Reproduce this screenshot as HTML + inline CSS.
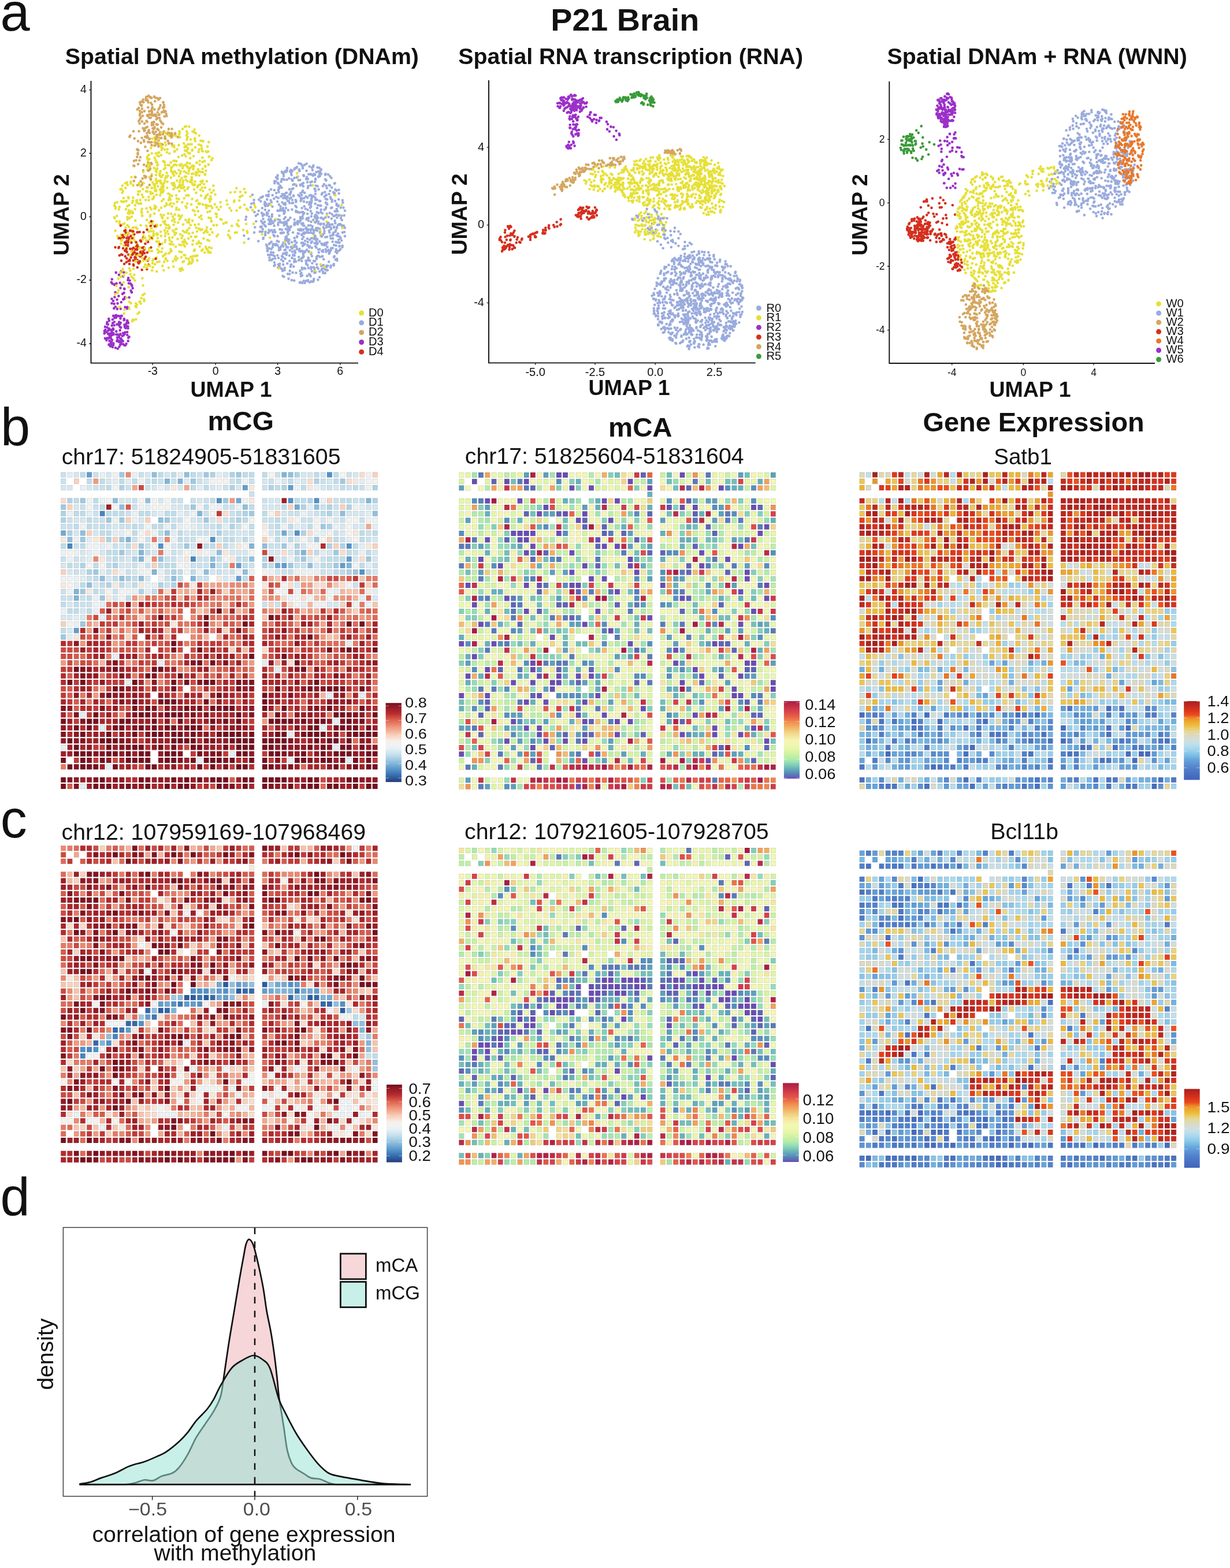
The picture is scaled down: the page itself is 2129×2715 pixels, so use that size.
<!DOCTYPE html>
<html><head><meta charset="utf-8"><title>P21 Brain</title><style>html,body{margin:0;padding:0;background:#fff;}body{width:2129px;height:2715px;overflow:hidden;}svg{display:block;}</style></head><body>
<svg width="2129" height="2715" viewBox="0 0 2129 2715" font-family="'Liberation Sans', Arial, Helvetica, sans-serif">
<rect width="100%" height="100%" fill="#fff"/>
<text x="0.5" y="52.7" font-size="92" text-anchor="start" fill="#111">a</text>
<text x="1.0" y="771" font-size="92" text-anchor="start" fill="#111">b</text>
<text x="0.8" y="1450" font-size="92" text-anchor="start" fill="#111">c</text>
<text x="0.4" y="2104" font-size="92" text-anchor="start" fill="#111">d</text>
<text transform="translate(1081.7 53) scale(1.022 1)" font-size="54.5" font-weight="bold" text-anchor="middle" fill="#111">P21 Brain</text>
<text x="418.9" y="111" font-size="39.3" font-weight="bold" text-anchor="middle" fill="#111">Spatial DNA methylation (DNAm)</text>
<text x="1091.7" y="111" font-size="39.3" font-weight="bold" text-anchor="middle" fill="#111">Spatial RNA transcription (RNA)</text>
<text x="1795.2" y="111" font-size="39.3" font-weight="bold" text-anchor="middle" fill="#111">Spatial DNAm + RNA (WNN)</text>
<text transform="translate(416.8 744.9) scale(1.045 1)" font-size="46" font-weight="bold" text-anchor="middle" fill="#111">mCG</text>
<text transform="translate(1108.3 756.3) scale(1.03 1)" font-size="46" font-weight="bold" text-anchor="middle" fill="#111">mCA</text>
<text transform="translate(1789.1 747.1) scale(1.02 1)" font-size="46" font-weight="bold" text-anchor="middle" fill="#111">Gene Expression</text>
<text x="348.1" y="803.6" font-size="39.3" text-anchor="middle" fill="#111">chr17: 51824905-51831605</text>
<text x="1046.2" y="803.4" font-size="39.3" text-anchor="middle" fill="#111">chr17: 51825604-51831604</text>
<text x="1770.6" y="803.8" font-size="38.5" text-anchor="middle" fill="#111">Satb1</text>
<text x="369.8" y="1453.5" font-size="39.3" text-anchor="middle" fill="#111">chr12: 107959169-107968469</text>
<text x="1067.4" y="1452.6" font-size="39.3" text-anchor="middle" fill="#111">chr12: 107921605-107928705</text>
<text x="1773.1" y="1453" font-size="39.5" text-anchor="middle" fill="#111">Bcl11b</text>
<g transform="translate(105.20,817.40) scale(0.28100)">
<path stroke="#4685bf" stroke-width="32" fill="none" d="M240 256h32M40 456h32M800 536h32"/>
<path stroke="#5291c7" stroke-width="32" fill="none" d="M1640 16h32M960 176h32m408 0h32m128 0h32M1440 376h32M920 416h32M600 456h32m1128 0h32M1840 616h32"/>
<path stroke="#629dcd" stroke-width="32" fill="none" d="M160 16h32M1120 96h32m248 0h32M1760 536h32M1080 576h32m248 0h32m328 0h32M1080 656h32M80 976h32"/>
<path stroke="#71a9d2" stroke-width="32" fill="none" d="M1080 176h32M1440 216h32M0 376h32m1328 0h32M1320 576h32"/>
<path stroke="#80b5d8" stroke-width="32" fill="none" d="M1360 16h32M640 56h32m48 0h32M1880 176h32M840 256h32M400 416h32M1160 456h32M480 496h32m968 0h32M480 536h32M920 576h32m808 0h32M560 616h32M800 656h32M80 736h32M80 776h32"/>
<path stroke="#90bfdd" stroke-width="32" fill="none" d="M560 16h32m168 0h32m608 0h32M320 176h32m168 0h32M360 216h32m728 0h32m408 0h32M1720 256h32m168 0h32M600 296h32M120 376h32m488 0h32M40 416h32M1240 456h32M960 496h32M600 536h32m288 0h32m208 0h32M1520 576h32M880 616h32m208 0h32M240 656h32m88 0h32m88 0h32m168 0h32M160 696h32"/>
<path stroke="#9fc9e1" stroke-width="32" fill="none" d="M360 16h32m488 0h32m168 0h32M800 56h32m888 0h32M120 176h32m848 0h32M0 216h32m768 0h32M1160 256h32M280 296h32m48 0h32m248 0h32m208 0h32M1600 336h32M120 416h32m208 0h32m1168 0h32M480 456h32m248 0h32m568 0h32M360 496h32m1288 0h32M1480 536h32m368 0h32M1400 576h32m248 0h32M200 616h32m1568 0h32M120 736h32M240 776h32M120 936h32M0 1016h32"/>
<path stroke="#afd3e6" stroke-width="32" fill="none" d="M920 16h32m88 0h32m368 0h32M1560 56h32M360 96h32m648 0h32m208 0h32m48 0h32m528 0h32M40 176h32m1448 0h32m368 0h32M1480 216h32m128 0h32m88 0h32M0 256h32m1088 0h32m488 0h32M0 296h32m1048 0h32M1040 336h32m568 0h32M40 376h32m888 0h32m488 0h32M280 416h32M1440 456h32m168 0h32m48 0h32M1440 496h32M440 536h32m768 0h32M120 576h32m168 0h32m888 0h32M160 616h32m488 0h32m1048 0h32M400 656h32M280 696h32m288 0h32m48 0h32M480 736h32"/>
<path stroke="#beddea" stroke-width="32" fill="none" d="M120 16h32m448 0h32m48 0h32m88 0h32m288 0h72m48 0h32m288 0h32m88 0h32M160 56h32m48 0h32m88 0h32m48 0h32m88 0h32m488 0h32m288 0h32m248 0h32M280 96h32m488 0h32m48 0h32m408 0h32m128 0h32m208 0h32m48 0h32M80 176h32m88 0h32m688 0h32m488 0h72m208 0h72m48 0h32M240 216h32m608 0h32m248 0h32m168 0h32M80 256h72m128 0h112m88 0h72m88 0h72m368 0h32m128 0h32m328 0h32M160 296h32m848 0h32m48 0h32m168 0h32M80 336h32m48 0h32m48 0h32m168 0h32m88 0h72m48 0h32m248 0h32m168 0h32m128 0h32m48 0h32m88 0h32M240 376h72m128 0h32m128 0h32m88 0h32m568 0h32m488 0h32m48 0h32M720 416h32m248 0h72m48 0h32m168 0h32m48 0h32m248 0h32m128 0h32M0 456h32m88 0h32m248 0h32m448 0h72m48 0h32m768 0h32M280 496h72m168 0h32m1008 0h32m168 0h32m88 0h32M320 536h32m608 0h32m88 0h72m288 0h32m168 0h112M40 576h32m128 0h32m48 0h32m288 0h112m288 0h32m88 0h32m128 0h32m288 0h72m168 0h32M720 616h32m48 0h32m848 0h72m128 0h32M200 656h32m88 0h32m88 0h32m248 0h32m368 0h32M120 696h32m88 0h32m88 0h32m48 0h32M200 736h32m328 0h32M160 776h32m208 0h32M0 816h32m48 0h32M40 856h72m48 0h32M0 976h32"/>
<path stroke="#cae2ee" stroke-width="32" fill="none" d="M0 16h32m168 0h32m248 0h32m328 0h32m448 0h32m408 0h32M0 56h32m488 0h32m48 0h32m48 0h32m128 0h32m168 0h32m88 0h32m88 0h32m288 0h32M200 96h72m128 0h32m88 0h32m448 0h32m208 0h32m368 0h32m88 0h32m48 0h32M1160 136h32M440 176h32m208 0h72m48 0h32m48 0h32m328 0h32m408 0h32m88 0h32M120 216h32m48 0h32m208 0h32m288 0h32m208 0h72m528 0h32m48 0h32M200 256h32m168 0h32m448 0h32m128 0h32m328 0h72m88 0h32M40 296h32m128 0h72m408 0h72m88 0h32m128 0h32m208 0h72m48 0h32m88 0h72m168 0h32m88 0h32M0 336h72m128 0h32m48 0h32m48 0h72m48 0h32m368 0h72m128 0h32m168 0h32M800 376h112m88 0h72m88 0h32m208 0h32m248 0h32m168 0h32M440 416h32m48 0h32m48 0h32m128 0h72m888 0h32m128 0h32M80 456h32m208 0h32m168 0h32m168 0h32m528 0h72M400 496h32m248 0h32m1088 0h32M0 536h32m48 0h32m168 0h32m48 0h32m248 0h72m128 0h72m448 0h32m208 0h32M80 576h32m328 0h32m48 0h32m248 0h112m48 0h32m168 0h32m248 0h72m408 0h32M80 616h32m168 0h32m88 0h32m208 0h32m288 0h32m48 0h32m288 0h72m168 0h32M160 656h32m448 0h32m168 0h72M640 696h32m1128 0h32M0 736h32m208 0h32m48 0h32M0 776h72m48 0h32M120 816h72m1048 0h32m48 0h32"/>
<path stroke="#d5e8f1" stroke-width="32" fill="none" d="M80 16h32m168 0h32m208 0h32m88 0h32m328 0h32m448 0h72m48 0h32m168 0h32M280 56h32m568 0h32m328 0h32m88 0h32m88 0h32m128 0h32M0 96h72m88 0h32m368 0h32m48 0h32m48 0h32m168 0h32m128 0h32m488 0h32m48 0h32M360 176h72m168 0h32m208 0h32m408 0h72M80 216h32m568 0h72m488 0h112m528 0h72M560 256h32m168 0h32m568 0h32m128 0h32m128 0h32m48 0h112M80 296h72m328 0h32m288 0h32m88 0h32m648 0h32m48 0h32M320 336h32m488 0h32m608 0h32m208 0h32m48 0h72M80 376h32m88 0h32m528 0h32m128 0h32m128 0h72m128 0h32m408 0h32M960 416h32m88 0h32m48 0h32m248 0h32m48 0h32m368 0h32M360 456h32m288 0h32m88 0h32m208 0h32m408 0h32M120 496h32m88 0h32m168 0h32m88 0h32m128 0h32m288 0h112m128 0h72m48 0h32m208 0h32m248 0h32M120 536h32m248 0h32m888 0h32m168 0h32m248 0h32m88 0h32M0 576h32m328 0h72m1128 0h32M40 616h32m48 0h32m288 0h32m448 0h32m48 0h32m288 0h32m288 0h32m248 0h32M280 656h32m208 0h32m448 0h32M200 696h32m168 0h32m1008 0h32M320 776h32m1568 0h32M40 816h32m1568 0h72M120 856h32M0 896h72m48 0h32M40 976h32"/>
<path stroke="#e1eef4" stroke-width="32" fill="none" d="M40 16h32m648 0h32m208 0h32M320 56h32m48 0h32m328 0h32m648 0h32m368 0h32M840 96h32m88 0h32M520 216h32m968 0h32m288 0h32M160 256h32m408 0h32m88 0h32m1128 0h32M720 336h32m48 0h32m168 0h32m408 0h32m448 0h32M320 376h72m288 0h32m888 0h32M160 416h32m1168 0h32m368 0h32M240 456h32m1568 0h32M160 496h32m608 0h32m88 0h32m648 0h32M160 536h32m528 0h32M1880 576h32M240 616h32M120 656h32m888 0h32M80 696h32M520 736h32m1128 0h32m208 0h32M1840 776h32M240 816h32m1208 0h32M80 896h32m128 0h32M40 1016h32M1760 1056h32M320 1136h32M600 1176h32m608 0h32M1320 1216h32M400 1296h32M1640 1376h32m168 0h32M120 1496h32M1680 1536h32M240 1576h32m1328 0h32M1400 1616h32M0 1696h32m1648 0h32M1040 1736h32M840 1776h32m528 0h32m328 0h32M280 1816h32M120 1936h32"/>
<path stroke="#e9f1f4" stroke-width="32" fill="none" d="M240 16h32m168 0h32M120 96h32m448 0h32m808 0h32m88 0h32M240 176h32m1328 0h32M960 216h32m88 0h32M40 256h32m368 0h32m1008 0h32M320 296h32m88 0h32M640 336h32m688 0h32m288 0h32M80 416h32m568 0h32m168 0h32M0 496h32m48 0h32m528 0h32m1168 0h32M40 536h32M480 576h32m248 0h32M600 616h32m528 0h32m288 0h32m48 0h32M80 656h32M520 696h72M440 736h32m968 0h32M200 776h32m1168 0h32M1880 816h32M0 856h32m168 0h32M80 936h32"/>
<path stroke="#eef2f3" stroke-width="32" fill="none" d="M320 16h32m1528 0h32M480 56h32m608 0h32m168 0h32M1880 96h32M160 176h32m368 0h32m528 0h32M480 216h32m1288 0h32M800 256h32M1160 296h32m448 0h32m208 0h72M120 336h32m368 0h32m208 0h32M560 376h32m968 0h32m48 0h32M160 456h72m48 0h32m248 0h32m808 0h32M200 496h32m648 0h32M520 536h32m848 0h32M360 616h32m88 0h32m328 0h32m408 0h32m128 0h32m48 0h32M0 656h72m528 0h32M40 736h32m328 0h32m928 0h32m248 0h32M1520 776h32M200 816h32m1328 0h72m168 0h32"/>
<path stroke="#f3f3f1" stroke-width="32" fill="none" d="M920 56h32m928 0h72M320 96h32M280 176h32m168 0h32m128 0h32M160 216h32m128 0h32m208 0h112m168 0h32m48 0h32M920 256h32m328 0h32M1560 296h32m168 0h72M1120 336h32m408 0h32m168 0h32M480 376h32M480 416h32m328 0h32m408 0h32m488 0h32M640 456h32m448 0h32m368 0h72M40 496h32m1088 0h32M1000 536h32m528 0h32M1800 576h32M520 616h32m208 0h32m288 0h32m128 0h32M40 696h32m1288 0h32m368 0h32M280 736h32m48 0h32m928 0h32M360 776h32m1048 0h32m168 0h32M1440 816h32M40 936h32"/>
<path stroke="#f7f3ee" stroke-width="32" fill="none" d="M1280 16h32m408 0h32M960 56h72M760 296h32m648 0h32M400 376h32m808 0h32m488 0h32M1480 416h32m88 0h32M760 496h32M160 576h32m48 0h32m448 0h32"/>
<path stroke="#f7e8dd" stroke-width="32" fill="none" d="M1800 56h32M680 96h32m448 0h32m328 0h32M1160 176h32M1400 296h32M1240 336h32M1800 376h32M0 416h32m168 0h32M1080 456h32m768 0h32M840 496h32m128 0h32M240 536h32m488 0h32m248 0h32M960 656h32M0 696h32m288 0h32m128 0h32m288 0h32m408 0h32M160 736h32m1688 0h32M280 776h32M680 936h32M80 1016h32"/>
<path stroke="#f8ddcd" stroke-width="32" fill="none" d="M1840 16h32M1520 56h32m208 0h32M0 176h32M1000 256h32M960 296h32M520 376h32m968 0h32M440 456h32M1360 496h32m328 0h32M1840 536h32M320 616h32M1400 696h32m128 0h72m88 0h32M640 736h32M1360 776h32m88 0h32M1400 816h32M1240 1096h32M1400 1176h32"/>
<path stroke="#f8d1bc" stroke-width="32" fill="none" d="M1920 16h32M80 56h32M1640 176h32M40 216h32m1328 0h32m288 0h32M1320 256h32M400 296h32m88 0h32M160 376h32M240 416h32m48 0h32m888 0h32m368 0h32M960 456h32m688 0h32m208 0h32M1520 496h32M560 576h32M0 616h32M1880 696h32M1000 736h32M1280 816h32m408 0h32M1800 856h32M480 896h32M0 936h32M1000 976h32M400 1016h32M1040 1096h32"/>
<path stroke="#f7c4ac" stroke-width="32" fill="none" d="M1320 656h32m128 0h72m288 0h32M1680 696h32M800 736h32m728 0h32m168 0h72M480 776h32M1000 816h32m888 0h32M840 856h32M1240 896h32M1640 1016h32"/>
<path stroke="#f4b69d" stroke-width="32" fill="none" d="M720 736h32m488 0h32m448 0h32M720 776h32m368 0h32m408 0h32m208 0h32M1520 816h32M1080 856h32m368 0h32m48 0h32M200 936h32M320 976h32m288 0h32M880 1016h32m768 0h32M1120 1096h32M240 1176h32M880 1376h32m688 0h32"/>
<path stroke="#f2a78e" stroke-width="32" fill="none" d="M440 96h32m288 0h32M1880 336h32M1280 656h32M920 696h32m48 0h32m128 0h32M760 736h32m288 0h72M1240 776h32m328 0h32M440 816h32M320 856h32m168 0h32m328 0h32m408 0h32m408 0h32M1440 896h32M960 936h32m608 0h32M400 976h32m328 0h32M640 1016h32m288 0h32M720 1136h32M1320 1176h32"/>
<path stroke="#f0997f" stroke-width="32" fill="none" d="M200 56h32M1040 176h32M1400 656h32m168 0h32M880 696h32m48 0h32m488 0h72M440 776h32m328 0h32m488 0h32m368 0h32M1160 816h32M440 856h32m168 0h72m288 0h32m88 0h32m128 0h32m208 0h32m88 0h32M1840 896h32M160 936h32m1248 0h32m208 0h32M160 976h32m608 0h32m328 0h32m368 0h32M1600 1016h32M120 1056h32m168 0h32M1600 1136h32M0 1176h32m368 0h32m728 0h32M240 1336h32M200 1376h32M1280 1496h32M1240 1536h32"/>
<path stroke="#ea8971" stroke-width="32" fill="none" d="M400 16h32M640 416h32M200 536h32m328 0h32M1040 696h72m528 0h32M1520 736h32M600 776h32m328 0h32m288 0h32m368 0h32m48 0h32M880 816h32M560 856h32M800 896h32m888 0h32m128 0h32M360 936h32m528 0h32M1840 976h32M240 1016h32m528 0h32M360 1056h32M1440 1096h32M1920 1136h32M720 1216h72m128 0h32m568 0h32m168 0h32M840 1256h32m128 0h32m128 0h32M520 1296h32m48 0h32M1920 1336h32M1760 1376h32M360 1496h32M1920 1656h32"/>
<path stroke="#e57a64" stroke-width="32" fill="none" d="M560 416h32M600 496h32M1040 576h32M1560 656h32m128 0h32m128 0h72M760 696h32m328 0h32M880 736h32m48 0h32m48 0h32m88 0h32M560 776h32m328 0h32m48 0h72M920 816h32m408 0h32m448 0h32M1240 856h32M160 896h32m128 0h32m48 0h72m48 0h32m168 0h32m208 0h32m768 0h32M760 936h32m288 0h32m168 0h32m568 0h32M240 976h32m168 0h32m448 0h32m528 0h32m168 0h32M320 1016h32m488 0h32M480 1056h32m248 0h32m288 0h32m608 0h32m48 0h32M320 1096h32m128 0h32M280 1136h32m168 0h32m168 0h32m528 0h32m368 0h32M80 1176h32m328 0h32m208 0h32m408 0h32M1160 1216h32m448 0h32M240 1256h32m168 0h32m608 0h32m248 0h32m408 0h32M840 1336h32M120 1376h32m568 0h32M160 1416h32M1400 1496h32m208 0h32M0 1816h32"/>
<path stroke="#e06a57" stroke-width="32" fill="none" d="M1440 656h32M1920 696h32M600 736h32m848 0h32m88 0h32m208 0h32M520 776h32m528 0h32m48 0h32m688 0h32M280 816h32m48 0h32m448 0h32m88 0h32m48 0h32M360 856h32m408 0h32m608 0h32m368 0h32m48 0h32M920 896h32m88 0h32m728 0h32m88 0h32M400 936h32m288 0h32m488 0h32m448 0h32m48 0h32M360 976h32m448 0h32m728 0h32m128 0h32M560 1016h32m448 0h32m328 0h32m488 0h32M800 1056h32m168 0h32m328 0h32m128 0h32m48 0h112M120 1136h32m928 0h32m448 0h32m128 0h32m128 0h32M200 1176h32m408 0h32m208 0h32m848 0h32M520 1216h32m528 0h32M600 1256h32m288 0h32m568 0h32m368 0h32M1920 1296h32M200 1336h32M280 1416h32m608 0h32m528 0h32M1320 1456h32m448 0h32M680 1536h32M880 1576h32M1800 1656h32M1480 1816h32M1600 1936h32"/>
<path stroke="#d75a4b" stroke-width="32" fill="none" d="M400 216h32M1160 656h32m568 0h32M1320 696h32M1280 736h32M640 776h32M640 816h32m448 0h32M240 856h32m208 0h32m88 0h32m88 0h32m968 0h32m128 0h32M280 896h32m328 0h32m328 0h32m488 0h32m48 0h32m48 0h32M520 936h32m48 0h32m168 0h32m208 0h32m328 0h32m128 0h32M1520 976h32M160 1016h32m168 0h32m48 0h32m608 0h32m728 0h32M520 1056h32m48 0h32m408 0h32m248 0h32m48 0h32m448 0h32M400 1096h32m208 0h32m888 0h32m88 0h32M80 1136h32m688 0h32M720 1176h32m808 0h72M960 1216h72m88 0h32m128 0h32M40 1256h32m1208 0h32M640 1296h32m808 0h32m248 0h32M40 1336h32m448 0h32m248 0h32m88 0h32m328 0h32M40 1376h32m1808 0h32M80 1416h32m728 0h32m208 0h32m728 0h32m48 0h32M80 1456h32m488 0h32m848 0h32m248 0h32M40 1496h32M1280 1576h32M1040 1896h32M40 1936h32"/>
<path stroke="#cc4a41" stroke-width="32" fill="none" d="M480 96h32M1240 496h32M1240 656h32m368 0h72M720 696h32m528 0h32M1400 736h32M760 776h32M320 816h32m248 0h32m168 0h32M400 856h32M200 896h32m328 0h32m248 0h32m208 0h32m248 0h32m168 0h32M280 936h32m128 0h32m168 0h32m328 0h32M680 976h32m328 0h32m48 0h32m88 0h32m48 0h32m48 0h32m448 0h32M120 1016h32m1088 0h32m288 0h32m208 0h32M640 1056h32m208 0h32M0 1096h112m248 0h32m48 0h32m248 0h32m48 0h32m48 0h32m48 0h32m288 0h32m288 0h32M0 1136h72m568 0h32m248 0h32m328 0h32m368 0h32m48 0h32M40 1176h32m48 0h72m328 0h32m488 0h32m408 0h32m288 0h32M480 1216h32m288 0h32m528 0h32m488 0h32M1440 1256h32m168 0h32m168 0h32M720 1296h32m48 0h32m128 0h32m408 0h32m168 0h32m208 0h32M0 1336h32m568 0h32m88 0h32m608 0h32m408 0h32M560 1416h32m968 0h32M360 1456h72M320 1496h32M1720 1616h32M760 1696h32M320 1776h32M480 1816h32M1600 1896h32M920 1936h32"/>
<path stroke="#c13937" stroke-width="32" fill="none" d="M960 256h32M1800 656h32M840 696h32m968 0h32M680 736h32M680 776h32m168 0h32M560 816h32m128 0h72m968 0h32M920 856h32m208 0h32m208 0h32m168 0h32M680 896h32m448 0h32m288 0h32M240 936h32m48 0h32m208 0h32m248 0h32m448 0h72M280 976h32m208 0h32m168 0h32m688 0h32m248 0h32M200 1016h32m1048 0h32m408 0h32M40 1056h32m208 0h32m88 0h72m88 0h32m128 0h32m168 0h72m288 0h32m168 0h32m48 0h32M160 1096h32m88 0h32m288 0h32m448 0h32m48 0h32m168 0h72m48 0h72m288 0h32M160 1136h32m328 0h32m288 0h32m248 0h32m248 0h32m88 0h32M360 1176h32m88 0h32m48 0h32m368 0h32m728 0h32M0 1216h72m1528 0h32m48 0h32m208 0h32M280 1256h72m128 0h32m128 0h72m48 0h32m88 0h32m48 0h32m488 0h32m248 0h32M80 1296h32m88 0h32m48 0h112m648 0h32m568 0h32m48 0h32M280 1336h32m328 0h32m288 0h32m48 0h32m168 0h32M0 1376h32m648 0h32m368 0h32m48 0h32m328 0h32M40 1416h32m168 0h32m728 0h32m128 0h32m168 0h32m48 0h32m128 0h32M200 1456h32m648 0h32m488 0h32M160 1496h32m48 0h32m1608 0h32M80 1536h32m488 0h32m128 0h32m368 0h32m688 0h32M960 1576h32m408 0h32m48 0h32m128 0h32m168 0h32M320 1616h32m128 0h32M480 1656h32M200 1696h72m1528 0h32M800 1736h32m168 0h32m208 0h32m248 0h32M80 1776h32m88 0h32m1048 0h32m48 0h32m528 0h32M440 1816h32m328 0h32m48 0h32m128 0h32m528 0h32m88 0h32M840 1936h32m568 0h32m368 0h32"/>
<path stroke="#b52a2e" stroke-width="32" fill="none" d="M1600 456h32M1360 656h32M840 776h32M520 816h32m128 0h32m368 0h32M1680 856h32M360 896h32m728 0h32M120 976h32m808 0h32m808 0h32M600 1016h32m48 0h32m288 0h32m128 0h32m168 0h32m48 0h32M0 1056h32m208 0h32m568 0h32m248 0h72M240 1096h32m728 0h32m288 0h32m528 0h32M560 1136h32m168 0h32m208 0h32m288 0h32M1520 1176h32m88 0h32m168 0h32M400 1216h72m568 0h32m168 0h32m528 0h72M0 1256h32m1088 0h32m448 0h32M0 1296h32m128 0h32m1488 0h32m88 0h32M80 1336h32m768 0h32m528 0h32m288 0h32M800 1376h32m528 0h32m48 0h72m408 0h32M760 1416h32m1008 0h32m48 0h32M120 1456h72m88 0h32m168 0h32m568 0h32m808 0h32M920 1496h32m168 0h32m208 0h32M280 1536h32m528 0h32m248 0h32M120 1576h32m128 0h32m848 0h32M40 1616h32m848 0h32M840 1656h32m608 0h32m208 0h32M520 1696h32m88 0h32m48 0h32m288 0h32M1080 1776h32m728 0h32M600 1816h32m88 0h32m208 0h32m168 0h32M400 1896h72m1168 0h32M880 1936h32m168 0h32"/>
<path stroke="#a9242b" stroke-width="32" fill="none" d="M840 736h32M1040 856h32M1160 936h32m328 0h32m88 0h32m248 0h32M560 976h72m648 0h32m608 0h32M1480 1016h32M160 1056h72m1008 0h32m648 0h32M200 1096h32m288 0h32M200 1136h32m168 0h32m168 0h32m848 0h32m328 0h32M280 1176h32m448 0h32M200 1216h32m408 0h32m168 0h32m528 0h32M80 1256h32m288 0h32m368 0h32m208 0h32m328 0h32m128 0h32m128 0h32M480 1296h32m488 0h32m208 0h112m168 0h32m328 0h32M160 1336h32m288 0h32m488 0h32m848 0h32M160 1376h32m208 0h32m48 0h72m88 0h32m168 0h32m168 0h32m728 0h32M0 1416h32m88 0h32m48 0h32m88 0h32m48 0h32m88 0h32m248 0h32m208 0h32m48 0h32m248 0h32m88 0h32M1440 1456h32m128 0h32m48 0h32m168 0h32M0 1496h32m368 0h32m408 0h32m88 0h112m168 0h32m288 0h72M240 1536h32m768 0h32m848 0h32M40 1576h32m128 0h32m168 0h32m808 0h32M160 1616h32m48 0h32m128 0h32m808 0h32m168 0h32m168 0h32M440 1656h32M120 1696h32m808 0h32M360 1776h32m728 0h32M360 1816h32m1128 0h72M280 1896h32m1368 0h72M560 1936h72m48 0h32m448 0h32"/>
<path stroke="#9d1f28" stroke-width="32" fill="none" d="M1360 176h32M280 216h32M920 736h32M480 816h32M280 856h32m1048 0h32M1320 896h32m48 0h32m208 0h32M480 936h32m968 0h32M480 976h32m368 0h32m728 0h32M520 1016h32m568 0h32m608 0h32m88 0h32M1840 1056h32M120 1096h32m768 0h32m848 0h32M240 1136h32m88 0h32m48 0h32m568 0h32m368 0h32m328 0h32M1080 1176h32m248 0h32m288 0h32m168 0h32M240 1216h72m48 0h32m288 0h32m168 0h32m848 0h32M1240 1256h32m48 0h32m528 0h32M1360 1296h32M120 1336h32m248 0h72m88 0h32m528 0h32m248 0h32M920 1376h32m48 0h32m248 0h72m208 0h32m88 0h32M480 1416h32m208 0h32m208 0h32m288 0h32m408 0h32M680 1456h72m368 0h32m128 0h32m408 0h32M280 1496h32m248 0h32m168 0h32m688 0h32M40 1536h32m248 0h32m88 0h112m328 0h32m48 0h32m448 0h32m48 0h32M600 1576h32m88 0h32m248 0h32m288 0h72m528 0h32M200 1616h32m408 0h32m88 0h32m328 0h32m128 0h32M160 1656h72m288 0h32m48 0h72m288 0h32m448 0h32m48 0h32m48 0h32M40 1696h32m248 0h32m528 0h72m608 0h32M0 1736h72m368 0h32m1168 0h32M760 1776h32m768 0h32m88 0h32M240 1816h32m128 0h32m208 0h32m88 0h32m648 0h32m368 0h32M120 1896h32m408 0h32m48 0h32m128 0h32m48 0h32m168 0h32m288 0h32m48 0h32M160 1936h32m128 0h32m1008 0h32m328 0h72"/>
<path stroke="#911925" stroke-width="32" fill="none" d="M840 456h32M1280 536h32M400 816h32M1360 976h32M280 1016h32m1008 0h32M80 1056h32m1328 0h32M1720 1096h32M880 1136h32m48 0h32M1280 1176h32m608 0h32M160 1216h32m1248 0h32m88 0h32M160 1256h72M240 1296h32m288 0h32m528 0h32m288 0h32M1160 1336h32m288 0h32m48 0h32M80 1376h32m128 0h32m48 0h32m88 0h32m128 0h32m128 0h32m328 0h32m568 0h32M1320 1416h32m288 0h72m48 0h32M40 1456h32m248 0h32m288 0h32m128 0h32m328 0h32m328 0h32M600 1496h32m808 0h32m48 0h32m288 0h32M640 1536h32m968 0h32m128 0h32M0 1576h32m488 0h32m368 0h32m88 0h112M80 1616h32m248 0h32m448 0h72M0 1656h32m48 0h32m288 0h32m128 0h32m408 0h32m808 0h72M160 1696h32m368 0h32m728 0h32m48 0h112m368 0h72M360 1736h32m208 0h32m248 0h32m248 0h32m208 0h72m88 0h32m208 0h72M280 1776h32M680 1816h32m608 0h72m248 0h32m88 0h32M80 1896h32m48 0h32m168 0h32m208 0h32m88 0h32m688 0h32m368 0h112M440 1936h72m288 0h32m488 0h32"/>
<path stroke="#831422" stroke-width="32" fill="none" d="M880 936h32M200 976h32m848 0h32M680 1096h32M320 1176h32m448 0h32m168 0h32M120 1216h32M120 1256h32m208 0h32m168 0h32m1088 0h32M840 1296h32m288 0h32M360 1336h32m688 0h32m488 0h32m88 0h32M360 1376h32m1008 0h32M360 1416h32M0 1456h32m208 0h32m288 0h32m368 0h32m568 0h32M80 1496h32m328 0h32m328 0h32m48 0h32m248 0h32m568 0h72M120 1536h32m648 0h32m888 0h32M440 1576h32m968 0h32m288 0h32M0 1616h32m488 0h32m1128 0h32m48 0h32M120 1656h32m208 0h32m488 0h72m448 0h32M360 1696h72m1208 0h32M200 1736h72m448 0h32m168 0h72m368 0h32M160 1776h32m408 0h32m88 0h32m248 0h32m288 0h32m168 0h32M80 1816h32m888 0h32m368 0h32M40 1896h32m128 0h32m88 0h32m168 0h32m608 0h32m368 0h32M80 1936h32m128 0h32m88 0h32m608 0h72m208 0h32m168 0h32"/>
<path stroke="#74101f" stroke-width="32" fill="none" d="M960 856h32M600 896h32m248 0h32m368 0h32M1120 936h32m608 0h32m48 0h32M1520 1016h32M680 1056h32M840 1096h32m768 0h32m88 0h32m128 0h32M1160 1136h32m168 0h32M840 1176h32m48 0h32m488 0h32M80 1216h32m208 0h32m208 0h72m848 0h32M520 1256h32m168 0h32M40 1296h32m48 0h32m288 0h32m208 0h32m48 0h32m88 0h72m128 0h32m448 0h32M320 1336h32m328 0h32m608 0h32m168 0h32m88 0h72m128 0h32M280 1376h32m648 0h32m248 0h32M440 1416h32m128 0h112m168 0h32m328 0h32M440 1456h32m48 0h32m208 0h32m48 0h32m48 0h32m48 0h72m168 0h32m88 0h32m248 0h32m168 0h32M200 1496h32m248 0h72m88 0h112m328 0h32m208 0h32m328 0h72m168 0h32M0 1536h32m128 0h72m128 0h72m128 0h32m128 0h32m168 0h32m48 0h32m48 0h32m168 0h152m48 0h32m48 0h72m128 0h32m48 0h32M80 1576h32m48 0h32m128 0h72m88 0h32m48 0h32m48 0h72m48 0h112m648 0h72m88 0h72m48 0h32m48 0h32M120 1616h32m128 0h32m128 0h32m88 0h72m48 0h72m48 0h32m128 0h152m48 0h32m128 0h72m88 0h152m168 0h152M40 1656h32m168 0h112m328 0h152m208 0h152m48 0h152m168 0h32m48 0h72m48 0h32M80 1696h32m168 0h32m128 0h72m88 0h32m48 0h32m88 0h72m128 0h32m48 0h112m48 0h72m48 0h32m128 0h32m48 0h32m88 0h72m48 0h32M80 1736h112m88 0h72m48 0h32m48 0h72m88 0h72m128 0h32m208 0h72m128 0h72m128 0h32m88 0h32m48 0h112m88 0h72M0 1776h32m88 0h32m88 0h32m128 0h152m88 0h72m88 0h32m48 0h112m48 0h32m88 0h32m48 0h32m168 0h72m88 0h72m48 0h32m48 0h32m48 0h32M40 1816h32m48 0h112m88 0h32m168 0h72m248 0h32m48 0h32m128 0h72m88 0h72m368 0h32m88 0h32m48 0h72M0 1896h32m208 0h32m208 0h32m168 0h32m48 0h32m48 0h32m48 0h112m88 0h32m88 0h152m128 0h32m208 0h72M0 1936h32m168 0h32m48 0h32m88 0h32m88 0h32m88 0h32m48 0h72m168 0h32m128 0h32m88 0h32m128 0h32m88 0h72m48 0h72m88 0h32m48 0h72"/>
<pattern id="hp1" width="40" height="40" patternUnits="userSpaceOnUse"><path d="M32 0H40V40H32Z" fill="#fff"/><rect x="0.9" y="0.9" width="30.2" height="30.2" fill="none" stroke="#000" stroke-opacity="0.2" stroke-width="1.8"/></pattern>
<rect width="1960" height="1960" fill="url(#hp1)"/>
<path fill="#fff" d="M0 120h1160v40h-1160zM1240 120h720v40h-720zM0 1840h1960v40h-1960zM1200 0h40v1960h-40zM40 40h40v40h-40zM120 40h40v40h-40zM80 80h40v40h-40zM760 160h40v40h-40zM560 280h40v40h-40zM560 640h40v40h-40zM760 640h40v40h-40zM920 640h40v40h-40zM760 840h40v40h-40zM760 880h40v40h-40zM480 1000h40v40h-40zM720 1000h40v40h-40zM760 1000h40v40h-40zM920 1000h40v40h-40zM560 1080h40v40h-40zM760 1080h40v40h-40zM760 1320h40v40h-40zM560 1360h40v40h-40zM560 1720h40v40h-40zM760 1720h40v40h-40zM40 1760h40v40h-40zM560 1760h40v40h-40z"/>
</g>
<g transform="translate(794.30,817.90) scale(0.28100)">
<path stroke="#6a4db2" stroke-width="32" fill="none" d="M600 16h72m688 0h32M80 56h32m168 0h32m88 0h32m608 0h32M680 96h32m88 0h32m328 0h32m408 0h32M160 176h32m168 0h32m488 0h32m48 0h32M520 216h32m728 0h32m48 0h32m48 0h32m328 0h32M480 256h32m128 0h32m88 0h32M720 296h32m168 0h32M1880 336h32M320 376h152m128 0h32m1208 0h32M160 416h32m168 0h72m408 0h32M440 456h32m408 0h32m48 0h32m728 0h32M400 496h32m248 0h32m768 0h32M120 536h32m888 0h32m568 0h32M240 576h32m488 0h32m248 0h32m408 0h32M680 616h32m368 0h32m648 0h32M800 656h32m48 0h32m848 0h32M40 696h32m328 0h32m48 0h32m168 0h72m488 0h32m608 0h32M960 736h32m728 0h32M280 776h32m1048 0h32m488 0h32M80 816h32M400 856h32m408 0h32m928 0h32M1160 896h32M120 936h32m608 0h32m928 0h32M920 976h32M560 1016h32M0 1056h32m168 0h32m808 0h32m488 0h32M1320 1096h32M80 1136h32M440 1176h32m848 0h32m408 0h72M160 1216h32m248 0h32m968 0h32M40 1256h32m408 0h32m88 0h32m88 0h32m48 0h32m648 0h32m208 0h32M320 1296h32m88 0h32m88 0h72m728 0h32m528 0h32M560 1336h32m1088 0h32m208 0h32M0 1376h32m128 0h32m288 0h32m328 0h32m808 0h72M400 1416h32m88 0h32m208 0h32M1120 1456h32M720 1496h32m128 0h32m528 0h32M320 1536h32m408 0h32m168 0h32m48 0h32M400 1576h32m48 0h32m1048 0h32m208 0h32M480 1616h32m448 0h32m368 0h32m168 0h32m128 0h32M280 1656h32m208 0h32m88 0h32m88 0h32m1088 0h32M440 1696h32M0 1736h32M760 1776h32m728 0h32M720 1936h32"/>
<path stroke="#6064b4" stroke-width="32" fill="none" d="M1120 16h32M200 56h32M440 96h32m928 0h32M1400 176h32M1840 216h32M400 256h32m168 0h32m528 0h32m248 0h32M760 296h32M760 336h32m88 0h32m608 0h32M880 376h32m88 0h32m528 0h32M280 416h32m768 0h32M840 456h32m568 0h32M520 496h32m608 0h32m48 0h32M440 536h32M840 576h32m528 0h32M1400 616h32m208 0h32M480 736h32m208 0h32M1400 776h32M320 816h32m248 0h72m288 0h32m608 0h32M480 856h32m848 0h32M680 896h32M360 936h32M1600 1056h72M1080 1096h32m568 0h32M240 1216h32m328 0h32m168 0h32m928 0h72M1600 1256h32M720 1296h32m328 0h32m368 0h32M440 1376h32M160 1416h32m1568 0h32M160 1456h32M120 1496h32m1648 0h72M800 1536h32m528 0h32M120 1616h32m488 0h32m88 0h72m288 0h32M560 1696h32m1008 0h32m248 0h32M840 1736h32m688 0h32M440 1776h32m1328 0h32"/>
<path stroke="#5b7ab7" stroke-width="32" fill="none" d="M120 16h32m1368 0h32M360 56h32m1048 0h32M400 96h32M120 176h32M1640 256h32M1440 296h32m168 0h32m48 0h32M1840 336h32M920 376h32M80 416h32m1648 0h32M0 456h72M1000 496h32M600 536h32m208 0h32m688 0h32M0 576h32m1488 0h32m128 0h32M1360 616h32M120 656h32m288 0h32M520 696h32m1288 0h32M800 736h32m88 0h32m128 0h32m248 0h32M160 776h32m128 0h32M360 816h32m688 0h32M320 856h32m688 0h32M320 896h32m208 0h32m48 0h32M160 936h32m1048 0h32m88 0h32M200 976h32m648 0h32m1008 0h32M960 1016h32m408 0h32M280 1056h32M160 1096h32M680 1136h32m448 0h32M520 1176h32m48 0h72M360 1216h32M1160 1296h32M120 1336h32m48 0h32M1840 1376h32M360 1416h32m1448 0h32M720 1456h32m88 0h32M920 1536h32M80 1576h32M720 1656h32M240 1736h32m448 0h32M40 1816h32m168 0h32m208 0h32M1560 1896h32M120 1936h32"/>
<path stroke="#568fbc" stroke-width="32" fill="none" d="M600 56h32M1640 96h32m128 0h32M80 176h32m1168 0h32m488 0h32M1560 216h32M1080 256h32m568 0h32M280 296h32M520 336h32M0 376h32m608 0h32M1280 496h72m568 0h32M560 536h32M200 576h32m1648 0h32M1240 616h32M1080 656h32M640 696h32m848 0h32M1320 736h32M120 776h32m608 0h32m288 0h32m208 0h32M1240 816h32M1560 856h32M720 896h32m1168 0h32M880 936h32m648 0h32M320 976h32M1840 1016h32M40 1056h32m168 0h32m608 0h32m248 0h32M1280 1096h32m48 0h32M400 1176h32m328 0h32M80 1216h32m848 0h32m368 0h32m208 0h32M1080 1256h72m128 0h32m448 0h32M280 1336h32m1088 0h32M600 1376h32m48 0h72m1048 0h32M120 1416h32m1328 0h32m208 0h32M80 1456h32M280 1496h32m288 0h32m648 0h32M360 1536h32M320 1616h32m1048 0h32M440 1656h32M1760 1696h32M1600 1736h32M280 1936h32"/>
<path stroke="#5ea0ba" stroke-width="32" fill="none" d="M400 16h32m88 0h32m1168 0h32m168 0h32M1160 56h32M0 96h32M1520 176h72M160 216h32m568 0h32m808 0h32M520 256h72m1008 0h32M40 296h32m1168 0h32m288 0h32M1040 376h32M1680 416h32M120 456h32m208 0h32m648 0h32m88 0h32M440 496h32M1760 576h32M120 616h32m408 0h32m48 0h32M400 656h32m728 0h32m48 0h32m48 0h72M1680 696h32M360 776h32m208 0h32M1120 816h32m128 0h32M680 936h72m1088 0h32M360 976h32m1248 0h32m48 0h32M1280 1016h32M1320 1056h32m168 0h32M640 1096h32M960 1136h32m48 0h32M40 1176h32m488 0h32m208 0h32m528 0h32m528 0h32M480 1216h32M360 1256h32m448 0h32m568 0h32m328 0h32M680 1296h32m48 0h32m848 0h32M520 1336h32M640 1376h32m128 0h32M920 1416h32M1600 1456h32M320 1496h72M520 1536h32M0 1576h72m208 0h32m448 0h32M600 1616h32m88 0h32M360 1656h32m528 0h32M320 1696h32M360 1736h32m48 0h32m208 0h32m288 0h32m648 0h32M880 1776h32M40 1896h32M160 1936h32m128 0h32"/>
<path stroke="#66b1b9" stroke-width="32" fill="none" d="M720 56h32m1088 0h32M1680 96h72M1160 136h32M640 176h32m168 0h32m568 0h32M840 216h32m288 0h32M160 256h32m1288 0h32M360 296h32m1528 0h32M480 336h32m488 0h32m368 0h32M1240 376h32M1360 416h72M1360 456h32M160 496h32M40 536h32m1008 0h32m128 0h32M480 576h32m608 0h32M1320 696h32M200 736h72m1248 0h32M1600 776h32m88 0h32M1040 816h32M160 856h32M240 936h32m808 0h32m768 0h32M960 976h32m528 0h32m328 0h32M0 1016h32M160 1056h32m248 0h32m168 0h32m1088 0h32M1120 1096h32m688 0h32M40 1136h32m1528 0h32M640 1216h32m48 0h32m528 0h32M120 1256h32m488 0h32M40 1296h32m768 0h32M840 1336h32m408 0h72M1320 1376h32M440 1416h32m248 0h32M0 1456h32m1208 0h32m568 0h32M1320 1496h32M440 1536h32m208 0h32m568 0h32M1880 1576h32M1440 1616h72m288 0h32M920 1696h32M1120 1736h32m128 0h32m128 0h72m208 0h32M680 1776h32M80 1816h32"/>
<path stroke="#73c0b8" stroke-width="32" fill="none" d="M960 16h32m288 0h32m448 0h32M320 56h32m928 0h32m208 0h32m88 0h72M1320 96h32M440 256h32m808 0h32M640 296h32M1440 336h32M1440 416h32m48 0h72m128 0h32M320 456h32m1448 0h32M280 496h32m768 0h32M280 536h32m208 0h32m968 0h32M960 576h32m608 0h32M40 616h32M1040 736h32M440 776h32m1328 0h32M480 816h32m928 0h32M280 856h32m1128 0h32M440 896h32m608 0h32m368 0h32m88 0h72M1800 936h32M440 976h32m48 0h32m48 0h32m448 0h32m48 0h32M640 1016h32M360 1056h32m328 0h72m688 0h32M840 1096h32M1560 1216h32M400 1256h32M1080 1376h32m328 0h32M0 1416h32m1208 0h32M1720 1456h32M760 1496h32M1640 1536h32M320 1576h72m1048 0h32m288 0h32M240 1656h32m208 0h32m1408 0h32M80 1696h32M1040 1776h32m688 0h32M1320 1936h32m48 0h32"/>
<path stroke="#83d0b8" stroke-width="32" fill="none" d="M920 16h32M680 56h32M600 96h32m88 0h32m328 0h32M680 176h32m1008 0h32M120 216h32m328 0h32m808 0h32M1040 256h32m288 0h32m368 0h32m48 0h32M880 296h32m168 0h32M200 336h32m408 0h32M280 376h32m1048 0h32M1120 416h32M80 456h32m48 0h32m928 0h32m408 0h32M840 496h32M240 536h32m448 0h32m408 0h32m168 0h32M400 616h32m408 0h32m288 0h32m608 0h32M1840 656h32M760 696h32m808 0h32M1240 736h32m528 0h32M40 776h32m408 0h32M0 856h32m488 0h32m1128 0h32M40 896h72m688 0h32M800 936h32m488 0h32M640 976h32m1168 0h32M1480 1016h32m288 0h32M1880 1056h32M120 1096h32m888 0h32M120 1136h32m408 0h32m1248 0h32M0 1176h32M1320 1216h32m48 0h32M200 1296h32M720 1336h32M760 1376h32m1128 0h32M1160 1456h32m208 0h32M400 1536h32m1088 0h32m328 0h32M360 1616h32m688 0h32M1360 1736h32M160 1776h32m648 0h32m528 0h32M1120 1896h32"/>
<path stroke="#93ddb7" stroke-width="32" fill="none" d="M1320 56h32M800 176h32m808 0h32M1000 296h32m848 0h32M120 336h32m1008 0h32m168 0h32m328 0h32M1520 376h32M240 416h32M240 456h72m408 0h32m728 0h32M360 496h32M680 576h32m168 0h32M1560 656h32M320 696h32M120 736h32m448 0h32M920 776h32M80 856h32m248 0h32m1368 0h32M520 936h32M880 1016h32M320 1056h32M800 1096h32M480 1136h72m48 0h32m368 0h32M1360 1256h32M80 1296h32M80 1336h32m128 0h32m168 0h32m528 0h32M1000 1376h32m448 0h32M1440 1416h32M1720 1536h32M1640 1576h32M400 1616h32m568 0h32m608 0h32M200 1656h32m368 0h32m248 0h32M400 1696h32m888 0h32M40 1736h32M280 1816h32M280 1896h32"/>
<path stroke="#a2e4b1" stroke-width="32" fill="none" d="M80 16h32m448 0h32M840 56h32M720 176h32m288 0h32M440 216h32m208 0h32M840 256h32M160 296h32M560 336h32m368 0h32M320 416h32m688 0h32m528 0h32M1520 456h32M1760 496h32M200 536h32m888 0h32M800 576h32m328 0h32m368 0h32M440 616h32M160 656h32m88 0h32m1168 0h32m408 0h32M1440 696h32M1480 736h32m328 0h32M560 776h32m888 0h32m128 0h32M160 816h32m1128 0h32M680 856h32M520 896h32m1248 0h32M280 936h32m688 0h32M560 976h32M1560 1016h32M1120 1056h32M480 1096h32m1408 0h32M360 1136h32m1248 0h32M680 1176h32M400 1216h32M920 1256h32M640 1296h32m1168 0h32M320 1376h32m1008 0h32m128 0h32M280 1456h32m328 0h32m248 0h32m528 0h32M1680 1496h32M1080 1536h32M560 1576h32M440 1616h32M40 1656h32M240 1696h32M1840 1736h32M320 1776h32M520 1816h32m808 0h32M1280 1896h32M360 1936h32"/>
<path stroke="#b2ebab" stroke-width="32" fill="none" d="M800 16h32M160 96h32m288 0h32M520 176h32m448 0h32M400 216h32M80 256h72m1248 0h32M120 296h32m1528 0h32M1080 336h32m448 0h32M1600 376h32M560 416h32m48 0h32M1240 456h32M0 496h32m928 0h32M80 536h32m1728 0h32M80 576h32M0 616h32m488 0h32m328 0h32m808 0h32m128 0h32M680 656h32m248 0h32M880 736h32m528 0h32M240 776h32m1288 0h32M800 816h32m88 0h32M40 856h32m568 0h32m248 0h32m168 0h32M880 896h32m328 0h32M1480 936h32M960 1056h32M1360 1136h32m48 0h32M80 1176h32m808 0h32M1640 1216h32M1520 1296h32M40 1336h32M280 1376h32m608 0h32M40 1416h32M40 1456h32m48 0h32m1648 0h32M0 1536h32m1648 0h32M1000 1576h32m48 0h32M1840 1616h32M400 1656h32M40 1696h32m1008 0h32M280 1736h32M640 1776h32M600 1816h32M1720 1936h32"/>
<path stroke="#beeea6" stroke-width="32" fill="none" d="M280 16h32M1120 56h32M920 256h32M320 296h32M1600 336h32M120 376h32M1400 456h32m488 0h32M600 496h32m88 0h32m128 0h32m888 0h32M640 576h32m48 0h32m568 0h32M80 616h32M40 656h72M1920 696h32M1440 776h32M840 816h32M120 896h32m888 0h32M480 936h32M1320 976h32m208 0h72M360 1016h32M400 1056h32m568 0h32M80 1096h32M0 1136h32m1448 0h32m48 0h32M160 1176h32M1400 1256h32M1280 1296h32M960 1336h32m88 0h32m688 0h32M280 1416h32m728 0h32M40 1496h32m368 0h72m888 0h32M480 1536h32m608 0h32M640 1576h32m808 0h32m168 0h32M1280 1616h32M1240 1656h32m568 0h32M1440 1696h32m448 0h32M920 1736h32m288 0h32M400 1816h32"/>
<path stroke="#caf1a2" stroke-width="32" fill="none" d="M1240 16h32m128 0h32m208 0h32M1760 96h32M400 176h32m1048 0h32M1720 216h32M0 296h32m408 0h32M320 336h32M200 376h32m1208 0h32M520 416h32M480 456h32M240 496h32m368 0h32M1880 536h32M600 576h32M360 616h32m408 0h32m848 0h32M720 656h32m248 0h32m688 0h32M840 696h32M1920 736h32M200 776h32m408 0h32m848 0h32M560 816h32m568 0h32M120 976h32m568 0h32m88 0h32m168 0h32M1240 1016h32M920 1056h32M320 1096h32m1408 0h32M200 1176h32m1008 0h32M840 1216h32M1160 1256h32M120 1296h32m648 0h32M800 1336h32m1008 0h32M1040 1376h32m568 0h32M80 1416h32m208 0h32m488 0h72m248 0h32m88 0h32M440 1456h32M1080 1496h32M160 1536h32M240 1576h32M1040 1616h32M0 1656h32m288 0h32m608 0h32m528 0h32M960 1736h32M0 1776h32m768 0h32m1048 0h32M160 1896h32"/>
<path stroke="#d5f3a2" stroke-width="32" fill="none" d="M320 16h32M0 56h32m1048 0h32m248 0h32M840 96h32M600 216h32m288 0h32m808 0h32M720 256h32m1128 0h32M240 296h32m1568 0h32M160 336h32m728 0h32M760 376h32m928 0h32m128 0h32M1840 416h32m48 0h32M1280 456h32M1400 496h32M760 536h32M160 576h32m328 0h32M280 616h32m1528 0h32M160 696h72m1328 0h32M0 776h32M1160 856h32m208 0h32M400 896h32M400 936h32M1480 976h32m288 0h32M1040 1016h32M240 1096h32M400 1136h32m888 0h32M1120 1176h32M40 1216h32m1768 0h32M920 1296h32m48 0h32m848 0h32M1640 1336h32m48 0h32M240 1416h32M120 1536h32m408 0h32m288 0h32m648 0h32M520 1576h32M200 1616h32M1280 1656h32m128 0h32M640 1696h32m688 0h32M1040 1736h72m408 0h32M520 1776h32m1288 0h32"/>
<path stroke="#def5a5" stroke-width="32" fill="none" d="M1880 16h32M160 56h32m328 0h32m248 0h32m88 0h32M880 96h32m48 0h32m928 0h32M600 176h32M0 216h32m328 0h32m648 0h32M320 256h32m608 0h32m128 0h32M520 296h32m408 0h32M680 336h32m608 0h32M1680 376h32m48 0h32M760 416h32M920 496h32m88 0h32m368 0h32m128 0h32m88 0h32M640 536h32m648 0h32M920 576h32m768 0h32M200 616h32m368 0h32M840 656h32m248 0h32m288 0h32M560 696h32M80 736h32m888 0h32M960 776h32M280 816h32m1088 0h32m288 0h32m168 0h32M1320 896h72M1680 936h32M200 1016h32m1208 0h32M200 1096h32m928 0h32M720 1136h72m128 0h32M120 1176h32m688 0h32m968 0h32M880 1216h32M280 1256h32m248 0h32m648 0h32m608 0h32M0 1296h32m128 0h32m48 0h32m248 0h32M320 1336h32m808 0h32m48 0h32M1160 1376h32M200 1416h32m328 0h32m768 0h32m168 0h32M240 1456h32m48 0h32m48 0h32m328 0h32m728 0h72m88 0h32M240 1496h32m248 0h32m808 0h32m208 0h32m128 0h32M1920 1536h32M1040 1576h32m48 0h32M240 1616h32m888 0h32M680 1656h32m88 0h32m728 0h32m88 0h32m48 0h32M200 1696h32m488 0h32M520 1736h32m608 0h32m688 0h72M1000 1776h32M120 1816h32m168 0h32M0 1896h32M200 1936h32"/>
<path stroke="#e7f6a9" stroke-width="32" fill="none" d="M40 16h32m168 0h32m88 0h32m1168 0h32M480 56h32m448 0h32m488 0h32m48 0h32m168 0h72M640 96h32M0 176h72m1168 0h32m568 0h32M200 216h32m488 0h32m208 0h32M0 256h32m168 0h32m1568 0h32M1320 296h72m368 0h32M360 336h32m1248 0h32M40 376h32m88 0h32m888 0h32m808 0h32M120 416h32m808 0h32m288 0h32M680 456h32m608 0h32M80 496h72m648 0h32m688 0h32M680 536h32m168 0h32m688 0h32m88 0h32M360 576h72m568 0h32m888 0h32M760 616h32m168 0h32m608 0h32m288 0h32M520 656h32m88 0h32m968 0h32M120 696h32m208 0h32m568 0h32m488 0h32M160 736h32m88 0h32m48 0h32m1008 0h32M1000 776h32m728 0h32M720 816h32m608 0h32m88 0h32m128 0h32M200 856h32m328 0h32m1048 0h32M480 896h32M40 936h32m968 0h32m88 0h32m88 0h32M0 976h32m368 0h32m968 0h32m248 0h32M40 1016h112m248 0h72m208 0h32m128 0h32m448 0h32m528 0h32M1080 1056h32m168 0h32m128 0h32m208 0h32M720 1096h32m168 0h32M240 1136h32m368 0h32m848 0h32M280 1176h32m1128 0h32M0 1216h32m1008 0h32m48 0h32M1040 1256h32m248 0h32m288 0h32M360 1296h32m1328 0h32M1480 1336h32M40 1376h32m128 0h32m648 0h32m328 0h32M680 1416h32m968 0h32M480 1456h32m488 0h32m48 0h32m768 0h32M160 1496h32M640 1536h32m488 0h32m288 0h32M1320 1656h32M1240 1696h32m128 0h32m288 0h32M1760 1736h32M920 1776h32m208 0h32m448 0h32M880 1936h32"/>
<path stroke="#ebf7ad" stroke-width="32" fill="none" d="M200 16h32m1608 0h32M480 176h32m608 0h32m168 0h32m408 0h32M40 216h32m568 0h32m808 0h32m368 0h32M800 256h32M840 296h32m248 0h32M0 336h32m48 0h32m1008 0h32m608 0h32M80 376h32m368 0h32m968 0h32m288 0h32M1320 416h32m128 0h32m128 0h32M760 456h72m248 0h32m768 0h32M0 536h32m288 0h32m608 0h32M280 576h32m1128 0h32M480 616h32m208 0h32M600 656h32m408 0h32m328 0h32m448 0h32M880 696h32M400 736h32m1328 0h32M520 776h32m608 0h32M0 816h32m208 0h32m248 0h32m1128 0h32M600 856h32m88 0h32m48 0h32m128 0h72m48 0h32M1400 896h72m368 0h32M320 936h32m768 0h32m248 0h32m488 0h32M160 976h32m568 0h72m168 0h32m408 0h32M520 1016h32m448 0h32m328 0h32m528 0h32M480 1056h72m128 0h32m1128 0h32M40 1096h32m1488 0h32M840 1136h32m368 0h32M880 1176h32m368 0h32m208 0h32m128 0h72M320 1216h32m328 0h32m368 0h32m408 0h32m328 0h32M200 1256h32m88 0h32m648 0h32m808 0h32m48 0h32M480 1296h32m368 0h32m408 0h32M160 1336h32m488 0h32M1120 1376h32m448 0h32m128 0h32M960 1416h32m88 0h32M800 1456h32m488 0h32m88 0h32M640 1496h32m568 0h32M1600 1536h32M440 1576h32m368 0h32m848 0h32m168 0h32M0 1616h32m128 0h32M120 1656h72m648 0h32M160 1696h32m928 0h32m128 0h32M1800 1736h32M1320 1776h32m248 0h32M440 1816h32M240 1896h32m88 0h32M240 1936h32"/>
<path stroke="#f0f8b2" stroke-width="32" fill="none" d="M760 16h32m808 0h32M240 56h32m968 0h32m128 0h32M920 96h32M240 176h112m1568 0h32M1400 216h32M360 256h32m1168 0h32M400 296h32m248 0h32m88 0h32m448 0h32m208 0h32M40 336h32m1408 0h32m168 0h32M960 376h32m168 0h32M600 416h32m1248 0h32M200 456h32m168 0h32m488 0h32m648 0h72M760 496h32m888 0h32m128 0h32M1000 536h32m368 0h32m48 0h32m288 0h32M1640 576h32M200 656h32M280 696h32m688 0h32m88 0h32m208 0h32m368 0h32M440 736h32m1168 0h32M400 776h32m608 0h32m208 0h32m368 0h32M1520 816h32m288 0h32M120 856h32m1128 0h32m288 0h32m248 0h32M1000 896h32m248 0h32M560 936h32m48 0h32m1088 0h32M160 1016h32m128 0h32M1240 1056h32M360 1096h32m568 0h32m248 0h32M880 1136h32m768 0h32M720 1176h32m848 0h32M120 1216h32m128 0h32m448 0h32m208 0h32m128 0h32m48 0h32m648 0h32M440 1256h32m208 0h32m808 0h72m88 0h32M400 1296h32m528 0h32m48 0h32m48 0h32m248 0h32M0 1336h32m608 0h32m248 0h32m168 0h32M1880 1376h32M1800 1416h32M560 1456h32M800 1496h72m88 0h32m888 0h32M280 1536h32m288 0h32m368 0h32M1160 1576h32m88 0h32m88 0h32M80 1616h32m1488 0h32M1000 1656h32m688 0h32M360 1696h32m288 0h32m88 0h32m48 0h32m48 0h32m808 0h32M200 1736h32M240 1776h32m88 0h32m688 0h32m168 0h32m608 0h32M160 1816h72m1448 0h32M80 1896h32m88 0h32m168 0h32M80 1936h32m1328 0h32"/>
<path stroke="#f3f7b4" stroke-width="32" fill="none" d="M680 16h32m128 0h32m448 0h32m128 0h32m168 0h32M560 56h32m48 0h32m88 0h32m88 0h32m1008 0h32M40 96h32m448 0h32m208 0h32m208 0h32m88 0h32M1600 176h32m248 0h32M240 216h32m1248 0h32M40 256h32m208 0h32m568 0h32m328 0h32M80 296h32m88 0h32m368 0h32m408 0h32M1240 336h72M240 376h32m248 0h32m128 0h32m88 0h72m248 0h32M680 416h32m168 0h32m328 0h32M1840 456h32M200 496h32m1408 0h32M160 536h32m608 0h32m848 0h32M920 616h32m608 0h32M1520 656h32m248 0h32M240 696h32m168 0h32m688 0h32m528 0h32m48 0h32M320 736h32m208 0h32M800 776h32m408 0h32m568 0h32M40 816h32m328 0h72m408 0h32m88 0h32m768 0h32M440 856h32m768 0h32m48 0h32m368 0h32M0 896h32m128 0h32m728 0h32m728 0h32M440 936h32m488 0h32m648 0h32M240 976h72m968 0h32m448 0h32M600 1016h32m488 0h72m328 0h32m88 0h32M120 1056h32m448 0h32m208 0h32m488 0h32m328 0h32M0 1096h32m1408 0h32M200 1136h32m48 0h32m808 0h32m608 0h32M960 1176h72m48 0h32m448 0h32M520 1216h32m1168 0h32M0 1256h32m928 0h32M1600 1296h32m128 0h32M1440 1336h32m288 0h32M240 1376h32m88 0h32m128 0h32m848 0h32M480 1416h32M960 1456h32M80 1496h32m1008 0h32m488 0h32m248 0h32M1240 1536h32m168 0h32m288 0h32M160 1576h32m1168 0h32m208 0h32M1120 1656h32M480 1696h32m528 0h32m408 0h32m328 0h32M320 1736h32M200 1776h32M0 1816h32m1528 0h32m48 0h32"/>
<path stroke="#f5f5b3" stroke-width="32" fill="none" d="M0 16h32m448 0h32m208 0h32m288 0h32m728 0h32M440 56h32m1128 0h32M120 96h32m1128 0h32m248 0h32M1080 176h32M800 216h32m848 0h32M240 256h32M1800 296h32M720 376h32m568 0h32m288 0h32M200 416h32m488 0h32M40 496h32M920 536h32m328 0h32m608 0h32M1280 576h32m48 0h32m408 0h32M320 616h32M120 816h32M920 936h32M1120 976h32M1800 1056h32M160 1136h32M360 1176h32m1088 0h32M1680 1296h32M480 1336h32m88 0h32M1920 1456h32M0 1496h32m368 0h32m488 0h32M720 1576h32M1600 1656h32M280 1696h32M80 1736h32"/>
<path stroke="#f6f0ac" stroke-width="32" fill="none" d="M240 96h32M560 376h32M320 496h32M40 736h32M1880 816h32M880 856h32M240 896h32M800 1136h32M400 1376h32M1520 1416h32M1040 1496h32M240 1536h32"/>
<path stroke="#f5e7a0" stroke-width="32" fill="none" d="M1040 616h32m48 0h32M240 856h32M440 1096h32m928 0h32M1880 1136h32M560 1216h32M1240 1296h32m288 0h32M1280 1376h32M600 1416h32M200 1496h32m1488 0h32M1840 1536h32M680 1576h32M280 1616h32m1368 0h32m168 0h32M1800 1656h32M1000 1696h32m648 0h32"/>
<path stroke="#f4de94" stroke-width="32" fill="none" d="M1000 16h32M1240 96h32M1120 216h32M1720 256h32M1600 296h32M400 336h32m408 0h32M400 536h32M320 576h32m888 0h32m568 0h32M1040 696h32M640 736h32M280 896h32m1568 0h32M40 976h32M1080 1016h32m568 0h32M1920 1056h32M680 1096h32m768 0h32M1400 1176h32M920 1216h32M760 1256h32M80 1376h32M640 1416h32M1280 1456h32M680 1496h32M80 1536h32M800 1576h32M680 1616h32m528 0h32M1640 1656h32M0 1936h32"/>
<path stroke="#f3d487" stroke-width="32" fill="none" d="M1000 56h32M920 176h32M480 296h32M720 336h32m1168 0h32M440 416h32M360 656h32M1400 696h32M1120 736h32M760 816h32m768 0h32M1520 856h32M840 896h32m688 0h32M560 1056h32m808 0h32M600 1096h32M1480 1216h32M280 1296h32M1920 1416h32M880 1456h32M720 1536h32M960 1576h32m528 0h32M1360 1656h32M520 1696h32m208 0h32"/>
<path stroke="#f2ca7a" stroke-width="32" fill="none" d="M1160 176h32M240 336h32M560 456h32M1760 536h32M160 616h32m808 0h32m488 0h32M0 656h32m1568 0h32M520 736h32m1048 0h32M200 936h32M680 976h32M800 1056h32M1720 1096h32M1440 1296h32m328 0h32M1560 1336h32M960 1376h32M200 1576h32M880 1616h32M560 1656h32m888 0h32M120 1736h32m1248 0h32M1040 1936h32"/>
<path stroke="#f2bd70" stroke-width="32" fill="none" d="M1440 96h32m408 0h32M1680 176h32M480 416h32M480 536h32M1440 616h32M760 736h32M1520 896h32M0 936h32m48 0h32M1760 1016h32M880 1096h32M320 1136h32M320 1176h32m688 0h32M400 1336h32M800 1416h32m1048 0h32M1040 1456h32m288 0h32M840 1536h32M880 1576h72M1400 1656h32M600 1696h32M640 1736h32"/>
<path stroke="#f2af65" stroke-width="32" fill="none" d="M880 16h32M320 96h32M1400 376h32M0 416h32M1760 456h32M560 496h32M40 576h32m488 0h32M240 616h32M1280 696h32M840 736h32m1008 0h32M600 936h32M1520 1096h32m88 0h32M1640 1176h32M80 1256h32M360 1336h32m648 0h32m448 0h32M120 1376h32M1000 1416h32m568 0h32M560 1616h32m248 0h32m448 0h32M1080 1656h32M1520 1696h32M880 1736h32M600 1776h32"/>
<path stroke="#f2a15c" stroke-width="32" fill="none" d="M160 16h32M1880 56h32M200 96h32m128 0h32m168 0h32m928 0h32m288 0h32M80 216h32M1000 256h32M520 456h32M440 576h32M1280 656h32M1160 736h32m368 0h32M680 776h32M200 816h32M600 896h32M400 1096h32m1448 0h32M1880 1336h32M200 1456h32M560 1496h32m888 0h32M1800 1536h32M600 1576h32M920 1616h32M1160 1696h32M400 1776h32"/>
<path stroke="#f19453" stroke-width="32" fill="none" d="M1440 16h32M1920 216h32M1280 376h32M1360 496h32M360 896h32m1368 0h32M1240 976h32M240 1016h32M1520 1616h32M840 1696h32M600 1736h32m688 0h32M80 1776h72m1408 0h32m128 0h32M960 1816h32M1680 1896h32M40 1936h32m1528 0h32"/>
<path stroke="#ef854c" stroke-width="32" fill="none" d="M1480 1816h32M1080 1896h32m808 0h32M480 1936h32m288 0h32m248 0h32m768 0h32"/>
<path stroke="#eb744a" stroke-width="32" fill="none" d="M320 216h32m1288 0h32M1000 416h32M1280 736h32M1480 856h32M200 1216h32M1560 1376h32M1120 1816h32m448 0h32m168 0h32M680 1896h32m88 0h32m48 0h32m448 0h32m488 0h32M1800 1936h72"/>
<path stroke="#e76248" stroke-width="32" fill="none" d="M1160 16h32M1040 96h32M680 256h32M1040 336h32M640 456h32M360 536h32M0 696h32M840 936h32M480 976h32M1880 1176h32M1320 1576h32M520 1616h32m1208 0h32M80 1656h32M400 1736h32M280 1776h32m408 0h32M1000 1816h32m48 0h32m608 0h32M1320 1896h32m88 0h32m128 0h72M1520 1936h32"/>
<path stroke="#e25649" stroke-width="32" fill="none" d="M560 176h32m768 0h32M1160 296h32m208 0h32M440 336h32M1560 496h32M0 736h32M1680 1216h32M240 1256h32M520 1456h32M120 1576h32M1920 1616h32M1160 1656h32M480 1736h32m1128 0h32M640 1816h32m568 0h32m488 0h32M960 1896h32m48 0h32m728 0h32M1360 1936h32"/>
<path stroke="#dd4c49" stroke-width="32" fill="none" d="M440 176h32M560 216h32M1800 336h32M1160 416h32M600 456h32M1120 496h32M1600 1016h32M1280 1136h32m488 0h32m88 0h32M1640 1416h32M360 1456h32M1160 1496h32M40 1536h32M0 1696h32M800 1736h32M920 1816h32M560 1896h32m408 0h32m208 0h32m448 0h32M440 1936h32m88 0h32m888 0h32"/>
<path stroke="#d7414a" stroke-width="32" fill="none" d="M1720 56h32M1080 216h32M1920 256h32M920 416h32M600 696h32m168 0h32m248 0h32M1680 736h32M1520 936h32M1600 1096h32M1080 1136h32M880 1256h32M1600 1336h32M1320 1416h32M600 1456h32M1400 1536h32M120 1696h32m1408 0h32M160 1736h32M1120 1776h32M1280 1816h32M720 1896h72m368 0h32m328 0h32M400 1936h32m88 0h32m48 0h32m48 0h32m968 0h32"/>
<path stroke="#ce3a49" stroke-width="32" fill="none" d="M1080 16h32M1000 216h32m208 0h32M1800 416h32M120 576h32M1280 616h32m168 0h32M320 656h32M920 696h32M1920 776h32M1760 816h32M1920 856h32M960 896h32m128 0h32m568 0h32M1240 1576h32M480 1776h32m968 0h32m168 0h32M360 1816h32M840 1896h32m608 0h32m248 0h32M920 1936h32m168 0h72m568 0h32m128 0h32"/>
<path stroke="#c43248" stroke-width="32" fill="none" d="M280 96h32M600 336h32M800 416h32M1080 576h32M80 696h32M720 776h32M1840 856h32M280 1096h32M440 1136h32M1120 1416h32m248 0h32M680 1456h32M1560 1496h32M1840 1576h32M40 1616h32M560 1816h32m248 0h32m528 0h32m408 0h32M120 1896h32m168 0h32m168 0h32M640 1936h32m288 0h32m568 0h32"/>
<path stroke="#bb2b46" stroke-width="32" fill="none" d="M1360 96h32m88 0h32M280 216h32m568 0h32M1320 256h32M1480 296h32M1000 456h32m648 0h32M1880 496h32M480 656h32m1168 0h32M1640 696h32M1120 776h32M680 816h32M1600 936h32M1400 1136h32m288 0h32M240 1176h32m208 0h32m648 0h32M160 1256h32m328 0h32M960 1776h32m448 0h32M680 1816h72m48 0h32m488 0h32m168 0h32M440 1896h32m928 0h32M1280 1936h32m328 0h32"/>
<path stroke="#b12345" stroke-width="32" fill="none" d="M440 16h32M1520 256h32M280 336h32M40 416h32M480 496h32M1440 536h32M240 656h32M680 736h32M80 776h32M280 1016h32m488 0h32m888 0h32M80 1056h32M1800 1096h32M880 1336h32M1640 1456h32m88 0h32M1000 1496h32m488 0h32M1320 1536h32M1040 1656h32M1640 1696h32M760 1816h32m368 0h32m728 0h32M480 1896h32m128 0h32m248 0h32M760 1936h32m448 0h32"/>
<path stroke="#a81c44" stroke-width="32" fill="none" d="M200 176h32M800 336h32M1320 616h32M840 776h72M200 896h32M1440 936h32M80 976h32m1248 0h32M520 1096h32m448 0h32M1360 1336h32M200 1536h32M1240 1776h32m88 0h32M880 1816h32m128 0h32m368 0h32m408 0h32M600 1896h32m1208 0h32M840 1936h32m128 0h32"/>
<pattern id="hp2" width="40" height="40" patternUnits="userSpaceOnUse"><path d="M32 0H40V40H32Z" fill="#fff"/><rect x="0.9" y="0.9" width="30.2" height="30.2" fill="none" stroke="#000" stroke-opacity="0.2" stroke-width="1.8"/></pattern>
<rect width="1960" height="1960" fill="url(#hp2)"/>
<path fill="#fff" d="M0 120h1160v40h-1160zM1240 120h720v40h-720zM0 1840h1960v40h-1960zM1200 0h40v1960h-40zM40 40h40v40h-40zM120 40h40v40h-40zM80 80h40v40h-40zM760 160h40v40h-40zM560 280h40v40h-40zM560 640h40v40h-40zM760 640h40v40h-40zM920 640h40v40h-40zM760 840h40v40h-40zM760 880h40v40h-40zM480 1000h40v40h-40zM720 1000h40v40h-40zM760 1000h40v40h-40zM920 1000h40v40h-40zM560 1080h40v40h-40zM760 1080h40v40h-40zM760 1320h40v40h-40zM560 1360h40v40h-40zM560 1720h40v40h-40zM760 1720h40v40h-40zM40 1760h40v40h-40zM560 1760h40v40h-40z"/>
</g>
<g transform="translate(1487.60,817.60) scale(0.28100)">
<path stroke="#466cc0" stroke-width="32" fill="none" d="M1520 1456h32M0 1496h32m368 0h32m528 0h32m88 0h32M480 1536h32m248 0h32M1240 1576h32m368 0h32M1240 1656h32M680 1696h32m648 0h32M160 1736h32m1448 0h32m48 0h72M1680 1776h32M440 1816h32M1800 1936h32"/>
<path stroke="#4972c3" stroke-width="32" fill="none" d="M1600 1456h32M120 1536h32m168 0h32M1520 1576h32M1120 1616h32m368 0h32M40 1656h32m1088 0h32m688 0h32M1560 1696h32M640 1736h32m368 0h32m208 0h32M1480 1776h32M480 1816h32M0 1896h32m608 0h32m1168 0h32M400 1936h32m248 0h32m368 0h32"/>
<path stroke="#4c77c6" stroke-width="32" fill="none" d="M1280 1456h32M1000 1496h32M200 1536h32M320 1576h32m128 0h32m128 0h32M360 1616h32m408 0h72M1040 1656h32m528 0h32m208 0h32M1320 1736h32M1160 1776h32m328 0h32M0 1816h32M1080 1896h32m328 0h32m48 0h32m368 0h32M160 1936h72m768 0h32m488 0h32m88 0h32"/>
<path stroke="#4f7cc9" stroke-width="32" fill="none" d="M80 1496h32m408 0h32m88 0h32m48 0h32m768 0h32m208 0h72M360 1576h32m328 0h32M120 1616h32m568 0h32m1088 0h32M200 1656h32m48 0h32M160 1696h32m208 0h32m968 0h32m248 0h32M80 1776h32m648 0h32M560 1816h32m48 0h32m488 0h32M1320 1896h32m208 0h32M120 1936h32m1528 0h32"/>
<path stroke="#5282cc" stroke-width="32" fill="none" d="M1760 1456h32M320 1496h32m1568 0h32M360 1536h32m648 0h32M920 1576h32m128 0h32M880 1616h32m88 0h32m288 0h32M840 1656h32m768 0h32M920 1696h32m768 0h32m168 0h32M1000 1736h32m208 0h32M600 1776h32m88 0h32m248 0h32M840 1816h32m128 0h32m48 0h32m128 0h32m48 0h32M720 1896h32m408 0h32M880 1936h32"/>
<path stroke="#578ad0" stroke-width="32" fill="none" d="M120 1496h32m448 0h32m168 0h32m48 0h32m408 0h32m248 0h32M720 1536h32m168 0h32m208 0h32m448 0h32M1160 1576h32m168 0h32M480 1616h32M480 1656h32m488 0h32m248 0h32M640 1696h32m1168 0h32M280 1736h72m88 0h32m328 0h32M160 1776h32m328 0h32m768 0h32M880 1816h32M120 1896h32m368 0h32m488 0h32m208 0h32M1440 1936h32"/>
<path stroke="#5c93d4" stroke-width="32" fill="none" d="M1800 1456h32M40 1496h32m968 0h32m608 0h32M40 1536h32M40 1576h112m408 0h32M1040 1616h32m168 0h32m368 0h32m88 0h32m88 0h32M320 1656h32m528 0h32m168 0h72m648 0h32M1120 1696h32M480 1736h72M280 1776h32m1288 0h32m168 0h32M400 1816h32m88 0h32m1128 0h32M960 1896h32m808 0h32M360 1936h32m448 0h32m168 0h32m88 0h32m168 0h32m448 0h32"/>
<path stroke="#609cd8" stroke-width="32" fill="none" d="M1240 1456h32m168 0h32M920 1496h32m408 0h32M960 1536h32m368 0h32m88 0h32M240 1576h32m1168 0h32m128 0h32M680 1616h32m768 0h32m168 0h72M80 1656h32m1248 0h32M1800 1736h32M240 1776h32m368 0h72M80 1816h32m168 0h32m728 0h32m368 0h32M1120 1896h32m488 0h32M40 1936h32m448 0h32m368 0h72m248 0h32"/>
<path stroke="#65a5db" stroke-width="32" fill="none" d="M800 1176h32m48 0h32M480 1296h32m1088 0h32m168 0h32M1280 1336h32M760 1376h32M440 1456h32M200 1496h32m328 0h32m168 0h32m328 0h32m488 0h32M240 1536h32m1128 0h32m248 0h32m128 0h32M280 1576h32m1568 0h32M400 1616h32m648 0h32m168 0h32M440 1656h32m48 0h32m408 0h32m568 0h32m88 0h32M600 1696h32m448 0h32m208 0h32m408 0h72M200 1736h32m128 0h32M0 1776h32m368 0h32m488 0h32m288 0h32m608 0h32M240 1816h32m688 0h32m608 0h72M600 1896h32m368 0h32M80 1936h32m168 0h32m288 0h72m88 0h32m608 0h32"/>
<path stroke="#70b0e0" stroke-width="32" fill="none" d="M1480 1136h32M1040 1176h32m48 0h32M0 1216h32m88 0h32m328 0h32M1520 1256h32M640 1296h32m248 0h32M480 1336h32M80 1456h32m1248 0h72m128 0h32M280 1496h32m1088 0h32M880 1536h32m1008 0h32M400 1576h32m168 0h32m168 0h32m288 0h32m248 0h32m328 0h32M40 1616h32m168 0h32m168 0h32m688 0h32m168 0h32M400 1656h32m288 0h32m688 0h32m448 0h32M40 1696h32m208 0h32m848 0h32m88 0h32m288 0h32M40 1736h32m48 0h32m88 0h32m448 0h32M880 1776h32m528 0h32m88 0h32M200 1816h32m688 0h32M40 1896h32m168 0h32m128 0h32m48 0h32m728 0h32m448 0h72m88 0h32M1600 1936h32"/>
<path stroke="#7bbbe4" stroke-width="32" fill="none" d="M1320 1176h32M360 1216h32m248 0h32m888 0h32M1840 1296h32M720 1376h32m608 0h32M960 1416h32m888 0h72M360 1456h32m688 0h32m208 0h32M680 1496h32m448 0h32M280 1536h32m768 0h32m208 0h32m88 0h32M200 1576h32m608 0h72m88 0h32m448 0h32m288 0h72M0 1616h32m128 0h32m128 0h32m608 0h32M120 1656h32m208 0h32m408 0h32m688 0h32M80 1696h32m128 0h32m1368 0h32M600 1736h32m728 0h32M440 1776h72M600 1816h32m1208 0h32M1400 1896h32"/>
<path stroke="#88c4e7" stroke-width="32" fill="none" d="M240 1136h32m1488 0h32m48 0h32M1360 1176h32M400 1216h32m1488 0h32M920 1256h32M1320 1296h32M120 1336h32m208 0h32m608 0h32m48 0h32M1040 1376h32M200 1416h32M120 1456h32m488 0h32M1480 1496h32M1120 1536h32M1080 1776h72"/>
<path stroke="#95ceeb" stroke-width="32" fill="none" d="M920 696h32M1040 736h32M800 856h32m1048 0h32M680 976h32m1088 0h32M1400 1016h32m48 0h32m288 0h32M1920 1056h32M1440 1096h32M640 1136h32m88 0h32m568 0h32M120 1176h32m1728 0h32M280 1216h32m608 0h32m88 0h32m368 0h32M360 1296h32M720 1336h32m1088 0h32M80 1376h32m1288 0h32M320 1416h32m408 0h72m648 0h32m48 0h32m248 0h32M1240 1496h72m528 0h32M520 1536h32M680 1576h32m48 0h32m488 0h32m408 0h32M200 1616h32m328 0h32m848 0h32m328 0h32M0 1656h32m208 0h32m408 0h32M480 1696h32m368 0h32m328 0h32m208 0h32m368 0h32M840 1736h32m48 0h32m208 0h32m328 0h32m128 0h32M840 1776h32m488 0h32M320 1816h72m368 0h32m328 0h32m208 0h32m88 0h32M800 1896h72m808 0h32"/>
<path stroke="#a1d4ed" stroke-width="32" fill="none" d="M720 696h32m208 0h32M1120 776h32M480 816h32m648 0h32M560 856h32m1328 0h32M840 896h32m968 0h32M400 976h32m288 0h32m808 0h32M1560 1016h32M880 1056h32M960 1096h32m608 0h32m248 0h32M560 1136h32m648 0h72m88 0h32M840 1176h32m208 0h32M1600 1216h32M360 1256h32M40 1336h32m1808 0h32M1280 1376h32M120 1416h32m88 0h32m208 0h32m1208 0h32M800 1456h32M0 1536h32m128 0h32m408 0h32m1088 0h32m128 0h32M440 1576h32M80 1616h32m408 0h32m368 0h32M600 1656h32m1128 0h32M0 1696h32m88 0h32m288 0h32m328 0h32m168 0h32M80 1736h32m768 0h32m688 0h32m208 0h32m48 0h32M320 1776h72m568 0h32m848 0h32M720 1816h32m528 0h32m88 0h32m88 0h32m208 0h32m88 0h72M80 1896h32m248 0h32M320 1936h32m768 0h32m168 0h32m128 0h32m208 0h72m128 0h32"/>
<path stroke="#acdaee" stroke-width="32" fill="none" d="M280 176h32m328 0h32M720 736h32M1040 896h32M1920 936h32M1680 976h32M1720 1056h32M1680 1136h32M200 1176h32m328 0h32m168 0h32m488 0h32m448 0h32M240 1216h32m248 0h32M1640 1256h72m88 0h32M240 1296h32m528 0h32m1088 0h32M440 1336h32m328 0h32M160 1416h32m448 0h32m168 0h32m128 0h32m488 0h32m248 0h32M320 1456h32m128 0h32m168 0h32m448 0h32m648 0h72M240 1496h32m568 0h32m688 0h32m128 0h32m128 0h32M400 1536h32m368 0h32m688 0h72m168 0h32M1320 1576h32m568 0h32M1400 1616h32M640 1656h32m88 0h32M960 1696h32m48 0h32M680 1736h32m368 0h32m448 0h32M800 1776h32m208 0h32m208 0h32M120 1816h32m1648 0h32M880 1896h32m568 0h32M480 1936h32m208 0h32"/>
<path stroke="#b8ddec" stroke-width="32" fill="none" d="M560 16h32M1160 56h32M120 176h32M840 616h32M720 656h32M600 696h32M880 736h32m88 0h32M40 776h32m528 0h32M200 816h32m328 0h32M1080 856h72m568 0h32M360 896h32m1368 0h32m128 0h32M1240 936h32m48 0h32M1520 1016h32m128 0h32m48 0h32M1800 1056h32M480 1096h32M160 1136h32m328 0h32m128 0h32m888 0h32m248 0h32M440 1176h32m48 0h32m1128 0h32M1000 1216h32m128 0h32m48 0h112M400 1256h32M720 1296h32m368 0h32m88 0h32m488 0h32M200 1376h32m88 0h32M280 1416h32m1328 0h32M0 1456h32m368 0h32m88 0h32M160 1496h32m168 0h32M560 1536h32m88 0h32m568 0h32m288 0h32M160 1576h32m768 0h32m48 0h32M280 1616h32m1248 0h32M160 1656h32m368 0h32m328 0h32M200 1696h32m88 0h72M0 1736h32m368 0h32m688 0h32M200 1776h32m1408 0h32m88 0h32m128 0h32M40 1816h32m728 0h32M680 1896h32m48 0h32m568 0h32M240 1936h32m288 0h32"/>
<path stroke="#c4dfe9" stroke-width="32" fill="none" d="M40 16h32M880 96h32M200 176h32M400 336h32M1720 576h32M1400 656h32m328 0h32M560 696h32m168 0h32M920 736h72m728 0h32M640 776h32M600 816h32m928 0h32m208 0h32M960 856h32M1400 896h32M760 936h32m168 0h32m528 0h72M360 976h32m48 0h32m288 0h32m648 0h32M520 1016h32m568 0h32m728 0h32M0 1136h32M1400 1176h32m128 0h32M800 1216h32m248 0h32m608 0h32M560 1256h32m648 0h32m328 0h32m208 0h32M440 1296h32m208 0h32m128 0h32m768 0h32M0 1336h32m1008 0h32m248 0h32M280 1376h32m1128 0h32m208 0h32M600 1416h32M200 1456h32m808 0h32m568 0h112m168 0h32M480 1496h32M440 1536h32m168 0h32m568 0h32m528 0h32M520 1576h32m1008 0h32M600 1616h72m88 0h32m808 0h32m288 0h32M1320 1656h32m48 0h32m48 0h32M520 1696h32m168 0h32m88 0h32M960 1736h32m408 0h32m48 0h32m368 0h32M120 1776h32M160 1816h32m488 0h32m848 0h32m128 0h32M160 1896h32M800 1936h32m728 0h32"/>
<path stroke="#ccdfe3" stroke-width="32" fill="none" d="M280 16h32m48 0h32M560 56h32M1280 576h32m448 0h32M1360 616h32M1800 656h32M520 776h32m608 0h32M520 816h32m488 0h32M1040 856h32m368 0h32m168 0h32M440 896h32m128 0h32m528 0h32m488 0h32M1160 936h32M600 976h32m648 0h32M640 1016h32m1168 0h32M200 1096h32m168 0h32m248 0h32m528 0h32m248 0h32M360 1136h32m1048 0h32m328 0h32m88 0h32M280 1176h32m408 0h32m168 0h32m488 0h32m328 0h72m48 0h32M1480 1216h32M120 1256h32m168 0h32m128 0h32m288 0h32m208 0h32M200 1296h32m528 0h32m648 0h32m48 0h32M80 1336h32m1408 0h32m248 0h32m88 0h32M360 1376h32m48 0h32m208 0h32m88 0h32m888 0h32M1600 1416h32M240 1456h32m1208 0h32M1720 1656h32M560 1696h32M1400 1776h32M440 1896h32M1280 1936h32"/>
<path stroke="#d3ddda" stroke-width="32" fill="none" d="M440 16h32M160 456h32m688 0h32M1400 616h32m88 0h32M640 656h32M1000 696h32m128 0h32m48 0h32M160 736h32m408 0h32m488 0h32M720 776h32M440 816h32m448 0h32M0 856h32m1128 0h32m48 0h32M640 896h32m208 0h32m208 0h32M1600 936h32M280 976h32m608 0h32m128 0h32m728 0h32M920 1056h32m48 0h32m568 0h72M600 1096h32m488 0h32m248 0h32m128 0h32M400 1136h32m288 0h32m368 0h32m168 0h32m208 0h32M240 1176h32m208 0h32m968 0h32M80 1216h32m48 0h32m488 0h32m48 0h32m1048 0h32M720 1256h32m528 0h72M80 1296h32m888 0h32M880 1336h72m648 0h32m48 0h32M0 1376h32m1528 0h32m208 0h32M1120 1416h32m288 0h32M440 1496h32M760 1696h32M1440 1736h32M280 1896h32m248 0h32m328 0h32"/>
<path stroke="#d8dbcd" stroke-width="32" fill="none" d="M280 56h32m488 0h32M160 296h32M920 456h32M640 576h32m648 0h32M920 616h32m928 0h32M1240 656h32m448 0h32m128 0h32M800 696h32M880 776h32M400 816h32M1000 856h32M920 896h72M400 936h32m448 0h32m128 0h32m48 0h32m608 0h32M880 976h32m88 0h72m448 0h32m88 0h32m208 0h32M440 1016h32M1080 1056h32M720 1096h32m568 0h72m408 0h32M280 1136h32m528 0h32M80 1176h32m888 0h32m688 0h32M320 1216h32m248 0h32m88 0h32m608 0h32m248 0h32m88 0h32M640 1256h32m88 0h32m48 0h32m488 0h32m48 0h32m88 0h32M520 1296h32m408 0h32m48 0h32M640 1336h32m448 0h32m608 0h32M120 1376h32m328 0h32m1128 0h32M520 1416h32M1440 1496h32M1000 1536h32M440 1936h32"/>
<path stroke="#dbd9be" stroke-width="32" fill="none" d="M0 16h32m128 0h32m808 0h32M40 96h32M480 176h32M1080 696h32M520 736h32m288 0h32M640 816h32m128 0h32M1320 856h72m208 0h32M1440 896h32m88 0h32M680 936h32M1120 976h32m88 0h32m448 0h32M360 1016h32M800 1056h32M1000 1096h32M1160 1136h32M160 1176h32m168 0h32m288 0h32m248 0h32M440 1216h32m488 0h32m888 0h32M960 1256h32m408 0h32m48 0h32m208 0h72M40 1296h32m248 0h32m208 0h32m1088 0h72M280 1336h32m1088 0h32M240 1376h32m1488 0h32m128 0h32M920 1416h32m88 0h32m88 0h32M880 1456h72M320 1896h32m1248 0h32"/>
<path stroke="#e0d8ad" stroke-width="32" fill="none" d="M120 16h32m1088 0h32M1440 96h32m408 0h32M1560 296h32M640 696h32M560 736h32m88 0h32M800 776h32m208 0h32M1000 816h32M600 856h32m48 0h72m648 0h32M800 896h32m448 0h112M440 936h32m88 0h32m248 0h32m768 0h32m168 0h72M520 976h32m88 0h32m728 0h32M880 1016h32m248 0h32m408 0h32m288 0h32M520 1056h32m48 0h32m688 0h32m208 0h32M1640 1096h32m168 0h32m48 0h32M120 1136h32m48 0h32m88 0h32m648 0h32M600 1176h32M200 1216h32m888 0h32m528 0h32M400 1296h32m448 0h32m488 0h32M520 1336h32m128 0h32M400 1376h32m728 0h32m48 0h32m248 0h32M40 1416h32m368 0h32m928 0h32m328 0h32M80 1536h32m728 0h32M0 1576h32m1648 0h32M1440 1696h32m48 0h32M200 1896h32M0 1936h32"/>
<path stroke="#e5d89b" stroke-width="32" fill="none" d="M320 16h32m328 0h32M1120 96h32M920 216h32M760 256h32m168 0h32M280 296h32m208 0h32m528 0h32M800 336h32M1120 376h32M0 416h32m88 0h32M440 496h32m408 0h32M960 536h32M520 576h32m888 0h32m48 0h32M440 616h32m88 0h32m88 0h32m928 0h72M360 656h32m928 0h32M360 696h32M1320 816h32M480 856h32m1008 0h32M400 896h32m1088 0h32m88 0h32m128 0h32M200 936h32m768 0h32m248 0h32m48 0h32M560 976h32m208 0h72m888 0h32M600 1016h32m48 0h32m368 0h32M640 1056h72m48 0h32m368 0h32m168 0h72m248 0h32m48 0h32m48 0h32M520 1096h32m1208 0h32M440 1136h32m488 0h32M1520 1176h32m88 0h32M80 1256h32m48 0h32m248 0h32m648 0h32M600 1296h32m448 0h32m368 0h32M960 1336h32M160 1376h32M0 1416h32M280 1456h32M1720 1776h32M1880 1936h32"/>
<path stroke="#e9d37e" stroke-width="32" fill="none" d="M720 16h32M320 56h32m128 0h72m448 0h32M320 96h32M40 176h72m608 0h32m288 0h32m848 0h32M120 216h32m48 0h32m248 0h32M120 256h32M280 336h72m88 0h32M440 376h32m968 0h32M40 416h32m248 0h72m88 0h32m48 0h32m568 0h32m448 0h32M0 456h32m1808 0h32m48 0h32M400 576h32m1368 0h32M240 616h32m248 0h32m928 0h32m88 0h32M200 656h72m1008 0h32m48 0h32m88 0h72m88 0h32M40 696h32m48 0h32m528 0h32m168 0h32m208 0h32m648 0h32M320 736h32m128 0h32M1000 776h32M760 816h32m808 0h32m48 0h32M520 856h32m88 0h32m1008 0h32m48 0h112M280 896h32m248 0h32m488 0h32M0 936h32m488 0h32m888 0h32M40 976h32M960 1016h72M280 1056h72m48 0h32m608 0h32m48 0h32m728 0h32M240 1096h32m368 0h32m128 0h72m168 0h32m648 0h32M80 1136h32m488 0h32m1008 0h32M0 1176h32m1568 0h32M280 1256h32m1568 0h32M280 1296h32m1048 0h32m168 0h32m288 0h32M520 1376h32m48 0h32m248 0h32m88 0h32m288 0h32m128 0h32m368 0h32M720 1416h32m128 0h32M760 1456h32"/>
<path stroke="#ebc655" stroke-width="32" fill="none" d="M640 16h32m128 0h72M0 56h32m168 0h32m368 0h32M560 96h32M360 176h32M0 216h32m648 0h32m168 0h32M0 256h32m1048 0h32M920 296h32m728 0h32M360 336h32m128 0h32M280 376h32M160 416h32M720 456h32M400 496h32m528 0h72M400 536h32m328 0h32m368 0h32M1240 576h32m208 0h32M200 616h32m1088 0h32m488 0h32M600 656h32m328 0h32m448 0h32m208 0h32M0 696h32m408 0h32m368 0h32m808 0h32M280 736h32m968 0h32m128 0h32M680 776h32m248 0h32m88 0h32M80 816h72m968 0h32M880 856h72m328 0h32m168 0h32M0 896h32m488 0h32M720 936h32m48 0h32m88 0h32m448 0h32M480 976h32m648 0h32m288 0h32m88 0h32m288 0h32M1240 1016h112M360 1056h32m48 0h32m88 0h32m368 0h32m248 0h32M880 1096h32M800 1136h32m48 0h32M40 1176h32m328 0h32M1520 1216h32M0 1296h32m88 0h72m968 0h32m88 0h32M400 1336h32m408 0h32m288 0h32m48 0h32m88 0h32m328 0h32M960 1376h32M1240 1416h72m368 0h32M560 1456h32m128 0h32m248 0h32"/>
<path stroke="#ecbb3c" stroke-width="32" fill="none" d="M920 16h32m128 0h32M680 96h32m128 0h32m48 0h32M920 176h32M1040 216h32M240 256h32M1000 336h32M680 416h32m368 0h32M480 456h32m168 0h32m48 0h32M160 496h32m168 0h32M880 576h32m248 0h32m168 0h32m488 0h32M0 616h32m1408 0h32m448 0h32M520 656h32M80 696h32M0 736h32M80 856h72M120 936h32M1320 976h32M800 1016h32M0 1096h32M40 1136h32m1448 0h32M320 1176h32m288 0h32M40 1216h32m808 0h32m888 0h32M880 1256h32m168 0h32M160 1336h112m328 0h32m808 0h72m48 0h32M640 1376h32m448 0h32m448 0h32M80 1416h32m568 0h32m368 0h32M600 1456h32"/>
<path stroke="#edb235" stroke-width="32" fill="none" d="M960 16h32M0 96h32m928 0h32M440 176h32m48 0h32M560 216h32M560 256h32M40 456h32M160 576h32M1920 696h32M1080 736h32M920 776h32M1760 816h32M40 856h32m368 0h32m368 0h32M680 896h32m768 0h32M480 936h32M960 976h32M840 1056h32M1480 1096h32M1360 1416h32M1120 1456h32"/>
<path stroke="#eda52e" stroke-width="32" fill="none" d="M480 16h32m648 0h32M160 56h32M200 96h32M840 176h32m208 0h32M800 216h72M880 256h32M200 296h32M640 376h32m968 0h32M360 456h32M640 536h32M840 576h32m48 0h72m408 0h32m128 0h32M1000 616h32m208 0h72M1920 656h32M1480 696h32M1480 736h32M1400 776h32M1480 816h32M400 856h32M1880 896h32M1720 936h32M840 1016h32M280 1096h32m128 0h32m688 0h32m88 0h32M0 1256h32m648 0h32M1840 1376h32M400 1416h32M40 1456h32"/>
<path stroke="#ec952b" stroke-width="32" fill="none" d="M80 56h32m328 0h32m248 0h32m168 0h32M400 96h72m288 0h32M1160 136h32M560 176h32M760 216h32m328 0h32M720 256h32m168 0h32m368 0h32M40 296h32m968 0h32m48 0h32m368 0h32M240 376h32m248 0h72m128 0h32m408 0h32m88 0h32m288 0h32M200 456h32m728 0h32m128 0h32M520 496h32m88 0h32m448 0h72m368 0h32M160 536h32m48 0h32m568 0h32M280 576h32m168 0h32m288 0h32m248 0h32m488 0h32M280 616h32M120 656h32m288 0h32m1368 0h32M1040 696h32M240 736h32m88 0h32m408 0h32m328 0h32m128 0h32m408 0h32m48 0h32m48 0h32M280 776h32m48 0h32m88 0h32m248 0h32m48 0h32m448 0h32m128 0h72m208 0h32M720 816h32m128 0h32M0 976h32M400 1016h32m928 0h32M240 1056h32m1168 0h32M160 1096h32m128 0h32M920 1136h32M1160 1176h32M840 1216h32M1320 1416h32"/>
<path stroke="#ed7623" stroke-width="32" fill="none" d="M1040 16h32M360 56h32m1248 0h32M360 96h32m1528 0h32M320 176h32m328 0h32M40 216h32m368 0h32M480 256h32m328 0h32M320 296h32m448 0h32M200 336h32m248 0h32m88 0h32M680 376h32m368 0h32M200 416h32m168 0h32m488 0h32m768 0h32M560 456h32m208 0h32m768 0h32M120 496h32m688 0h32M120 576h32m88 0h32m48 0h72m1248 0h32M880 616h32m888 0h32M80 656h32m728 0h32M200 696h32m1208 0h32M400 736h32m208 0h32M80 776h32M1080 816h32M480 896h32m208 0h32m248 0h32M40 936h32m568 0h32m408 0h32M160 1056h32m1288 0h32M1080 1096h32M480 1136h32M560 1216h32M240 1256h32m248 0h32m448 0h32m888 0h32M160 1456h32"/>
<path stroke="#ed4f1c" stroke-width="32" fill="none" d="M1280 16h32M840 56h32m448 0h32M480 96h72m528 0h32M400 176h32M360 256h32m208 0h32M680 296h32m568 0h32M560 336h32m168 0h32m48 0h32m168 0h32m328 0h32m48 0h32M800 376h32m128 0h32m368 0h32M80 416h32m648 0h72M280 456h32m88 0h32M1080 536h32M440 576h32m88 0h32M360 616h32m368 0h32M880 656h32m648 0h32M1520 696h32M1800 736h32M1560 776h32M1840 816h32M360 856h32M1240 1176h32M1400 1216h32M560 1416h32"/>
<path stroke="#e63e1c" stroke-width="32" fill="none" d="M1360 16h32m168 0h32m288 0h32M240 56h32m1248 0h32M160 96h32m1168 0h32M800 176h32m328 0h32M1560 216h32M200 256h32m168 0h32m1208 0h32M0 296h32m328 0h32m368 0h32M1080 336h32m168 0h32m288 0h32m168 0h32M200 376h32m168 0h32m408 0h32M720 416h32m88 0h32m688 0h32m248 0h32m48 0h32M240 456h32m728 0h32m688 0h32M80 496h32m208 0h32m128 0h32m168 0h32m48 0h32m1048 0h32M560 536h32m448 0h32m288 0h32m328 0h32M200 576h32M80 616h32m288 0h32m48 0h32m288 0h32m128 0h32M480 656h32m288 0h32M1320 696h32M760 736h32m728 0h32M400 776h32m128 0h32m768 0h32M1440 816h32M200 856h32m1328 0h32M120 976h32M40 1016h32m1568 0h32M1080 1136h32M40 1256h32m128 0h32m928 0h32M320 1336h32M40 1376h32m768 0h32M960 1456h32"/>
<path stroke="#de371d" stroke-width="32" fill="none" d="M200 16h32m1448 0h32m208 0h32M400 56h32m528 0h32m288 0h32m128 0h32m448 0h32M120 96h32m1368 0h32M960 176h32m848 0h32M520 216h32m848 0h32M320 256h32m168 0h32m568 0h32m208 0h32M880 296h32m968 0h32M680 336h32M320 376h72m528 0h32M440 416h32m1408 0h32M320 456h32m1208 0h32m208 0h32M0 496h32m528 0h72m288 0h32m808 0h32M360 536h32m1048 0h32m168 0h32m208 0h32M600 576h32M1040 616h32M280 656h72m48 0h32M160 696h32M40 736h32m1568 0h32M200 776h32m1688 0h32M40 816h32m288 0h32M120 896h32M360 936h32m208 0h32m1168 0h32M160 976h32M1040 1016h32M1720 1136h32M600 1256h32M1640 1336h32M920 1376h32m128 0h32M360 1416h32M840 1456h32"/>
<path stroke="#d5311e" stroke-width="32" fill="none" d="M1800 16h32M640 56h32m408 0h32m688 0h72M640 96h32m728 0h32m368 0h32M240 216h32m1608 0h32M160 256h32m248 0h32m208 0h32m88 0h32m168 0h32M960 296h32M80 336h32m128 0h32m448 0h32m368 0h32m688 0h32M760 376h32M640 416h32m368 0h32m528 0h32M1080 456h32m208 0h32M200 496h112m1488 0h32M880 536h72m48 0h32m808 0h32M0 576h32m1648 0h32m128 0h32M1080 616h32M1080 656h32m488 0h32M1880 696h32M120 736h32m48 0h32m1128 0h32M440 776h32m968 0h32m128 0h72M280 816h72m1008 0h32m328 0h32m168 0h32M1600 896h32M80 936h32m208 0h32M200 1016h32m328 0h32m1128 0h32M0 1056h32M560 1336h32"/>
<path stroke="#c92c1f" stroke-width="32" fill="none" d="M1480 16h32M1240 56h32m88 0h32m288 0h32M600 96h32m168 0h32m488 0h32m248 0h32m128 0h32M1000 176h32m488 0h32m48 0h32m168 0h32M400 216h32m648 0h32m48 0h32m48 0h32m568 0h32M1280 256h32m248 0h32m88 0h32M120 296h32m848 0h32m288 0h72m48 0h32m248 0h32M40 336h32m1448 0h72m168 0h32m88 0h32M160 376h32m1128 0h32M280 416h32m1048 0h72m248 0h32M40 496h32m648 0h32m568 0h32m328 0h72M680 536h32m848 0h72M40 576h32m1848 0h32M600 616h32m1128 0h32M240 696h32m208 0h32m1248 0h32M440 736h32m1408 0h32M320 776h32m888 0h32m568 0h32M160 816h32m488 0h32m528 0h72m328 0h32m208 0h32M240 856h32M40 896h32m88 0h32m1048 0h32m448 0h32M280 936h32M1360 976h32M720 1056h32M920 1096h32"/>
<path stroke="#be271f" stroke-width="32" fill="none" d="M240 16h32m248 0h32m48 0h32m248 0h32m208 0h32m168 0h32m88 0h32m128 0h32M880 56h32m688 0h32m88 0h72M720 96h32m288 0h32m408 0h32m168 0h32m128 0h32M0 176h32m128 0h32m928 0h32m128 0h32m88 0h32m208 0h152m88 0h32M80 216h32m48 0h32m88 0h72m248 0h72m328 0h32m288 0h32m288 0h72m48 0h32m128 0h32M40 256h32m568 0h32m568 0h32m128 0h32m288 0h32m88 0h112M80 296h32m608 0h32m408 0h32m408 0h72m88 0h112M160 336h32m968 0h32m48 0h32m168 0h32m168 0h72M0 376h32m48 0h32m488 0h32m248 0h32m328 0h32m248 0h32m128 0h32m48 0h32m48 0h32M600 416h32m248 0h32m48 0h72m88 0h32m128 0h32m168 0h32M120 456h32m688 0h32m408 0h32m128 0h32M1240 496h32m128 0h32m88 0h32m48 0h32M120 536h32m48 0h32m248 0h72m968 0h32m128 0h32m48 0h32M720 576h32m248 0h32M40 616h32m48 0h32m168 0h32m1208 0h32M680 656h32m328 0h32m48 0h32M520 696h32m728 0h32m88 0h32m128 0h112m168 0h32M80 736h32m1288 0h32m248 0h32M160 776h32m1528 0h32m48 0h32M0 816h32m208 0h32m688 0h32m408 0h32M240 896h32m48 0h32M1480 936h32m168 0h32M200 976h72M240 1016h72M120 1056h32m328 0h32m1008 0h32M80 1096h32m248 0h32m1288 0h32"/>
<path stroke="#b3241f" stroke-width="32" fill="none" d="M400 16h32m968 0h32m408 0h32M680 56h32m48 0h32m328 0h32m248 0h32m48 0h32m48 0h32m288 0h32M240 96h72m688 0h32m208 0h32m368 0h32m48 0h32M600 176h32m608 0h32m48 0h72m48 0h32M360 216h32m328 0h32m848 0h32m88 0h32m48 0h32M1040 256h32m88 0h32m248 0h112M400 296h112m88 0h72m568 0h32m128 0h32m48 0h32m408 0h32M0 336h32m88 0h32m488 0h32m208 0h112m328 0h32m568 0h32M120 376h32m328 0h32m488 0h32m448 0h32m408 0h32M240 416h32m968 0h32m168 0h32m48 0h32M80 456h32m408 0h32m88 0h32m368 0h32m88 0h32m48 0h32m208 0h72m88 0h72m48 0h32m88 0h32M1040 496h72m168 0h32m128 0h32m168 0h32M80 536h32m208 0h32m88 0h32m248 0h32m368 0h32m88 0h32m48 0h32m48 0h32m48 0h32m288 0h32M680 576h32m328 0h32M640 616h32m48 0h32m368 0h32m568 0h32M0 656h32m968 0h32M400 696h32m928 0h32M1560 736h32M120 776h32m88 0h32M840 816h32M160 856h32m88 0h32M80 896h32M160 936h32m48 0h32M80 976h32m208 0h32M80 1016h112m128 0h32m1088 0h32M40 1056h32m1208 0h32M40 1096h32m48 0h32M1040 1136h32"/>
<path stroke="#a8201f" stroke-width="32" fill="none" d="M80 16h32m648 0h32m728 0h32m88 0h32m48 0h72M1040 56h32M1160 96h32m88 0h32m248 0h32M240 176h32m608 0h32m568 0h32m48 0h32M960 216h32m288 0h32m48 0h32m48 0h112M80 256h32m168 0h32m1288 0h32m128 0h72M240 296h32m568 0h32M1360 336h32m328 0h32M40 376h32m968 0h32m328 0h32m128 0h32m128 0h32m48 0h32m48 0h32M520 416h32m768 0h32m408 0h72M440 456h32m128 0h32m728 0h72M800 496h32m528 0h32m88 0h32m368 0h72M0 536h72m208 0h32m288 0h32m168 0h32m448 0h32m608 0h32M80 576h32m648 0h32m328 0h32M160 616h32m968 0h32M40 656h32m88 0h32m968 0h32M280 696h72m1368 0h32M1240 736h32m328 0h32M0 776h32m1248 0h32m368 0h32m168 0h32M1520 816h32M320 856h32M200 896h32M0 1016h32M80 1056h32m88 0h32"/>
<pattern id="hp3" width="40" height="40" patternUnits="userSpaceOnUse"><path d="M32 0H40V40H32Z" fill="#fff"/><rect x="0.9" y="0.9" width="30.2" height="30.2" fill="none" stroke="#000" stroke-opacity="0.2" stroke-width="1.8"/></pattern>
<rect width="1960" height="1960" fill="url(#hp3)"/>
<path fill="#fff" d="M0 120h1160v40h-1160zM1240 120h720v40h-720zM0 1840h1960v40h-1960zM1200 0h40v1960h-40zM40 40h40v40h-40zM120 40h40v40h-40zM80 80h40v40h-40zM760 160h40v40h-40zM560 280h40v40h-40zM560 640h40v40h-40zM760 640h40v40h-40zM920 640h40v40h-40zM760 840h40v40h-40zM760 880h40v40h-40zM480 1000h40v40h-40zM720 1000h40v40h-40zM760 1000h40v40h-40zM920 1000h40v40h-40zM560 1080h40v40h-40zM760 1080h40v40h-40zM760 1320h40v40h-40zM560 1360h40v40h-40zM560 1720h40v40h-40zM760 1720h40v40h-40zM40 1760h40v40h-40zM560 1760h40v40h-40z"/>
</g>
<g transform="translate(105.20,1464.20) scale(0.28100)">
<path stroke="#2c5b9f" stroke-width="32" fill="none" d="M1000 856h32m208 0h32M1080 896h32M760 936h72m48 0h32m608 0h32M600 1016h32m1088 0h32"/>
<path stroke="#3569a9" stroke-width="32" fill="none" d="M1120 896h72M920 936h32m448 0h32m128 0h32M1600 976h72M520 1016h32m88 0h32M400 1096h72M320 1136h32M200 1216h32"/>
<path stroke="#3e77b4" stroke-width="32" fill="none" d="M1440 896h32M840 936h32M720 976h32M560 1056h32M360 1136h32"/>
<path stroke="#4685bf" stroke-width="32" fill="none" d="M320 1176h32M160 1256h32M120 1296h32"/>
<path stroke="#5291c7" stroke-width="32" fill="none" d="M1400 856h32M800 896h112m88 0h32M680 976h32m128 0h32m848 0h32M480 1096h32M280 1216h32M120 1256h32m48 0h32"/>
<path stroke="#629dcd" stroke-width="32" fill="none" d="M1080 856h32m328 0h32M960 896h32m248 0h32m288 0h32M1000 936h32M600 976h32m128 0h72M520 1056h32M400 1136h32"/>
<path stroke="#71a9d2" stroke-width="32" fill="none" d="M960 856h32m128 0h32m168 0h72M1280 896h32m168 0h72M960 936h32m648 0h32M640 976h32"/>
<path stroke="#80b5d8" stroke-width="32" fill="none" d="M920 896h32m368 0h112M1600 936h32M680 1016h32M1840 1136h32M240 1216h32m1608 0h32"/>
<path stroke="#90bfdd" stroke-width="32" fill="none" d="M1040 856h32m88 0h32M1040 896h32M720 936h32m288 0h32m368 0h72M1680 976h32M560 1016h32M1800 1096h72M280 1176h32M1880 1256h32M1920 1336h32"/>
<path stroke="#9fc9e1" stroke-width="32" fill="none" d="M1280 856h32M680 936h32M1760 1016h32M480 1056h32M1880 1176h32M1920 1376h32"/>
<path stroke="#beddea" stroke-width="32" fill="none" d="M1800 1056h32M1920 1296h32"/>
<path stroke="#cae2ee" stroke-width="32" fill="none" d="M1840 1176h32M1880 1296h32"/>
<path stroke="#d5e8f1" stroke-width="32" fill="none" d="M1840 1056h32"/>
<path stroke="#e9f1f4" stroke-width="32" fill="none" d="M1240 976h32M760 1216h32M800 1376h32m168 0h32m408 0h32M1040 1496h32M1080 1536h32m128 0h32M1240 1616h32m488 0h32M80 1656h32m568 0h32m968 0h72m88 0h32M240 1736h32m728 0h32m648 0h32"/>
<path stroke="#eef2f3" stroke-width="32" fill="none" d="M1800 16h32M760 416h32M520 776h32M1640 1016h32M1720 1056h32M280 1096h32M1800 1376h32M1280 1416h32M840 1496h72m1008 0h32M1720 1576h72M1080 1616h72m288 0h32M600 1656h72m1088 0h32M160 1696h32"/>
<path stroke="#f3f3f1" stroke-width="32" fill="none" d="M680 536h32m728 0h32M480 616h32M200 976h32m328 0h32M1760 1056h32M320 1096h72M240 1256h32M160 1296h72M720 1416h32M0 1456h32m368 0h32m688 0h72M960 1496h32M1320 1536h72M720 1576h32m88 0h32m408 0h32m248 0h32M600 1616h32m648 0h32m248 0h32m128 0h32M1880 1656h32M200 1696h32m1288 0h32m248 0h32M1760 1736h32"/>
<path stroke="#f7f3ee" stroke-width="32" fill="none" d="M1360 216h32M840 416h32M1040 816h32m168 0h32M880 976h32m568 0h32M1160 1416h32M320 1456h32m328 0h72m1168 0h32M920 1496h32m368 0h32M840 1536h32m808 0h32M1840 1576h32M1640 1616h32m128 0h32M1000 1656h32m488 0h32M0 1696h72m248 0h32m1048 0h32M1760 1776h32"/>
<path stroke="#f7e8dd" stroke-width="32" fill="none" d="M1160 136h32M600 336h32M1440 456h32M720 656h32M40 816h32M1760 976h32M600 1056h32M440 1136h32m1088 0h32M200 1176h32M1480 1336h32M720 1376h32m568 0h32m128 0h32M920 1416h32m648 0h32m48 0h32M880 1456h32m488 0h32m48 0h32M920 1536h32m608 0h72m168 0h32m48 0h32M800 1576h32m1088 0h32M560 1616h32m48 0h32m808 0h32m88 0h32m288 0h32M360 1736h32m1128 0h32m88 0h32m248 0h32M1680 1776h72"/>
<path stroke="#f8ddcd" stroke-width="32" fill="none" d="M1000 336h32M640 376h32m88 0h32m608 0h32M1760 416h32M1000 456h32m488 0h32m248 0h32M40 496h32m48 0h32m488 0h32M480 576h32M520 616h32M1560 736h32M880 776h32m768 0h32M280 816h32m768 0h32m48 0h32m128 0h32M920 856h32m568 0h32M1160 936h32M1360 976h32M1800 1016h32M1480 1096h32M560 1136h32m328 0h32M320 1216h32M1600 1256h32M1680 1296h32M40 1336h32m648 0h32M1080 1376h32m648 0h32M1840 1456h32M760 1496h32m608 0h32M720 1536h32m528 0h32m448 0h32M1160 1576h32m688 0h32M480 1616h32m848 0h32M40 1656h32m208 0h32m248 0h32m568 0h32m208 0h32m128 0h32M1720 1696h32m88 0h32M1480 1736h32M1880 1776h32"/>
<path stroke="#f8d1bc" stroke-width="32" fill="none" d="M240 16h32M1680 96h32M120 176h32M80 216h32m888 0h32M920 376h32M960 456h32M760 496h32m288 0h32M800 616h32m48 0h32M80 656h32m688 0h32m488 0h32m488 0h32M760 816h32m168 0h32M40 856h72M1880 896h32M1080 936h32M1680 1016h32M880 1136h32M120 1176h32m1408 0h32M1480 1216h32M1760 1256h32M800 1296h32m88 0h32M640 1336h32M80 1376h32m368 0h32m528 0h32m88 0h32M760 1416h32m1008 0h32M920 1456h32M560 1496h32m88 0h32m1008 0h32m48 0h32M800 1536h32m1088 0h32M1040 1576h32m48 0h32m248 0h32M1000 1616h32M520 1656h32m368 0h32M1280 1696h32M120 1736h32M280 1776h32m688 0h32"/>
<path stroke="#f7c4ac" stroke-width="32" fill="none" d="M960 16h32m368 0h32m88 0h32M320 96h32M1800 176h32M280 296h32M640 336h32M1440 376h32M680 416h32M1080 456h32m448 0h32M480 496h32m48 0h32m648 0h32M0 576h32m1408 0h32M1240 616h32M400 696h32M0 776h32m328 0h32m648 0h32M80 816h32m1008 0h32m208 0h32m528 0h32M0 856h32M80 896h32m1488 0h32m208 0h32M80 936h32m1608 0h32M1560 976h32M840 1016h32m608 0h32M400 1056h32m1128 0h32M520 1096h32m248 0h32m48 0h32M880 1216h32m1008 0h32M1920 1256h32M1760 1336h32M0 1376h32m888 0h32m448 0h32M560 1456h32m648 0h32m368 0h32M1480 1496h32M80 1536h32M440 1576h32m1328 0h32M520 1616h32m248 0h32M160 1656h32m288 0h32m248 0h32m848 0h32M80 1736h32m88 0h32m88 0h32m608 0h32m88 0h32m688 0h32M1480 1776h32"/>
<path stroke="#f4b69d" stroke-width="32" fill="none" d="M400 16h32m368 0h32m688 0h32M600 56h32M1480 96h32M40 176h32M40 216h32M680 256h32M1640 336h32M560 456h32M360 536h32m1328 0h32M1120 616h32M1280 656h32M480 696h32m888 0h32m368 0h32M1160 776h32m648 0h32M1800 816h32M840 856h32M1240 936h32m88 0h32M920 976h32M160 1216h32m1328 0h32M1160 1296h32M680 1336h32M1480 1416h32m48 0h32M1040 1456h32m528 0h32M160 1496h32m1248 0h32m48 0h32M600 1536h32m48 0h32m448 0h32M920 1576h32m368 0h32m88 0h32M120 1616h32m688 0h32m288 0h32m688 0h32M720 1656h32m48 0h32m288 0h32M240 1696h32m248 0h32m1048 0h32m248 0h32M1600 1736h32M720 1776h32"/>
<path stroke="#f2a78e" stroke-width="32" fill="none" d="M920 16h32M80 56h32m408 0h32M1680 176h32M240 216h32M1040 336h32M1480 616h32m168 0h32M1320 736h32M280 776h32M840 816h32M880 856h32M1640 896h32M1680 936h32M680 1056h32M1400 1096h32M1040 1136h32m848 0h32M400 1176h32m688 0h32M1120 1296h32m248 0h32m408 0h32M1840 1336h32M120 1376h32m48 0h32m1368 0h112M80 1416h32m928 0h72M1320 1456h72m168 0h32M1120 1496h32M1040 1536h32m48 0h32M440 1616h32m568 0h32M320 1656h32m488 0h32m408 0h32M480 1696h32m728 0h32m48 0h32M600 1776h32M1720 1896h32"/>
<path stroke="#f0997f" stroke-width="32" fill="none" d="M720 16h32m88 0h32m888 0h32M800 96h32m128 0h32m848 0h32M360 256h32m968 0h32M720 296h32m1008 0h32m128 0h32M320 376h32m448 0h32m288 0h32m568 0h32M1120 416h32m448 0h32M720 496h32m888 0h32m48 0h32M1000 536h72m488 0h72M440 576h32m448 0h32m368 0h32M440 616h32m1248 0h32M320 656h32m1048 0h32M520 696h32m328 0h32m208 0h32M400 736h32m608 0h32m608 0h32M200 816h32m88 0h32m48 0h32m848 0h32M640 856h32M160 896h32M40 936h32m368 0h32m808 0h32M960 976h32M320 1016h32m1168 0h32m288 0h32M960 1096h72m328 0h32M520 1136h32m168 0h32m48 0h32m888 0h32M240 1176h32m1008 0h32m168 0h32M80 1216h72m1688 0h32M1120 1256h32M440 1296h32m1088 0h32M1160 1336h32M1840 1376h32M280 1416h32m1408 0h72M760 1456h32m48 0h32m408 0h32m128 0h32m208 0h32M720 1496h32m848 0h32m48 0h32M400 1536h32m88 0h32m1088 0h32M160 1576h32m488 0h32m288 0h32m448 0h32m88 0h32M80 1616h32m128 0h32m688 0h32M1040 1656h32M560 1696h32m288 0h32m528 0h32M720 1736h32m608 0h32M80 1776h32m88 0h32m288 0h32m968 0h32M1080 1936h32m288 0h32"/>
<path stroke="#ea8971" stroke-width="32" fill="none" d="M0 16h32m328 0h32m248 0h32M680 96h32m1208 0h32M920 176h32m408 0h112m168 0h32M280 216h32m928 0h32m168 0h32M120 296h32m48 0h32m528 0h32m168 0h32M360 336h32m48 0h32m248 0h32m1048 0h32M240 376h32M1240 456h32m88 0h32M1320 496h32m208 0h32M160 536h32m568 0h32M1120 576h32M120 616h32m88 0h32m568 0h32m48 0h32m648 0h32M520 656h32m1128 0h32M440 696h32m1168 0h32M360 736h32m1488 0h32M1280 776h32M0 816h32m648 0h32m208 0h32M320 856h32m128 0h32m88 0h32m968 0h32m168 0h32M40 896h32m1728 0h32M1120 936h32m648 0h32M640 1056h32m288 0h32M0 1096h32m1048 0h32M280 1136h32m368 0h32M360 1176h32m568 0h32m528 0h32m48 0h32M1600 1216h32M520 1256h32M680 1296h32m248 0h32M240 1336h32m208 0h32M880 1376h32m208 0h32M880 1416h32m328 0h32m168 0h32m448 0h32M40 1456h32m368 0h32m488 0h32m808 0h32M280 1536h32m648 0h32m528 0h32M400 1616h32M400 1656h32m648 0h32M80 1696h32m1808 0h32M520 1736h32m728 0h32m408 0h32M360 1776h32m568 0h32m128 0h32M440 1816h32M840 1896h32m648 0h32m328 0h32"/>
<path stroke="#e57a64" stroke-width="32" fill="none" d="M40 16h32m208 0h32m1568 0h32M760 56h32m288 0h32m208 0h32m528 0h32M760 96h32m88 0h32m328 0h32M360 176h32m168 0h32m88 0h32m88 0h32M1120 216h32M680 296h32m888 0h32M560 336h32m968 0h32M680 376h32m1128 0h32M80 416h32m488 0h32m248 0h32m488 0h32m88 0h32M280 456h32m128 0h32m168 0h72m328 0h32m248 0h32m408 0h32M520 496h32m248 0h32m208 0h32m288 0h32M40 536h32m168 0h32m528 0h32m448 0h32M1520 576h32m128 0h32m88 0h72M0 616h72m88 0h32M640 696h32m88 0h32m448 0h32m448 0h32M880 736h32m448 0h32M1880 816h32M1480 856h32M1760 896h32M600 936h72M400 976h32m1088 0h32m288 0h32M360 1016h32m648 0h32m88 0h32m248 0h32M240 1056h32m1208 0h32M80 1096h32m48 0h32M120 1136h32M1920 1176h32M1240 1216h32M680 1256h32M80 1296h32m1328 0h32M80 1336h112m1688 0h32M280 1376h32m528 0h32m1008 0h32M0 1416h32m448 0h32M280 1496h32M1840 1536h32M1520 1576h32M680 1616h32m1128 0h32M120 1656h32m728 0h32m688 0h32M1360 1696h32M0 1736h32m768 0h32m408 0h32M320 1776h32m1488 0h32M760 1816h32m208 0h32m408 0h32"/>
<path stroke="#e06a57" stroke-width="32" fill="none" d="M80 16h32m368 0h32m608 0h32M1640 56h72m208 0h32M0 96h32m328 0h32m768 0h32M0 176h32m408 0h32m768 0h32m648 0h32M1520 216h32m88 0h32M800 256h32M520 296h32m88 0h32m1168 0h32M240 336h32M1600 376h32m48 0h32M1080 416h32m48 0h32m248 0h32M400 456h32M1000 496h32m248 0h32M560 576h32M1000 656h32m408 0h32M680 696h32m768 0h32M0 736h32m528 0h32m48 0h32m808 0h32m128 0h32M240 776h32m168 0h32m968 0h32M160 816h32m1368 0h32M240 856h32m448 0h32m968 0h32M200 896h32m488 0h32M160 936h32m1128 0h32M0 976h72m368 0h32M800 1016h32M440 1056h32m248 0h72M600 1096h32m88 0h32M200 1136h32m1288 0h32m48 0h32M480 1216h32m1048 0h32m48 0h32M760 1256h72m1008 0h32M720 1296h32m248 0h32M1240 1336h32m288 0h32M480 1496h32M360 1696h32m448 0h32M40 1736h32m328 0h32M0 1776h32m848 0h32M120 1816h32M120 1896h32"/>
<path stroke="#d75a4b" stroke-width="32" fill="none" d="M320 16h32m808 0h32m368 0h32M880 56h72M120 96h32m1208 0h32m408 0h32M720 176h32m208 0h32m128 0h72m128 0h32M880 256h32m168 0h32m808 0h32M0 296h32m288 0h32m88 0h32m688 0h32m88 0h32m168 0h32m208 0h32M1440 336h32m248 0h32M0 376h32m88 0h32m368 0h32m48 0h32m408 0h32m728 0h32m48 0h32M1240 416h32M120 456h32m328 0h32m328 0h32m608 0h32M320 496h32m488 0h32m808 0h32m88 0h72M520 536h32m368 0h72m488 0h32m328 0h72M80 576h72M760 616h32m488 0h32m248 0h32M0 656h32m1768 0h32m88 0h32M1280 696h32m248 0h32M960 736h32M600 776h32m968 0h32M880 816h32m688 0h32M360 856h32M320 896h32m248 0h32M280 1016h32m768 0h32M120 1056h32m648 0h32m448 0h32m368 0h32M1120 1096h32m88 0h32m48 0h32M240 1136h32m848 0h32m248 0h32M800 1176h32m48 0h32M40 1216h32m728 0h32M40 1256h32m288 0h32M760 1296h32m248 0h32m208 0h32M600 1336h32m768 0h32M960 1376h32M240 1416h32m408 0h32M1000 1496h32M240 1536h32M760 1576h32m448 0h32M200 1656h72m168 0h32M1000 1696h32M920 1736h32M120 1776h32m248 0h32m328 0h32m448 0h32"/>
<path stroke="#cc4a41" stroke-width="32" fill="none" d="M200 16h32m328 0h32m288 0h32M0 56h32m368 0h32M200 96h32m248 0h32m1208 0h32M1000 176h32m448 0h32M440 216h32M80 256h72m168 0h32m128 0h32m128 0h32m248 0h32m928 0h32M240 296h32m128 0h32m48 0h32m368 0h32m408 0h72m288 0h32M840 336h32m528 0h32m248 0h32M360 376h32m168 0h32m728 0h32M0 416h32m1608 0h72M360 456h32m208 0h32m128 0h72m568 0h32m208 0h72m168 0h32M680 496h32m208 0h72m528 0h32M1160 536h32m448 0h32M360 576h72m208 0h32m208 0h32m128 0h32m88 0h32m48 0h72m328 0h32M80 616h32m568 0h32m328 0h32m288 0h32m368 0h32M200 656h32m48 0h32m48 0h32m1248 0h32m208 0h32M0 696h72m528 0h32m88 0h32m168 0h72m168 0h32M160 736h32m48 0h32m168 0h72m248 0h32m288 0h32m328 0h32m128 0h32m288 0h32M1320 776h32m48 0h32m128 0h32m128 0h32M120 816h32m1368 0h32M1760 856h32M0 896h32m88 0h32m1768 0h32M120 936h32m1608 0h32M360 976h32m728 0h72m208 0h32m448 0h32M0 1016h32m1288 0h32M1240 1056h32m248 0h32M640 1096h32M840 1136h32m288 0h32M0 1176h32m48 0h32m408 0h32m608 0h32M360 1216h32m128 0h32m528 0h32M80 1256h32m608 0h32M320 1296h32m168 0h32m928 0h32M280 1336h32m128 0h32m88 0h32m1208 0h32M640 1376h32m568 0h32m248 0h32M440 1416h32m88 0h32m368 0h72m608 0h32m208 0h32M160 1456h32M240 1496h32m128 0h32m88 0h32m1088 0h32M0 1536h72m928 0h32M120 1576h32m368 0h32m808 0h32M1680 1616h32M960 1656h32m248 0h32m48 0h32M160 1736h32m848 0h32m328 0h32M480 1776h32M1880 1816h32M520 1896h32m768 0h32m128 0h32m88 0h32M240 1936h32m88 0h72"/>
<path stroke="#c13937" stroke-width="32" fill="none" d="M1000 16h32m48 0h32m288 0h72m248 0h32m88 0h32M960 56h32m288 0h32m168 0h32m48 0h32m248 0h32M40 96h32m168 0h32m568 0h32m168 0h32m328 0h72m48 0h32M320 176h32m928 0h32m408 0h32M840 216h32M560 256h32m728 0h32m488 0h32M80 296h32m928 0h32M480 336h72m128 0h32m448 0h32m168 0h32m208 0h32m128 0h32m128 0h32M280 376h32m768 0h32m168 0h32m48 0h32m368 0h32M720 416h32m528 0h32m568 0h32M520 456h32m168 0h32M1440 496h32M640 536h32m208 0h32M320 576h32m1048 0h32m328 0h32M280 616h32m88 0h32m1488 0h32M840 656h72m168 0h112m168 0h32M1760 696h32M1120 736h32m248 0h32M400 776h32m208 0h32m688 0h32m88 0h32m128 0h32M600 816h32M200 856h32m48 0h32m88 0h32M240 896h32M560 936h32m1288 0h32M280 976h32m1008 0h32m88 0h32M160 1016h32m1048 0h32m128 0h32m128 0h32m288 0h32M360 1056h32m488 0h32m208 0h32m168 0h32m48 0h32m168 0h32m288 0h32M1720 1096h32M480 1136h32m128 0h32m88 0h32m168 0h72m248 0h32m48 0h32m408 0h32M600 1176h32m608 0h32m48 0h72M560 1216h32m328 0h32m208 0h32m208 0h32m328 0h32M400 1256h32m128 0h32m48 0h32m248 0h32m328 0h112m88 0h32M40 1296h32m168 0h32m288 0h32m248 0h32m848 0h32M1000 1336h32m248 0h32M160 1376h32m248 0h32m208 0h32M400 1416h32m88 0h32m248 0h32m568 0h32M200 1456h32m248 0h32m568 0h32m408 0h32M1160 1496h32m88 0h32M120 1536h32m1568 0h32M80 1576h32m168 0h32m248 0h32M760 1616h32m528 0h32M640 1696h32m128 0h32m128 0h32m488 0h32M1120 1736h72M160 1776h32m48 0h32m168 0h32m568 0h32m248 0h32m208 0h72M280 1816h32m968 0h32m208 0h32M1280 1896h32m128 0h32M280 1936h32m528 0h32m288 0h32m168 0h32m288 0h32"/>
<path stroke="#b52a2e" stroke-width="32" fill="none" d="M120 16h72m408 0h32M160 56h32m48 0h32m88 0h32m248 0h32m168 0h32m248 0h32m88 0h32m88 0h32m208 0h32m168 0h32M160 96h32m88 0h32m288 0h32m368 0h32m248 0h32m248 0h32m288 0h32M640 176h32m368 0h32m688 0h32M520 216h32m208 0h32m288 0h32m208 0h32m488 0h32M240 256h32m128 0h32m168 0h32m128 0h32m608 0h32M1400 296h72m328 0h32M280 336h32m488 0h32m688 0h32M400 376h32m48 0h32m328 0h32m128 0h32m208 0h32m208 0h32M40 416h32m88 0h32m48 0h32m88 0h72m608 0h32M200 456h32m88 0h32m568 0h32m168 0h32m128 0h32m408 0h32m168 0h32M80 496h32m48 0h32M0 536h32m248 0h32m408 0h32m328 0h72M40 576h32m88 0h32m568 0h32m288 0h32m768 0h32M1000 616h32m128 0h32m688 0h32M160 656h32m208 0h32m48 0h32m168 0h32M840 696h32m128 0h72M40 736h32m48 0h32m128 0h32m368 0h72m1088 0h32M200 776h32m848 0h32m808 0h32M240 816h32M520 856h32M480 936h32M320 976h32m128 0h32m1288 0h32M80 1016h32m1488 0h32m288 0h32M160 1056h72m1408 0h32m208 0h32M40 1096h32m168 0h32m568 0h32m168 0h32m88 0h32m328 0h32m88 0h32m248 0h32M80 1136h32m1568 0h32M560 1176h32m1048 0h32m128 0h32M680 1216h32m128 0h32m408 0h32m368 0h32M0 1256h32m1368 0h32m248 0h32M360 1296h32m248 0h32m848 0h32M0 1336h32m488 0h32m248 0h32m128 0h32m88 0h72m568 0h32M520 1376h32M1120 1416h32m368 0h32M240 1456h72m288 0h32m168 0h32m888 0h32M0 1496h32m88 0h32m208 0h32m48 0h32m128 0h32m1208 0h32M320 1536h32m1048 0h32m48 0h32M600 1576h32m328 0h32m88 0h32M720 1616h32m128 0h32m488 0h32m88 0h32M0 1656h32m1888 0h32M120 1696h32m128 0h32m288 0h32m128 0h32M280 1736h32m568 0h32M680 1776h32m568 0h32m48 0h32M320 1816h32m288 0h32m208 0h32m568 0h32m48 0h32M0 1896h72m1008 0h32M1240 1936h32"/>
<path stroke="#a9242b" stroke-width="32" fill="none" d="M680 16h32m968 0h32m208 0h32M280 56h32m408 0h32M440 96h32m608 0h32M280 176h32m88 0h32m168 0h32m448 0h32m408 0h32M320 216h32m128 0h32m88 0h72m608 0h32m88 0h32m448 0h32M40 256h32m128 0h32m768 0h32m448 0h32m48 0h32m128 0h32M160 296h32m408 0h32m208 0h32m208 0h32m528 0h32M320 336h32m728 0h32m128 0h32m208 0h32M40 376h72m88 0h32m208 0h32m408 0h32M520 416h32m408 0h32m568 0h32m128 0h32M1600 456h32m208 0h32M0 496h32M480 536h32m48 0h32m768 0h32m128 0h32m128 0h32m48 0h72M280 576h32m368 0h32m648 0h32m528 0h32M320 616h72m1008 0h72m48 0h32m88 0h32M40 656h32m48 0h32m288 0h32m568 0h32m408 0h32m48 0h32M240 696h32m1048 0h72m528 0h32M320 736h32m168 0h32m728 0h32M760 776h72m168 0h32m88 0h32m368 0h32m328 0h32M360 816h32m1248 0h32m88 0h32M120 856h32m1408 0h32m48 0h32M360 896h32m1288 0h72M320 936h72M120 976h72m1728 0h32M440 1016h32m648 0h32m208 0h32M40 1056h32m968 0h72M680 1096h32m568 0h32m248 0h32m88 0h32M160 1176h32m1208 0h32m328 0h32M400 1216h32m168 0h32m368 0h32M280 1256h32m528 0h32m648 0h72m48 0h32M600 1296h32m248 0h32m328 0h32m88 0h32m368 0h32M200 1336h32m1288 0h32M400 1376h32m928 0h32M40 1416h32m288 0h32m208 0h32m728 0h32M360 1456h32m248 0h32M200 1496h32m1128 0h32M760 1536h32m88 0h32M360 1576h32m488 0h32m728 0h32M200 1616h32m48 0h32m608 0h32M400 1696h32m488 0h32m88 0h32m608 0h32m48 0h32M480 1736h32m328 0h32m568 0h32m368 0h32M640 1776h32m408 0h32M240 1816h32m248 0h32m48 0h32m288 0h32m88 0h72m208 0h32m48 0h32M560 1896h32m1328 0h32M0 1936h72m368 0h32m1088 0h32m288 0h32"/>
<path stroke="#9d1f28" stroke-width="32" fill="none" d="M520 16h32m488 0h32m208 0h72m248 0h72M480 56h32m528 0h32m688 0h32M520 96h72m48 0h32m248 0h32m368 0h32m248 0h32M80 176h32m128 0h32m608 0h32m688 0h32m208 0h32M0 216h32m128 0h32m168 0h72m128 0h32m1128 0h72M0 256h32m808 0h32m288 0h32m88 0h32m208 0h32m48 0h32m168 0h32M800 296h32m88 0h32M0 336h72M1520 376h72M200 416h32m208 0h32m88 0h32m208 0h32m88 0h32m848 0h32m88 0h32M880 456h32M240 496h32m88 0h32m728 0h32m248 0h32m48 0h32m88 0h32m288 0h32M240 576h32m328 0h32m168 0h72m848 0h32M1800 616h32M1520 656h32m168 0h72M200 696h32m328 0h32M80 736h32m488 0h32m888 0h32M40 776h72m208 0h32m608 0h32m248 0h32M440 816h32m88 0h32m848 0h32M160 856h32M280 896h32m128 0h72m168 0h32M0 936h32M40 1016h32m328 0h32m448 0h32m368 0h32M1440 1056h32M120 1096h32m48 0h32M1640 1136h32M440 1176h32m168 0h32m88 0h32m48 0h32m48 0h32m728 0h72M0 1216h32m1088 0h32m568 0h32m48 0h32M440 1256h32m488 0h32m248 0h32M400 1296h32M400 1336h32m408 0h32m48 0h32m408 0h32m48 0h32M1560 1376h32M160 1416h32m1128 0h32M120 1456h32m1728 0h32M800 1496h32m728 0h32m288 0h32M200 1536h32m408 0h32M200 1576h32m88 0h32m128 0h32M40 1616h32m88 0h32m168 0h32M360 1656h32m1408 0h32M440 1696h32m608 0h32m448 0h32M440 1736h32m1408 0h32M800 1776h72m288 0h32m448 0h32M40 1816h72m608 0h32m488 0h32m88 0h32m208 0h32m168 0h32M160 1896h32m88 0h32m88 0h32m48 0h32m88 0h32m88 0h112m128 0h32m168 0h32m368 0h32m208 0h32M80 1936h32m208 0h32m328 0h32m48 0h32m488 0h32m128 0h32m288 0h112m48 0h32"/>
<path stroke="#911925" stroke-width="32" fill="none" d="M760 16h32M1400 56h32m88 0h32M1120 96h32m488 0h32M480 176h32m1368 0h32M120 216h32m728 0h32m248 0h32m288 0h32m288 0h32M440 256h32m648 0h32m88 0h32m168 0h32m168 0h32m88 0h32M1120 296h32M880 336h112m128 0h32M720 376h32M280 416h32m688 0h32m288 0h32m128 0h32m328 0h32M40 456h32m88 0h32m48 0h32m888 0h32M200 496h32m168 0h32m168 0h32m248 0h32M120 536h32m288 0h32m128 0h32m208 0h32m528 0h32M520 576h32m928 0h32m48 0h32M600 616h72M1240 656h32m328 0h32M80 696h32m168 0h32m1288 0h32m208 0h32M800 736h32m168 0h32m128 0h32m48 0h32m448 0h32m48 0h32M480 776h32m48 0h32m128 0h32m1008 0h72M480 816h32m128 0h32m48 0h32m48 0h32m648 0h32M440 856h32M560 896h32M400 936h32m88 0h32m1368 0h32M520 976h32m488 0h32m208 0h32M200 1016h32M80 1056h32m1048 0h32M920 1096h32m648 0h32m128 0h32m88 0h32M1320 1136h32m88 0h32m288 0h32m88 0h32M1000 1176h32M640 1216h32m288 0h32M600 1256h32m408 0h32m88 0h32M280 1296h32m768 0h32m208 0h32M360 1336h32M40 1376h32m528 0h32m648 0h32M120 1416h32m48 0h32m408 0h32m168 0h32m968 0h32M520 1456h32M80 1496h32m1128 0h32m488 0h32M160 1536h32m248 0h32m88 0h32M0 1576h32m208 0h32m368 0h32M0 1616h32M1360 1656h32m88 0h32M720 1696h32m408 0h32M600 1736h72M200 1816h32m328 0h32m88 0h32m88 0h32m328 0h32m448 0h72m128 0h32M240 1896h32m48 0h72m288 0h32m168 0h72m688 0h32M520 1936h112m968 0h72"/>
<path stroke="#831422" stroke-width="32" fill="none" d="M440 16h32m768 0h32M200 56h32m208 0h32m88 0h32m568 0h32M720 96h32m1008 0h32M160 176h72m608 0h32M200 216h32m568 0h32m88 0h72m48 0h32m488 0h72m48 0h32m208 0h32M160 256h32m88 0h32m728 0h32m608 0h32M40 296h32m288 0h32m848 0h32m288 0h32m288 0h32M80 336h112m208 0h32m328 0h32m1048 0h32M160 376h32m768 0h32m168 0h32m448 0h32m248 0h32M120 416h32m328 0h32m128 0h32m688 0h32M0 456h32M280 496h32m128 0h32m1288 0h32m88 0h32M200 536h32m168 0h32m808 0h32M200 576h32m488 0h32m208 0h72M200 616h32m728 0h32m88 0h32m728 0h32M240 656h32m688 0h32M120 696h32m168 0h32m448 0h32m248 0h32m768 0h32M200 736h32m608 0h32M840 776h32m48 0h32M1000 816h32m648 0h72M560 856h32m1088 0h32m208 0h32M520 896h32m88 0h32M200 936h112m1528 0h32M80 976h32m128 0h32m808 0h32M240 1016h32m688 0h72M280 1056h72m488 0h32m48 0h32m408 0h32M1440 1096h32M0 1136h72m528 0h32m448 0h32m128 0h32M40 1176h32m408 0h32m168 0h32m328 0h32m368 0h32M440 1216h32m568 0h32m248 0h32m88 0h32M320 1256h32m128 0h32m368 0h32m88 0h32m408 0h32m248 0h32m48 0h32M0 1296h32m448 0h32m1088 0h32M880 1336h32m408 0h32m248 0h72M320 1376h72m368 0h32m928 0h32M80 1456h32M40 1496h32m248 0h32m728 0h32M360 1536h32m1048 0h32M1440 1656h32M680 1696h32m408 0h32m488 0h32M1320 1736h32M1400 1776h72m328 0h32m88 0h32M360 1816h72m48 0h32m328 0h32m248 0h32m568 0h72M80 1896h32m328 0h32m168 0h32m328 0h32m88 0h32m88 0h32m488 0h32m48 0h32M200 1936h32m248 0h32m288 0h32m48 0h152m88 0h32m168 0h32m368 0h32"/>
<path stroke="#74101f" stroke-width="32" fill="none" d="M320 56h32m328 0h32m88 0h32m168 0h32m408 0h32m248 0h32M400 96h32M520 176h32m1008 0h32M680 216h72M520 256h32m168 0h32m208 0h32M1000 296h32m488 0h32M200 336h32m1048 0h72m528 0h32M320 416h32M80 456h32M1160 496h32M80 536h32m208 0h32m968 0h32m568 0h32M1600 576h32M560 616h32m128 0h32m568 0h32M600 656h72M160 696h32m168 0h32m1048 0h32m48 0h32m128 0h32M920 736h32m808 0h32M120 776h72m488 0h32M520 816h32m848 0h32m408 0h32M680 856h32m88 0h32m1008 0h72M400 896h32M1000 976h32M120 1016h32M0 1056h32m968 0h32M160 1136h32m1288 0h32M720 1176h32m328 0h32M720 1216h32m608 0h32M1080 1256h32M1640 1296h32m128 0h32M320 1336h32m688 0h32m608 0h32M240 1376h32M320 1416h32M1000 1456h32m728 0h32M640 1496h32M480 1536h32M40 1576h32m328 0h32m1248 0h32M320 1616h32M680 1736h32m848 0h32M920 1776h32M0 1816h32m128 0h32m768 0h32m928 0h32M200 1896h32m808 0h32m288 0h72m248 0h32M120 1936h72m448 0h32m48 0h32m288 0h32m408 0h72"/>
<pattern id="hp4" width="40" height="40" patternUnits="userSpaceOnUse"><path d="M32 0H40V40H32Z" fill="#fff"/><rect x="0.9" y="0.9" width="30.2" height="30.2" fill="none" stroke="#000" stroke-opacity="0.2" stroke-width="1.8"/></pattern>
<rect width="1960" height="1960" fill="url(#hp4)"/>
<path fill="#fff" d="M0 120h1160v40h-1160zM1240 120h720v40h-720zM0 1840h1960v40h-1960zM1200 0h40v1960h-40zM40 40h40v40h-40zM120 40h40v40h-40zM80 80h40v40h-40zM760 160h40v40h-40zM560 280h40v40h-40zM560 640h40v40h-40zM760 640h40v40h-40zM920 640h40v40h-40zM760 840h40v40h-40zM760 880h40v40h-40zM480 1000h40v40h-40zM720 1000h40v40h-40zM760 1000h40v40h-40zM920 1000h40v40h-40zM560 1080h40v40h-40zM760 1080h40v40h-40zM760 1320h40v40h-40zM560 1360h40v40h-40zM560 1720h40v40h-40zM760 1720h40v40h-40zM40 1760h40v40h-40zM560 1760h40v40h-40z"/>
</g>
<g transform="translate(794.30,1467.90) scale(0.28100)">
<path stroke="#6a4db2" stroke-width="32" fill="none" d="M1440 776h32M880 816h72m48 0h112m208 0h72m88 0h32M720 856h32m48 0h32m48 0h112m88 0h72m88 0h32m48 0h32m88 0h72m48 0h72M800 896h72m88 0h72m488 0h32m88 0h72M560 936h152m88 0h32m768 0h72m88 0h32M600 976h72m808 0h32m208 0h112M560 1016h32m88 0h32m1048 0h72M360 1056h32m48 0h32m528 0h32m808 0h32M400 1096h72m808 0h32M320 1136h72M240 1176h32M120 1216h72m48 0h32M80 1256h32m48 0h32M80 1296h32m1048 0h32m488 0h32M1920 1336h32M960 1376h32M1520 1416h32M360 1496h32m128 0h32M1000 1536h32m88 0h32M0 1576h32"/>
<path stroke="#6064b4" stroke-width="32" fill="none" d="M1640 56h32M1080 96h32m648 0h32M1880 376h32M720 496h32m248 0h32M1320 576h32M1280 696h112M920 776h32M600 816h32m488 0h32m128 0h32m248 0h32M840 856h32m128 0h72m448 0h32M560 896h32m88 0h32m168 0h32m168 0h32m168 0h72m88 0h32M520 936h32m288 0h32M400 976h32m48 0h32m488 0h32m408 0h32m168 0h32M360 1016h32m48 0h32m368 0h32m968 0h32M0 1056h32m1248 0h32m368 0h32m88 0h32M280 1096h72m1328 0h32m128 0h32M240 1136h72m168 0h32m1288 0h32M200 1176h32M1320 1216h32m528 0h32M480 1256h72M160 1296h32m48 0h32M0 1376h32m648 0h32M80 1416h32m208 0h32m1568 0h32M1280 1456h32M1760 1496h32M440 1536h32M960 1576h32"/>
<path stroke="#5b7ab7" stroke-width="32" fill="none" d="M1400 16h32M600 56h32M960 96h32M1600 216h32M1680 296h32M640 536h32M1880 576h32M640 656h32M880 736h112m48 0h72M760 776h32m488 0h32m88 0h32M680 816h32m128 0h32m368 0h32M1160 856h32m168 0h72M720 896h32M480 936h32m808 0h32m48 0h32M720 976h32m168 0h32M600 1016h32M200 1056h32m648 0h32M680 1096h32m1208 0h32M400 1136h32M680 1176h32m88 0h32m208 0h32m288 0h32m48 0h32M200 1216h32m368 0h32m1008 0h32M1800 1256h32M560 1296h32m648 0h32m248 0h32M80 1336h32m1168 0h32m88 0h32M640 1416h32M1600 1456h72M240 1496h32m408 0h32m248 0h32m528 0h32M800 1536h32m48 0h32M120 1576h32"/>
<path stroke="#568fbc" stroke-width="32" fill="none" d="M280 256h32M240 296h32m1328 0h32M880 416h32M320 496h32M1000 576h32M440 616h32m288 0h32m688 0h32M440 656h32M1120 696h72M800 736h32m288 0h32m128 0h32m48 0h32M640 816h32m488 0h32m448 0h32M600 856h32m648 0h32M640 896h32m248 0h32m768 0h32M720 936h32m328 0h32m128 0h32m168 0h32M1040 976h32m48 0h32m528 0h32M320 1016h32m168 0h32m88 0h32m368 0h32M400 1056h32m368 0h32M1560 1096h32M120 1136h32m1288 0h32M120 1176h32m128 0h32m648 0h32m808 0h72M720 1216h32M280 1256h32m288 0h32m888 0h32M0 1296h32m488 0h32m1288 0h72M480 1336h32m528 0h32M40 1376h32m688 0h32M1280 1416h32M240 1456h32m1248 0h32m208 0h32m48 0h32M720 1496h32M0 1616h32m1288 0h32m328 0h32"/>
<path stroke="#5ea0ba" stroke-width="32" fill="none" d="M1160 736h32M1480 776h32M1040 896h32m168 0h32m488 0h72M760 936h32m728 0h32m128 0h32M360 976h32m368 0h32m528 0h32M1640 1016h32M920 1056h32M200 1096h32m648 0h32m48 0h32m808 0h32m48 0h32M80 1136h32m88 0h32m368 0h32m648 0h32M1280 1176h32m568 0h32M360 1216h32m568 0h32m408 0h32M120 1256h32M920 1296h32M40 1336h32M1320 1376h32M240 1416h32M80 1456h32M160 1496h32m688 0h32m928 0h32M120 1536h32m608 0h32m248 0h32m568 0h32m48 0h32m128 0h32M400 1576h32m288 0h32m808 0h72M1560 1616h32m168 0h32"/>
<path stroke="#66b1b9" stroke-width="32" fill="none" d="M1240 696h32M840 776h32m368 0h32m328 0h72M880 936h112m168 0h32m88 0h32M840 976h32M1480 1016h32M320 1056h32m688 0h32m448 0h32m168 0h32M160 1136h32m448 0h32m128 0h32m768 0h32M160 1176h32m288 0h32m208 0h32m248 0h32m528 0h32M1760 1216h32M240 1256h32m88 0h32m248 0h32m328 0h32m248 0h32m88 0h32m248 0h32M1600 1296h32M120 1336h32m688 0h72m48 0h32m728 0h32M120 1376h32m488 0h32m128 0h32m608 0h32m168 0h32m248 0h32M200 1416h32m448 0h32m888 0h32M0 1456h32m248 0h32m48 0h32m928 0h32M40 1496h32m128 0h32m888 0h32m168 0h32m368 0h32M280 1536h32m88 0h32m248 0h32m528 0h32m488 0h32m48 0h32M240 1576h72m448 0h32m448 0h32m168 0h32m208 0h32m168 0h32M160 1616h32m928 0h32m248 0h32m448 0h32M840 1656h32m848 0h32M1680 1696h32m168 0h32M320 1736h32M1000 1776h32m328 0h32m488 0h32M280 1816h32M120 1896h32m208 0h32M1640 1936h32"/>
<path stroke="#73c0b8" stroke-width="32" fill="none" d="M800 96h32m408 0h32M840 176h32m128 0h32m88 0h32M1080 256h32M440 336h32M520 496h32M520 536h32m1288 0h32M320 576h32m88 0h32m808 0h32M480 616h32M480 656h32m728 0h32m88 0h32M1000 736h32m208 0h32m248 0h32M880 776h32m48 0h32m128 0h72M200 816h32m488 0h72m168 0h32m448 0h32M680 856h32M320 896h32m1048 0h32M1040 936h32m648 0h32M320 976h32m88 0h32M1400 1016h32m168 0h32M240 1056h32m448 0h32m1128 0h32M40 1096h32m88 0h32m448 0h32m688 0h32m48 0h32m288 0h32M880 1176h32m168 0h32M280 1216h32m328 0h32M440 1256h32m1088 0h32m128 0h32m88 0h32m48 0h32M0 1336h32m248 0h32m328 0h32m1128 0h32M280 1376h32m168 0h32M800 1416h32m608 0h32M160 1456h32m368 0h32m488 0h32m248 0h32m168 0h32m88 0h72m168 0h32M1240 1496h32m608 0h32M320 1536h32m568 0h32m408 0h72M320 1576h32m128 0h32m48 0h32m728 0h32M40 1616h32m408 0h32m528 0h72m408 0h32m168 0h32M120 1696h32m1208 0h72m488 0h32M400 1736h32M720 1776h32m728 0h32M80 1816h32M0 1896h32"/>
<path stroke="#83d0b8" stroke-width="32" fill="none" d="M1800 16h32M640 56h32m48 0h32M120 96h32M680 176h32M1920 216h32M320 256h32M160 456h32m48 0h32m48 0h32m1528 0h32M520 576h32m1208 0h32M120 656h32M480 696h32m1408 0h32M440 736h32M240 776h32m88 0h32m328 0h32m768 0h32m208 0h32M1560 896h32M1800 936h32M880 976h32m648 0h32M1160 1016h32m248 0h32M680 1056h32m128 0h32M720 1136h32m128 0h32m168 0h32M1240 1176h32m208 0h32M920 1216h32m88 0h32m168 0h32m248 0h32M320 1256h32m408 0h32M200 1296h32M160 1336h32m968 0h32m288 0h32M160 1376h32m928 0h32m128 0h32m208 0h32M360 1416h32m648 0h32m248 0h32m368 0h32m128 0h32M920 1456h32m488 0h32M400 1496h32m648 0h32m368 0h32M1160 1536h32M1000 1576h32m448 0h32M240 1616h32m128 0h32m208 0h32m248 0h32m48 0h32m608 0h32M1080 1736h32M1120 1776h32m488 0h32M160 1896h32"/>
<path stroke="#93ddb7" stroke-width="32" fill="none" d="M200 16h32m768 0h32M280 56h32m1568 0h32M1840 176h32M480 216h32M560 336h32M560 416h32m648 0h32M280 456h32m768 0h32m488 0h32M760 496h32M480 536h32m1128 0h32M280 616h32M920 696h32M1400 816h32m168 0h32m88 0h32M0 856h32m1888 0h32M1480 936h32M520 976h32m848 0h32m408 0h32M880 1016h32m48 0h32M520 1056h32m928 0h32M480 1096h32m568 0h32m48 0h32M440 1136h32m88 0h32m928 0h32m88 0h32m88 0h32m88 0h32M440 1176h32m928 0h32m488 0h32M1000 1216h32m448 0h32m168 0h32m88 0h32M0 1256h32m688 0h32M960 1296h32m488 0h32m208 0h32m168 0h32M560 1336h32m968 0h32M80 1376h32m968 0h32M840 1416h32m208 0h32m648 0h32M40 1456h32M80 1496h32m1048 0h32M1320 1536h32m448 0h32M1760 1576h32M1560 1656h32M720 1696h32m288 0h32M880 1776h32M720 1816h32M280 1936h32m1448 0h32"/>
<path stroke="#a2e4b1" stroke-width="32" fill="none" d="M1480 896h32m88 0h32M1360 936h32m448 0h32M680 976h32M560 1056h32m648 0h32m88 0h72M1640 1096h32M320 1176h32M680 1216h32m88 0h32m328 0h32M40 1256h32m1288 0h32m48 0h32M40 1296h32m248 0h32m1088 0h32m328 0h32M1240 1336h32m408 0h32M320 1376h32M0 1416h32m568 0h32m608 0h32M480 1456h32m888 0h32M320 1496h32m288 0h32m128 0h32m808 0h32M520 1536h32M160 1576h32m1648 0h32M560 1616h32M1640 1656h32M0 1696h32m608 0h32M920 1736h32M0 1776h32m488 0h32m368 0h32m448 0h32M120 1816h32M1280 1936h32"/>
<path stroke="#b2ebab" stroke-width="32" fill="none" d="M80 16h32m1128 0h32M680 56h32m288 0h32m288 0h32M1880 96h32M480 176h32m368 0h32m408 0h32M880 216h32m88 0h32m88 0h32M160 256h32m248 0h32m368 0h32m688 0h32m288 0h32M200 296h32m608 0h32m488 0h32m48 0h32m328 0h32M800 336h32M160 376h32m128 0h32m368 0h32m168 0h32m408 0h32M1240 456h32M240 496h32m328 0h32m1088 0h32M720 536h32m48 0h32m888 0h32M360 576h32m1528 0h32M560 616h32m808 0h32m368 0h32m48 0h32M0 656h32m48 0h32m48 0h32m328 0h32m968 0h32M520 736h32m768 0h32m48 0h32M1080 776h32M240 816h32m88 0h32m1128 0h32M1840 896h32M1360 976h32M600 1096h32m688 0h32M1040 1136h32M640 1176h32M40 1216h32m1288 0h32m208 0h32M400 1256h32m408 0h112m368 0h32m128 0h32M840 1296h72M680 1336h32m408 0h32M520 1376h32m328 0h32m688 0h32M280 1416h32m208 0h32m168 0h32m248 0h32M120 1456h32m608 0h32m368 0h32M1400 1496h32m128 0h32m328 0h32M960 1536h32M1040 1576h32M160 1696h32M960 1776h32M400 1816h32M400 1936h72"/>
<path stroke="#beeea6" stroke-width="32" fill="none" d="M800 16h32m48 0h32m128 0h32m488 0h32M0 56h32m288 0h32m208 0h32m568 0h32m408 0h32M0 96h72m648 0h32m608 0h32m88 0h32M1160 136h32M1240 176h32m408 0h32M920 216h32M240 256h32m448 0h32m528 0h32M960 296h32m488 0h32m248 0h32M1040 336h32M360 376h32m248 0h32M240 416h32m1248 0h32M760 456h32m48 0h32m168 0h32m368 0h32M680 496h32m248 0h32m448 0h32M680 536h32m528 0h32M40 576h32m768 0h32m568 0h32M120 616h32m1208 0h32m328 0h32M1680 656h32M440 696h32m1328 0h32M1800 736h32M280 776h32M480 816h32M40 856h32m48 0h32M400 896h32m688 0h32M160 976h32m1088 0h32M40 1016h32M120 1056h32m128 0h32m1288 0h32M1240 1096h32m128 0h32m88 0h32m168 0h32M40 1136h32m768 0h32m448 0h72m328 0h32M760 1176h32m328 0h72M840 1216h32M1640 1256h32M280 1296h32m128 0h72m528 0h32M1000 1336h32M240 1376h32m1288 0h32m88 0h32m128 0h32M400 1416h32M600 1456h32m328 0h32M1000 1496h32M1920 1536h32M200 1576h32m1568 0h32M1160 1616h32M880 1656h32m608 0h32M80 1696h32m288 0h32m568 0h32m448 0h32m48 0h72M160 1736h32m48 0h32M1160 1776h32m88 0h32m448 0h32M1720 1816h32M80 1936h32m208 0h32"/>
<path stroke="#caf1a2" stroke-width="32" fill="none" d="M1680 16h32M440 56h32m648 0h32m408 0h32m208 0h32M240 96h32m368 0h32m728 0h32M240 176h32m528 0h32m688 0h32M120 216h32m648 0h32M40 256h32m968 0h32m408 0h32M1000 296h32m48 0h72m128 0h32m408 0h32m88 0h32M0 336h32m808 0h32m48 0h32m48 0h32m728 0h32M1280 376h32M280 416h32m1448 0h32m128 0h32M1400 456h32m208 0h32M280 496h32m608 0h32m208 0h32m48 0h32m488 0h32M40 536h32m168 0h32m48 0h32m208 0h32m928 0h32m48 0h32m248 0h32M80 576h32m1248 0h32m88 0h32m208 0h32M200 616h32m288 0h32m48 0h32m1048 0h32M360 656h72m248 0h32m688 0h32M120 696h72m448 0h32m848 0h32m88 0h72M440 776h32m1248 0h32M240 896h32M40 936h32m168 0h32M280 1016h32m808 0h32m128 0h32m408 0h32M160 1056h32m968 0h32M0 1136h32m1088 0h32m688 0h32M80 1176h32m448 0h32m1008 0h32M400 1216h72m408 0h32M360 1296h32m328 0h72m328 0h32m608 0h32M1000 1376h72m408 0h32m368 0h32M160 1416h32m288 0h32m848 0h32m248 0h32M440 1456h32m408 0h32M0 1536h32M40 1576h32M120 1616h32m208 0h32M400 1656h32m888 0h32M520 1696h32m368 0h32M1480 1736h32M1600 1776h32M200 1816h32m568 0h32M1840 1896h32M120 1936h32"/>
<path stroke="#d5f3a2" stroke-width="32" fill="none" d="M160 16h32m48 0h32m88 0h32m48 0h32m1128 0h32M400 56h32m1048 0h32m328 0h32M520 96h32m48 0h32m128 0h32M1280 176h32m608 0h32M1760 216h32M1520 336h32m128 0h32M1440 376h32m88 0h32M680 416h32M440 456h32m648 0h32m168 0h32m328 0h32M560 496h32m688 0h32M1040 536h32M920 576h32M0 616h32m608 0h72M800 656h32m208 0h32m208 0h32m568 0h32M1560 736h32M640 776h32m888 0h32M1800 816h32M40 896h72m1248 0h32m488 0h32M0 976h32M1640 1056h32M920 1096h32M680 1136h32m528 0h32M1720 1176h32M800 1256h32m768 0h32M680 1296h32M1440 1336h32m368 0h32M600 1376h32m208 0h32m368 0h32M120 1416h32m1688 0h32M720 1456h32m288 0h32M0 1496h32m88 0h32M40 1536h32m288 0h32m328 0h32m688 0h32M440 1576h32m168 0h32M720 1616h32m1088 0h32M600 1696h32m488 0h32M480 1736h32m848 0h32M120 1776h32m168 0h32M1760 1816h32M1920 1896h32"/>
<path stroke="#def5a5" stroke-width="32" fill="none" d="M40 16h32m608 0h32M80 56h32m768 0h32M560 96h32m248 0h32m648 0h32M160 176h32m368 0h72M360 216h32m248 0h32m728 0h32M560 256h72M80 296h32m288 0h32m48 0h32m128 0h32m48 0h72m128 0h32m208 0h32m728 0h32M240 336h32m128 0h32m648 0h32m368 0h32M0 376h32m768 0h72m648 0h32M440 416h32m168 0h32m888 0h72M400 456h32m48 0h32m128 0h32m488 0h32M440 496h32m1368 0h32M160 536h32m648 0h32M400 576h32m448 0h32m608 0h32M320 616h32m368 0h32m88 0h72m48 0h32m328 0h32M1320 656h32m288 0h32m128 0h32M80 696h32m768 0h32m528 0h32m88 0h32M480 736h32m88 0h32m128 0h32m808 0h32m208 0h32M200 776h32m1568 0h32m88 0h32M400 816h32m368 0h32M160 856h72M1920 896h32M280 936h32M1160 976h32m48 0h32M200 1016h32m568 0h32m248 0h32m128 0h32m248 0h32M80 1056h32m368 0h32M120 1096h32m848 0h32m88 0h32M1440 1216h32M1880 1256h32M320 1336h32m168 0h32m768 0h32M400 1376h32m288 0h32M440 1416h32m88 0h32m328 0h32m208 0h32M640 1456h32m168 0h32m128 0h32M1440 1496h32M600 1536h32M1280 1576h32m48 0h32M440 1616h32m1008 0h32M280 1656h32M1720 1696h32M1040 1736h32M800 1776h32M320 1896h32m688 0h32"/>
<path stroke="#e7f6a9" stroke-width="32" fill="none" d="M320 16h32m288 0h32m48 0h72m488 0h32m168 0h72M200 56h32m608 0h32M400 96h32m248 0h32m608 0h32m328 0h32M40 176h32m248 0h32m88 0h32m888 0h32M80 216h32m288 0h32m608 0h32m88 0h32m88 0h32m528 0h32M880 256h32m208 0h32M880 296h32M640 336h32m688 0h32m248 0h32m128 0h32M40 376h32m328 0h32m88 0h32m48 0h32m368 0h32m288 0h32m48 0h32M200 416h32m1568 0h32M0 456h32m1328 0h32m368 0h32M0 496h32m608 0h32m168 0h32m248 0h32m728 0h32M1080 536h32M160 576h32m848 0h32m168 0h32m328 0h32M920 616h32M240 656h32m608 0h32m208 0h72m648 0h32M240 696h32m88 0h32m448 0h32m848 0h32m128 0h32M280 736h32m368 0h32m128 0h32m1048 0h32M520 776h32M40 816h32M280 856h32M600 896h32m528 0h32M80 936h32m248 0h32M40 976h32m728 0h32M600 1056h32M1160 1136h32m368 0h32m88 0h32M560 1216h32m488 0h32m168 0h32m248 0h32m128 0h32M1360 1376h32M1400 1416h32m128 0h32m208 0h32M1800 1456h32M920 1496h32m848 0h32M920 1576h32m688 0h32m248 0h32M600 1616h32m328 0h32M80 1656h32m688 0h32M280 1696h32m968 0h32M1520 1776h32m168 0h32M1040 1936h32"/>
<path stroke="#ebf7ad" stroke-width="32" fill="none" d="M1360 16h32m48 0h32m168 0h32m248 0h32M1520 56h32m128 0h32m48 0h32M200 176h32m288 0h32m488 0h32M200 216h32m288 0h32m128 0h32m48 0h32m48 0h32m88 0h32m808 0h32m48 0h32M360 256h32m88 0h32m928 0h32M1400 296h32m128 0h32M80 336h32m248 0h32m728 0h32m168 0h32m88 0h32m408 0h32M240 376h32m688 0h32m168 0h32m728 0h32M0 416h32m1128 0h32M200 456h32m1568 0h32M360 496h32m1208 0h32m168 0h32M280 536h32m288 0h32m288 0h32m48 0h32m728 0h32M680 576h32m408 0h32m248 0h32M80 616h32m288 0h32m1128 0h32M40 656h32m768 0h32m688 0h32M520 696h32m168 0h32M0 736h32m688 0h32M480 776h32m288 0h32m168 0h72m768 0h32M280 816h32m1368 0h32m208 0h32M360 856h32m1448 0h32M280 896h32M1000 936h32M1520 976h32M80 1016h32m288 0h32M640 1056h32m448 0h32m408 0h32M80 1096h32m248 0h32m448 0h32M520 1136h32m408 0h72M920 1176h32m568 0h32M120 1296h32m448 0h32m928 0h32M240 1336h32m128 0h32m368 0h32m928 0h32m88 0h32M200 1376h32m1168 0h32m328 0h32M1480 1416h32M1880 1456h32M80 1536h32m128 0h32m808 0h32M520 1576h32m128 0h32M80 1616h32m88 0h32m288 0h32m728 0h32M680 1656h32M360 1696h32m568 0h32M1400 1736h32M480 1776h32m248 0h32m648 0h32M1720 1896h32"/>
<path stroke="#f0f8b2" stroke-width="32" fill="none" d="M520 16h32m48 0h32m288 0h32m208 0h32m128 0h32M360 56h32m88 0h32m928 0h32m448 0h32M200 96h32m1048 0h32m288 0h32m88 0h32m48 0h32m88 0h32M120 176h32m928 0h32m288 0h72m128 0h32M440 216h32m888 0h32m88 0h112m48 0h32M200 256h32m528 0h32m208 0h32m128 0h32m328 0h32m88 0h32m128 0h32M40 296h32m1168 0h32m608 0h32M680 336h32m168 0h32m48 0h32m848 0h32M80 376h72m288 0h32M80 416h32m488 0h32m208 0h32m48 0h72m728 0h32m88 0h32M520 456h32m48 0h32m368 0h32M800 496h32m208 0h32m448 0h72M0 536h32m728 0h32m328 0h72m208 0h32m488 0h32M640 576h32m488 0h32M1920 616h32M1080 656h32m328 0h72M40 696h32m328 0h32m128 0h72m48 0h32m88 0h32m1008 0h32M1640 736h32m88 0h32M0 776h32m128 0h32m1168 0h32M1840 816h72M80 856h32m288 0h32m48 0h32m1168 0h32M360 896h32M200 936h32m88 0h32m1208 0h32M120 976h32m88 0h32m288 0h32M0 1016h32m128 0h32m48 0h32m1408 0h32M40 1056h32M520 1096h32m168 0h32m848 0h32M1920 1216h32M960 1256h32m88 0h32M1280 1296h32M200 1336h32m1368 0h32M360 1376h32m768 0h32m608 0h32M200 1456h32m168 0h32m88 0h32M760 1496h32m488 0h32M560 1536h32m688 0h32m208 0h32m128 0h32M1400 1576h32m88 0h32M280 1616h32m528 0h32m1048 0h32M200 1656h32m288 0h32m728 0h32m608 0h32M1240 1736h32M240 1776h32M240 1816h32M1440 1896h32"/>
<path stroke="#f3f7b4" stroke-width="32" fill="none" d="M280 16h32m88 0h32m128 0h32M1040 56h72M480 96h32m408 0h32m168 0h72m368 0h32m48 0h32M720 176h32m888 0h32M0 216h32m208 0h32m288 0h72m88 0h32m568 0h32m88 0h32M80 256h32m408 0h32m88 0h32m688 0h72m328 0h32M280 296h32m48 0h32m648 0h32M160 336h32m88 0h72m168 0h32m608 0h32m48 0h32m448 0h32M760 376h32m1048 0h32M320 416h32m48 0h32m568 0h32m88 0h32m128 0h32m328 0h32M360 456h32m288 0h32m768 0h32m408 0h32M120 496h32m48 0h32m168 0h32m448 0h32m448 0h32m88 0h32m128 0h72M200 536h32m1128 0h32m48 0h32M120 576h32m128 0h32m288 0h32m128 0h32m768 0h32M160 616h32m848 0h32m368 0h32m128 0h72m88 0h32M1000 656h32m688 0h72M0 696h32m168 0h32m728 0h32m88 0h32m648 0h32M120 736h32m248 0h32m128 0h32m1128 0h32M320 776h32m48 0h32m888 0h32M120 816h32m288 0h32M240 856h32m1368 0h32M160 896h32M120 936h32m288 0h32m648 0h32M80 976h32m168 0h32m768 0h32m768 0h32M1320 1016h32m208 0h32m328 0h32M760 1056h32m168 0h32m768 0h32m128 0h32M1040 1096h32m408 0h32M1920 1136h32M40 1176h32m288 0h32m1248 0h72M0 1216h32m288 0h32M560 1256h32m448 0h32m88 0h32M640 1296h32m128 0h32M1640 1336h32M960 1416h32M680 1456h32m88 0h32m648 0h32M200 1536h32m1248 0h32M80 1576h32m248 0h32m208 0h32m448 0h72m568 0h32M680 1616h32m168 0h32m688 0h32M40 1696h32m808 0h32M0 1736h72m288 0h32m48 0h32m248 0h32m688 0h32m88 0h32M840 1776h32m168 0h32M640 1936h32"/>
<path stroke="#f5f5b3" stroke-width="32" fill="none" d="M120 16h32m808 0h32m728 0h32M960 56h32M360 96h32m648 0h32M0 176h32m328 0h32m568 0h32M1080 216h32m128 0h32M120 256h32m1088 0h32m48 0h32M680 296h32M280 376h32m728 0h32m168 0h32m208 0h32M480 416h32m528 0h72m248 0h32m48 0h32M920 456h32M80 536h32m1208 0h32m328 0h32M200 576h72m208 0h32m1128 0h72M1000 616h32m488 0h32M280 656h32m288 0h32m968 0h32m288 0h32M320 696h32M160 816h32M320 856h32m208 0h32m1208 0h32m48 0h32M120 896h32M200 976h32m1368 0h32M120 1016h32m1728 0h32M1080 1056h32M800 1096h32M520 1176h32m48 0h32m688 0h32m408 0h32M200 1256h32m888 0h32M400 1296h32m928 0h32M440 1336h32m248 0h32m168 0h32M40 1416h32m1608 0h32M280 1496h32m168 0h32m528 0h32M480 1536h32m128 0h32m888 0h32M800 1576h32M320 1616h32M1360 1656h32M1800 1736h32M280 1776h32m1528 0h32m48 0h32M760 1896h32m888 0h32M1880 1936h32"/>
<path stroke="#f6f0ac" stroke-width="32" fill="none" d="M160 56h32m1088 0h32M880 96h32m88 0h32m408 0h32M280 176h32m328 0h32m1048 0h32m128 0h32M1680 256h32m128 0h32M0 296h32m88 0h72m408 0h32M120 336h32m1128 0h32m248 0h32M200 376h32m1528 0h32M520 416h32m208 0h32m528 0h32M80 456h32m448 0h32m208 0h32M80 496h32M360 536h32M800 576h32M800 616h32m328 0h32M320 656h32m368 0h32M1000 696h32M120 776h32m1528 0h32M80 816h32M1880 936h32M760 1136h32M0 1176h32M920 1376h32M1480 1656h32M1280 1816h32M680 1896h32"/>
<path stroke="#f5e7a0" stroke-width="32" fill="none" d="M0 16h32m448 0h32M1800 176h32M160 216h32M960 256h32M440 296h32m1048 0h32M1920 336h32M1640 376h32M160 416h32m168 0h32m328 0h32m728 0h32M720 456h32m128 0h32M160 496h32m1728 0h32M1480 536h32m48 0h32M720 576h32M1120 616h32m88 0h72m528 0h32M200 656h32M80 736h32m48 0h72M1880 776h32M560 816h32M840 1696h32M1880 1736h32M600 1776h32M920 1896h32"/>
<path stroke="#f4de94" stroke-width="32" fill="none" d="M760 1656h32M1080 1696h32m48 0h32m568 0h32M640 1736h32m328 0h32M680 1776h32m1088 0h32M480 1816h32"/>
<path stroke="#f3d487" stroke-width="32" fill="none" d="M1480 176h32M320 216h32M680 256h32M1560 456h32M880 536h32M320 1656h32m688 0h32m768 0h32M320 1696h32M600 1736h32m1008 0h32M440 1776h32m168 0h32M1080 1936h32"/>
<path stroke="#f2ca7a" stroke-width="32" fill="none" d="M1240 56h32M400 256h32m1168 0h32M560 376h32m288 0h32M1520 456h32M1400 496h32M240 616h32M520 816h32M1640 1296h32M1360 1496h32M200 1696h32m448 0h32M520 1736h32m568 0h72m728 0h32M440 1816h32m488 0h32M1240 1936h32"/>
<path stroke="#f2bd70" stroke-width="32" fill="none" d="M1080 16h32M280 96h32M720 336h32M800 416h32M1720 456h32M440 536h32M560 576h32M1080 616h32M280 696h32m1088 0h32M640 736h32M1240 1256h32M560 1496h32M160 1536h32M1360 1616h32M440 1656h32m88 0h32m1008 0h32M1280 1736h32M200 1776h32M160 1816h32M80 1896h32m1648 0h32"/>
<path stroke="#f2af65" stroke-width="32" fill="none" d="M1880 16h32M920 256h32M1600 336h32M0 576h32M960 656h32M520 856h32M1480 1136h32M760 1416h32M1120 1456h32m88 0h32M1160 1576h32M1800 1616h32M1400 1656h32M760 1696h32M320 1816h32M200 1936h32m368 0h32"/>
<path stroke="#f2a15c" stroke-width="32" fill="none" d="M1840 16h32M240 56h32m248 0h32M320 96h32M800 256h32m888 0h32m168 0h32M1080 376h32M1840 576h32M1480 696h32M1440 736h32M600 776h32M480 896h32M0 936h32M1920 976h32M400 1176h32m408 0h32M80 1216h32m648 0h32M1520 1336h32M1720 1376h32M1600 1496h32M1120 1656h32M1240 1696h32m168 0h32m368 0h32M120 1736h32M400 1896h32M160 1936h32m168 0h32"/>
<path stroke="#f19453" stroke-width="32" fill="none" d="M1120 16h32M160 96h32M1320 296h32M1400 336h32M120 416h32m1248 0h32M40 456h32M1320 496h32M400 536h32M1600 696h32M320 736h32M640 856h32M1000 1016h32M1840 1216h32M680 1256h32M1400 1296h32M1600 1536h32M1080 1656h32M560 1696h32M80 1776h32M40 1816h32M0 1936h72"/>
<path stroke="#ef854c" stroke-width="32" fill="none" d="M440 856h32M1360 1016h32M1320 1056h32M1320 1296h32M360 1336h32M840 1536h32M840 1576h32M1440 1616h32M1800 1656h32M800 1696h32M800 1736h32m848 0h32M1320 1776h32m208 0h32m88 0h32M280 1896h32m1088 0h32M800 1936h32"/>
<path stroke="#eb744a" stroke-width="32" fill="none" d="M1680 216h32M600 336h32M1480 736h32M1440 1056h32M0 1096h32M1400 1136h32M1760 1256h32M1000 1296h32m48 0h32M1360 1336h32M440 1496h32M880 1576h32M800 1616h32M160 1656h32m168 0h32m608 0h32m408 0h32m208 0h32M480 1696h32m1008 0h32M200 1736h32m728 0h32M880 1816h32m208 0h32m88 0h32M880 1896h32m728 0h32"/>
<path stroke="#e76248" stroke-width="32" fill="none" d="M840 16h32M1400 56h32M360 736h32M160 936h32M920 1136h32M1120 1216h32M320 1456h32M1880 1656h32M680 1736h32m608 0h32M240 1896h32m368 0h32m808 0h32m288 0h32M680 1936h32m608 0h32"/>
<path stroke="#e25649" stroke-width="32" fill="none" d="M1720 56h32M1720 216h32M320 296h32M480 336h32M1120 376h32m528 0h32M960 456h32M1800 576h32M240 736h32M560 776h32M0 816h32M960 976h32M480 1216h32M600 1336h32m448 0h32M440 1376h32M880 1416h32m208 0h32M840 1496h32M760 1616h32m448 0h32M480 1656h32m448 0h32m168 0h32M440 1696h32m1168 0h32M400 1776h32M600 1816h32m688 0h32m328 0h32M960 1896h32m88 0h32m768 0h32M520 1936h32m888 0h32"/>
<path stroke="#dd4c49" stroke-width="32" fill="none" d="M1360 56h32M0 256h32M40 496h32M40 736h32M80 776h32M400 936h32M240 1096h32M520 1216h32M600 1496h32m1048 0h32M0 1656h72m528 0h32m608 0h32m488 0h32M1720 1736h32m88 0h32M360 1776h32M1480 1816h32m288 0h32M40 1896h32m368 0h32m848 0h72M880 1936h32m248 0h32m328 0h32m248 0h32"/>
<path stroke="#d7414a" stroke-width="32" fill="none" d="M920 56h32M80 176h32m1448 0h32M800 296h32M40 336h32M480 376h32m168 0h32M1880 416h32M120 536h32m1648 0h32M1080 576h32M40 616h32M1680 736h32M1760 816h32M1760 856h32M440 896h32M640 1656h32M240 1696h32m1528 0h32M1520 1736h32m208 0h32M160 1776h32M360 1816h32m288 0h32m728 0h32m88 0h72m248 0h72M600 1896h32m168 0h32m448 0h32M240 1936h32m288 0h32m368 0h72m808 0h32m48 0h32"/>
<path stroke="#ce3a49" stroke-width="32" fill="none" d="M400 176h32M40 216h32M1800 376h32M120 456h32m1128 0h32M960 536h32M680 776h32M1720 856h32M520 896h32M240 1656h32M1320 1696h32M880 1736h32M520 1816h32m88 0h32m1168 0h32M1000 1896h32m568 0h32M720 1936h32m368 0h32m208 0h32m168 0h32"/>
<path stroke="#c43248" stroke-width="32" fill="none" d="M800 56h32M760 336h32M1680 416h32M480 496h32M960 576h32M360 616h32M1040 696h32M280 1736h32M760 1816h32m208 0h32M840 1896h32m368 0h32M480 1936h32m1168 0h72"/>
<path stroke="#bb2b46" stroke-width="32" fill="none" d="M1840 96h32M1760 176h32M520 296h32m1088 0h32M200 336h32M1600 376h32M1840 456h32M1080 496h32M1280 536h32M760 696h32M0 896h32M920 1656h32M80 1736h32m728 0h32m728 0h32M1240 1776h32M0 1816h32m808 0h32M560 1896h32m128 0h32m368 0h32M1400 1936h32m48 0h32m88 0h32"/>
<path stroke="#b12345" stroke-width="32" fill="none" d="M440 96h32M920 176h32m208 0h32M1720 376h32M40 416h32M320 816h32M200 896h32M1920 936h32M120 1656h32m568 0h32M1080 1776h32M560 1816h32m328 0h32m88 0h72m248 0h32m128 0h32m88 0h32M200 1896h32m248 0h72m608 0h32m328 0h72M760 1936h32m128 0h32"/>
<path stroke="#a81c44" stroke-width="32" fill="none" d="M1760 16h32M760 56h32M280 216h32M1880 736h32M40 776h32M1160 1816h32m208 0h32M840 1936h32"/>
<pattern id="hp5" width="40" height="40" patternUnits="userSpaceOnUse"><path d="M32 0H40V40H32Z" fill="#fff"/><rect x="0.9" y="0.9" width="30.2" height="30.2" fill="none" stroke="#000" stroke-opacity="0.2" stroke-width="1.8"/></pattern>
<rect width="1960" height="1960" fill="url(#hp5)"/>
<path fill="#fff" d="M0 120h1160v40h-1160zM1240 120h720v40h-720zM0 1840h1960v40h-1960zM1200 0h40v1960h-40zM40 40h40v40h-40zM120 40h40v40h-40zM80 80h40v40h-40zM760 160h40v40h-40zM560 280h40v40h-40zM560 640h40v40h-40zM760 640h40v40h-40zM920 640h40v40h-40zM760 840h40v40h-40zM760 880h40v40h-40zM480 1000h40v40h-40zM720 1000h40v40h-40zM760 1000h40v40h-40zM920 1000h40v40h-40zM560 1080h40v40h-40zM760 1080h40v40h-40zM760 1320h40v40h-40zM560 1360h40v40h-40zM560 1720h40v40h-40zM760 1720h40v40h-40zM40 1760h40v40h-40zM560 1760h40v40h-40z"/>
</g>
<g transform="translate(1487.60,1472.80) scale(0.28100)">
<path stroke="#466cc0" stroke-width="32" fill="none" d="M160 1616h32m168 0h32M320 1656h32m88 0h32m288 0h32M320 1736h32m88 0h32M800 1776h32M440 1816h32m88 0h32m328 0h32m88 0h32m368 0h32m408 0h32M40 1896h32m248 0h32m488 0h32M840 1936h32"/>
<path stroke="#4972c3" stroke-width="32" fill="none" d="M40 96h32M360 176h32M320 216h32M0 256h32M240 416h32M120 456h32M160 536h32M1160 936h32M280 1136h32M440 1456h32M40 1616h32m208 0h32m328 0h72M560 1656h32m88 0h32m168 0h32M720 1696h72M80 1736h32m48 0h32m288 0h32m328 0h32M200 1776h32m168 0h32M400 1816h32m928 0h32M160 1896h72m328 0h32m208 0h32m648 0h32m168 0h32m208 0h32M880 1936h32m368 0h32m488 0h32m48 0h32"/>
<path stroke="#4c77c6" stroke-width="32" fill="none" d="M120 96h32m48 0h72m168 0h32m128 0h32M1280 216h32m208 0h32M560 256h32M80 296h32M0 336h32m168 0h72m208 0h72m48 0h32M240 376h32m208 0h32M280 456h32M560 496h32M1320 616h32M680 696h32M280 816h32M440 936h32M400 1016h32M40 1096h32M1040 1136h32M320 1256h32M1040 1336h32M120 1496h32M480 1536h32m48 0h32M0 1616h32m808 0h32M360 1656h32M600 1736h32M120 1776h32m368 0h32m208 0h32M200 1816h32m88 0h32m328 0h32m288 0h32m128 0h32m88 0h32M0 1896h32m248 0h32m448 0h32m528 0h32M120 1936h32m48 0h32m688 0h32m648 0h32"/>
<path stroke="#4f7cc9" stroke-width="32" fill="none" d="M40 16h32m408 0h32m408 0h32M320 96h32m168 0h32M0 176h32M240 216h32m128 0h32m968 0h32M120 256h32m328 0h32M200 296h32M0 416h32M200 456h32m168 0h32m168 0h32m1248 0h32M1240 496h32M240 656h32M1360 1016h32M1280 1096h32M1080 1216h32M40 1296h32M80 1576h32m208 0h72m528 0h32M80 1616h32m488 0h32M0 1656h32m48 0h32m128 0h72m168 0h32m408 0h32M320 1696h32m128 0h72M520 1736h32M680 1776h32m128 0h32M80 1816h32m128 0h32m248 0h32m248 0h32m408 0h32m328 0h32m48 0h32m48 0h32M240 1896h32m248 0h32m688 0h32m608 0h32M160 1936h32m128 0h32m168 0h32m408 0h32m368 0h32m248 0h32m168 0h32"/>
<path stroke="#5282cc" stroke-width="32" fill="none" d="M200 16h72m328 0h32m128 0h32M320 56h32M0 96h32m128 0h32M360 216h32M40 256h32M280 296h32M80 336h32M360 376h32m1048 0h32M240 456h32m488 0h32M440 616h32M560 736h32m328 0h32M80 856h32M1880 976h32M280 1056h32M720 1216h32M400 1256h32M1480 1296h32M560 1336h32m648 0h32M1000 1456h32M480 1576h72m88 0h32M120 1616h32m288 0h32M120 1656h72m528 0h32M200 1696h112m88 0h32m168 0h32M360 1736h32M640 1776h32m248 0h32M120 1816h32m328 0h32m328 0h32m448 0h32m208 0h32m208 0h32M880 1896h32m48 0h32m88 0h32m48 0h32m248 0h32m168 0h32M360 1936h72m288 0h32m48 0h32m168 0h32m48 0h32m48 0h32m328 0h32"/>
<path stroke="#578ad0" stroke-width="32" fill="none" d="M160 16h32M560 56h32M480 96h32m488 0h32M200 176h32m768 0h32m768 0h32M440 216h32m528 0h32M160 296h32m48 0h32m368 0h32m688 0h32M40 336h32M0 376h32m48 0h32m288 0h32M120 416h72m168 0h32M160 456h32m128 0h32M920 576h32M1680 616h32M1280 656h32M320 936h32M1120 1016h32M280 1456h32M400 1536h32m248 0h32m88 0h32m88 0h32M600 1576h32m208 0h32M200 1616h32m248 0h32m368 0h32M840 1696h72M720 1736h32M0 1776h32m128 0h32m128 0h32m88 0h32m488 0h32M280 1816h32m1168 0h32M400 1896h32m968 0h32m408 0h32M0 1936h32m648 0h32m528 0h32m488 0h32"/>
<path stroke="#5c93d4" stroke-width="32" fill="none" d="M960 56h32M1360 176h32M1520 456h32M80 496h32M0 536h32m1488 0h32M320 576h32m168 0h32m808 0h32M240 616h32m888 0h32M1640 656h32M1120 816h32M640 856h32M1120 976h32M1920 1136h32M280 1296h32M1320 1336h32M0 1496h32M720 1616h32m168 0h32M600 1656h32M40 1696h32m368 0h32m168 0h32M880 1736h32M280 1776h32m48 0h32m208 0h32M0 1816h32m608 0h32m48 0h32m128 0h32M360 1896h32m888 0h32m48 0h32m128 0h32m208 0h72M240 1936h32m288 0h32m48 0h32m88 0h32m248 0h32m248 0h32m88 0h32m248 0h32"/>
<path stroke="#609cd8" stroke-width="32" fill="none" d="M80 16h32m1408 0h32M1680 56h32M360 96h72M120 216h32m768 0h32m928 0h32M80 256h32m128 0h32m88 0h112M1280 296h32m568 0h32M320 336h32m1128 0h32M320 416h32m768 0h32M520 456h32m768 0h32M40 496h32M1400 536h32M840 576h32M1400 656h32m88 0h72M960 696h32M720 736h32M200 816h32m648 0h32M0 856h32m528 0h32m928 0h32m248 0h72M160 896h32m88 0h32m1488 0h32M240 936h32M80 1176h32m528 0h32m448 0h32M840 1216h32M240 1296h32m408 0h32M160 1376h32m608 0h32M200 1456h32M1360 1496h32M320 1536h32m648 0h32M0 1576h32m1008 0h32M400 1616h32M40 1656h32m728 0h32M1000 1696h32M240 1736h32m648 0h32M240 1776h32m968 0h32M40 1816h32m288 0h32m568 0h32m88 0h32m408 0h32M640 1896h32m888 0h32M480 1936h32m888 0h32m128 0h32m88 0h32m208 0h32"/>
<path stroke="#65a5db" stroke-width="32" fill="none" d="M0 16h32m328 0h32m48 0h32M80 56h32m48 0h72M560 96h32m128 0h32m488 0h32M120 176h32M0 216h32M200 256h32m768 0h32M120 296h32m608 0h32m288 0h32M360 336h32m248 0h32m688 0h32M520 376h32m88 0h32M280 416h32M440 456h32M600 496h32M1560 536h32M720 616h32M80 776h32m1408 0h32M920 816h32M400 936h32M160 1016h32M880 1056h32m568 0h32M1920 1176h32M1480 1336h32M1360 1376h32M80 1456h32M240 1536h32m488 0h32M760 1616h32M1920 1656h32M80 1696h32m808 0h32M640 1736h72M160 1816h32m408 0h32m128 0h32m328 0h32M600 1896h32m88 0h32m368 0h32M280 1936h32m288 0h32m488 0h32m328 0h32"/>
<path stroke="#70b0e0" stroke-width="32" fill="none" d="M400 56h32m48 0h32M1320 96h32m368 0h32m88 0h32M40 216h32m408 0h72m88 0h32M160 256h32m448 0h32m608 0h32M800 296h32M280 336h32m88 0h32M280 376h32m248 0h32M720 496h32M680 536h32m88 0h32m1088 0h32M400 576h32m208 0h32m1208 0h32M200 616h32m728 0h32M480 736h32m608 0h32m688 0h32M400 776h32M320 816h32m888 0h32M520 856h32M1920 936h32M1560 976h32M160 1056h32M0 1216h32M880 1256h32M360 1296h32m688 0h32M1720 1376h32M320 1456h32M200 1536h32M280 1576h32m448 0h32M200 1656h32m608 0h32M40 1736h32m208 0h32m1408 0h32M880 1776h32M1720 1816h32M680 1896h32m888 0h32M440 1936h32"/>
<path stroke="#7bbbe4" stroke-width="32" fill="none" d="M720 16h32M0 56h32m208 0h32M640 96h32m1008 0h32M320 176h32M160 216h32M280 256h72m168 0h32M400 296h72m1128 0h32M1160 336h32m448 0h32M200 416h32m208 0h32M80 456h32m448 0h32M1440 496h32M640 536h32M880 576h32M80 616h32m288 0h32M520 656h32m768 0h32M1920 696h32M360 736h32m688 0h32m448 0h32M1280 816h32m208 0h32M80 896h32m208 0h32m248 0h32M1040 1016h32M1040 1056h32M160 1136h32M960 1176h32M400 1216h32M760 1296h32M280 1336h32m88 0h32m408 0h32M400 1376h32m88 0h32M640 1456h32M600 1536h32M120 1576h32m728 0h32M0 1696h32m768 0h32M80 1896h32m808 0h32M80 1936h32"/>
<path stroke="#88c4e7" stroke-width="32" fill="none" d="M1320 16h32M280 56h32m848 0h32m88 0h32m168 0h32m248 0h32M760 96h32m168 0h32M1040 216h32m408 0h32M680 256h32m1168 0h32M520 296h32m288 0h32m448 0h32m328 0h32M880 336h72M40 376h32m248 0h32m88 0h32m568 0h32m408 0h32m88 0h32M880 416h32m848 0h32M360 456h32M320 496h32m168 0h32m488 0h32m728 0h32M880 536h32m128 0h72m248 0h32M1480 576h32m48 0h32m48 0h32M1120 616h32m128 0h32M480 656h32m88 0h32m368 0h32m568 0h32M1080 696h32M200 736h32m648 0h32m48 0h32m808 0h32M0 776h32m88 0h72m928 0h32m168 0h32m288 0h32M440 816h32m688 0h32m728 0h32M160 856h32m168 0h32m1368 0h32M1880 896h32M1440 976h32M840 1016h32M240 1056h32m648 0h32m928 0h32M600 1096h32M760 1136h32m528 0h32M0 1176h32m1368 0h32M1080 1256h32m368 0h32M720 1336h32m168 0h32M920 1376h32M120 1416h32m448 0h72M200 1496h32m88 0h72M520 1536h32m608 0h32M1520 1576h32M1040 1616h32m848 0h32M520 1656h32M160 1696h32m168 0h32M200 1736h32m568 0h32m408 0h32M1760 1776h32M1400 1816h32M120 1896h32m288 0h32m528 0h72M40 1936h32"/>
<path stroke="#95ceeb" stroke-width="32" fill="none" d="M320 16h32m808 0h32M1720 56h32m168 0h32M280 96h32M480 176h32m88 0h32m288 0h32m88 0h32m48 0h32m608 0h32M200 216h32m1328 0h72m48 0h32m128 0h32M1520 256h32m128 0h32m48 0h32M0 296h72m408 0h32m608 0h32M560 336h32m648 0h32m168 0h32m288 0h32M1280 376h32m608 0h32M80 416h32m448 0h32M360 496h32m528 0h32M240 536h32m128 0h32m128 0h32m1048 0h32M440 576h32m128 0h32m648 0h32M1720 616h32M40 656h72m208 0h32m808 0h32m168 0h32m368 0h32M280 696h32m288 0h32m88 0h32m88 0h72m208 0h32M680 736h32m88 0h32m488 0h32m328 0h32M200 776h32m128 0h32m88 0h32m128 0h32m408 0h32m48 0h32m48 0h32m88 0h32m488 0h32M840 816h32m128 0h32M1560 856h32M1600 896h32M0 936h32m1808 0h32M200 976h32m48 0h32m568 0h32m128 0h32m248 0h32M40 1016h72m88 0h32m568 0h32M800 1056h72M200 1096h32m1088 0h32m88 0h32M600 1136h32M1080 1176h32M920 1216h32m328 0h32m88 0h72M680 1256h72M720 1296h32m128 0h32m448 0h32M1640 1336h32M760 1376h32M40 1536h32m48 0h72m88 0h32m408 0h32M400 1576h72M240 1616h32m848 0h32m728 0h32M400 1656h32m208 0h32M560 1696h32m448 0h32M1840 1816h32M480 1896h32m1208 0h32"/>
<path stroke="#a1d4ed" stroke-width="32" fill="none" d="M520 16h72m528 0h32m408 0h32M360 56h32m448 0h32m48 0h32m848 0h32m48 0h32M920 96h32M80 176h32m288 0h32m88 0h32m88 0h72m168 0h32m648 0h32M720 216h32m408 0h32M920 256h72M1160 296h32m208 0h32m328 0h32M120 336h32m608 0h32m168 0h32m88 0h32M120 376h32m648 0h32m248 0h32m128 0h32m448 0h32m88 0h32M40 416h32M0 456h32m1008 0h32m48 0h32m88 0h32m128 0h32m328 0h72M640 496h32m168 0h32m528 0h32m328 0h32m48 0h32m48 0h32M600 536h32m208 0h32m88 0h32m608 0h32m208 0h72M40 576h32m488 0h32m528 0h32m168 0h32m328 0h32M0 616h72m1008 0h32m128 0h32m608 0h32M400 656h32m208 0h72m328 0h32m608 0h32M240 696h32m208 0h32m888 0h32m248 0h32M400 736h72m1168 0h32M40 776h32m368 0h32m408 0h32M520 816h32m488 0h32m528 0h32m88 0h32m128 0h32M400 856h32m248 0h32m208 0h32m968 0h32M40 896h32m648 0h32m1008 0h32M600 936h32M1160 976h32m288 0h32M440 1016h32m688 0h32m688 0h32M0 1056h32m88 0h32m1088 0h32M240 1096h32m48 0h32m368 0h32M0 1136h32m448 0h32m408 0h32M200 1176h32m688 0h32M600 1216h32m128 0h32m248 0h32m248 0h32m128 0h32M560 1256h32m568 0h32m48 0h32M200 1296h32m768 0h32M40 1336h32m168 0h32m208 0h32m88 0h32m768 0h32M0 1376h32m448 0h32m1048 0h32M80 1416h32M40 1456h32M1560 1496h32M1480 1536h32M1720 1656h32M1560 1696h32M1440 1736h32M1120 1776h32"/>
<path stroke="#acdaee" stroke-width="32" fill="none" d="M640 16h32m768 0h32M1000 56h32m328 0h72M1400 96h32m88 0h32m48 0h32M160 176h32m368 0h32m368 0h32m888 0h72M600 216h32m208 0h32m248 0h32m208 0h32m248 0h32M320 296h32m648 0h32m488 0h32M160 336h32m808 0h32m288 0h32M960 376h72m128 0h32m368 0h32m48 0h72m168 0h32M400 416h32m368 0h32m208 0h32m248 0h32M1080 456h32m48 0h32m448 0h32m168 0h32M120 496h32M1160 536h32m248 0h32m288 0h32M120 576h32m88 0h32m1488 0h32M160 616h32m848 0h32m288 0h32m408 0h32M0 656h32m768 0h32m288 0h32M400 696h32m1088 0h32M0 736h32m128 0h32m1088 0h32m288 0h32m288 0h32M960 776h32m288 0h32M480 816h32m48 0h32m808 0h32M40 856h32m128 0h32m608 0h32m568 0h32M400 896h32m1488 0h32M40 936h32m208 0h32m248 0h32m808 0h32M40 976h32m888 0h72M960 1016h72m808 0h32M200 1056h32m848 0h32m808 0h32M0 1096h32m248 0h32m328 0h32m208 0h32M40 1136h72m448 0h32m368 0h32m448 0h32M760 1176h72m728 0h32M80 1216h32m448 0h32M40 1256h32m528 0h32m328 0h72m408 0h32M320 1296h32m168 0h32m408 0h32M120 1336h32m648 0h32m48 0h32m248 0h32m88 0h32m48 0h32m328 0h32M280 1376h32m528 0h32m648 0h32M400 1416h32m1368 0h32M80 1496h32m48 0h32m408 0h32m1168 0h32M80 1536h32m768 0h32M160 1576h112m288 0h32M1520 1616h32M1120 1696h72m248 0h32M1400 1736h32"/>
<path stroke="#b8ddec" stroke-width="32" fill="none" d="M680 16h32m248 0h32M520 56h32m88 0h32M880 96h32M800 256h32m408 0h32m48 0h32M960 296h32M1720 336h32M680 376h32m208 0h32M480 456h32m968 0h32M680 496h32m608 0h32m288 0h32M1520 616h32M200 656h32M920 696h32M320 736h32M1760 816h32M880 856h32m968 0h32M200 896h32M1760 936h32M240 976h32m88 0h32m1128 0h32M440 1176h32M1280 1256h32M0 1296h32M960 1336h32M440 1416h32m48 0h32M0 1456h32M1280 1496h32m88 0h32m208 0h32M1280 1536h32M40 1576h32m1568 0h32m48 0h32M800 1616h32M1600 1736h32M1320 1776h32m168 0h32"/>
<path stroke="#c4dfe9" stroke-width="32" fill="none" d="M800 16h32m648 0h32m88 0h32m128 0h32M440 56h32m328 0h32m488 0h32M840 96h32M800 176h32m448 0h32m528 0h32M80 216h32m568 0h32m368 0h32m208 0h32M1040 256h72m488 0h32M600 296h32m808 0h32M1520 336h32M1400 376h32M520 416h32m608 0h32m368 0h72M640 456h32m288 0h72m568 0h32m288 0h32M1080 496h32M720 536h32M800 576h32M320 616h32m1408 0h32M880 656h32M1280 696h32M120 736h32m1608 0h32M0 816h32m128 0h32m48 0h32m1088 0h32m248 0h32M240 856h72m1408 0h32M200 936h32m1048 0h32M1080 976h32m808 0h32M360 1016h32m1088 0h32m408 0h32M1840 1056h32M1640 1096h32M800 1136h32m248 0h32M360 1256h32m928 0h32m168 0h32M920 1296h32M1320 1376h32m408 0h32M200 1416h32m88 0h32M640 1496h32M0 1536h32m1688 0h32M1440 1576h32m208 0h32M1120 1656h32M1640 1696h32M120 1736h32"/>
<path stroke="#ccdfe3" stroke-width="32" fill="none" d="M680 56h32m728 0h32m48 0h32m48 0h32M800 96h32m328 0h32M1240 176h32M1160 256h32M1040 296h32M680 336h32m1208 0h32M720 376h32m608 0h32M680 416h32m208 0h32m288 0h72m208 0h32m288 0h32M840 456h32M760 496h32m488 0h32M80 536h32m88 0h32m208 0h32m1328 0h32M760 576h32m208 0h32m48 0h32m608 0h32m48 0h32M280 616h32m288 0h32M120 656h32m128 0h32m928 0h32M160 696h32m128 0h32m168 0h72m968 0h32M280 776h32m448 0h32m48 0h32m168 0h32m368 0h72m168 0h32M320 856h32m1288 0h32M1640 896h32m48 0h32M1120 936h32M0 976h32m288 0h32m1448 0h32M280 1016h32m568 0h32M320 1056h32m48 0h32m848 0h32M160 1096h32m648 0h32m1008 0h32M880 1136h32m88 0h32m88 0h32m728 0h32M360 1216h32m408 0h32m168 0h32M280 1256h32m168 0h32M1160 1296h32m48 0h32m48 0h32M1080 1336h32M360 1376h32m1208 0h32M280 1416h32m1408 0h32M240 1456h32M400 1496h32M640 1536h32m688 0h32m48 0h32M960 1576h32m368 0h32M560 1616h32m568 0h32m48 0h32m368 0h32M960 1696h32m768 0h32M960 1736h32m288 0h32M720 1776h32m248 0h112m328 0h32m128 0h32"/>
<path stroke="#d3ddda" stroke-width="32" fill="none" d="M400 16h32m808 0h32M600 56h32m488 0h32m688 0h32M680 96h32m368 0h32m248 0h32M1520 176h32m128 0h72M560 216h32m1168 0h72M1560 256h32M880 296h32M1320 376h32M720 416h32m608 0h32m48 0h32M920 456h32m328 0h32m248 0h32M1000 496h32m448 0h32M1240 536h32m208 0h32M200 576h32m728 0h32m848 0h32m48 0h32M360 616h32m408 0h32m608 0h32M840 656h32m208 0h32M80 696h32m1048 0h32M240 736h32m488 0h32m48 0h32m168 0h32m328 0h32m48 0h32M240 776h32m248 0h112m368 0h32M80 816h32m528 0h32m48 0h32m328 0h32m328 0h32M440 896h32m1368 0h32M120 936h32M520 976h32M320 1016h32m1088 0h32M40 1056h32m1248 0h32m48 0h32M520 1096h32m408 0h32m128 0h72m288 0h32M840 1136h32M1280 1176h32m568 0h32M320 1216h32m88 0h72m648 0h32M520 1256h32m288 0h32m168 0h32m48 0h32M480 1296h32m608 0h32M200 1336h32M120 1376h32m1528 0h32M560 1416h32M560 1456h72M40 1496h32m408 0h32M800 1576h32m568 0h32M320 1616h32m168 0h32M1320 1656h32m168 0h32M1080 1696h32M1120 1736h32m208 0h32M1480 1776h32"/>
<path stroke="#d8dbcd" stroke-width="32" fill="none" d="M760 56h32m88 0h32m168 0h32M1280 96h32m168 0h32m128 0h32m208 0h32M280 176h32m128 0h32m368 0h32m768 0h32M280 216h32m928 0h32M880 256h32m1008 0h32M920 296h32m288 0h32m448 0h32M440 336h32m328 0h32m288 0h32M1800 376h32M840 416h32m1048 0h32M480 496h32M280 536h32m208 0h32M360 576h32M120 616h32m368 0h32m208 0h32m48 0h32m528 0h32m128 0h32M360 656h32m1048 0h32M120 696h32m208 0h32m928 0h32m248 0h32M280 736h32m1128 0h32m48 0h32m328 0h32M1600 776h32m168 0h72M40 816h32m528 0h32m1048 0h32M480 856h32m1168 0h32M120 896h32m488 0h72m968 0h32M1360 936h32M1400 976h32M1800 1016h32M1160 1056h32M200 1136h32m1008 0h32m88 0h32M560 1176h32m88 0h32M640 1216h32m568 0h32M80 1256h32m528 0h32M400 1296h72m1368 0h32M640 1336h32m328 0h32M480 1416h32m608 0h32M360 1456h32m128 0h32M240 1496h32M840 1536h32m368 0h32M680 1576h32m1088 0h32M1240 1656h32M1480 1736h32M80 1776h32m1248 0h32"/>
<path stroke="#dbd9be" stroke-width="32" fill="none" d="M1840 16h32M1240 56h32M1040 96h32m48 0h32m288 0h32m288 0h32m128 0h32M760 216h32M600 256h32m88 0h32m368 0h32m208 0h32m88 0h32m208 0h32M1800 296h32M840 336h32m528 0h32m248 0h32m88 0h32M760 376h32M1000 416h32m48 0h32m568 0h72m48 0h32M1360 456h32m328 0h32M280 496h32m88 0h32m1088 0h72m88 0h32M40 536h32m288 0h32m88 0h32m768 0h32M0 576h32m248 0h32m408 0h32m288 0h32m368 0h32m48 0h32M640 616h72m768 0h32m328 0h32M1720 656h32M0 696h72m368 0h32m328 0h32m608 0h32m408 0h32M600 736h32m368 0h32m208 0h32M800 776h32m728 0h32M120 816h32m208 0h32m928 0h32m488 0h32M1480 856h32M1720 936h32M80 976h32M1080 1016h32m288 0h32M80 1056h32m488 0h32M80 1096h32M1600 1136h32m88 0h32M120 1176h32m248 0h32M120 1216h32m368 0h32m408 0h32m928 0h32M800 1256h32M80 1296h32m688 0h32M360 1336h32m728 0h32M80 1376h32m488 0h32M160 1416h32m48 0h32m1168 0h32M120 1456h32M280 1496h32m208 0h32m688 0h32M360 1536h32M1240 1576h32M120 1696h32m1208 0h32M0 1736h32m368 0h32m608 0h32M1160 1776h32M1920 1816h32"/>
<path stroke="#e0d8ad" stroke-width="32" fill="none" d="M880 16h32m488 0h32M1640 56h32M1160 136h32M1480 176h32M1920 216h32M1040 336h32M160 376h32m408 0h32M480 416h32M40 456h32M1880 496h32M120 536h32m608 0h32m128 0h32M440 656h32M1800 696h32M800 816h32M800 856h32M360 896h32M160 936h32m1688 0h32M440 976h32M120 1016h32M1720 1096h32M520 1136h32m968 0h32M880 1176h32M440 1256h32M80 1336h32m1728 0h32M40 1376h32m568 0h32M440 1536h32M1640 1816h32"/>
<path stroke="#e5d89b" stroke-width="32" fill="none" d="M120 16h32m928 0h32m248 0h32m248 0h32m128 0h32m48 0h32M1040 56h32M240 176h32m808 0h32M880 216h32M840 256h32M360 296h32M1600 336h32M200 376h32m648 0h32M600 416h72m728 0h32M0 496h32M320 536h32m768 0h32M720 656h32m208 0h32m808 0h32M640 696h32M1160 736h32m168 0h32M320 776h32m328 0h32M1560 816h32M600 856h32M480 896h72M480 936h72M1280 1016h32M680 1056h72M800 1096h32m208 0h32M120 1136h32m528 0h32m448 0h32M480 1176h32m488 0h32M40 1216h32M0 1256h32m888 0h32m448 0h32M1760 1336h32M440 1376h32M0 1416h32m1288 0h32M160 1456h32M440 1496h32m528 0h32m408 0h32M720 1576h32m528 0h32M960 1616h32M680 1696h32M480 1776h32"/>
<path stroke="#e9d37e" stroke-width="32" fill="none" d="M280 16h32m688 0h32M1800 96h32M40 176h32m1248 0h32m248 0h32M680 296h32m1128 0h32M1280 336h32m528 0h32M1120 376h32M1640 416h32M880 456h32m528 0h32M200 496h32m208 0h32m408 0h32m808 0h32M1000 536h32M80 576h32m1048 0h32m208 0h32m168 0h32M560 616h32m1048 0h32m248 0h32M1480 656h32m328 0h32M760 696h32m568 0h32M40 736h32M1920 776h32M680 816h32M440 856h32m1128 0h32M120 976h32m768 0h32m408 0h32M0 1016h32m1288 0h32M920 1096h32m128 0h32m288 0h32M720 1136h32M160 1176h32m528 0h32M1360 1216h32M760 1256h32m1128 0h32M560 1296h32m448 0h32m368 0h32M160 1336h32m248 0h32m208 0h32M240 1376h32m48 0h32M480 1456h32M1120 1536h32M1000 1576h32m808 0h32M1520 1736h32"/>
<path stroke="#ebc655" stroke-width="32" fill="none" d="M840 16h32m168 0h32m648 0h32M1560 56h32M720 176h32M800 216h32m128 0h32m728 0h32M760 256h32m608 0h32m208 0h32m168 0h32M1920 296h32M1560 336h32m288 0h32M760 416h32m168 0h32m488 0h32M800 456h32M160 496h32m48 0h32m528 0h32m528 0h32m208 0h32M1680 536h32M480 576h32M480 616h32m368 0h32m88 0h32m568 0h32M160 656h32m1728 0h32M200 696h32m768 0h32m608 0h32m168 0h32M520 736h32m88 0h32M1400 776h32M1480 816h32m288 0h32M720 856h32M0 896h32m208 0h32M80 936h32M400 976h32M240 1016h32M360 1056h32m568 0h72m88 0h32M680 1096h32M640 1136h32m808 0h32M40 1176h32m528 0h32m808 0h32m368 0h32M1120 1216h32m528 0h32m128 0h32M1360 1256h32M600 1296h72m168 0h32m768 0h32M0 1336h32m488 0h32M200 1376h32m448 0h32M1680 1416h32M1920 1456h32M1160 1496h32m728 0h32M1320 1536h32m528 0h32M1000 1616h32m48 0h32M1280 1656h32M1320 1736h32"/>
<path stroke="#ecbb3c" stroke-width="32" fill="none" d="M1280 16h32M1440 176h32M1800 256h32M720 296h32m728 0h32m48 0h32m48 0h32M1520 376h32M1880 416h32M720 456h32m928 0h32M960 496h32M680 576h32M920 616h32M1240 696h32m488 0h32M1720 736h32M1760 776h32M760 816h32M560 896h32M800 936h32m408 0h32M1840 976h32M1440 1056h32m88 0h32M1560 1096h32M1280 1136h32m448 0h72M1160 1176h32M680 1216h32m168 0h32M320 1336h32m1088 0h32m408 0h32M360 1416h32M400 1456h32m1248 0h32M560 1496h32M1480 1656h32M1400 1776h32m368 0h32"/>
<path stroke="#edb235" stroke-width="32" fill="none" d="M1160 856h32M1080 936h32m408 0h32M480 1056h32M1240 1096h32m528 0h32M440 1136h32M360 1176h32M1640 1216h32m88 0h32M1760 1256h32M1400 1376h32M920 1416h32M760 1456h72m48 0h32M1520 1496h32m208 0h32M1760 1576h32M1400 1656h32M1680 1696h32M1640 1776h32"/>
<path stroke="#eda52e" stroke-width="32" fill="none" d="M1160 176h32M1240 576h32M1480 696h32M1040 936h32m248 0h32m288 0h32m128 0h32M160 976h32M560 1016h32M520 1056h32M440 1096h32M240 1136h32M840 1176h32M160 1296h32m1608 0h32M1560 1336h32M40 1416h32M1600 1496h32M1360 1656h32m368 0h32"/>
<path stroke="#ec952b" stroke-width="32" fill="none" d="M1680 16h32M1560 96h32M1440 216h32M1120 496h32M1720 776h32M120 856h32m888 0h32M480 976h32M640 1056h32m88 0h32M1680 1096h32M1680 1136h32M280 1176h32m208 0h32m488 0h32m408 0h32m128 0h32M1520 1216h32M1880 1256h32M1400 1296h32M720 1376h32m1128 0h32M1360 1416h32m448 0h32M1080 1456h32m208 0h32m248 0h32M720 1496h32M1840 1536h32M1160 1576h32m288 0h32M1720 1776h32"/>
<path stroke="#ed7623" stroke-width="32" fill="none" d="M720 56h32M1160 496h32M80 736h32M920 776h32M400 816h32M1360 1096h32M1800 1256h32M1520 1336h32m128 0h32M880 1376h32m568 0h32M1240 1416h32M1240 1456h32M1040 1536h32m528 0h32M1560 1576h32M1360 1616h32m208 0h32M1800 1656h32M1240 1696h32m528 0h32"/>
<path stroke="#ed4f1c" stroke-width="32" fill="none" d="M1920 16h32M1400 176h32M1440 256h32M720 336h32M840 376h32m888 0h32M680 456h32M160 576h32M1040 696h32M720 776h32M960 816h32M1560 896h32M360 936h32M1240 976h72M1560 1016h32M1720 1056h32M120 1096h32m848 0h32m728 0h32m128 0h32M320 1136h32M240 1176h32m1248 0h32M1800 1216h32M1000 1376h32m208 0h32m168 0h32m328 0h32M840 1416h32m728 0h32M1280 1456h32m88 0h32m448 0h32M1320 1496h32m328 0h72m88 0h32M1760 1536h32M1120 1576h32M1480 1616h32M1080 1656h32M1000 1736h32M1560 1776h32"/>
<path stroke="#e63e1c" stroke-width="32" fill="none" d="M1320 536h32m368 0h32M1880 656h32M1720 696h32M1080 856h32M800 896h32m408 0h32M1600 1056h32M120 1256h32M1680 1296h32M1600 1336h32M1280 1376h32M1160 1416h32M680 1496h32M1880 1576h72M1680 1736h32m88 0h72"/>
<path stroke="#de371d" stroke-width="32" fill="none" d="M1120 856h32M920 896h32m448 0h32M1600 976h32M680 1016h32m528 0h32m328 0h32M560 1056h32M1560 1136h32M1720 1216h32M1560 1296h32m288 0h32M1800 1336h32M720 1416h32m528 0h32M920 1496h72m128 0h32M1400 1536h32m488 0h32M1560 1616h32m208 0h32M1160 1736h32m568 0h32M1280 1776h32"/>
<path stroke="#d5311e" stroke-width="32" fill="none" d="M1240 856h32M960 896h32m48 0h72M840 936h32m128 0h32m408 0h32m88 0h32m88 0h32M720 976h72m888 0h32M1640 1056h32m128 0h32M1400 1136h32m208 0h32M320 1176h32m1008 0h32m408 0h32M200 1216h32M160 1256h32m1448 0h72M1520 1296h32m168 0h32m168 0h32M1040 1376h32M1080 1416h32m808 0h32M680 1456h32m648 0h32m168 0h32m168 0h32M800 1496h72m168 0h32M1520 1536h32M1280 1616h32M1440 1656h32m368 0h72M1280 1696h32m88 0h32M1560 1736h32M1880 1776h32"/>
<path stroke="#c92c1f" stroke-width="32" fill="none" d="M1360 856h32M880 896h32m368 0h32M680 936h32m48 0h32m688 0h32M600 976h32m1088 0h32M520 1016h32M1520 1056h32m128 0h32M400 1096h32m1168 0h32m208 0h32M400 1136h32M1760 1176h32M160 1216h32m1368 0h32M1560 1256h32M1280 1296h32m288 0h32M1920 1336h32M1160 1376h32m448 0h32m168 0h32M880 1416h32m128 0h32M840 1456h32m88 0h32m128 0h32m288 0h72m128 0h32m128 0h32M1080 1536h32m688 0h32M1320 1576h32m248 0h32M1400 1616h72m248 0h32m88 0h32M1000 1656h72m488 0h32M1520 1696h32m48 0h32M1080 1736h32M1920 1776h32"/>
<path stroke="#be271f" stroke-width="32" fill="none" d="M960 856h72m248 0h32M840 896h32m488 0h32M720 936h32M1640 976h32M640 1016h32m968 0h152M1360 1056h32M360 1096h32m88 0h32M1840 1136h32M1240 1176h32m48 0h32m248 0h32m48 0h32M1600 1216h32m248 0h32M200 1256h32m1368 0h32m88 0h32M120 1296h32M1080 1376h32M1400 1416h32m208 0h32M720 1456h32m288 0h32m648 0h32M960 1536h32m568 0h32M1160 1656h32m408 0h72M1320 1696h32m488 0h32m48 0h32M1640 1736h32M1840 1776h32"/>
<path stroke="#b3241f" stroke-width="32" fill="none" d="M1320 856h32m48 0h32M1320 896h32m128 0h72M640 936h32m208 0h112M560 976h32m48 0h72m128 0h32m888 0h32M440 1056h32m1288 0h32M360 1136h32M1720 1176h32M280 1216h32M1840 1256h32M1760 1296h32M960 1376h32m128 0h32m768 0h32M760 1416h72m168 0h32m448 0h112m168 0h32m88 0h32M920 1456h32m208 0h32m328 0h32m288 0h32M760 1496h32m88 0h32m168 0h32m368 0h32M1640 1536h72M1320 1616h32m408 0h32M960 1656h32m688 0h32M1720 1696h32M1880 1736h72M1680 1776h32"/>
<path stroke="#a8201f" stroke-width="32" fill="none" d="M1000 896h32m88 0h72m248 0h32M1600 936h32M800 976h32M600 1016h32m888 0h32M1520 1096h32M240 1216h32M240 1256h32M680 1416h32m248 0h32M1880 1496h32M1080 1576h32M1680 1616h32M1480 1696h32m368 0h32"/>
<pattern id="hp6" width="40" height="40" patternUnits="userSpaceOnUse"><path d="M32 0H40V40H32Z" fill="#fff"/><rect x="0.9" y="0.9" width="30.2" height="30.2" fill="none" stroke="#000" stroke-opacity="0.2" stroke-width="1.8"/></pattern>
<rect width="1960" height="1960" fill="url(#hp6)"/>
<path fill="#fff" d="M0 120h1160v40h-1160zM1240 120h720v40h-720zM0 1840h1960v40h-1960zM1200 0h40v1960h-40zM40 40h40v40h-40zM120 40h40v40h-40zM80 80h40v40h-40zM760 160h40v40h-40zM560 280h40v40h-40zM560 640h40v40h-40zM760 640h40v40h-40zM920 640h40v40h-40zM760 840h40v40h-40zM760 880h40v40h-40zM480 1000h40v40h-40zM720 1000h40v40h-40zM760 1000h40v40h-40zM920 1000h40v40h-40zM560 1080h40v40h-40zM760 1080h40v40h-40zM760 1320h40v40h-40zM560 1360h40v40h-40zM560 1720h40v40h-40zM760 1720h40v40h-40zM40 1760h40v40h-40zM560 1760h40v40h-40z"/>
</g>
<defs><linearGradient id="cb1" x1="0" y1="0" x2="0" y2="1"><stop offset="0.000" stop-color="#74101f"/><stop offset="0.043" stop-color="#8e1824"/><stop offset="0.087" stop-color="#a22129"/><stop offset="0.130" stop-color="#b62a2e"/><stop offset="0.174" stop-color="#ca463f"/><stop offset="0.217" stop-color="#dd6250"/><stop offset="0.261" stop-color="#e67d66"/><stop offset="0.304" stop-color="#ef977d"/><stop offset="0.348" stop-color="#f3af96"/><stop offset="0.391" stop-color="#f7c8b0"/><stop offset="0.435" stop-color="#f8dccc"/><stop offset="0.478" stop-color="#f7efe8"/><stop offset="0.522" stop-color="#f1f3f2"/><stop offset="0.565" stop-color="#e9f1f4"/><stop offset="0.609" stop-color="#d9eaf1"/><stop offset="0.652" stop-color="#c4e0ec"/><stop offset="0.696" stop-color="#add2e5"/><stop offset="0.739" stop-color="#93c1de"/><stop offset="0.783" stop-color="#78afd5"/><stop offset="0.826" stop-color="#5e9bcc"/><stop offset="0.870" stop-color="#4786c0"/><stop offset="0.913" stop-color="#386eae"/><stop offset="0.957" stop-color="#2b5699"/><stop offset="1.000" stop-color="#283c78"/></linearGradient></defs>
<rect x="667.6" y="1217.2" width="27.3" height="136.9" fill="url(#cb1)"/>
<path d="M667.6 1222.3h5.5M689.4 1222.3h5.5" stroke="#fff" stroke-opacity="0.6" stroke-width="0.8"/>
<path d="M667.6 1247.4h5.5M689.4 1247.4h5.5" stroke="#fff" stroke-opacity="0.6" stroke-width="0.8"/>
<path d="M667.6 1272.5h5.5M689.4 1272.5h5.5" stroke="#fff" stroke-opacity="0.6" stroke-width="0.8"/>
<path d="M667.6 1297.1h5.5M689.4 1297.1h5.5" stroke="#fff" stroke-opacity="0.6" stroke-width="0.8"/>
<path d="M667.6 1322.1h5.5M689.4 1322.1h5.5" stroke="#fff" stroke-opacity="0.6" stroke-width="0.8"/>
<path d="M667.6 1347.1h5.5M689.4 1347.1h5.5" stroke="#fff" stroke-opacity="0.6" stroke-width="0.8"/>
<text transform="translate(701.0 1224.6) scale(1.12 1)" font-size="24.3" text-anchor="start" fill="#111">0.8</text>
<text transform="translate(701.0 1251.6) scale(1.12 1)" font-size="24.3" text-anchor="start" fill="#111">0.7</text>
<text transform="translate(701.0 1278.6) scale(1.12 1)" font-size="24.3" text-anchor="start" fill="#111">0.6</text>
<text transform="translate(701.0 1305.6) scale(1.12 1)" font-size="24.3" text-anchor="start" fill="#111">0.5</text>
<text transform="translate(701.0 1332.6) scale(1.12 1)" font-size="24.3" text-anchor="start" fill="#111">0.4</text>
<text transform="translate(701.0 1359.6) scale(1.12 1)" font-size="24.3" text-anchor="start" fill="#111">0.3</text>
<defs><linearGradient id="cb2" x1="0" y1="0" x2="0" y2="1"><stop offset="0.000" stop-color="#a81c44"/><stop offset="0.043" stop-color="#b82946"/><stop offset="0.087" stop-color="#c83548"/><stop offset="0.130" stop-color="#d8424a"/><stop offset="0.174" stop-color="#e15449"/><stop offset="0.217" stop-color="#e96a49"/><stop offset="0.261" stop-color="#f0884c"/><stop offset="0.304" stop-color="#f1a05b"/><stop offset="0.348" stop-color="#f2b76b"/><stop offset="0.391" stop-color="#f2cd7e"/><stop offset="0.435" stop-color="#f4de93"/><stop offset="0.478" stop-color="#f5eda8"/><stop offset="0.522" stop-color="#f4f6b3"/><stop offset="0.565" stop-color="#eff8b1"/><stop offset="0.609" stop-color="#e8f6aa"/><stop offset="0.652" stop-color="#daf4a4"/><stop offset="0.696" stop-color="#c9f0a3"/><stop offset="0.739" stop-color="#b4ecaa"/><stop offset="0.783" stop-color="#9ae1b4"/><stop offset="0.826" stop-color="#7fccb8"/><stop offset="0.870" stop-color="#67b2b9"/><stop offset="0.913" stop-color="#5896bc"/><stop offset="0.957" stop-color="#5c73b6"/><stop offset="1.000" stop-color="#6a4db2"/></linearGradient></defs>
<rect x="1356.9" y="1213.9" width="27.1" height="134.4" fill="url(#cb2)"/>
<path d="M1356.9 1216.4h5.4M1378.6 1216.4h5.4" stroke="#fff" stroke-opacity="0.6" stroke-width="0.8"/>
<path d="M1356.9 1249.3h5.4M1378.6 1249.3h5.4" stroke="#fff" stroke-opacity="0.6" stroke-width="0.8"/>
<path d="M1356.9 1282.0h5.4M1378.6 1282.0h5.4" stroke="#fff" stroke-opacity="0.6" stroke-width="0.8"/>
<path d="M1356.9 1314.7h5.4M1378.6 1314.7h5.4" stroke="#fff" stroke-opacity="0.6" stroke-width="0.8"/>
<path d="M1356.9 1346.9h5.4M1378.6 1346.9h5.4" stroke="#fff" stroke-opacity="0.6" stroke-width="0.8"/>
<text transform="translate(1393.2 1229.3) scale(1.03 1)" font-size="26.5" text-anchor="start" fill="#111">0.14</text>
<text transform="translate(1393.2 1259.3) scale(1.03 1)" font-size="26.5" text-anchor="start" fill="#111">0.12</text>
<text transform="translate(1393.2 1289.3) scale(1.03 1)" font-size="26.5" text-anchor="start" fill="#111">0.10</text>
<text transform="translate(1393.2 1319.3) scale(1.03 1)" font-size="26.5" text-anchor="start" fill="#111">0.08</text>
<text transform="translate(1393.2 1349.3) scale(1.03 1)" font-size="26.5" text-anchor="start" fill="#111">0.06</text>
<defs><linearGradient id="cb3" x1="0" y1="0" x2="0" y2="1"><stop offset="0.000" stop-color="#a8201f"/><stop offset="0.043" stop-color="#bb261f"/><stop offset="0.087" stop-color="#ce2e1e"/><stop offset="0.130" stop-color="#df381d"/><stop offset="0.174" stop-color="#eb4b1c"/><stop offset="0.217" stop-color="#eb8c29"/><stop offset="0.261" stop-color="#eea82f"/><stop offset="0.304" stop-color="#edba3b"/><stop offset="0.348" stop-color="#eacd6d"/><stop offset="0.391" stop-color="#e4d89f"/><stop offset="0.435" stop-color="#dcd9be"/><stop offset="0.478" stop-color="#d5dcd7"/><stop offset="0.522" stop-color="#cadfe5"/><stop offset="0.565" stop-color="#b7ddec"/><stop offset="0.609" stop-color="#a3d6ed"/><stop offset="0.652" stop-color="#8fcaea"/><stop offset="0.696" stop-color="#7abae3"/><stop offset="0.739" stop-color="#66a6dc"/><stop offset="0.783" stop-color="#5e97d6"/><stop offset="0.826" stop-color="#5688cf"/><stop offset="0.870" stop-color="#4f7dc9"/><stop offset="0.913" stop-color="#4a74c4"/><stop offset="0.957" stop-color="#456bbf"/><stop offset="1.000" stop-color="#4264bb"/></linearGradient></defs>
<rect x="2049.2" y="1214.0" width="27.5" height="136.4" fill="url(#cb3)"/>
<path d="M2049.2 1214.5h5.5M2071.2 1214.5h5.5" stroke="#fff" stroke-opacity="0.6" stroke-width="0.8"/>
<path d="M2049.2 1243.0h5.5M2071.2 1243.0h5.5" stroke="#fff" stroke-opacity="0.6" stroke-width="0.8"/>
<path d="M2049.2 1271.7h5.5M2071.2 1271.7h5.5" stroke="#fff" stroke-opacity="0.6" stroke-width="0.8"/>
<path d="M2049.2 1300.6h5.5M2071.2 1300.6h5.5" stroke="#fff" stroke-opacity="0.6" stroke-width="0.8"/>
<path d="M2049.2 1329.3h5.5M2071.2 1329.3h5.5" stroke="#fff" stroke-opacity="0.6" stroke-width="0.8"/>
<text transform="translate(2089.5 1223.1) scale(1.05 1)" font-size="26.0" text-anchor="start" fill="#111">1.4</text>
<text transform="translate(2089.5 1251.8) scale(1.05 1)" font-size="26.0" text-anchor="start" fill="#111">1.2</text>
<text transform="translate(2089.5 1280.5) scale(1.05 1)" font-size="26.0" text-anchor="start" fill="#111">1.0</text>
<text transform="translate(2089.5 1309.2) scale(1.05 1)" font-size="26.0" text-anchor="start" fill="#111">0.8</text>
<text transform="translate(2089.5 1337.6) scale(1.05 1)" font-size="26.0" text-anchor="start" fill="#111">0.6</text>
<defs><linearGradient id="cb4" x1="0" y1="0" x2="0" y2="1"><stop offset="0.000" stop-color="#74101f"/><stop offset="0.043" stop-color="#8e1824"/><stop offset="0.087" stop-color="#a22129"/><stop offset="0.130" stop-color="#b62a2e"/><stop offset="0.174" stop-color="#ca463f"/><stop offset="0.217" stop-color="#dd6250"/><stop offset="0.261" stop-color="#e67d66"/><stop offset="0.304" stop-color="#ef977d"/><stop offset="0.348" stop-color="#f3af96"/><stop offset="0.391" stop-color="#f7c8b0"/><stop offset="0.435" stop-color="#f8dccc"/><stop offset="0.478" stop-color="#f7efe8"/><stop offset="0.522" stop-color="#f1f3f2"/><stop offset="0.565" stop-color="#e9f1f4"/><stop offset="0.609" stop-color="#d9eaf1"/><stop offset="0.652" stop-color="#c4e0ec"/><stop offset="0.696" stop-color="#add2e5"/><stop offset="0.739" stop-color="#93c1de"/><stop offset="0.783" stop-color="#78afd5"/><stop offset="0.826" stop-color="#5e9bcc"/><stop offset="0.870" stop-color="#4786c0"/><stop offset="0.913" stop-color="#386eae"/><stop offset="0.957" stop-color="#2b5699"/><stop offset="1.000" stop-color="#283c78"/></linearGradient></defs>
<rect x="669.0" y="1878.0" width="26.9" height="134.5" fill="url(#cb4)"/>
<path d="M669.0 1884.5h5.4M690.5 1884.5h5.4" stroke="#fff" stroke-opacity="0.6" stroke-width="0.8"/>
<path d="M669.0 1907.9h5.4M690.5 1907.9h5.4" stroke="#fff" stroke-opacity="0.6" stroke-width="0.8"/>
<path d="M669.0 1931.5h5.4M690.5 1931.5h5.4" stroke="#fff" stroke-opacity="0.6" stroke-width="0.8"/>
<path d="M669.0 1954.5h5.4M690.5 1954.5h5.4" stroke="#fff" stroke-opacity="0.6" stroke-width="0.8"/>
<path d="M669.0 1977.8h5.4M690.5 1977.8h5.4" stroke="#fff" stroke-opacity="0.6" stroke-width="0.8"/>
<path d="M669.0 2001.2h5.4M690.5 2001.2h5.4" stroke="#fff" stroke-opacity="0.6" stroke-width="0.8"/>
<text transform="translate(707.5 1893.5) scale(1.05 1)" font-size="26.3" text-anchor="start" fill="#111">0.7</text>
<text transform="translate(707.5 1916.7) scale(1.05 1)" font-size="26.3" text-anchor="start" fill="#111">0.6</text>
<text transform="translate(707.5 1939.9) scale(1.05 1)" font-size="26.3" text-anchor="start" fill="#111">0.5</text>
<text transform="translate(707.5 1963.1) scale(1.05 1)" font-size="26.3" text-anchor="start" fill="#111">0.4</text>
<text transform="translate(707.5 1986.3) scale(1.05 1)" font-size="26.3" text-anchor="start" fill="#111">0.3</text>
<text transform="translate(707.5 2009.6) scale(1.05 1)" font-size="26.3" text-anchor="start" fill="#111">0.2</text>
<defs><linearGradient id="cb5" x1="0" y1="0" x2="0" y2="1"><stop offset="0.000" stop-color="#a81c44"/><stop offset="0.043" stop-color="#b82946"/><stop offset="0.087" stop-color="#c83548"/><stop offset="0.130" stop-color="#d8424a"/><stop offset="0.174" stop-color="#e15449"/><stop offset="0.217" stop-color="#e96a49"/><stop offset="0.261" stop-color="#f0884c"/><stop offset="0.304" stop-color="#f1a05b"/><stop offset="0.348" stop-color="#f2b76b"/><stop offset="0.391" stop-color="#f2cd7e"/><stop offset="0.435" stop-color="#f4de93"/><stop offset="0.478" stop-color="#f5eda8"/><stop offset="0.522" stop-color="#f4f6b3"/><stop offset="0.565" stop-color="#eff8b1"/><stop offset="0.609" stop-color="#e8f6aa"/><stop offset="0.652" stop-color="#daf4a4"/><stop offset="0.696" stop-color="#c9f0a3"/><stop offset="0.739" stop-color="#b4ecaa"/><stop offset="0.783" stop-color="#9ae1b4"/><stop offset="0.826" stop-color="#7fccb8"/><stop offset="0.870" stop-color="#67b2b9"/><stop offset="0.913" stop-color="#5896bc"/><stop offset="0.957" stop-color="#5c73b6"/><stop offset="1.000" stop-color="#6a4db2"/></linearGradient></defs>
<rect x="1355.1" y="1875.3" width="27.5" height="136.7" fill="url(#cb5)"/>
<path d="M1355.1 1903.0h5.5M1377.1 1903.0h5.5" stroke="#fff" stroke-opacity="0.6" stroke-width="0.8"/>
<path d="M1355.1 1935.4h5.5M1377.1 1935.4h5.5" stroke="#fff" stroke-opacity="0.6" stroke-width="0.8"/>
<path d="M1355.1 1967.9h5.5M1377.1 1967.9h5.5" stroke="#fff" stroke-opacity="0.6" stroke-width="0.8"/>
<path d="M1355.1 2000.1h5.5M1377.1 2000.1h5.5" stroke="#fff" stroke-opacity="0.6" stroke-width="0.8"/>
<text x="1389.6" y="1913.7" font-size="27.6" text-anchor="start" fill="#111">0.12</text>
<text x="1389.6" y="1946.1" font-size="27.6" text-anchor="start" fill="#111">0.10</text>
<text x="1389.6" y="1978.6" font-size="27.6" text-anchor="start" fill="#111">0.08</text>
<text x="1389.6" y="2010.8" font-size="27.6" text-anchor="start" fill="#111">0.06</text>
<defs><linearGradient id="cb6" x1="0" y1="0" x2="0" y2="1"><stop offset="0.000" stop-color="#a8201f"/><stop offset="0.043" stop-color="#bb261f"/><stop offset="0.087" stop-color="#ce2e1e"/><stop offset="0.130" stop-color="#df381d"/><stop offset="0.174" stop-color="#eb4b1c"/><stop offset="0.217" stop-color="#eb8c29"/><stop offset="0.261" stop-color="#eea82f"/><stop offset="0.304" stop-color="#edba3b"/><stop offset="0.348" stop-color="#eacd6d"/><stop offset="0.391" stop-color="#e4d89f"/><stop offset="0.435" stop-color="#dcd9be"/><stop offset="0.478" stop-color="#d5dcd7"/><stop offset="0.522" stop-color="#cadfe5"/><stop offset="0.565" stop-color="#b7ddec"/><stop offset="0.609" stop-color="#a3d6ed"/><stop offset="0.652" stop-color="#8fcaea"/><stop offset="0.696" stop-color="#7abae3"/><stop offset="0.739" stop-color="#66a6dc"/><stop offset="0.783" stop-color="#5e97d6"/><stop offset="0.826" stop-color="#5688cf"/><stop offset="0.870" stop-color="#4f7dc9"/><stop offset="0.913" stop-color="#4a74c4"/><stop offset="0.957" stop-color="#456bbf"/><stop offset="1.000" stop-color="#4264bb"/></linearGradient></defs>
<rect x="2049.7" y="1885.5" width="27.0" height="136.5" fill="url(#cb6)"/>
<path d="M2049.7 1917.9h5.4M2071.3 1917.9h5.4" stroke="#fff" stroke-opacity="0.6" stroke-width="0.8"/>
<path d="M2049.7 1953.6h5.4M2071.3 1953.6h5.4" stroke="#fff" stroke-opacity="0.6" stroke-width="0.8"/>
<path d="M2049.7 1989.3h5.4M2071.3 1989.3h5.4" stroke="#fff" stroke-opacity="0.6" stroke-width="0.8"/>
<text transform="translate(2089.5 1926.1) scale(1.08 1)" font-size="26.0" text-anchor="start" fill="#111">1.5</text>
<text transform="translate(2089.5 1961.8) scale(1.08 1)" font-size="26.0" text-anchor="start" fill="#111">1.2</text>
<text transform="translate(2089.5 1997.5) scale(1.08 1)" font-size="26.0" text-anchor="start" fill="#111">0.9</text>
<path d="M157.5 140V628.6H620" fill="none" stroke="#111" stroke-width="1.9"/>
<path d="M154.2 155.6h3.3M154.2 265.5h3.3M154.2 375.4h3.3M154.2 485.0h3.3M154.2 595.0h3.3M264.3 628.6v3.3M373.1 628.6v3.3M480.6 628.6v3.3M588.8 628.6v3.3" stroke="#111" stroke-width="1.3"/>
<text x="149.9" y="160.8" font-size="19.5" text-anchor="end" fill="#111">4</text>
<text x="149.9" y="270.7" font-size="19.5" text-anchor="end" fill="#111">2</text>
<text x="149.9" y="380.6" font-size="19.5" text-anchor="end" fill="#111">0</text>
<text x="149.9" y="490.2" font-size="19.5" text-anchor="end" fill="#111">-2</text>
<text x="149.9" y="600.2" font-size="19.5" text-anchor="end" fill="#111">-4</text>
<text x="264.3" y="649.4" font-size="19.5" text-anchor="middle" fill="#111">-3</text>
<text x="373.1" y="649.4" font-size="19.5" text-anchor="middle" fill="#111">0</text>
<text x="480.6" y="649.4" font-size="19.5" text-anchor="middle" fill="#111">3</text>
<text x="588.8" y="649.4" font-size="19.5" text-anchor="middle" fill="#111">6</text>
<text x="400" y="686.7" font-size="37.5" font-weight="bold" text-anchor="middle" fill="#111">UMAP 1</text>
<text x="0" y="0" font-size="37.5" font-weight="bold" text-anchor="middle" fill="#111" transform="translate(118.5 372) rotate(-90)">UMAP 2</text>
<path d="M326.4 338.6h0M291.8 463.6h0M329.2 314.9h0M324.8 289.2h0M352.4 413.0h0M347.3 398.2h0M310.8 285.5h0M229.9 347.6h0M378.5 363.0h0M220.6 376.0h0M377.3 406.2h0M261.9 362.5h0M246.3 373.6h0M284.8 399.1h0M314.4 412.1h0M290.7 285.8h0M278.8 408.6h0M261.4 385.6h0M322.1 447.0h0M203.4 408.7h0M354.9 302.6h0M359.9 434.0h0M295.8 351.8h0M362.0 436.4h0M266.2 319.5h0M286.5 448.7h0M293.9 422.4h0M291.3 389.9h0M349.8 397.3h0M271.9 291.9h0M300.6 389.2h0M263.3 468.2h0M383.5 380.5h0M341.3 442.5h0M209.3 422.0h0M299.4 452.4h0M334.4 293.1h0M314.0 445.5h0M277.1 304.8h0M356.4 295.6h0M344.8 234.8h0M345.7 285.1h0M361.2 285.3h0M301.3 304.0h0M293.3 265.7h0M274.9 270.6h0M311.2 315.3h0M310.4 227.3h0M309.3 323.3h0M296.3 294.2h0M308.9 271.8h0M406.5 332.5h0M413.1 391.8h0M390.6 385.5h0M236.9 527.8h0M231.1 465.5h0M247.2 510.9h0M203.6 507.1h0M591.4 355.2h0M541.7 411.8h0" stroke="#e6e036" stroke-width="4.6" stroke-linecap="round" fill="none"/>
<path d="M285.4 312.8h0M375.1 409.3h0M262.5 395.3h0M253.0 331.2h0M358.2 355.9h0M322.3 338.5h0M309.6 294.5h0M267.2 360.7h0M211.5 333.8h0M279.1 359.8h0M299.0 319.8h0M283.1 329.8h0M309.5 344.8h0M243.2 352.5h0M277.0 328.6h0M337.5 314.4h0M266.8 290.9h0M238.9 336.3h0M359.4 336.9h0M326.2 300.5h0M324.1 352.5h0M359.1 415.6h0M293.4 341.9h0M255.1 294.3h0M260.0 293.2h0M365.0 377.8h0M287.5 305.2h0M327.6 395.0h0M318.6 441.5h0M295.1 345.8h0M326.6 381.3h0M214.3 425.4h0M314.5 464.2h0M263.8 388.4h0M285.6 382.7h0M273.2 322.6h0M298.5 411.3h0M207.0 386.9h0M279.8 323.2h0M257.5 268.2h0M367.6 274.1h0M279.7 259.4h0M324.4 282.2h0M342.9 293.2h0M278.5 317.1h0M338.1 244.3h0M345.7 278.8h0M297.9 289.4h0M277.7 252.1h0M286.1 308.5h0M318.8 324.1h0M279.5 306.8h0M416.2 340.4h0M426.7 361.5h0M424.8 333.3h0M235.9 531.7h0M223.1 532.8h0M232.4 475.8h0M546.5 470.8h0M541.5 320.9h0" stroke="#e6e036" stroke-width="4.6" stroke-linecap="round" fill="none"/>
<path d="M548.2 457.7h0M530.0 310.0h0M566.7 419.8h0M571.1 321.2h0M505.4 429.2h0M518.5 398.8h0M492.5 467.7h0M528.3 465.2h0M525.3 438.8h0M539.8 290.3h0M542.4 286.6h0M457.9 354.0h0M485.1 432.0h0M527.5 489.9h0M589.5 412.8h0M472.5 385.6h0M508.1 339.5h0M515.3 388.2h0M525.2 437.7h0M483.5 364.8h0M467.6 385.3h0M486.6 314.6h0M584.2 365.8h0M532.6 451.0h0M547.5 377.8h0M520.3 474.2h0M545.6 471.9h0M525.6 435.5h0M545.3 376.8h0M499.5 482.6h0M454.7 373.7h0M514.0 289.3h0M564.6 423.5h0M554.0 355.8h0M535.5 338.7h0M558.0 423.9h0M497.1 413.5h0M492.7 464.0h0M459.0 405.2h0M587.7 426.1h0M569.6 399.5h0M569.5 439.2h0M492.1 311.1h0M520.1 320.9h0M494.8 334.2h0M465.4 364.7h0M500.5 415.1h0M509.2 453.4h0M474.8 329.3h0M492.6 433.0h0M546.1 330.7h0M506.6 312.4h0M566.4 354.0h0M522.6 360.3h0M476.2 447.5h0M589.6 411.9h0M463.8 339.6h0M492.7 366.4h0M499.4 399.2h0M526.8 423.0h0M440.0 402.6h0M445.8 371.2h0" stroke="#9aabdd" stroke-width="4.6" stroke-linecap="round" fill="none"/>
<path d="M513.3 420.2h0M497.4 340.3h0M552.7 347.9h0M459.2 357.0h0M490.2 426.6h0M537.9 353.1h0M561.1 396.1h0M568.7 375.8h0M522.3 452.0h0M532.1 315.4h0M559.8 459.1h0M553.2 418.0h0M522.3 420.9h0M497.1 290.9h0M509.7 442.4h0M569.6 336.0h0M516.0 367.2h0M476.7 379.9h0M575.1 388.6h0M495.4 384.1h0M538.5 420.5h0M545.7 352.7h0M473.6 407.1h0M521.8 399.0h0M488.5 299.1h0M555.4 377.2h0M510.2 434.2h0M525.3 410.3h0M564.5 467.6h0M478.2 341.1h0M504.3 458.0h0M563.8 431.8h0M577.1 406.5h0M512.3 385.8h0M535.2 353.9h0M579.6 382.4h0M533.9 464.1h0M585.2 419.8h0M502.2 296.9h0M503.0 295.7h0M586.6 334.9h0M465.8 422.4h0M581.7 431.8h0M547.8 445.4h0M544.2 464.4h0M502.9 462.0h0M467.3 380.7h0M569.3 453.3h0M473.0 422.6h0M490.9 301.0h0M542.3 380.8h0M488.9 385.8h0M511.7 346.4h0M568.7 392.5h0M482.7 324.2h0M585.9 355.8h0M550.9 297.1h0M563.8 338.5h0M533.4 322.4h0M597.0 364.7h0M440.5 367.2h0M450.7 392.7h0M448.1 345.8h0" stroke="#9aabdd" stroke-width="4.6" stroke-linecap="round" fill="none"/>
<path d="M572.6 412.8h0M505.4 327.4h0M563.4 301.1h0M481.3 463.1h0M532.0 424.3h0M515.2 383.1h0M592.8 346.8h0M543.3 413.6h0M464.4 337.3h0M486.3 340.1h0M538.7 487.4h0M462.9 433.8h0M554.2 400.6h0M490.8 420.1h0M540.4 455.7h0M458.0 384.4h0M521.0 343.4h0M595.7 373.1h0M497.9 474.3h0M477.1 313.8h0M586.4 328.8h0M589.8 359.6h0M501.5 343.8h0M489.8 299.7h0M534.1 403.0h0M571.7 408.2h0M534.0 382.3h0M579.7 317.3h0M492.0 384.8h0M523.3 466.2h0M505.1 419.5h0M593.4 350.7h0M481.8 342.8h0M510.1 385.5h0M485.5 384.9h0M524.4 367.2h0M572.3 462.9h0M542.6 462.9h0M537.4 315.6h0M538.5 465.6h0M563.0 310.5h0M537.8 365.6h0M488.9 423.6h0M550.2 355.5h0M472.6 441.7h0M501.3 351.4h0M539.9 469.6h0M535.9 488.7h0M587.5 420.2h0M463.4 369.9h0M495.7 294.9h0M505.9 435.8h0M530.0 402.6h0M507.0 402.6h0M523.7 378.2h0M505.7 296.4h0M496.9 295.4h0M550.7 465.3h0M524.7 404.3h0M582.4 330.0h0M447.3 417.6h0M430.2 413.5h0M449.8 401.1h0" stroke="#9aabdd" stroke-width="4.6" stroke-linecap="round" fill="none"/>
<path d="M348.0 338.8h0M304.7 403.6h0M244.3 415.9h0M362.5 344.9h0M280.7 422.0h0M336.0 328.0h0M236.2 347.3h0M312.9 376.4h0M317.9 423.6h0M271.0 337.2h0M235.3 393.9h0M342.9 365.6h0M316.4 467.3h0M248.2 428.0h0M310.6 379.9h0M271.5 317.2h0M255.4 398.2h0M318.2 452.6h0M319.9 329.9h0M277.2 338.3h0M382.0 358.2h0M346.8 328.8h0M297.6 339.2h0M210.0 348.5h0M327.8 455.7h0M282.1 443.6h0M234.2 381.9h0M332.6 344.5h0M267.9 323.6h0M289.3 325.3h0M284.9 281.2h0M296.4 296.6h0M364.4 437.4h0M326.3 448.2h0M248.3 407.7h0M211.9 321.4h0M217.5 394.4h0M282.6 383.9h0M358.1 263.5h0M330.1 289.8h0M340.4 281.8h0M258.9 289.8h0M355.3 288.3h0M349.1 256.9h0M305.4 286.1h0M331.8 307.1h0M306.5 258.5h0M320.1 219.5h0M360.5 262.2h0M279.0 248.8h0M321.3 252.3h0M439.0 387.6h0M409.2 325.7h0M422.6 420.3h0M203.5 533.4h0M221.2 555.4h0M233.4 485.8h0M209.8 493.9h0M587.2 371.8h0M459.6 401.0h0" stroke="#e6e036" stroke-width="4.6" stroke-linecap="round" fill="none"/>
<path d="M230.6 321.5h0M328.3 291.7h0M324.3 384.6h0M357.2 398.3h0M341.0 359.0h0M304.2 444.0h0M321.9 311.4h0M228.0 375.2h0M261.0 311.4h0M307.5 413.7h0M205.8 362.5h0M216.8 317.3h0M263.2 325.8h0M221.5 369.1h0M369.8 389.9h0M290.3 377.5h0M230.2 405.5h0M248.5 451.6h0M344.0 418.3h0M232.4 440.4h0M230.0 369.2h0M242.0 451.8h0M270.2 389.5h0M369.8 329.7h0M272.2 453.7h0M319.9 426.5h0M317.2 287.1h0M281.6 303.0h0M270.2 358.6h0M230.4 320.3h0M300.7 316.7h0M362.7 406.5h0M333.8 443.8h0M300.2 461.8h0M289.7 400.6h0M302.4 406.7h0M283.4 468.0h0M264.8 383.5h0M311.8 300.7h0M329.9 241.5h0M362.4 271.4h0M347.8 251.7h0M302.6 296.7h0M301.8 278.4h0M325.6 250.0h0M297.8 252.6h0M266.5 252.1h0M295.6 281.2h0M336.6 224.2h0M359.2 253.8h0M360.8 285.1h0M347.2 243.7h0M409.6 364.5h0M409.9 402.5h0M400.2 364.6h0M235.3 552.9h0M218.7 472.5h0M214.7 542.9h0M512.3 319.3h0M565.3 383.9h0" stroke="#e6e036" stroke-width="4.6" stroke-linecap="round" fill="none"/>
<path d="M239.5 331.5h0M227.0 398.5h0M283.0 344.9h0M322.7 286.8h0M257.2 341.1h0M242.1 331.3h0M244.6 439.4h0M251.3 411.9h0M245.6 433.9h0M320.7 418.9h0M293.9 343.1h0M256.0 460.3h0M310.5 423.7h0M257.6 346.6h0M358.0 313.9h0M281.9 326.6h0M247.2 327.5h0M264.4 462.8h0M362.2 416.8h0M316.8 325.6h0M306.4 312.8h0M355.7 355.1h0M344.1 420.8h0M349.9 325.3h0M358.0 431.1h0M311.1 465.6h0M240.7 317.1h0M304.1 397.0h0M266.6 340.1h0M356.3 341.7h0M298.2 381.9h0M251.2 458.3h0M280.8 430.2h0M273.1 285.0h0M353.0 318.8h0M289.8 451.6h0M243.2 322.7h0M337.8 410.2h0M233.6 306.4h0M354.1 278.9h0M355.4 287.7h0M279.7 255.0h0M322.8 234.5h0M322.3 253.7h0M328.4 283.0h0M339.8 303.4h0M366.1 277.2h0M315.3 269.2h0M356.5 262.2h0M270.0 303.1h0M282.4 229.4h0M337.0 241.4h0M440.3 354.9h0M414.2 347.3h0M415.2 341.1h0M215.4 536.3h0M209.4 472.3h0M235.2 525.2h0M498.6 392.3h0M521.2 448.8h0" stroke="#e6e036" stroke-width="4.6" stroke-linecap="round" fill="none"/>
<path d="M256.5 166.9h0M264.6 199.2h0M258.3 198.3h0M242.0 199.4h0M270.8 206.4h0M262.1 190.7h0M256.6 177.2h0M265.2 216.0h0M286.7 192.8h0M282.1 186.4h0M285.0 192.6h0M282.8 177.5h0M243.2 181.2h0M262.9 192.9h0M255.8 201.1h0M267.4 189.6h0M263.2 194.9h0M245.8 210.4h0M262.2 192.4h0M242.2 206.5h0M284.2 194.0h0M263.0 216.7h0M267.0 167.4h0M250.1 213.9h0M241.5 213.7h0M275.8 198.3h0M262.4 169.6h0M283.7 191.4h0M271.9 236.7h0M262.4 251.4h0M266.4 231.1h0M291.9 223.4h0M250.3 224.7h0M249.4 225.2h0M243.9 247.4h0M268.4 251.9h0M249.1 242.9h0M268.6 238.6h0M251.3 236.9h0M297.3 230.9h0M276.2 231.8h0M286.4 240.3h0M277.7 249.8h0M250.5 225.8h0M240.5 227.3h0M282.1 232.0h0M254.1 238.3h0M310.6 237.4h0M254.3 230.6h0M256.3 245.9h0M260.0 292.0h0M258.8 320.3h0M246.7 309.1h0M255.0 286.2h0M243.6 313.9h0M238.6 267.3h0M253.7 287.7h0M246.9 317.3h0M238.4 258.9h0M261.4 282.4h0" stroke="#d4a660" stroke-width="4.6" stroke-linecap="round" fill="none"/>
<path d="M210.6 546.9h0M195.1 559.6h0M208.8 559.1h0M221.4 565.2h0M188.2 569.0h0M206.0 592.1h0M206.2 561.3h0M188.8 579.5h0M215.4 562.4h0M196.3 570.7h0M184.3 589.1h0M221.5 568.6h0M185.3 585.5h0M206.3 557.6h0M220.0 555.0h0M206.8 590.7h0M184.2 575.0h0M205.8 562.7h0M188.7 597.0h0M221.2 557.8h0M189.0 555.3h0M188.5 585.3h0M198.9 549.6h0M185.5 557.8h0M198.4 550.4h0M217.4 568.1h0M212.8 590.8h0M203.3 588.4h0M208.7 586.9h0M209.5 594.0h0M192.9 577.4h0M196.2 546.9h0M197.8 557.5h0M214.5 554.2h0M191.6 581.7h0M211.5 589.4h0M191.0 599.6h0M219.5 558.9h0M188.8 596.5h0M189.9 577.5h0M193.2 588.6h0M192.7 598.6h0M222.2 584.8h0M201.0 549.7h0M221.7 590.4h0M205.4 512.6h0M214.6 507.1h0M216.1 514.9h0M197.3 533.9h0M229.7 499.0h0M199.8 531.3h0M193.5 517.5h0M203.5 525.4h0M215.2 517.4h0M213.2 478.4h0M194.6 491.2h0M201.6 490.8h0M214.3 471.5h0M208.8 534.6h0M215.1 499.9h0M192.9 488.9h0M211.1 493.0h0" stroke="#9b30c8" stroke-width="4.6" stroke-linecap="round" fill="none"/>
<path d="M570.4 402.5h0M503.4 459.0h0M466.7 400.6h0M550.2 377.3h0M517.1 404.5h0M453.0 368.8h0M565.8 370.2h0M579.3 334.5h0M463.0 434.9h0M464.7 380.4h0M485.0 429.2h0M539.8 341.7h0M510.4 437.6h0M547.7 398.4h0M560.6 388.6h0M547.4 298.0h0M520.3 283.6h0M572.9 394.5h0M588.2 388.0h0M574.6 359.5h0M501.2 398.0h0M531.3 377.8h0M549.0 422.4h0M526.7 403.2h0M566.2 410.2h0M475.8 458.9h0M530.0 456.4h0M523.2 413.8h0M546.0 309.5h0M507.1 351.4h0M520.8 343.7h0M510.3 389.3h0M498.1 347.8h0M481.7 385.5h0M553.2 396.4h0M539.8 342.3h0M526.0 423.9h0M467.1 383.4h0M519.4 468.9h0M587.1 433.8h0M480.7 316.5h0M536.9 351.1h0M539.8 369.7h0M538.7 437.7h0M507.4 319.7h0M482.4 418.5h0M475.2 443.6h0M490.1 452.4h0M578.7 335.8h0M461.0 423.9h0M489.5 477.9h0M508.2 461.6h0M535.8 288.2h0M505.6 351.7h0M583.2 394.7h0M497.3 456.3h0M514.1 409.2h0M489.8 445.2h0M533.8 426.1h0M532.2 370.3h0M460.9 338.4h0M464.4 403.2h0M453.9 360.2h0" stroke="#9aabdd" stroke-width="4.6" stroke-linecap="round" fill="none"/>
<path d="M538.5 384.1h0M547.7 383.0h0M536.2 415.1h0M582.8 362.1h0M509.6 412.0h0M552.7 290.6h0M575.7 429.5h0M454.7 370.2h0M516.7 311.9h0M538.3 357.3h0M480.6 364.7h0M481.5 317.5h0M543.2 451.7h0M512.1 453.0h0M510.4 291.4h0M471.5 357.8h0M523.4 332.5h0M548.3 376.9h0M495.3 437.5h0M484.5 397.1h0M480.5 424.9h0M558.9 378.5h0M509.6 452.0h0M539.1 344.6h0M502.8 334.1h0M555.7 363.1h0M553.3 305.2h0M513.1 358.8h0M579.2 373.8h0M482.8 433.2h0M480.4 309.9h0M538.9 350.7h0M530.5 295.7h0M548.7 367.4h0M562.4 332.6h0M455.6 379.1h0M496.1 333.8h0M523.5 318.1h0M554.3 348.1h0M504.6 303.1h0M512.5 472.5h0M486.7 464.7h0M462.9 369.3h0M586.4 373.3h0M496.1 409.2h0M576.4 404.8h0M503.7 427.5h0M500.2 421.7h0M531.6 477.9h0M458.9 363.2h0M461.7 372.5h0M574.6 349.1h0M480.2 308.4h0M518.5 339.7h0M469.7 418.8h0M538.1 337.9h0M523.1 476.7h0M491.2 353.5h0M577.8 457.2h0M471.7 338.0h0M434.1 358.9h0M470.9 371.4h0" stroke="#9aabdd" stroke-width="4.6" stroke-linecap="round" fill="none"/>
<path d="M203.8 603.8h0M207.5 561.1h0M190.1 570.8h0M209.2 567.3h0M223.5 583.3h0M207.3 547.6h0M201.3 579.3h0M202.4 561.7h0M196.3 597.2h0M194.9 601.0h0M187.1 572.6h0M194.0 588.8h0M220.3 580.0h0M182.4 571.0h0M206.4 561.7h0M197.5 547.0h0M209.6 595.5h0M220.2 575.0h0M204.3 547.1h0M181.2 574.6h0M194.9 570.8h0M202.3 590.7h0M216.4 575.6h0M193.4 573.7h0M199.4 549.5h0M207.7 571.9h0M208.5 551.4h0M192.6 597.5h0M193.7 563.8h0M196.4 594.5h0M180.7 577.5h0M206.0 582.1h0M190.8 583.1h0M201.3 573.9h0M215.8 565.9h0M200.9 545.9h0M187.0 561.8h0M206.2 584.3h0M186.9 577.7h0M219.6 564.7h0M205.6 560.1h0M191.3 571.2h0M213.0 576.8h0M214.0 580.5h0M182.0 565.9h0M209.8 469.8h0M193.8 483.5h0M205.9 475.9h0M200.8 471.9h0M209.8 523.3h0M213.3 518.4h0M208.5 498.7h0M221.4 485.0h0M222.9 490.5h0M227.9 506.0h0M196.0 521.0h0M228.5 494.9h0M224.6 485.8h0M202.8 535.1h0M199.5 506.4h0M220.3 531.7h0M215.4 500.4h0" stroke="#9b30c8" stroke-width="4.6" stroke-linecap="round" fill="none"/>
<path d="M288.4 201.0h0M272.3 170.1h0M274.4 172.5h0M245.1 175.9h0M279.1 211.6h0M257.3 199.7h0M264.4 222.2h0M264.9 228.7h0M270.1 199.1h0M267.1 222.2h0M263.3 187.8h0M281.6 214.3h0M242.2 196.6h0M261.5 198.3h0M256.3 186.1h0M259.9 168.0h0M242.1 177.4h0M245.6 194.4h0M283.9 181.9h0M274.2 225.0h0M277.3 208.5h0M263.2 181.3h0M251.9 221.4h0M254.9 219.8h0M237.7 189.6h0M257.0 226.5h0M254.5 172.9h0M266.3 211.7h0M261.0 203.7h0M303.2 233.2h0M257.5 225.3h0M277.2 229.0h0M281.2 232.3h0M293.8 234.8h0M297.5 248.9h0M255.0 235.2h0M274.6 243.3h0M247.4 222.0h0M279.3 239.1h0M249.3 245.1h0M297.5 223.2h0M280.4 230.2h0M245.6 238.8h0M269.6 237.4h0M271.0 248.2h0M283.8 227.9h0M269.5 238.8h0M239.0 244.4h0M224.3 236.9h0M274.4 253.4h0M254.6 324.5h0M251.7 307.7h0M249.2 285.4h0M237.2 258.9h0M247.9 295.4h0M255.4 261.3h0M251.4 254.2h0M242.8 272.2h0M237.2 271.7h0M241.4 277.7h0" stroke="#d4a660" stroke-width="4.6" stroke-linecap="round" fill="none"/>
<path d="M539.1 412.5h0M553.8 444.8h0M548.6 422.4h0M518.4 368.1h0M476.5 401.9h0M551.1 306.1h0M525.0 317.0h0M539.5 347.4h0M464.1 355.6h0M555.4 408.1h0M488.5 336.0h0M587.3 426.4h0M544.6 326.9h0M519.0 489.4h0M550.9 383.5h0M521.8 387.3h0M558.3 406.0h0M571.2 330.5h0M578.8 443.7h0M559.9 379.6h0M558.8 406.7h0M465.6 375.1h0M561.6 340.5h0M504.9 485.1h0M526.4 390.7h0M505.8 430.5h0M507.1 441.4h0M485.7 362.1h0M556.8 336.6h0M556.3 460.6h0M490.0 439.3h0M481.6 380.0h0M503.7 392.1h0M563.1 410.6h0M583.4 450.9h0M519.8 376.4h0M525.7 486.3h0M528.2 417.1h0M483.8 324.2h0M481.7 458.1h0M574.5 370.8h0M518.3 431.0h0M501.8 433.2h0M560.1 424.0h0M534.2 301.7h0M573.0 360.3h0M573.4 359.8h0M586.8 388.5h0M578.6 334.7h0M472.2 402.3h0M477.8 422.6h0M572.6 344.0h0M547.2 395.0h0M586.1 415.3h0M487.0 449.5h0M476.2 423.6h0M581.0 435.8h0M597.0 408.9h0M479.2 307.8h0M524.0 420.3h0M437.0 337.2h0M447.7 365.0h0" stroke="#9aabdd" stroke-width="4.6" stroke-linecap="round" fill="none"/>
<path d="M501.2 474.6h0M582.5 407.5h0M471.9 448.6h0M577.1 332.9h0M543.1 402.4h0M532.5 459.3h0M553.2 470.0h0M524.6 440.4h0M567.3 434.2h0M578.2 424.3h0M592.5 427.9h0M485.9 403.6h0M458.0 390.0h0M577.3 374.1h0M515.6 305.7h0M543.6 301.5h0M496.5 311.3h0M533.1 485.3h0M509.2 485.7h0M503.7 342.0h0M548.2 380.2h0M582.7 355.5h0M528.3 435.4h0M495.6 388.1h0M517.2 445.0h0M579.7 365.8h0M528.7 361.5h0M522.7 343.9h0M521.0 478.3h0M493.8 415.2h0M547.5 428.6h0M549.5 421.0h0M557.2 434.7h0M526.0 348.9h0M494.6 341.2h0M566.9 388.0h0M575.3 407.2h0M526.4 404.5h0M487.9 297.6h0M554.4 297.7h0M558.8 322.2h0M509.3 319.0h0M562.8 466.2h0M589.9 377.6h0M560.9 319.1h0M568.9 432.9h0M537.7 478.2h0M518.3 434.5h0M559.3 472.7h0M490.9 304.8h0M542.5 339.6h0M482.5 332.6h0M545.2 315.0h0M509.6 293.2h0M493.6 339.7h0M552.9 297.0h0M529.6 340.3h0M558.2 334.3h0M503.6 332.0h0M497.4 391.6h0M459.2 407.3h0M439.6 346.3h0" stroke="#9aabdd" stroke-width="4.6" stroke-linecap="round" fill="none"/>
<path d="M200.3 549.2h0M207.5 565.7h0M214.8 552.0h0M194.8 553.3h0M192.2 597.5h0M203.0 584.5h0M208.4 578.4h0M210.3 547.3h0M218.9 559.9h0M185.1 560.7h0M197.7 563.2h0M218.6 595.3h0M196.7 578.9h0M206.4 600.5h0M190.0 582.5h0M193.6 597.6h0M217.0 598.0h0M217.4 563.1h0M203.9 579.4h0M180.8 573.0h0M187.2 585.7h0M196.1 576.8h0M203.9 590.1h0M208.2 596.9h0M200.0 602.2h0M208.2 579.1h0M188.2 552.1h0M210.8 591.3h0M211.7 581.7h0M181.9 585.9h0M195.7 568.8h0M191.8 585.2h0M215.3 597.8h0M191.9 593.9h0M185.4 566.8h0M215.2 553.6h0M189.1 569.2h0M215.9 577.9h0M193.2 592.7h0M189.4 590.2h0M188.7 596.8h0M213.2 596.1h0M209.6 586.4h0M221.9 559.4h0M193.8 580.3h0M222.1 481.4h0M212.1 508.9h0M216.6 531.9h0M198.5 514.5h0M207.7 489.7h0M223.6 515.0h0M198.1 493.3h0M227.4 492.7h0M197.6 526.1h0M227.9 506.2h0M193.5 525.2h0M202.6 518.8h0M226.6 503.2h0M220.1 534.5h0M225.8 491.0h0M198.8 492.2h0" stroke="#9b30c8" stroke-width="4.6" stroke-linecap="round" fill="none"/>
<path d="M316.9 388.8h0M361.2 377.1h0M230.4 342.2h0M204.6 413.2h0M202.9 350.3h0M223.1 392.7h0M323.5 422.0h0M236.7 421.3h0M268.3 318.8h0M339.5 333.9h0M319.5 401.8h0M372.5 336.8h0M263.8 414.0h0M259.8 410.9h0M363.0 328.3h0M330.6 312.4h0M285.7 285.9h0M344.4 352.2h0M375.1 370.8h0M272.9 412.3h0M340.0 298.7h0M270.9 445.9h0M302.7 448.4h0M275.4 313.3h0M302.5 384.3h0M340.9 400.8h0M350.7 313.0h0M244.1 352.4h0M220.8 320.1h0M281.1 377.6h0M199.9 361.1h0M312.3 311.8h0M292.8 286.1h0M242.9 454.4h0M312.5 469.1h0M220.0 315.9h0M267.9 325.1h0M319.3 415.4h0M306.6 349.4h0M351.1 243.7h0M300.2 234.2h0M270.5 280.7h0M348.4 252.3h0M338.1 255.2h0M275.1 248.3h0M348.2 297.8h0M255.3 271.4h0M324.6 236.7h0M296.4 290.3h0M290.7 228.6h0M298.4 236.5h0M344.7 296.7h0M410.3 388.1h0M423.1 354.6h0M393.6 353.8h0M247.5 494.2h0M223.9 464.7h0M249.7 521.2h0M544.4 384.6h0M514.9 305.7h0" stroke="#e6e036" stroke-width="4.6" stroke-linecap="round" fill="none"/>
<path d="M233.4 450.6h0M210.0 451.4h0M223.3 411.2h0M237.7 439.2h0M236.8 431.0h0M246.9 438.7h0M218.8 454.0h0M225.3 430.9h0M215.1 457.0h0M211.9 411.9h0M240.1 456.0h0M232.4 405.7h0M217.8 424.3h0M223.2 414.2h0M242.0 452.6h0M230.9 458.0h0M250.3 447.9h0M222.4 451.8h0M216.3 434.2h0M232.9 437.0h0M231.3 459.7h0M217.9 432.5h0M237.3 432.3h0M223.1 415.8h0M246.3 441.1h0M230.6 400.9h0M214.6 410.8h0M220.6 426.3h0M230.8 451.0h0M250.0 431.7h0M210.9 411.3h0M234.8 446.2h0M236.4 441.3h0M217.1 398.9h0M224.0 457.1h0M232.7 432.7h0M247.4 413.2h0M243.6 443.5h0M220.1 407.6h0M243.2 436.0h0M220.3 418.2h0M217.8 402.7h0M247.7 411.9h0M210.1 440.6h0M251.5 422.0h0M216.3 419.9h0M226.4 408.6h0M252.1 444.6h0M241.7 401.7h0M255.8 451.3h0M256.9 458.8h0M254.8 437.2h0M237.8 463.0h0M199.5 428.3h0M205.3 429.2h0M254.3 465.9h0M228.9 441.1h0M256.2 418.9h0M256.9 458.2h0M206.8 442.2h0M276.6 422.9h0M262.9 411.5h0M237.5 450.1h0M229.9 431.5h0M211.7 441.2h0" stroke="#d42f1e" stroke-width="4.6" stroke-linecap="round" fill="none"/>
<path d="M288.0 352.3h0M356.7 355.4h0M217.3 325.4h0M267.2 370.0h0M284.4 441.5h0M228.9 351.1h0M321.4 357.1h0M339.9 348.2h0M357.3 359.9h0M219.7 420.9h0M279.7 318.1h0M259.4 460.4h0M209.7 406.3h0M270.3 393.3h0M324.5 327.3h0M337.4 389.2h0M287.0 447.3h0M300.9 286.1h0M227.5 306.8h0M369.2 321.6h0M273.9 437.6h0M241.2 428.8h0M373.4 370.1h0M334.0 416.7h0M302.7 371.4h0M285.1 387.1h0M254.5 331.4h0M208.5 327.8h0M346.5 319.7h0M316.4 316.3h0M355.2 400.6h0M363.5 348.7h0M237.8 441.6h0M386.8 387.2h0M262.6 301.7h0M248.8 317.3h0M354.7 343.6h0M294.1 337.1h0M227.3 418.1h0M286.1 229.7h0M305.4 300.3h0M302.4 321.4h0M322.1 218.7h0M304.8 235.6h0M302.8 261.6h0M320.5 285.8h0M278.9 268.6h0M318.7 296.9h0M333.4 227.8h0M336.7 229.3h0M267.8 238.2h0M286.0 246.7h0M397.5 360.2h0M407.0 402.9h0M398.5 412.4h0M241.5 522.9h0M226.4 525.1h0M249.2 518.4h0M476.9 380.0h0M544.1 407.3h0" stroke="#e6e036" stroke-width="4.6" stroke-linecap="round" fill="none"/>
<path d="M548.6 345.8h0M469.7 431.3h0M584.7 419.9h0M468.5 379.2h0M567.9 302.0h0M564.5 312.5h0M579.5 337.7h0M462.2 426.3h0M501.3 452.0h0M559.1 433.4h0M565.1 393.5h0M583.8 435.4h0M544.8 374.8h0M551.0 443.3h0M494.3 423.3h0M483.0 326.5h0M519.0 383.1h0M546.8 321.5h0M522.8 406.6h0M506.5 471.9h0M495.8 427.4h0M545.5 410.8h0M581.2 366.0h0M536.4 475.9h0M496.7 427.7h0M523.8 288.0h0M493.7 351.5h0M545.4 342.0h0M563.9 361.1h0M512.3 365.4h0M573.3 429.9h0M533.9 449.1h0M497.2 397.6h0M542.0 289.0h0M464.5 339.8h0M547.1 421.3h0M582.6 352.9h0M522.5 319.2h0M529.8 486.3h0M575.7 418.6h0M498.3 428.4h0M520.2 488.5h0M526.1 304.4h0M583.1 448.4h0M513.0 290.6h0M559.3 464.7h0M535.0 474.9h0M498.8 405.6h0M510.0 417.7h0M592.2 391.0h0M536.4 451.4h0M489.5 309.8h0M576.0 412.9h0M522.0 345.4h0M565.1 460.2h0M560.5 387.5h0M537.5 320.9h0M516.3 385.5h0M522.6 463.6h0M556.4 421.7h0M443.3 383.3h0M455.2 386.9h0" stroke="#9aabdd" stroke-width="4.6" stroke-linecap="round" fill="none"/>
<path d="M319.7 305.7h0M257.1 449.6h0M224.1 377.8h0M381.6 350.2h0M265.6 449.1h0M237.5 425.2h0M286.2 290.7h0M313.3 424.5h0M339.7 409.9h0M241.0 319.5h0M226.6 317.6h0M198.5 377.7h0M337.0 443.4h0M281.2 460.4h0M262.6 325.3h0M334.7 300.5h0M322.9 359.7h0M212.1 349.5h0M253.7 392.1h0M293.3 394.9h0M258.4 430.1h0M333.1 382.4h0M209.2 408.8h0M332.8 448.6h0M265.3 400.3h0M220.6 390.0h0M365.4 344.6h0M343.7 353.1h0M324.8 289.6h0M278.0 401.3h0M337.8 371.9h0M219.2 427.7h0M239.2 337.0h0M285.1 357.3h0M358.0 393.7h0M338.9 302.6h0M211.6 388.9h0M216.1 434.7h0M278.1 389.8h0M256.0 280.7h0M325.3 256.6h0M340.8 281.9h0M321.7 253.8h0M276.2 302.7h0M319.3 267.4h0M337.2 319.6h0M316.5 320.1h0M311.6 319.9h0M351.4 244.8h0M295.8 281.2h0M322.2 298.7h0M350.7 292.3h0M396.1 399.8h0M441.9 358.9h0M405.2 349.5h0M205.2 502.8h0M223.9 522.8h0M230.0 553.6h0M507.7 425.0h0M554.4 398.9h0" stroke="#e6e036" stroke-width="4.6" stroke-linecap="round" fill="none"/>
<path d="M475.0 313.8h0M457.1 371.6h0M480.3 442.3h0M570.8 388.7h0M505.5 362.8h0M461.8 368.4h0M551.6 327.9h0M529.9 394.4h0M590.4 389.3h0M557.9 369.2h0M538.2 439.7h0M507.5 326.3h0M525.0 397.6h0M565.8 325.8h0M480.2 349.1h0M553.3 431.5h0M513.7 366.9h0M538.4 462.6h0M494.2 432.2h0M521.8 406.5h0M462.2 345.4h0M469.9 450.4h0M500.2 416.8h0M494.0 385.7h0M553.1 480.0h0M526.3 369.1h0M551.2 369.0h0M481.7 329.0h0M561.5 400.4h0M539.9 314.6h0M498.6 396.4h0M532.2 342.3h0M581.2 398.8h0M550.4 484.5h0M564.2 436.0h0M550.4 394.8h0M583.0 393.0h0M537.7 301.5h0M522.2 285.3h0M537.7 390.3h0M505.6 446.4h0M459.8 392.0h0M474.8 454.5h0M498.2 381.7h0M564.0 350.9h0M532.8 325.5h0M570.7 392.4h0M546.0 335.7h0M505.8 346.3h0M500.0 394.4h0M489.0 469.1h0M561.3 403.6h0M510.2 448.9h0M583.3 438.1h0M509.3 388.9h0M482.1 446.7h0M478.2 334.2h0M570.2 437.5h0M538.8 374.6h0M527.2 285.6h0M425.3 380.3h0M441.3 393.5h0" stroke="#9aabdd" stroke-width="4.6" stroke-linecap="round" fill="none"/>
<path d="M285.5 419.0h0M350.9 432.0h0M347.5 314.3h0M327.1 292.2h0M229.3 366.8h0M274.5 419.8h0M226.1 314.7h0M312.4 287.1h0M236.5 451.8h0M224.0 369.9h0M324.1 398.8h0M313.3 325.6h0M293.4 393.3h0M315.4 350.3h0M326.1 413.0h0M219.1 407.2h0M367.6 402.4h0M337.3 432.2h0M363.5 365.9h0M243.7 428.5h0M275.8 453.0h0M260.4 332.2h0M268.9 360.4h0M342.0 322.1h0M320.3 442.0h0M275.0 364.1h0M258.8 414.5h0M275.0 426.6h0M282.5 279.3h0M314.7 373.2h0M215.2 387.0h0M356.1 427.6h0M201.8 383.4h0M309.3 372.7h0M286.2 415.8h0M258.3 408.6h0M304.6 450.6h0M314.7 308.2h0M310.7 435.8h0M271.7 280.9h0M271.4 293.1h0M318.2 248.2h0M288.1 231.2h0M327.5 219.2h0M302.7 324.5h0M288.6 299.4h0M258.6 275.6h0M344.6 258.8h0M309.4 251.4h0M323.0 227.5h0M344.8 303.8h0M270.1 309.8h0M428.2 403.2h0M412.5 381.8h0M397.6 410.0h0M230.7 482.2h0M240.9 540.8h0M213.8 488.8h0M467.2 411.5h0M555.0 457.8h0" stroke="#e6e036" stroke-width="4.6" stroke-linecap="round" fill="none"/>
<path d="M483.5 373.5h0M553.9 403.1h0M482.9 354.2h0M516.9 450.7h0M540.5 396.1h0M499.7 380.5h0M570.8 368.8h0M520.6 347.9h0M495.8 441.3h0M565.3 351.9h0M578.9 317.8h0M521.9 420.8h0M546.0 411.4h0M509.5 308.1h0M474.9 398.4h0M558.2 443.5h0M556.9 409.8h0M548.9 360.2h0M551.1 432.1h0M574.3 324.8h0M492.8 387.8h0M486.6 426.7h0M532.7 486.7h0M494.3 411.0h0M541.8 487.7h0M545.4 327.4h0M574.8 346.0h0M491.5 479.3h0M466.5 450.5h0M544.5 421.0h0M573.6 308.1h0M532.7 418.9h0M537.0 359.5h0M518.3 296.1h0M534.2 435.6h0M498.3 401.4h0M490.0 338.0h0M548.6 374.0h0M480.8 364.9h0M490.0 363.5h0M533.8 397.6h0M494.0 376.3h0M495.9 344.2h0M559.0 435.9h0M516.2 397.5h0M537.4 301.6h0M464.2 441.4h0M472.1 401.7h0M586.2 345.3h0M544.6 468.2h0M580.5 401.3h0M488.3 310.8h0M526.7 357.3h0M573.8 378.6h0M523.2 489.9h0M592.7 425.5h0M564.1 311.9h0M536.1 426.3h0M555.4 293.6h0M523.5 446.1h0M470.2 382.4h0M452.4 401.2h0M452.8 341.7h0" stroke="#9aabdd" stroke-width="4.6" stroke-linecap="round" fill="none"/>
<path d="M245.9 188.4h0M280.0 194.5h0M267.5 220.2h0M277.7 182.4h0M266.4 211.1h0M243.6 203.4h0M247.0 200.5h0M279.1 220.6h0M268.7 169.1h0M268.0 198.4h0M274.3 189.5h0M272.3 223.2h0M287.7 197.4h0M267.8 200.0h0M274.6 172.0h0M282.1 193.6h0M253.6 209.3h0M270.3 201.4h0M247.7 172.5h0M252.6 170.5h0M262.8 213.5h0M284.2 185.6h0M274.9 198.9h0M268.3 175.3h0M272.7 194.5h0M253.2 167.8h0M257.3 165.9h0M263.1 212.2h0M245.0 183.2h0M258.3 240.7h0M273.4 240.6h0M290.2 231.9h0M257.6 228.2h0M258.9 230.0h0M269.6 239.9h0M292.9 248.1h0M262.3 246.3h0M249.6 226.8h0M255.6 238.1h0M271.4 247.4h0M285.3 239.4h0M297.0 231.6h0M293.5 230.6h0M259.2 240.3h0M296.7 237.8h0M291.9 248.6h0M272.8 249.4h0M281.5 250.3h0M271.1 247.9h0M277.2 229.5h0M237.9 320.6h0M245.4 320.3h0M249.9 304.5h0M235.6 277.5h0M256.7 282.4h0M262.4 283.9h0M252.6 305.9h0M261.1 310.3h0M231.4 286.8h0M258.4 293.7h0" stroke="#d4a660" stroke-width="4.6" stroke-linecap="round" fill="none"/>
<path d="M485.6 357.6h0M520.2 334.5h0M572.9 396.7h0M488.1 443.2h0M524.4 445.7h0M509.4 427.4h0M487.5 310.9h0M582.4 371.9h0M548.0 448.5h0M458.3 349.9h0M523.5 375.1h0M589.2 431.6h0M519.3 311.8h0M518.2 434.2h0M525.2 303.6h0M578.0 445.3h0M545.9 426.5h0M557.6 444.2h0M580.3 386.4h0M546.3 372.0h0M524.9 322.5h0M556.1 301.3h0M520.1 381.9h0M563.3 376.6h0M524.7 371.2h0M540.7 392.0h0M545.3 302.9h0M524.1 291.2h0M546.7 415.6h0M544.4 398.5h0M578.1 394.0h0M469.3 441.1h0M491.7 390.1h0M452.9 392.2h0M497.4 341.8h0M490.2 342.9h0M486.6 364.5h0M592.4 390.8h0M524.0 330.2h0M504.7 310.5h0M559.7 393.5h0M545.1 452.3h0M530.0 455.2h0M511.0 424.1h0M468.6 346.8h0M452.2 393.6h0M471.7 428.3h0M546.2 346.0h0M545.4 408.4h0M474.6 390.9h0M492.3 438.9h0M554.7 388.6h0M505.6 447.0h0M530.6 395.3h0M488.3 444.3h0M469.1 328.0h0M494.7 396.5h0M531.2 350.2h0M488.6 350.5h0M508.1 338.6h0M451.2 342.3h0M422.4 408.0h0" stroke="#9aabdd" stroke-width="4.6" stroke-linecap="round" fill="none"/>
<path d="M266.2 211.5h0M261.2 178.2h0M261.5 198.7h0M276.1 204.4h0M276.2 186.5h0M248.4 177.0h0M252.6 173.5h0M258.2 192.9h0M247.7 176.8h0M264.6 227.7h0M264.7 199.9h0M272.7 215.9h0M240.2 187.1h0M249.9 192.4h0M254.8 199.6h0M258.6 204.0h0M263.7 185.9h0M255.8 174.4h0M260.4 168.9h0M240.2 209.6h0M254.6 211.0h0M277.0 169.7h0M282.5 177.0h0M282.2 214.6h0M242.1 192.1h0M272.7 204.3h0M270.7 215.2h0M284.7 201.5h0M244.9 181.9h0M290.6 244.0h0M259.2 246.4h0M271.2 233.7h0M285.6 236.4h0M275.6 239.9h0M308.1 237.5h0M267.7 246.4h0M269.8 228.1h0M273.8 233.5h0M232.7 239.7h0M275.4 238.8h0M266.8 222.9h0M269.1 242.8h0M266.8 231.7h0M297.3 234.8h0M266.1 223.2h0M303.1 230.9h0M277.1 233.4h0M231.2 227.3h0M225.4 234.7h0M296.6 236.0h0M256.9 295.7h0M231.9 278.6h0M232.4 287.5h0M231.7 313.4h0M262.3 304.8h0M234.5 306.7h0M238.5 265.1h0M239.1 284.3h0M259.9 308.1h0M239.4 260.2h0" stroke="#d4a660" stroke-width="4.6" stroke-linecap="round" fill="none"/>
<path d="M312.7 322.3h0M222.3 369.0h0M335.7 434.2h0M229.7 403.4h0M255.8 367.0h0M271.3 470.1h0M296.3 370.3h0M340.7 300.3h0M221.4 403.4h0M264.2 451.3h0M316.0 419.3h0M206.9 383.5h0M305.0 338.2h0M331.2 456.1h0M263.8 344.8h0M357.4 431.1h0M367.2 360.1h0M330.8 409.7h0M264.3 334.8h0M224.2 377.4h0M239.8 352.6h0M231.5 410.8h0M362.1 428.4h0M284.5 279.9h0M271.5 406.8h0M199.7 399.6h0M233.9 355.4h0M239.4 442.5h0M331.1 354.0h0M220.5 356.9h0M253.5 360.8h0M299.8 423.5h0M318.8 343.3h0M255.5 459.0h0M223.6 355.2h0M254.1 463.5h0M223.1 364.3h0M267.3 321.3h0M313.3 321.0h0M300.5 278.5h0M298.7 298.1h0M297.4 317.6h0M269.5 295.2h0M301.5 254.9h0M290.6 304.5h0M324.4 258.8h0M323.0 261.7h0M282.1 320.3h0M331.8 249.8h0M350.5 273.1h0M277.7 296.4h0M262.8 265.6h0M437.3 363.9h0M426.1 387.7h0M223.7 534.5h0M199.2 509.4h0M212.6 465.9h0M244.6 516.3h0M544.8 469.6h0M561.6 462.5h0" stroke="#e6e036" stroke-width="4.6" stroke-linecap="round" fill="none"/>
<path d="M259.9 359.2h0M326.2 457.3h0M321.3 380.7h0M218.2 433.0h0M305.3 363.0h0M332.1 310.3h0M215.5 406.0h0M245.8 337.3h0M366.1 333.6h0M260.2 372.4h0M284.2 453.4h0M210.4 327.4h0M233.7 362.2h0M258.8 385.4h0M274.8 418.2h0M272.6 432.1h0M286.4 403.8h0M271.0 297.7h0M262.4 434.9h0M344.3 297.2h0M308.2 385.5h0M365.4 356.7h0M291.4 405.2h0M296.8 434.6h0M270.1 330.9h0M254.2 380.9h0M199.6 358.1h0M271.4 404.3h0M317.4 418.6h0M364.9 396.9h0M300.7 321.2h0M300.3 327.5h0M307.1 447.3h0M340.1 443.3h0M259.8 374.8h0M246.8 414.6h0M289.5 314.7h0M305.5 359.9h0M329.9 389.7h0M302.6 285.1h0M323.8 281.9h0M328.3 249.7h0M301.8 262.5h0M302.4 298.0h0M310.1 232.5h0M261.2 256.2h0M321.9 305.7h0M321.7 270.8h0M324.4 314.0h0M312.9 296.8h0M277.7 312.9h0M335.5 320.6h0M392.0 385.4h0M392.3 347.3h0M398.9 333.2h0M208.1 471.2h0M238.4 543.3h0M234.4 530.1h0M228.9 556.1h0M514.4 300.1h0" stroke="#e6e036" stroke-width="4.6" stroke-linecap="round" fill="none"/>
<path d="M514.8 366.9h0M509.6 380.2h0M506.3 312.7h0M553.8 299.1h0M570.8 436.5h0M596.2 401.8h0M521.5 472.6h0M466.5 446.2h0M572.7 460.1h0M466.1 352.9h0M511.4 356.6h0M587.5 409.5h0M491.8 379.0h0M488.2 466.3h0M568.6 387.4h0M518.3 293.8h0M522.1 337.9h0M502.6 393.8h0M488.5 403.5h0M474.5 460.2h0M543.3 483.0h0M520.5 435.4h0M587.7 409.6h0M465.4 387.9h0M551.8 437.0h0M483.8 460.9h0M588.4 389.1h0M577.2 403.0h0M489.8 360.2h0M533.6 446.4h0M496.5 437.7h0M549.5 290.0h0M525.6 369.6h0M512.7 366.9h0M454.3 385.6h0M484.2 456.7h0M498.8 363.7h0M578.2 392.9h0M516.5 337.8h0M467.8 420.8h0M549.2 414.4h0M490.1 458.1h0M503.9 300.0h0M533.0 310.1h0M549.3 414.4h0M562.5 424.6h0M549.6 322.4h0M546.1 310.9h0M502.1 336.4h0M540.9 294.4h0M487.4 324.9h0M452.1 382.8h0M501.0 327.8h0M465.2 331.6h0M456.0 411.8h0M490.6 365.2h0M492.3 364.5h0M470.3 398.5h0M585.4 357.1h0M527.2 404.3h0M439.3 351.2h0M451.3 348.5h0M442.8 373.6h0" stroke="#9aabdd" stroke-width="4.6" stroke-linecap="round" fill="none"/>
<path d="M465.7 430.2h0M541.7 304.1h0M480.6 303.5h0M530.2 457.1h0M559.1 422.8h0M522.0 447.3h0M535.2 428.4h0M583.3 376.7h0M516.8 385.3h0M454.1 401.0h0M549.6 443.2h0M470.0 350.0h0M496.4 387.0h0M524.0 425.7h0M533.9 390.4h0M500.2 308.7h0M465.5 398.2h0M490.9 402.9h0M580.0 348.1h0M519.7 319.7h0M514.2 410.5h0M563.9 344.6h0M538.1 402.8h0M512.5 347.7h0M517.0 282.8h0M533.6 377.8h0M498.8 419.1h0M513.1 321.7h0M459.5 401.9h0M512.3 349.6h0M466.1 430.4h0M571.9 341.3h0M472.5 424.5h0M571.0 305.1h0M495.2 297.7h0M474.3 343.9h0M569.6 320.6h0M511.1 437.4h0M530.4 379.8h0M580.7 449.6h0M541.7 404.2h0M530.6 283.6h0M534.7 435.5h0M540.0 418.2h0M560.2 448.9h0M492.8 297.0h0M515.6 404.1h0M488.0 397.7h0M520.1 379.3h0M527.5 422.3h0M534.2 377.2h0M584.9 408.9h0M553.6 304.4h0M585.0 389.6h0M501.7 468.9h0M493.8 354.4h0M544.4 472.3h0M532.9 402.3h0M460.8 352.7h0M480.6 304.0h0M465.7 398.5h0M435.2 352.8h0" stroke="#9aabdd" stroke-width="4.6" stroke-linecap="round" fill="none"/>
<path d="M299.3 399.0h0M230.8 432.6h0M285.8 408.6h0M292.3 438.7h0M345.8 426.8h0M348.9 379.3h0M296.0 307.6h0M336.6 433.7h0M233.6 417.8h0M234.2 452.9h0M301.9 379.2h0M294.7 436.1h0M333.6 403.0h0M233.7 427.6h0M225.5 416.5h0M287.5 394.8h0M293.5 354.6h0M330.1 444.9h0M283.6 372.6h0M222.5 343.3h0M248.1 298.0h0M264.2 315.9h0M214.9 349.1h0M246.4 446.9h0M341.9 324.3h0M248.5 412.7h0M264.1 455.7h0M356.5 339.4h0M272.8 405.4h0M312.2 405.8h0M293.2 345.6h0M359.0 402.1h0M212.7 331.0h0M245.8 373.6h0M232.0 414.9h0M309.9 363.1h0M226.4 365.7h0M270.2 313.2h0M237.6 396.0h0M272.2 286.5h0M288.9 306.8h0M273.7 264.6h0M332.9 259.4h0M317.1 312.8h0M263.6 240.0h0M283.9 316.8h0M327.0 295.7h0M300.2 252.4h0M335.7 228.4h0M279.5 230.1h0M343.7 263.1h0M256.7 290.9h0M405.6 347.4h0M421.0 398.2h0M415.8 358.9h0M212.1 468.5h0M204.8 482.6h0M231.5 554.3h0M493.2 418.7h0M482.5 464.8h0" stroke="#e6e036" stroke-width="4.6" stroke-linecap="round" fill="none"/>
<path d="M237.7 424.5h0M235.7 419.5h0M212.2 407.3h0M233.5 445.3h0M216.8 443.9h0M244.1 418.1h0M219.8 436.5h0M221.9 419.8h0M225.1 399.4h0M215.4 399.7h0M226.8 445.7h0M237.5 402.3h0M246.5 429.0h0M229.4 430.5h0M239.5 428.4h0M230.9 429.2h0M236.4 426.2h0M224.5 449.9h0M234.7 431.8h0M209.7 413.3h0M222.9 411.9h0M242.9 416.5h0M219.4 412.4h0M229.6 400.5h0M240.2 454.5h0M230.4 438.9h0M236.5 439.2h0M218.2 420.0h0M206.0 427.9h0M233.3 446.3h0M206.1 412.3h0M219.2 417.5h0M225.8 399.6h0M228.7 412.5h0M247.9 435.5h0M218.8 430.6h0M218.4 435.1h0M213.0 430.0h0M227.5 420.2h0M216.3 433.7h0M224.5 451.5h0M219.4 447.5h0M221.4 424.4h0M228.2 435.5h0M242.4 443.9h0M250.0 438.4h0M243.0 438.0h0M261.4 428.5h0M248.8 428.2h0M248.6 402.2h0M218.2 433.1h0M254.1 417.0h0M271.1 390.1h0M222.1 403.7h0M238.5 402.1h0M269.6 448.1h0M239.1 454.2h0M254.5 397.6h0M230.1 438.2h0M260.8 391.3h0M208.8 390.6h0M262.0 383.1h0M222.4 441.0h0M245.7 467.2h0M267.7 391.7h0" stroke="#d42f1e" stroke-width="4.6" stroke-linecap="round" fill="none"/>
<path d="M542.9 398.9h0M488.5 402.7h0M581.5 419.1h0M539.8 429.0h0M551.2 387.1h0M564.6 321.9h0M531.0 432.6h0M565.5 462.1h0M472.7 386.2h0M475.0 408.9h0M591.8 381.0h0M566.8 467.9h0M527.2 333.9h0M581.7 425.3h0M562.8 420.9h0M464.9 337.3h0M481.4 389.4h0M555.9 293.6h0M537.2 359.3h0M522.3 367.3h0M532.0 413.2h0M585.0 404.5h0M485.2 321.9h0M500.9 442.5h0M580.5 328.4h0M539.9 443.4h0M594.5 359.6h0M566.5 427.8h0M546.1 385.3h0M564.9 391.1h0M594.9 390.7h0M564.3 359.1h0M476.8 424.6h0M548.5 376.3h0M562.8 472.9h0M478.0 307.1h0M572.6 433.4h0M536.0 349.9h0M556.2 377.2h0M531.2 398.3h0M499.7 348.1h0M555.7 387.4h0M532.5 378.1h0M505.5 295.5h0M492.4 336.2h0M492.3 342.6h0M577.7 459.4h0M552.7 301.7h0M567.5 460.2h0M491.5 369.9h0M475.4 382.3h0M482.1 318.2h0M501.1 336.7h0M529.3 395.7h0M532.6 363.2h0M591.2 373.6h0M463.3 356.3h0M482.9 429.0h0M537.5 397.3h0M538.9 302.3h0M454.8 396.7h0M468.6 387.9h0" stroke="#9aabdd" stroke-width="4.6" stroke-linecap="round" fill="none"/>
<path d="M327.8 452.9h0M265.9 404.4h0M278.6 333.9h0M301.4 318.8h0M260.8 335.8h0M222.0 341.3h0M327.2 404.5h0M229.9 394.6h0M198.9 351.5h0M354.9 324.9h0M198.0 355.8h0M221.8 403.6h0M271.8 389.3h0M278.8 326.8h0M349.1 434.1h0M343.9 388.3h0M351.0 353.9h0M295.6 423.0h0M266.3 405.5h0M333.7 450.7h0M253.1 390.9h0M300.8 352.7h0M244.7 365.6h0M365.7 382.2h0M314.4 436.4h0M325.9 324.2h0M309.7 374.1h0M381.5 379.2h0M279.3 331.1h0M257.8 434.4h0M305.4 279.1h0M359.4 367.3h0M341.3 450.9h0M324.3 398.2h0M251.0 429.9h0M261.3 394.9h0M277.8 315.3h0M227.7 435.7h0M282.0 324.7h0M311.4 237.5h0M310.9 229.9h0M313.9 284.2h0M320.1 260.6h0M281.5 256.4h0M326.0 264.7h0M277.5 250.5h0M316.0 291.1h0M274.5 240.5h0M339.1 231.0h0M282.8 279.1h0M287.1 251.4h0M259.9 286.2h0M433.5 340.3h0M419.5 338.8h0M410.7 389.7h0M209.5 479.0h0M225.5 474.6h0M242.4 522.1h0M250.1 508.8h0M555.6 405.1h0" stroke="#e6e036" stroke-width="4.6" stroke-linecap="round" fill="none"/>
<path d="M280.1 375.5h0M336.5 365.6h0M334.7 290.7h0M375.1 358.7h0M275.4 435.2h0M305.5 396.3h0M197.8 376.3h0M210.0 416.7h0M206.8 358.3h0M332.2 312.2h0M242.7 346.4h0M265.9 407.9h0M224.8 442.0h0M347.8 421.5h0M283.9 292.7h0M291.9 346.2h0M345.5 396.4h0M339.3 394.2h0M375.2 389.9h0M268.3 361.5h0M262.9 434.5h0M322.7 402.4h0M361.8 356.7h0M267.9 356.2h0M297.6 357.5h0M268.1 330.0h0M249.6 462.3h0M352.9 403.2h0M255.7 324.8h0M247.6 341.4h0M315.9 408.3h0M297.1 418.9h0M287.6 389.6h0M333.3 423.3h0M349.2 316.0h0M333.5 319.3h0M332.8 453.5h0M253.5 416.5h0M332.6 260.8h0M316.1 223.2h0M272.5 269.5h0M256.2 287.2h0M301.1 251.7h0M361.3 246.1h0M332.3 316.8h0M339.3 297.8h0M267.6 244.1h0M269.4 277.0h0M328.6 265.6h0M324.3 238.5h0M335.2 270.2h0M272.4 313.8h0M394.9 406.8h0M429.1 363.6h0M225.5 468.8h0M207.6 531.5h0M222.7 497.2h0M208.7 479.0h0M468.2 354.8h0M580.3 338.2h0" stroke="#e6e036" stroke-width="4.6" stroke-linecap="round" fill="none"/>
<path d="M340.7 298.7h0M278.6 371.7h0M291.2 335.3h0M327.5 379.8h0M316.8 399.9h0M268.2 457.6h0M299.2 300.4h0M333.9 363.7h0M348.2 373.6h0M345.0 376.3h0M366.0 429.5h0M293.7 415.8h0M242.8 441.5h0M258.3 447.0h0M360.7 437.0h0M314.8 465.8h0M245.8 361.7h0M264.1 409.2h0M292.9 411.5h0M320.9 419.8h0M301.4 401.9h0M236.5 350.6h0M261.1 400.5h0M288.5 354.9h0M202.3 374.0h0M327.2 385.5h0M343.8 396.1h0M211.5 414.8h0M253.5 450.2h0M218.8 348.1h0M345.9 353.1h0M287.1 439.4h0M354.9 301.3h0M340.7 422.0h0M257.1 284.6h0M374.9 375.5h0M310.2 330.9h0M245.6 368.8h0M276.8 300.1h0M291.6 234.3h0M337.3 239.6h0M324.4 231.2h0M307.4 325.2h0M319.6 254.8h0M310.8 320.2h0M267.6 273.0h0M285.3 259.2h0M361.6 271.2h0M351.0 262.1h0M329.2 273.9h0M349.7 261.1h0M344.2 250.2h0M422.8 327.4h0M401.3 391.1h0M243.8 525.7h0M214.5 476.9h0M230.4 481.6h0M218.8 515.8h0M537.4 437.6h0M453.5 405.6h0" stroke="#e6e036" stroke-width="4.6" stroke-linecap="round" fill="none"/>
<path d="M548.1 419.3h0M527.0 464.4h0M541.2 339.7h0M494.9 360.3h0M592.9 402.6h0M557.0 466.0h0M475.3 317.3h0M493.6 447.9h0M497.9 402.2h0M503.4 294.3h0M484.4 381.3h0M538.0 398.6h0M520.3 396.5h0M583.0 435.3h0M513.9 431.4h0M526.4 402.5h0M531.0 306.9h0M542.9 485.6h0M555.5 356.2h0M526.0 304.5h0M527.4 436.8h0M524.5 386.5h0M470.7 375.1h0M543.3 301.9h0M561.5 363.3h0M469.1 436.8h0M479.6 417.3h0M529.5 451.6h0M563.0 302.8h0M513.3 427.4h0M467.6 441.5h0M537.2 352.8h0M480.6 408.9h0M517.6 293.8h0M556.7 467.2h0M524.1 390.0h0M496.0 416.2h0M591.2 416.5h0M522.8 434.4h0M510.8 416.7h0M526.4 343.1h0M575.0 388.9h0M566.2 345.2h0M525.6 443.7h0M473.2 437.2h0M548.9 462.9h0M518.2 449.7h0M502.5 377.0h0M596.8 394.4h0M509.5 388.0h0M513.6 307.5h0M564.9 337.5h0M492.5 368.0h0M577.4 458.3h0M559.3 470.5h0M462.5 429.7h0M555.3 367.4h0M568.1 385.9h0M455.6 413.4h0M549.0 399.5h0M455.0 340.2h0M426.1 375.6h0" stroke="#9aabdd" stroke-width="4.6" stroke-linecap="round" fill="none"/>
<path d="M281.8 332.8h0M240.9 429.7h0M365.9 383.4h0M295.4 431.6h0M270.2 328.8h0M316.4 453.7h0M371.8 353.7h0M283.2 322.7h0M223.4 367.3h0M333.0 286.9h0M237.1 346.7h0M292.1 395.6h0M354.3 437.3h0M351.4 330.7h0M279.7 436.0h0M265.7 343.3h0M364.3 340.4h0M228.3 368.7h0M301.0 379.4h0M332.0 301.1h0M291.1 369.9h0M258.6 306.5h0M220.7 379.9h0M304.1 427.2h0M330.5 311.5h0M344.4 320.2h0M213.8 343.0h0M230.7 394.0h0M257.3 400.9h0M252.2 346.3h0M243.5 390.0h0M255.1 331.6h0M325.8 337.9h0M280.2 348.1h0M341.5 346.7h0M299.0 374.9h0M217.9 362.4h0M305.9 343.7h0M270.8 418.1h0M269.7 265.6h0M355.0 287.7h0M275.5 264.1h0M289.8 258.5h0M288.9 263.8h0M256.3 277.0h0M350.6 280.4h0M313.4 324.2h0M323.4 241.9h0M351.1 298.0h0M254.8 274.5h0M335.7 287.3h0M309.8 305.2h0M415.0 359.7h0M427.8 400.4h0M415.9 332.3h0M227.7 479.0h0M246.3 481.7h0M201.3 494.8h0M565.7 372.6h0M592.6 394.9h0" stroke="#e6e036" stroke-width="4.6" stroke-linecap="round" fill="none"/>
<circle cx="625.7" cy="542.0" r="4.45" fill="#e6e036"/>
<text x="638.0" y="547.5" font-size="20.2" text-anchor="start" fill="#111">D0</text>
<circle cx="625.7" cy="558.9" r="4.45" fill="#9aabdd"/>
<text x="638.0" y="564.4" font-size="20.2" text-anchor="start" fill="#111">D1</text>
<circle cx="625.7" cy="575.7" r="4.45" fill="#d4a660"/>
<text x="638.0" y="581.2" font-size="20.2" text-anchor="start" fill="#111">D2</text>
<circle cx="625.7" cy="592.5" r="4.45" fill="#9b30c8"/>
<text x="638.0" y="598.0" font-size="20.2" text-anchor="start" fill="#111">D3</text>
<circle cx="625.7" cy="609.4" r="4.45" fill="#d42f1e"/>
<text x="638.0" y="614.9" font-size="20.2" text-anchor="start" fill="#111">D4</text>
<path d="M846 139V628.4H1307.7" fill="none" stroke="#111" stroke-width="1.9"/>
<path d="M842.7 255.2h3.3M842.7 389.7h3.3M842.7 524.4h3.3M926.7 628.4v3.3M1030.0 628.4v3.3M1134.2 628.4v3.3M1236.6 628.4v3.3" stroke="#111" stroke-width="1.3"/>
<text x="838.0" y="260.6" font-size="20" text-anchor="end" fill="#111">4</text>
<text x="838.0" y="395.1" font-size="20" text-anchor="end" fill="#111">0</text>
<text x="838.0" y="529.8" font-size="20" text-anchor="end" fill="#111">-4</text>
<text x="926.7" y="651.3" font-size="20" text-anchor="middle" fill="#111">-5.0</text>
<text x="1030.0" y="651.3" font-size="20" text-anchor="middle" fill="#111">-2.5</text>
<text x="1134.2" y="651.3" font-size="20" text-anchor="middle" fill="#111">0.0</text>
<text x="1236.6" y="651.3" font-size="20" text-anchor="middle" fill="#111">2.5</text>
<text x="1089" y="684" font-size="37.5" font-weight="bold" text-anchor="middle" fill="#111">UMAP 1</text>
<text x="0" y="0" font-size="37.5" font-weight="bold" text-anchor="middle" fill="#111" transform="translate(807.5 371) rotate(-90)">UMAP 2</text>
<path d="M1200.5 520.1h0M1136.6 495.0h0M1202.6 503.3h0M1142.8 473.9h0M1150.2 516.8h0M1132.2 510.5h0M1239.7 540.3h0M1261.4 491.1h0M1149.4 473.8h0M1166.9 456.9h0M1172.0 528.9h0M1196.0 596.6h0M1197.4 500.7h0M1226.9 500.9h0M1151.8 499.4h0M1240.8 591.6h0M1242.2 503.6h0M1214.2 509.8h0M1234.4 497.8h0M1212.2 566.1h0M1171.9 536.5h0M1249.1 513.7h0M1170.9 502.5h0M1240.5 568.8h0M1186.2 452.0h0M1200.4 538.1h0M1189.6 523.2h0M1205.4 476.1h0M1226.8 563.2h0M1255.6 457.4h0M1181.5 499.6h0M1224.2 447.9h0M1221.2 492.1h0M1217.0 510.6h0M1278.3 498.8h0M1273.7 499.6h0M1250.0 513.2h0M1206.1 579.6h0M1240.0 588.0h0M1165.0 488.7h0M1257.9 584.7h0M1151.4 570.7h0M1229.1 574.7h0M1251.9 584.9h0M1234.6 558.4h0M1236.1 516.8h0M1222.3 477.1h0M1217.6 516.0h0M1250.6 540.6h0M1277.2 517.2h0M1174.4 480.4h0M1192.7 604.3h0M1195.2 519.7h0M1149.9 574.7h0M1179.4 583.0h0M1207.7 491.6h0M1172.5 567.8h0M1228.1 569.3h0M1168.2 549.5h0M1160.6 400.1h0M1146.4 398.3h0M1185.1 426.2h0M1140.7 389.1h0" stroke="#9aabdd" stroke-width="4.6" stroke-linecap="round" fill="none"/>
<path d="M1143.3 296.5h0M1213.9 294.1h0M1144.8 312.2h0M1150.6 347.1h0M1173.7 324.2h0M1123.6 287.6h0M1112.0 288.6h0M1077.3 330.1h0M1201.2 303.3h0M1184.2 282.9h0M1194.0 357.5h0M1139.2 359.5h0M1105.9 328.2h0M1232.0 335.0h0M1141.1 343.3h0M1097.3 316.4h0M1080.9 291.0h0M1238.1 339.9h0M1144.6 327.7h0M1186.0 349.4h0M1158.2 361.9h0M1068.4 315.0h0M1119.2 308.5h0M1210.4 338.2h0M1177.3 355.9h0M1195.1 289.2h0M1207.5 302.1h0M1089.4 300.3h0M1165.0 302.2h0M1222.7 281.0h0M1189.5 317.8h0M1105.3 287.1h0M1162.3 312.9h0M1122.9 329.6h0M1097.7 342.2h0M1213.0 349.3h0M1225.8 328.9h0M1218.0 272.2h0M1161.1 312.7h0M1169.3 283.6h0M1192.6 288.7h0M1226.6 283.5h0M1167.4 295.3h0M1160.6 302.6h0M1203.4 291.4h0M1208.5 299.8h0M1227.9 321.1h0M1150.0 389.7h0M1133.3 377.7h0M1132.5 379.2h0M1149.7 401.5h0M1131.7 412.3h0M1044.3 303.6h0M1028.4 312.8h0M1078.6 317.0h0M1035.6 297.7h0M1055.3 310.1h0M1220.5 342.8h0M1228.8 361.2h0M1239.6 335.3h0" stroke="#e6e036" stroke-width="4.6" stroke-linecap="round" fill="none"/>
<path d="M1167.3 581.4h0M1284.8 540.0h0M1261.4 568.3h0M1263.5 522.4h0M1220.7 481.8h0M1167.7 489.9h0M1258.8 550.0h0M1251.0 476.8h0M1254.3 478.7h0M1204.8 556.9h0M1264.4 570.0h0M1243.3 524.9h0M1183.6 511.5h0M1226.7 593.7h0M1215.7 455.6h0M1230.7 529.8h0M1223.8 538.3h0M1139.0 562.0h0M1158.7 549.4h0M1175.7 522.3h0M1263.0 556.5h0M1225.4 503.3h0M1172.1 507.6h0M1243.0 506.2h0M1196.3 476.0h0M1233.0 552.8h0M1159.5 489.3h0M1178.1 500.4h0M1278.4 524.2h0M1196.1 528.7h0M1239.2 537.3h0M1205.1 535.9h0M1194.1 563.2h0M1227.9 442.1h0M1140.0 507.1h0M1228.6 509.5h0M1284.3 494.5h0M1193.6 592.2h0M1283.5 530.7h0M1257.7 457.5h0M1159.1 517.9h0M1163.6 553.4h0M1218.6 481.0h0M1205.5 566.6h0M1219.4 436.5h0M1177.8 476.1h0M1191.9 568.9h0M1195.4 525.4h0M1265.6 566.6h0M1187.1 537.4h0M1233.8 520.4h0M1223.9 533.6h0M1214.8 494.7h0M1163.9 590.0h0M1210.1 601.2h0M1187.4 570.6h0M1174.7 448.1h0M1172.5 524.4h0M1211.3 539.7h0M1094.4 379.1h0M1169.4 421.4h0M1121.4 395.1h0M1155.4 412.1h0" stroke="#9aabdd" stroke-width="4.6" stroke-linecap="round" fill="none"/>
<path d="M1061.9 285.3h0M1078.5 276.3h0M959.7 323.8h0M1008.3 290.7h0M1052.6 285.0h0M976.6 320.0h0M978.1 323.5h0M1080.1 271.7h0M987.9 313.7h0M994.2 299.3h0M1062.1 276.4h0M995.7 310.7h0M1025.2 293.2h0M1037.0 278.0h0M1011.7 296.4h0M1062.6 274.1h0M995.9 307.7h0M970.9 327.2h0M1025.6 282.8h0M972.7 330.4h0M1069.7 279.8h0M1065.0 285.5h0M1075.6 272.0h0M1058.8 286.5h0M990.6 315.8h0M1026.5 292.9h0M991.1 315.7h0M960.1 337.0h0M1067.6 276.9h0M972.9 326.4h0M957.8 327.0h0M1003.4 301.0h0M1006.2 297.7h0M1039.6 284.4h0M993.0 313.8h0M979.7 310.9h0M1072.4 284.3h0M1041.4 288.4h0M988.2 311.9h0M1060.1 284.7h0M1074.7 271.7h0M991.1 307.1h0M981.3 310.2h0M960.8 326.3h0M974.0 315.0h0M995.2 311.0h0M1031.5 287.6h0M971.2 322.8h0M973.2 329.1h0M1013.1 294.2h0M1024.0 292.7h0M992.7 316.0h0M1029.5 284.1h0M973.6 318.2h0M956.0 325.8h0M1056.3 286.0h0M971.8 328.0h0M1060.0 283.9h0M964.5 319.7h0M1059.0 280.4h0M1163.6 268.7h0M1161.2 268.4h0M1153.9 261.7h0M1177.0 265.5h0M1176.8 258.3h0M1165.7 262.6h0M1154.3 261.5h0M1157.6 262.6h0M1172.8 260.2h0M1179.0 260.8h0M1168.7 266.9h0M1178.0 258.8h0" stroke="#d4a660" stroke-width="4.6" stroke-linecap="round" fill="none"/>
<path d="M1244.3 514.9h0M1268.2 524.2h0M1142.0 491.8h0M1160.5 588.3h0M1185.3 439.5h0M1204.8 540.8h0M1246.3 449.9h0M1261.2 473.2h0M1135.1 520.1h0M1144.6 569.7h0M1174.0 543.1h0M1188.7 488.2h0M1228.9 518.8h0M1179.7 529.2h0M1237.9 591.5h0M1209.8 458.4h0M1255.2 528.6h0M1283.3 495.2h0M1270.7 478.0h0M1161.6 578.8h0M1170.0 571.2h0M1236.0 524.7h0M1209.3 538.3h0M1262.1 582.0h0M1236.5 548.2h0M1224.8 480.3h0M1188.1 558.2h0M1254.3 590.0h0M1257.4 585.4h0M1185.1 451.2h0M1156.4 470.7h0M1232.7 509.5h0M1186.3 551.2h0M1153.7 561.1h0M1237.7 472.0h0M1221.7 505.9h0M1157.3 569.6h0M1181.7 521.9h0M1136.0 546.2h0M1271.4 564.1h0M1163.9 576.4h0M1149.1 568.2h0M1209.7 454.5h0M1240.8 574.8h0M1216.8 458.6h0M1270.7 557.3h0M1232.5 592.1h0M1183.5 472.1h0M1225.3 534.0h0M1178.8 459.4h0M1194.1 567.4h0M1175.0 535.2h0M1218.3 509.7h0M1232.7 552.1h0M1257.7 494.4h0M1231.2 517.0h0M1169.2 477.1h0M1242.7 543.1h0M1192.4 468.5h0M1114.8 377.8h0M1185.5 419.1h0M1126.7 402.5h0M1128.7 387.2h0" stroke="#9aabdd" stroke-width="4.6" stroke-linecap="round" fill="none"/>
<path d="M1208.0 318.3h0M1186.4 319.1h0M1202.3 308.9h0M1175.2 328.2h0M1179.7 353.9h0M1246.0 323.4h0M1225.4 316.6h0M1192.6 305.6h0M1148.3 327.4h0M1131.7 287.2h0M1230.5 302.8h0M1117.0 289.4h0M1071.1 316.9h0M1214.4 314.3h0M1120.0 355.7h0M1088.1 316.2h0M1164.3 273.1h0M1154.0 293.6h0M1156.0 355.8h0M1217.8 331.8h0M1180.0 297.8h0M1103.1 318.4h0M1165.3 338.8h0M1207.1 323.3h0M1129.1 287.9h0M1106.3 299.4h0M1146.8 294.9h0M1166.1 291.5h0M1190.5 294.4h0M1144.3 313.3h0M1139.1 337.0h0M1086.1 326.4h0M1220.5 306.8h0M1131.0 292.6h0M1172.7 346.8h0M1239.5 323.0h0M1126.0 346.6h0M1163.5 336.2h0M1196.4 273.6h0M1207.6 328.5h0M1219.9 304.7h0M1251.5 304.8h0M1242.9 316.3h0M1213.3 316.8h0M1187.7 318.3h0M1215.9 290.8h0M1228.9 314.2h0M1109.3 368.2h0M1099.7 394.3h0M1117.2 397.5h0M1110.6 388.7h0M1104.6 403.3h0M1125.6 415.7h0M1044.2 288.2h0M1035.9 322.9h0M1064.7 331.6h0M1014.1 317.7h0M1040.2 311.6h0M1248.1 336.0h0M1227.3 343.8h0M1238.6 356.5h0" stroke="#e6e036" stroke-width="4.6" stroke-linecap="round" fill="none"/>
<path d="M1219.3 347.1h0M1122.9 346.5h0M1184.9 360.3h0M1105.7 322.5h0M1148.2 294.9h0M1176.8 362.9h0M1096.1 293.7h0M1164.5 292.4h0M1125.8 278.3h0M1131.7 327.4h0M1139.1 319.2h0M1169.1 355.9h0M1149.3 350.7h0M1112.7 291.6h0M1178.9 325.5h0M1121.0 294.4h0M1146.7 299.6h0M1109.0 276.3h0M1200.0 303.6h0M1112.3 302.2h0M1112.8 352.2h0M1137.5 293.8h0M1178.7 327.1h0M1206.8 347.9h0M1198.7 303.3h0M1141.1 269.0h0M1152.2 290.3h0M1101.8 278.5h0M1182.3 285.7h0M1080.5 294.8h0M1148.6 332.7h0M1107.0 278.4h0M1160.4 355.6h0M1210.6 343.0h0M1214.7 277.2h0M1115.7 290.2h0M1119.4 329.2h0M1196.8 289.8h0M1171.9 285.5h0M1192.0 300.3h0M1218.9 284.1h0M1192.6 269.9h0M1161.4 303.7h0M1161.4 299.9h0M1183.3 321.2h0M1220.7 275.6h0M1191.7 328.8h0M1119.2 376.2h0M1141.5 380.7h0M1118.8 384.6h0M1111.5 389.7h0M1124.8 392.0h0M1132.1 383.8h0M1020.3 311.0h0M1054.6 308.0h0M1041.5 310.6h0M1046.4 319.7h0M1066.5 316.3h0M1246.9 337.5h0M1251.2 358.5h0M1232.7 366.5h0" stroke="#e6e036" stroke-width="4.6" stroke-linecap="round" fill="none"/>
<path d="M970.8 171.2h0M997.8 174.1h0M996.2 165.5h0M984.0 194.1h0M975.5 168.5h0M997.1 174.5h0M981.7 195.1h0M993.8 189.6h0M980.0 171.2h0M1000.1 185.8h0M1007.3 175.2h0M986.1 183.7h0M987.1 188.5h0M965.5 184.0h0M984.2 169.9h0M994.7 185.7h0M976.2 174.9h0M990.2 172.7h0M971.8 173.8h0M1006.8 172.0h0M998.1 190.7h0M1004.0 188.2h0M993.6 179.9h0M1004.1 173.1h0M1005.3 183.4h0M1006.6 191.4h0M1007.6 189.0h0M973.0 180.2h0M991.4 179.6h0M976.2 174.7h0M1014.6 184.8h0M988.6 193.9h0M1010.2 186.3h0M996.9 178.1h0M1011.9 179.1h0M994.7 180.7h0M991.5 186.7h0M983.8 167.8h0M982.0 185.6h0M993.3 177.0h0M996.1 223.9h0M995.0 221.2h0M994.1 199.8h0M989.8 228.2h0M986.3 206.8h0M1000.1 232.3h0M998.1 215.3h0M1001.1 231.4h0M992.2 210.2h0M986.6 216.3h0M989.8 205.9h0M991.7 223.8h0M996.4 198.7h0M980.5 253.0h0M988.8 250.7h0M992.9 246.9h0M992.1 245.0h0M994.6 252.6h0M1062.6 236.1h0M1054.9 227.5h0M1022.5 194.5h0M1028.8 198.7h0M1057.3 219.4h0M1023.4 207.2h0M1066.9 242.0h0M1061.8 220.3h0M1028.2 206.3h0M1066.6 226.5h0" stroke="#9b30c8" stroke-width="4.6" stroke-linecap="round" fill="none"/>
<path d="M1116.6 288.8h0M1249.2 311.4h0M1092.1 335.0h0M1141.5 315.6h0M1247.6 324.7h0M1081.7 341.3h0M1087.8 342.7h0M1172.7 302.2h0M1224.9 347.1h0M1157.4 319.6h0M1216.1 328.7h0M1130.7 327.9h0M1144.2 336.1h0M1198.8 326.6h0M1162.0 298.4h0M1086.7 297.0h0M1196.0 305.3h0M1197.3 338.0h0M1232.4 329.9h0M1069.5 327.6h0M1192.5 320.6h0M1214.8 347.8h0M1135.9 302.5h0M1189.2 335.6h0M1192.8 279.3h0M1169.1 311.2h0M1192.3 340.0h0M1198.2 278.0h0M1096.8 291.1h0M1167.9 309.4h0M1208.2 289.3h0M1091.1 303.7h0M1211.9 351.7h0M1145.6 312.8h0M1118.6 330.9h0M1160.9 269.3h0M1162.6 287.8h0M1171.6 303.3h0M1190.3 288.2h0M1201.5 309.6h0M1220.8 295.8h0M1229.0 324.4h0M1191.9 278.7h0M1210.9 330.6h0M1167.6 286.3h0M1180.8 275.7h0M1204.4 320.5h0M1099.1 402.1h0M1122.9 384.9h0M1140.4 404.3h0M1124.7 396.9h0M1110.5 373.9h0M1127.9 372.1h0M1027.8 328.4h0M1043.8 298.1h0M1020.6 327.5h0M1041.2 315.7h0M1063.4 309.8h0M1236.7 327.8h0M1245.5 357.6h0M1233.4 331.2h0" stroke="#e6e036" stroke-width="4.6" stroke-linecap="round" fill="none"/>
<path d="M1203.1 342.6h0M1153.5 329.4h0M1087.8 343.0h0M1156.5 276.5h0M1174.7 285.4h0M1111.4 296.8h0M1140.1 277.1h0M1246.8 316.3h0M1191.6 353.0h0M1132.6 325.9h0M1100.3 317.0h0M1138.5 274.5h0M1128.7 298.6h0M1131.9 344.0h0M1137.3 286.7h0M1142.7 291.6h0M1208.9 302.5h0M1188.0 346.8h0M1122.8 334.6h0M1112.0 321.8h0M1234.6 322.7h0M1187.9 347.5h0M1227.8 303.4h0M1118.1 275.4h0M1103.3 334.4h0M1134.4 286.7h0M1131.2 305.8h0M1090.1 318.5h0M1108.6 313.4h0M1122.0 322.9h0M1199.6 336.0h0M1126.3 311.8h0M1212.6 343.0h0M1095.8 307.8h0M1211.0 307.1h0M1204.1 316.3h0M1155.8 273.6h0M1227.2 315.3h0M1234.5 313.7h0M1219.3 312.0h0M1202.2 296.8h0M1231.5 277.7h0M1182.8 321.5h0M1184.4 307.5h0M1219.1 279.8h0M1165.5 286.8h0M1109.1 401.3h0M1134.7 404.1h0M1110.1 378.0h0M1106.6 391.0h0M1113.6 382.6h0M1139.7 409.1h0M1050.4 303.7h0M1030.3 306.7h0M1076.2 319.7h0M1038.4 327.3h0M1067.7 324.2h0M1232.4 326.1h0M1233.2 332.8h0M1221.5 362.8h0" stroke="#e6e036" stroke-width="4.6" stroke-linecap="round" fill="none"/>
<path d="M1081.3 338.0h0M1188.3 348.5h0M1213.7 333.3h0M1157.8 357.4h0M1157.1 281.9h0M1091.0 316.1h0M1183.4 278.8h0M1077.0 332.8h0M1189.9 337.9h0M1123.8 353.0h0M1151.5 331.9h0M1131.3 325.2h0M1106.5 344.2h0M1108.1 316.3h0M1141.2 273.8h0M1093.0 294.8h0M1196.9 340.6h0M1124.0 294.6h0M1168.3 350.3h0M1173.4 357.4h0M1094.6 310.4h0M1198.1 353.7h0M1132.9 286.3h0M1138.2 351.8h0M1180.1 271.2h0M1159.8 362.4h0M1242.4 329.1h0M1125.0 280.1h0M1137.7 338.5h0M1197.8 323.6h0M1131.4 304.1h0M1126.5 321.6h0M1212.0 283.4h0M1069.2 317.9h0M1221.2 319.0h0M1200.7 297.6h0M1211.0 320.0h0M1240.1 297.0h0M1206.9 310.0h0M1168.2 282.2h0M1206.0 281.2h0M1197.7 278.7h0M1188.8 270.5h0M1194.1 306.4h0M1168.4 291.6h0M1187.4 301.2h0M1173.9 310.6h0M1107.0 405.8h0M1103.8 390.3h0M1106.3 380.6h0M1126.0 381.8h0M1150.2 377.0h0M1054.5 315.0h0M1055.6 289.7h0M1042.5 296.1h0M1046.3 326.9h0M1078.1 320.4h0M1245.7 346.0h0M1231.0 340.6h0M1225.8 338.4h0M1230.5 366.4h0" stroke="#e6e036" stroke-width="4.6" stroke-linecap="round" fill="none"/>
<path d="M1210.2 312.2h0M1124.4 313.2h0M1096.6 295.4h0M1090.0 323.4h0M1118.2 293.4h0M1240.3 322.4h0M1130.0 359.0h0M1112.5 341.3h0M1096.5 329.2h0M1127.1 327.8h0M1139.6 306.0h0M1102.9 291.5h0M1221.7 343.5h0M1191.1 326.3h0M1185.7 282.7h0M1183.8 362.0h0M1094.8 335.9h0M1074.4 311.3h0M1070.8 312.3h0M1187.0 323.3h0M1111.3 311.6h0M1228.5 346.6h0M1152.8 284.3h0M1229.5 324.3h0M1181.9 270.9h0M1205.6 289.5h0M1175.6 300.7h0M1079.2 297.9h0M1128.7 292.9h0M1219.6 291.7h0M1078.6 338.1h0M1248.6 327.6h0M1131.4 348.8h0M1094.4 328.0h0M1133.4 301.5h0M1201.1 290.8h0M1114.2 300.4h0M1219.9 285.7h0M1186.3 302.3h0M1223.3 273.0h0M1243.1 282.2h0M1246.9 303.2h0M1215.4 313.8h0M1214.0 301.2h0M1176.9 277.3h0M1218.8 323.1h0M1189.0 270.0h0M1147.6 377.5h0M1139.6 378.3h0M1143.7 410.3h0M1134.1 385.2h0M1131.2 387.5h0M1026.8 293.3h0M1066.0 329.0h0M1072.7 319.6h0M1040.8 309.1h0M1033.7 322.1h0M1243.0 331.9h0M1226.3 367.2h0M1221.9 332.9h0" stroke="#e6e036" stroke-width="4.6" stroke-linecap="round" fill="none"/>
<path d="M1143.6 288.4h0M1149.3 303.9h0M1098.3 322.7h0M1243.8 311.7h0M1180.8 341.6h0M1213.2 280.6h0M1205.0 298.9h0M1153.6 357.0h0M1093.3 347.8h0M1185.4 280.9h0M1204.5 336.2h0M1162.7 319.5h0M1203.6 293.7h0M1088.6 347.6h0M1093.6 339.4h0M1168.0 337.5h0M1097.9 284.9h0M1170.8 358.0h0M1164.3 339.8h0M1169.5 294.7h0M1178.9 335.5h0M1210.2 297.1h0M1198.7 322.0h0M1232.1 317.7h0M1200.6 276.1h0M1178.3 360.4h0M1103.4 292.9h0M1122.1 279.2h0M1243.1 313.7h0M1114.1 341.4h0M1102.3 347.1h0M1210.4 323.2h0M1098.1 285.4h0M1113.3 283.1h0M1102.0 333.7h0M1240.8 297.7h0M1221.8 331.9h0M1141.6 273.8h0M1212.9 299.5h0M1213.4 292.6h0M1218.8 319.7h0M1248.3 295.2h0M1201.5 319.8h0M1226.6 300.6h0M1237.1 299.8h0M1202.7 318.2h0M1231.9 316.0h0M1151.6 399.8h0M1148.9 400.1h0M1128.1 375.5h0M1112.4 391.1h0M1122.9 377.5h0M1130.8 413.7h0M1062.1 320.3h0M1077.5 309.2h0M1043.2 330.9h0M1064.2 324.5h0M1057.8 324.2h0M1233.8 359.2h0M1239.0 355.4h0M1249.7 348.0h0" stroke="#e6e036" stroke-width="4.6" stroke-linecap="round" fill="none"/>
<path d="M1003.6 303.7h0M982.4 312.8h0M972.0 319.7h0M1010.2 297.4h0M1013.3 292.8h0M1043.4 281.0h0M1073.6 283.2h0M1002.9 292.6h0M1077.9 278.4h0M1070.4 274.2h0M991.6 310.7h0M1058.7 285.0h0M974.3 322.3h0M1041.8 278.0h0M1080.7 274.8h0M1044.3 281.3h0M981.1 323.9h0M1004.7 292.6h0M1061.6 274.3h0M1035.0 284.3h0M1066.7 277.5h0M969.1 323.6h0M1033.3 286.4h0M993.8 299.4h0M975.0 317.9h0M1055.8 273.9h0M979.1 313.8h0M985.7 308.3h0M982.6 312.3h0M1051.1 286.2h0M1008.6 293.1h0M996.2 301.1h0M1018.4 285.4h0M1058.4 283.2h0M1020.2 292.7h0M1072.4 281.8h0M986.8 321.3h0M1014.6 285.0h0M1001.8 290.2h0M974.2 316.5h0M1008.1 296.3h0M997.8 293.8h0M1045.4 282.3h0M959.9 323.3h0M1056.5 282.7h0M1036.5 291.3h0M1073.7 279.9h0M1049.2 287.0h0M1012.9 290.3h0M998.3 297.1h0M1001.1 300.5h0M1027.4 289.0h0M975.1 319.2h0M1027.8 281.8h0M1061.1 273.9h0M1031.3 288.0h0M1009.9 297.1h0M1003.8 297.8h0M1002.2 304.8h0M1016.0 292.2h0M1164.2 262.0h0M1155.2 264.7h0M1151.6 260.7h0M1166.5 264.4h0M1160.5 261.8h0M1163.7 260.1h0M1158.1 263.9h0M1162.5 262.9h0M1161.1 265.5h0M1164.8 265.8h0M1156.5 260.4h0M1150.9 264.3h0M1176.8 266.3h0" stroke="#d4a660" stroke-width="4.6" stroke-linecap="round" fill="none"/>
<path d="M1217.4 308.2h0M1172.6 328.8h0M1165.3 327.3h0M1205.4 307.4h0M1199.2 327.9h0M1183.6 325.1h0M1079.1 335.1h0M1195.5 310.4h0M1178.1 309.6h0M1228.6 297.0h0M1101.6 328.4h0M1120.9 355.0h0M1134.9 286.2h0M1209.2 298.0h0M1161.9 303.8h0M1107.8 287.8h0M1147.2 344.6h0M1098.0 314.4h0M1140.0 317.5h0M1140.9 331.9h0M1232.0 301.9h0M1086.8 341.5h0M1140.8 317.8h0M1109.7 326.0h0M1220.7 309.8h0M1190.4 346.3h0M1135.5 300.1h0M1237.3 329.9h0M1124.6 301.2h0M1131.2 356.9h0M1118.3 355.3h0M1240.0 335.1h0M1077.0 294.2h0M1132.3 318.8h0M1233.8 295.4h0M1142.6 273.5h0M1181.0 317.1h0M1212.2 294.0h0M1191.1 294.5h0M1220.7 316.5h0M1195.0 313.0h0M1167.1 287.9h0M1187.2 294.6h0M1232.8 314.5h0M1201.4 276.6h0M1235.3 292.4h0M1228.2 325.4h0M1104.4 382.2h0M1118.1 381.4h0M1147.3 395.1h0M1110.8 390.6h0M1127.0 391.9h0M1059.4 311.7h0M1062.1 308.5h0M1025.0 322.6h0M1057.9 322.8h0M1029.0 321.2h0M1227.7 340.5h0M1221.2 346.8h0M1246.9 364.9h0M1217.3 348.9h0" stroke="#e6e036" stroke-width="4.6" stroke-linecap="round" fill="none"/>
<path d="M1160.6 584.8h0M1190.0 516.5h0M1214.1 588.5h0M1263.6 482.3h0M1279.8 492.3h0M1167.7 446.7h0M1170.3 580.7h0M1187.5 469.5h0M1245.2 553.2h0M1219.9 492.5h0M1163.4 576.4h0M1161.8 474.3h0M1229.4 453.0h0M1192.8 485.9h0M1248.1 510.2h0M1191.7 555.1h0M1224.7 521.3h0M1209.7 438.8h0M1216.9 473.9h0M1188.4 564.4h0M1209.6 596.1h0M1207.6 555.0h0M1155.4 568.3h0M1154.4 524.6h0M1177.6 481.4h0M1190.4 567.3h0M1180.8 523.0h0M1195.3 457.0h0M1182.2 451.8h0M1249.2 585.9h0M1135.0 547.2h0M1238.0 507.8h0M1245.8 540.8h0M1259.7 460.8h0M1176.0 481.2h0M1229.3 489.2h0M1153.1 462.5h0M1179.9 488.0h0M1283.4 544.1h0M1211.9 526.6h0M1153.5 501.2h0M1214.8 491.5h0M1167.8 567.4h0M1143.0 557.0h0M1212.9 524.3h0M1220.7 550.3h0M1139.1 542.4h0M1206.4 441.5h0M1201.6 533.3h0M1175.1 535.5h0M1267.9 488.6h0M1224.9 507.6h0M1201.0 483.2h0M1189.7 578.4h0M1164.1 587.5h0M1211.0 529.7h0M1197.5 579.6h0M1148.1 496.6h0M1190.3 425.5h0M1119.7 361.9h0M1138.0 389.5h0M1138.0 417.9h0M1123.2 403.5h0" stroke="#9aabdd" stroke-width="4.6" stroke-linecap="round" fill="none"/>
<path d="M1250.7 462.8h0M1266.5 557.3h0M1186.5 574.4h0M1250.3 582.0h0M1205.9 545.6h0M1196.5 574.4h0M1179.4 532.5h0M1200.9 471.8h0M1231.8 506.6h0M1223.8 582.4h0M1213.2 476.6h0M1208.0 572.3h0M1190.8 598.4h0M1286.3 516.0h0M1259.8 581.2h0M1158.3 569.2h0M1192.5 514.3h0M1215.0 520.5h0M1205.5 490.1h0M1210.4 473.1h0M1183.6 579.3h0M1281.3 545.8h0M1183.5 561.2h0M1270.5 564.4h0M1206.3 507.0h0M1258.1 581.9h0M1176.9 557.7h0M1202.3 542.6h0M1169.0 531.6h0M1271.0 486.0h0M1236.2 543.5h0M1164.2 449.3h0M1215.3 554.1h0M1130.9 517.4h0M1199.4 454.2h0M1228.2 596.1h0M1160.4 577.8h0M1210.6 541.9h0M1183.0 544.8h0M1242.7 496.3h0M1185.2 464.1h0M1263.7 491.9h0M1185.0 559.9h0M1265.9 557.5h0M1222.1 566.0h0M1178.2 526.7h0M1151.0 534.1h0M1149.9 518.0h0M1215.7 562.2h0M1269.1 560.5h0M1177.7 490.4h0M1257.5 538.7h0M1218.8 540.3h0M1210.9 446.6h0M1131.5 507.7h0M1204.2 456.6h0M1238.2 460.0h0M1265.6 525.3h0M1215.2 436.1h0M1148.1 378.3h0M1134.8 365.5h0M1150.0 406.9h0M1161.8 428.0h0" stroke="#9aabdd" stroke-width="4.6" stroke-linecap="round" fill="none"/>
<path d="M1129.6 294.7h0M1210.1 295.6h0M1121.8 329.5h0M1140.6 354.4h0M1168.9 305.4h0M1121.4 334.6h0M1209.8 324.6h0M1169.2 278.7h0M1080.3 326.5h0M1155.4 309.6h0M1105.2 324.3h0M1115.3 288.2h0M1148.1 302.7h0M1114.8 279.2h0M1204.8 351.3h0M1130.1 272.5h0M1219.8 313.7h0M1129.6 295.7h0M1131.8 285.4h0M1181.2 348.3h0M1231.6 331.3h0M1084.5 293.6h0M1191.0 300.5h0M1202.5 325.6h0M1190.0 276.1h0M1067.2 310.7h0M1181.9 291.9h0M1140.5 348.5h0M1139.2 275.9h0M1189.4 341.2h0M1228.2 339.3h0M1143.3 282.1h0M1162.3 269.8h0M1225.6 317.9h0M1171.9 338.7h0M1125.6 348.2h0M1145.4 287.3h0M1169.0 292.4h0M1205.8 310.4h0M1234.1 322.5h0M1174.6 288.9h0M1179.9 281.1h0M1187.1 309.2h0M1206.1 306.4h0M1208.7 317.4h0M1184.8 278.0h0M1214.9 319.3h0M1125.3 381.6h0M1101.2 398.6h0M1152.9 384.8h0M1144.9 370.7h0M1134.0 379.6h0M1129.9 399.2h0M1022.8 301.1h0M1056.1 313.9h0M1054.8 318.2h0M1015.0 314.1h0M1064.3 290.0h0M1218.0 369.1h0M1214.3 359.7h0M1232.4 352.6h0" stroke="#e6e036" stroke-width="4.6" stroke-linecap="round" fill="none"/>
<path d="M1231.2 535.9h0M1221.5 481.3h0M1227.0 551.0h0M1178.7 522.3h0M1249.8 509.0h0M1204.3 525.9h0M1249.8 461.8h0M1192.6 599.4h0M1183.4 524.8h0M1143.1 507.4h0M1167.0 546.3h0M1212.6 482.2h0M1227.3 538.1h0M1187.4 518.1h0M1281.5 548.7h0M1176.0 515.7h0M1203.5 480.7h0M1281.5 492.6h0M1209.4 467.1h0M1282.4 508.1h0M1211.4 466.7h0M1257.8 496.9h0M1191.8 488.9h0M1153.6 472.5h0M1216.8 447.1h0M1202.0 512.0h0M1214.1 575.9h0M1138.1 534.1h0M1234.6 565.4h0M1167.1 484.9h0M1210.3 596.4h0M1187.8 492.4h0M1221.1 460.7h0M1274.1 560.8h0M1262.1 512.0h0M1234.8 591.2h0M1234.0 511.7h0M1197.9 493.8h0M1203.9 533.7h0M1149.9 566.2h0M1201.2 532.5h0M1205.4 568.0h0M1263.3 576.8h0M1238.8 519.1h0M1179.8 461.5h0M1220.9 511.8h0M1203.0 463.1h0M1160.5 540.1h0M1171.7 577.5h0M1196.0 472.0h0M1139.9 529.4h0M1196.6 522.5h0M1201.3 594.8h0M1145.3 513.2h0M1260.7 517.8h0M1152.8 498.9h0M1208.4 509.3h0M1192.7 446.4h0M1123.6 376.2h0M1162.0 417.0h0M1161.3 407.3h0M1127.8 394.7h0M1146.7 396.1h0" stroke="#9aabdd" stroke-width="4.6" stroke-linecap="round" fill="none"/>
<path d="M1227.5 510.2h0M1215.6 513.8h0M1190.2 520.7h0M1236.7 519.0h0M1224.2 568.5h0M1156.2 544.1h0M1201.1 593.0h0M1256.4 576.3h0M1213.1 585.4h0M1158.4 563.3h0M1166.9 487.8h0M1162.8 466.0h0M1161.4 569.0h0M1218.2 484.7h0M1191.8 569.0h0M1266.9 516.7h0M1199.0 570.9h0M1225.0 563.3h0M1158.9 584.9h0M1222.9 554.8h0M1145.8 487.5h0M1224.9 522.8h0M1199.1 535.9h0M1260.0 508.8h0M1237.4 523.0h0M1192.8 461.1h0M1258.3 526.5h0M1216.4 485.8h0M1240.8 572.2h0M1227.5 577.9h0M1160.5 524.0h0M1144.3 469.0h0M1191.2 525.6h0M1183.3 559.1h0M1179.9 503.6h0M1268.8 542.2h0M1128.6 512.1h0M1147.8 518.6h0M1173.6 573.6h0M1254.0 588.6h0M1164.9 450.3h0M1173.7 547.7h0M1265.8 485.5h0M1229.3 544.8h0M1207.0 584.7h0M1202.6 590.9h0M1177.1 471.0h0M1250.4 481.1h0M1223.6 586.8h0M1199.2 507.5h0M1180.0 488.3h0M1216.7 455.9h0M1202.8 471.1h0M1274.1 510.5h0M1251.9 496.3h0M1131.9 539.0h0M1166.8 453.6h0M1266.9 568.4h0M1200.3 572.5h0M1174.4 425.7h0M1103.6 376.5h0M1182.2 431.4h0M1150.4 406.4h0" stroke="#9aabdd" stroke-width="4.6" stroke-linecap="round" fill="none"/>
<path d="M1127.3 290.5h0M1070.8 301.1h0M1083.6 292.6h0M1229.1 296.8h0M1243.5 331.9h0M1078.3 324.0h0M1209.1 323.2h0M1166.2 305.5h0M1193.0 271.5h0M1184.3 360.7h0M1177.5 324.2h0M1182.2 337.4h0M1165.8 269.7h0M1079.1 308.8h0M1104.3 341.2h0M1072.1 324.6h0M1073.8 328.6h0M1219.4 324.2h0M1232.3 305.1h0M1109.9 309.4h0M1118.0 321.3h0M1140.5 327.3h0M1220.8 343.9h0M1172.5 324.9h0M1163.2 298.7h0M1215.8 354.2h0M1241.3 291.2h0M1226.5 333.9h0M1151.0 353.7h0M1110.2 309.1h0M1158.6 327.3h0M1141.3 361.0h0M1179.1 270.9h0M1211.5 277.7h0M1075.7 328.6h0M1212.9 313.1h0M1113.0 311.1h0M1219.0 324.7h0M1181.5 314.6h0M1171.3 299.5h0M1244.8 292.4h0M1233.6 309.4h0M1227.0 328.4h0M1236.9 321.3h0M1215.2 310.9h0M1217.6 278.3h0M1158.2 301.3h0M1130.7 387.5h0M1145.4 386.7h0M1098.9 380.3h0M1137.1 371.0h0M1116.6 406.1h0M1070.4 307.9h0M1032.1 288.3h0M1023.4 315.6h0M1059.7 302.5h0M1057.0 325.7h0M1212.1 358.9h0M1238.4 361.5h0M1223.8 358.5h0" stroke="#e6e036" stroke-width="4.6" stroke-linecap="round" fill="none"/>
<path d="M987.9 164.6h0M973.4 179.6h0M994.2 191.8h0M970.3 170.1h0M989.4 185.9h0M989.7 183.4h0M1004.2 183.6h0M976.5 181.6h0M979.6 178.8h0M1009.0 170.2h0M1004.4 186.3h0M984.3 183.3h0M981.1 177.1h0M975.6 182.6h0M999.6 177.2h0M994.8 187.6h0M991.5 183.6h0M1000.1 185.1h0M987.3 195.7h0M975.5 179.1h0M1014.6 178.9h0M988.4 164.4h0M972.5 172.5h0M968.3 186.5h0M974.9 178.1h0M977.3 188.3h0M999.7 185.9h0M990.0 166.6h0M1001.7 174.4h0M985.5 180.4h0M990.3 182.6h0M990.4 171.2h0M970.0 184.3h0M965.1 178.7h0M988.9 165.7h0M968.0 178.2h0M989.1 190.3h0M1002.8 185.8h0M982.5 172.6h0M994.6 181.7h0M998.3 226.1h0M991.7 199.8h0M1001.9 225.0h0M1001.4 230.7h0M998.8 208.3h0M999.0 215.6h0M992.3 236.1h0M999.0 206.2h0M990.7 233.6h0M989.1 231.0h0M995.6 202.3h0M1000.9 202.2h0M991.2 202.2h0M992.6 247.7h0M987.8 256.5h0M985.5 252.7h0M981.0 254.8h0M984.9 256.3h0M1032.0 212.7h0M1031.0 199.0h0M1037.1 208.7h0M1051.0 223.9h0M1021.8 194.8h0M1049.9 210.9h0M1072.4 234.1h0M1038.5 204.1h0M1052.1 215.0h0" stroke="#9b30c8" stroke-width="4.6" stroke-linecap="round" fill="none"/>
<path d="M1240.4 564.8h0M1140.4 491.9h0M1199.3 448.7h0M1250.1 500.8h0M1209.6 435.4h0M1260.0 502.8h0M1163.7 461.5h0M1271.5 519.7h0M1241.4 470.7h0M1226.6 449.3h0M1222.2 520.8h0M1262.9 484.8h0M1202.4 483.8h0M1245.2 526.1h0M1186.4 520.3h0M1256.1 481.6h0M1192.2 507.2h0M1264.8 461.1h0M1156.9 502.3h0M1276.9 483.4h0M1207.4 457.7h0M1252.5 573.6h0M1203.6 502.2h0M1168.4 462.1h0M1251.6 579.2h0M1252.8 587.7h0M1231.8 518.8h0M1213.5 528.4h0M1231.9 478.2h0M1223.9 587.5h0M1193.9 441.9h0M1269.8 556.4h0M1158.1 547.9h0M1187.9 556.3h0M1163.0 472.9h0M1208.2 599.7h0M1191.8 508.6h0M1240.5 551.2h0M1269.4 572.0h0M1186.8 447.1h0M1144.8 490.7h0M1160.6 514.0h0M1152.4 482.1h0M1253.3 464.2h0M1178.2 447.2h0M1186.5 558.1h0M1204.5 558.5h0M1149.9 550.6h0M1275.9 521.8h0M1234.8 571.5h0M1256.5 525.1h0M1211.7 574.0h0M1182.7 533.1h0M1239.7 535.5h0M1220.9 571.5h0M1139.6 511.9h0M1158.5 549.0h0M1181.9 537.5h0M1229.6 569.7h0M1101.6 373.5h0M1137.1 367.3h0M1174.4 400.8h0M1149.9 412.1h0" stroke="#9aabdd" stroke-width="4.6" stroke-linecap="round" fill="none"/>
<path d="M1169.4 449.2h0M1266.9 552.4h0M1255.7 570.3h0M1147.9 533.9h0M1235.8 572.5h0M1265.2 557.6h0M1194.0 512.2h0M1170.7 473.7h0M1191.1 540.8h0M1203.6 502.1h0M1162.4 519.2h0M1226.3 437.0h0M1217.3 456.4h0M1212.7 543.5h0M1177.1 594.2h0M1212.8 533.9h0M1215.0 582.5h0M1182.3 492.9h0M1201.1 531.8h0M1145.4 557.8h0M1229.4 570.0h0M1284.5 519.3h0M1226.1 557.6h0M1161.2 556.5h0M1159.7 560.6h0M1146.9 523.6h0M1191.0 452.8h0M1250.5 583.3h0M1185.1 578.1h0M1277.3 508.1h0M1189.6 599.8h0M1191.3 509.3h0M1195.2 571.9h0M1198.2 453.0h0M1250.6 483.6h0M1229.5 534.7h0M1241.4 460.6h0M1251.3 536.4h0M1162.9 452.1h0M1256.6 547.6h0M1146.1 548.1h0M1264.1 519.9h0M1281.9 512.2h0M1278.7 526.4h0M1257.8 507.2h0M1238.8 473.9h0M1256.9 545.0h0M1241.1 455.1h0M1169.1 546.6h0M1132.1 517.6h0M1142.2 524.4h0M1230.0 567.2h0M1178.2 533.0h0M1240.5 587.3h0M1284.6 497.6h0M1142.2 504.3h0M1210.6 584.8h0M1197.7 542.6h0M1164.8 418.9h0M1134.7 402.3h0M1104.4 374.0h0M1148.5 406.1h0" stroke="#9aabdd" stroke-width="4.6" stroke-linecap="round" fill="none"/>
<path d="M1159.5 542.5h0M1159.7 510.6h0M1196.8 485.3h0M1236.8 448.9h0M1181.9 520.4h0M1197.9 535.0h0M1254.7 462.5h0M1197.0 568.3h0M1232.4 466.8h0M1150.5 462.0h0M1165.5 519.9h0M1210.1 438.9h0M1209.3 517.9h0M1205.8 464.1h0M1244.1 569.9h0M1239.0 515.3h0M1196.9 477.3h0M1188.1 560.6h0M1244.5 507.6h0M1215.2 496.3h0M1225.9 447.4h0M1227.5 491.6h0M1247.3 556.0h0M1137.0 490.6h0M1179.3 485.8h0M1229.2 550.6h0M1234.3 563.1h0M1250.0 513.0h0M1215.3 531.7h0M1196.2 578.5h0M1149.6 482.6h0M1140.6 519.7h0M1237.7 472.2h0M1167.4 533.2h0M1268.7 489.9h0M1256.9 559.1h0M1251.7 463.2h0M1224.0 586.1h0M1230.7 481.6h0M1243.2 477.0h0M1230.7 484.2h0M1273.0 470.7h0M1252.4 543.6h0M1174.2 449.8h0M1258.9 550.9h0M1264.1 476.0h0M1183.4 479.7h0M1282.0 519.3h0M1204.4 556.2h0M1184.2 544.8h0M1257.9 511.7h0M1210.3 451.2h0M1244.4 472.5h0M1160.5 497.9h0M1148.6 545.7h0M1199.3 470.3h0M1133.2 543.1h0M1212.4 481.1h0M1242.5 547.6h0M1095.1 380.5h0M1131.4 403.1h0M1148.0 378.0h0M1143.6 378.3h0" stroke="#9aabdd" stroke-width="4.6" stroke-linecap="round" fill="none"/>
<path d="M1212.6 483.5h0M1241.0 569.2h0M1243.1 560.1h0M1205.9 541.7h0M1200.3 526.1h0M1232.2 555.8h0M1271.8 564.8h0M1210.9 495.2h0M1184.6 444.3h0M1205.2 458.1h0M1235.4 467.5h0M1282.9 520.8h0M1207.9 505.8h0M1228.6 574.1h0M1201.3 594.5h0M1212.2 499.2h0M1151.4 567.9h0M1163.4 556.5h0M1247.1 476.5h0M1192.6 470.3h0M1170.3 595.0h0M1212.0 518.5h0M1176.1 454.8h0M1182.2 529.4h0M1245.6 471.3h0M1189.2 561.2h0M1135.3 518.5h0M1195.6 478.1h0M1188.9 447.2h0M1218.2 567.9h0M1204.4 529.6h0M1211.0 449.2h0M1263.2 567.1h0M1284.7 515.1h0M1138.3 524.7h0M1271.1 561.9h0M1281.0 522.3h0M1140.5 511.7h0M1218.5 441.5h0M1224.9 578.8h0M1151.5 550.6h0M1220.5 449.9h0M1271.4 565.7h0M1167.8 466.5h0M1161.3 524.0h0M1181.5 502.2h0M1202.8 481.3h0M1187.7 579.1h0M1209.3 447.6h0M1214.0 557.1h0M1185.8 473.5h0M1259.4 497.1h0M1217.7 596.7h0M1198.4 496.7h0M1228.6 463.7h0M1229.7 494.2h0M1141.6 509.7h0M1237.7 569.4h0M1164.6 542.8h0M1135.4 397.6h0M1148.1 389.8h0M1142.9 382.2h0M1125.0 397.9h0" stroke="#9aabdd" stroke-width="4.6" stroke-linecap="round" fill="none"/>
<path d="M1099.8 166.0h0M1131.0 172.6h0M1107.5 163.1h0M1129.6 170.4h0M1097.9 162.1h0M1097.8 168.4h0M1132.6 177.5h0M1082.8 171.3h0M1094.8 166.9h0M1095.1 163.6h0M1083.6 173.8h0M1103.2 163.4h0M1088.2 171.5h0M1118.9 164.9h0M1065.3 175.1h0M1098.7 164.9h0M1078.2 173.1h0M1100.0 167.5h0M1076.7 175.8h0M1126.1 182.0h0M1119.9 169.5h0M1129.6 173.3h0M1126.8 174.7h0M1070.1 176.2h0M1079.3 168.4h0M1094.3 165.2h0M1129.9 177.5h0M1093.3 169.1h0M1072.2 172.7h0M1073.0 170.7h0M1105.0 160.8h0M1095.2 168.7h0M1110.0 163.5h0M1086.3 175.0h0M1111.3 164.7h0M1127.5 171.2h0M1127.0 182.6h0M1075.1 173.4h0M1072.8 169.6h0M1066.4 176.8h0M1082.5 168.6h0M1130.4 184.1h0M1104.2 161.9h0M1085.4 170.2h0M1119.2 162.4h0M1126.3 176.9h0M1068.6 172.2h0M1130.0 173.9h0M1091.5 163.4h0M1105.3 165.4h0M1105.0 159.5h0M1078.4 169.8h0M1125.1 169.8h0M1117.0 166.7h0M1113.4 166.0h0M1087.8 172.6h0M1118.2 166.9h0M1072.7 170.6h0M1086.5 170.1h0M1126.0 181.6h0M1125.9 178.8h0M1114.8 165.5h0M1087.2 168.6h0M1127.2 172.5h0M1105.7 160.3h0M1069.5 176.5h0M1070.8 173.8h0M1109.2 164.5h0M1101.9 160.4h0M1127.6 167.4h0M1125.3 175.9h0M1066.1 174.6h0M1083.1 169.4h0M1126.1 170.5h0M1083.7 170.2h0M1114.3 179.3h0M1114.5 169.8h0M1110.0 178.8h0M1128.1 173.2h0M1127.5 174.6h0M1114.9 167.2h0M1117.7 169.1h0M1121.3 181.4h0M1108.6 166.1h0M1117.2 171.8h0M1124.0 173.9h0M1113.8 181.1h0M1113.6 166.1h0M1108.9 166.4h0M1111.5 177.0h0" stroke="#3a9a3a" stroke-width="4.6" stroke-linecap="round" fill="none"/>
<path d="M1112.9 334.3h0M1195.7 272.3h0M1123.8 317.7h0M1174.5 330.4h0M1178.3 316.5h0M1190.1 294.3h0M1141.7 300.0h0M1222.6 346.5h0M1193.8 313.6h0M1250.5 317.9h0M1101.7 326.8h0M1148.0 316.0h0M1122.0 285.3h0M1137.0 329.8h0M1156.1 320.2h0M1121.4 353.6h0M1167.3 276.6h0M1125.2 298.8h0M1123.6 314.0h0M1099.8 285.5h0M1190.4 298.0h0M1201.2 287.7h0M1125.4 345.9h0M1137.8 272.6h0M1157.2 312.0h0M1150.1 361.6h0M1188.5 284.8h0M1187.7 300.2h0M1221.8 280.8h0M1188.7 344.7h0M1159.5 290.9h0M1198.4 357.6h0M1221.2 322.9h0M1099.4 299.2h0M1135.9 324.7h0M1172.7 349.4h0M1235.9 343.2h0M1220.9 278.9h0M1166.4 294.2h0M1163.7 293.1h0M1211.5 293.6h0M1212.7 277.4h0M1170.4 318.7h0M1167.8 295.4h0M1177.0 294.9h0M1193.4 288.1h0M1128.5 400.8h0M1120.9 401.2h0M1122.0 404.9h0M1118.1 405.7h0M1131.4 407.5h0M1126.9 403.0h0M1069.6 324.5h0M1058.3 317.1h0M1026.3 301.8h0M1031.3 303.1h0M1029.4 323.5h0M1222.2 341.0h0M1223.1 361.6h0M1226.1 349.6h0" stroke="#e6e036" stroke-width="4.6" stroke-linecap="round" fill="none"/>
<path d="M880.1 424.0h0M950.1 390.2h0M940.1 398.2h0M875.9 428.4h0M914.8 409.7h0M959.7 392.9h0M939.9 402.2h0M899.1 419.0h0M923.3 405.1h0M944.4 398.8h0M943.1 398.5h0M926.6 403.4h0M920.1 405.8h0M963.7 384.5h0M917.9 415.2h0M927.5 410.3h0M944.3 394.6h0M871.6 432.1h0M887.0 431.1h0M890.4 428.5h0M926.1 408.7h0M888.4 425.4h0M870.3 432.1h0M943.6 403.6h0M918.3 406.5h0M873.4 429.4h0M866.6 410.4h0M883.3 424.2h0M886.5 431.4h0M874.6 410.3h0M873.9 402.5h0M872.4 425.7h0M876.8 426.6h0M890.5 399.5h0M884.5 392.9h0M879.7 392.9h0M865.1 412.9h0M879.1 391.8h0M883.2 416.0h0M887.4 405.1h0M894.7 414.7h0M880.8 425.4h0M885.3 424.5h0M874.0 420.3h0M887.9 424.8h0M882.5 423.1h0M881.6 392.1h0M1032.9 372.9h0M1023.1 369.7h0M1007.2 362.0h0M1024.8 369.7h0M1031.1 366.9h0M1005.7 378.8h0M1009.2 359.7h0M1018.3 366.2h0M1004.5 359.2h0M1007.0 360.3h0M1030.6 367.4h0M1018.7 379.6h0M1006.5 370.0h0M1029.9 359.3h0M1021.7 370.1h0M1010.6 368.6h0M1008.7 368.4h0M1010.5 368.5h0M1001.0 363.4h0M1022.0 369.6h0M1030.3 368.8h0M1025.8 365.3h0M1007.6 364.1h0M1002.4 362.6h0M1009.4 366.0h0M1032.5 363.2h0M1014.3 364.0h0M1022.5 377.3h0M1010.3 365.4h0M1002.7 362.4h0" stroke="#d42f1e" stroke-width="4.6" stroke-linecap="round" fill="none"/>
<path d="M870.0 428.6h0M939.4 404.1h0M869.0 435.1h0M929.5 401.9h0M922.4 404.6h0M969.7 389.6h0M929.4 402.5h0M891.1 429.2h0M949.7 393.8h0M950.5 395.5h0M917.6 407.7h0M970.6 379.8h0M900.6 419.9h0M958.1 389.8h0M902.9 415.1h0M970.9 388.2h0M873.4 431.5h0M918.0 411.4h0M944.4 398.7h0M903.6 413.4h0M926.2 410.5h0M942.2 404.5h0M874.9 430.1h0M964.5 392.1h0M926.7 410.6h0M866.9 416.3h0M882.4 407.7h0M883.0 391.3h0M871.7 428.4h0M886.5 407.0h0M888.9 402.6h0M882.0 428.6h0M890.3 409.7h0M872.7 426.0h0M881.5 432.1h0M867.0 416.2h0M883.7 415.0h0M881.1 395.9h0M864.7 415.2h0M876.8 415.2h0M895.9 411.0h0M893.8 420.2h0M890.6 409.0h0M884.3 404.4h0M878.9 424.2h0M874.4 398.6h0M869.0 419.3h0M878.1 408.3h0M1025.8 376.7h0M1032.5 363.8h0M1005.3 367.6h0M1025.2 374.6h0M1005.1 374.7h0M1013.8 365.8h0M1001.0 374.6h0M1033.0 364.1h0M1019.6 366.8h0M1028.5 376.3h0M999.6 375.0h0M1027.5 373.8h0M998.5 373.7h0M1019.8 379.4h0M1019.5 359.1h0M1001.8 370.1h0M1000.1 372.0h0M1004.4 374.2h0M1016.1 376.4h0M1024.7 375.0h0M1002.9 361.6h0M996.7 372.5h0M1025.7 367.2h0M1017.9 369.7h0M1001.5 375.4h0M1028.0 369.2h0M1006.8 370.6h0M1017.7 360.2h0M1001.6 368.7h0M1015.5 358.0h0" stroke="#d42f1e" stroke-width="4.6" stroke-linecap="round" fill="none"/>
<path d="M1126.2 273.0h0M1123.2 308.8h0M1102.8 284.7h0M1131.6 292.2h0M1150.8 283.0h0M1093.4 318.1h0M1130.0 319.0h0M1202.8 280.6h0M1141.6 313.5h0M1190.2 350.4h0M1182.0 351.1h0M1223.4 286.0h0M1254.0 322.1h0M1157.9 306.8h0M1094.9 350.4h0M1112.5 289.2h0M1145.4 348.8h0M1174.3 292.5h0M1160.8 337.3h0M1162.0 309.3h0M1119.6 346.4h0M1138.1 283.7h0M1214.9 334.2h0M1140.7 321.3h0M1212.0 297.7h0M1222.7 336.2h0M1076.5 331.5h0M1196.2 359.4h0M1092.9 341.4h0M1220.9 351.3h0M1087.3 309.2h0M1152.3 301.2h0M1206.4 316.2h0M1238.4 308.5h0M1143.6 281.6h0M1166.9 345.0h0M1134.8 279.7h0M1210.9 305.0h0M1220.4 285.1h0M1191.2 281.6h0M1249.1 293.9h0M1204.3 280.9h0M1230.1 283.8h0M1226.6 298.3h0M1236.9 294.9h0M1225.6 318.1h0M1250.5 294.1h0M1149.5 392.4h0M1111.7 397.0h0M1105.1 400.6h0M1124.0 370.8h0M1134.3 378.7h0M1133.4 402.6h0M1064.5 320.5h0M1051.7 322.4h0M1011.5 312.2h0M1057.5 300.9h0M1040.3 305.0h0M1247.4 363.6h0M1244.5 349.8h0M1226.5 371.6h0" stroke="#e6e036" stroke-width="4.6" stroke-linecap="round" fill="none"/>
<path d="M1224.3 583.2h0M1256.9 563.8h0M1157.5 458.9h0M1182.4 553.3h0M1199.0 442.6h0M1232.1 559.8h0M1209.5 448.7h0M1255.6 452.5h0M1190.8 559.2h0M1192.8 575.4h0M1146.7 551.7h0M1141.6 523.1h0M1215.9 508.6h0M1162.9 527.9h0M1214.5 509.5h0M1260.1 483.1h0M1159.2 487.0h0M1244.4 548.3h0M1189.9 444.9h0M1191.8 443.1h0M1267.0 550.8h0M1276.3 498.4h0M1193.6 462.5h0M1259.9 503.7h0M1181.9 532.6h0M1201.3 586.7h0M1174.7 528.6h0M1193.1 600.4h0M1157.3 575.3h0M1210.1 515.5h0M1209.0 534.9h0M1150.2 516.8h0M1156.4 550.7h0M1220.5 539.9h0M1212.1 586.8h0M1274.9 477.5h0M1264.9 486.0h0M1215.5 509.6h0M1184.9 511.0h0M1178.9 592.8h0M1201.5 448.7h0M1212.1 454.0h0M1160.4 523.9h0M1262.6 482.6h0M1131.7 533.8h0M1218.9 534.9h0M1235.4 441.5h0M1191.0 547.6h0M1244.1 492.0h0M1141.4 509.7h0M1181.4 461.8h0M1276.0 518.7h0M1226.3 492.8h0M1252.7 566.4h0M1178.6 487.9h0M1261.3 581.8h0M1185.3 547.9h0M1232.0 479.3h0M1205.4 531.8h0M1111.9 381.8h0M1151.7 413.8h0M1147.6 429.7h0M1121.5 370.8h0" stroke="#9aabdd" stroke-width="4.6" stroke-linecap="round" fill="none"/>
<path d="M1128.1 327.8h0M1106.7 348.8h0M1236.7 342.0h0M1121.8 324.5h0M1243.3 328.7h0M1139.1 326.8h0M1109.0 289.0h0M1141.2 269.5h0M1223.3 285.3h0M1134.3 329.5h0M1108.6 327.1h0M1214.2 309.7h0M1149.3 276.3h0M1092.1 316.1h0M1153.1 348.6h0M1103.9 320.0h0M1196.6 357.8h0M1115.6 350.3h0M1126.0 313.5h0M1093.7 317.8h0M1190.7 353.9h0M1226.8 313.1h0M1212.5 287.6h0M1123.9 349.4h0M1190.5 329.9h0M1205.6 282.1h0M1153.9 296.3h0M1186.3 324.6h0M1174.3 281.0h0M1096.7 333.7h0M1080.9 327.1h0M1151.2 326.4h0M1172.4 356.3h0M1093.2 304.6h0M1227.8 297.0h0M1103.5 292.0h0M1223.5 331.8h0M1187.7 286.1h0M1227.9 306.1h0M1234.2 297.1h0M1175.1 304.0h0M1208.3 296.5h0M1172.6 277.3h0M1160.8 309.5h0M1218.9 288.3h0M1191.7 323.0h0M1230.1 297.7h0M1098.8 378.5h0M1115.6 414.3h0M1130.0 380.9h0M1144.4 384.2h0M1137.7 398.7h0M1116.7 404.3h0M1035.9 322.8h0M1022.4 320.8h0M1054.3 307.8h0M1029.8 297.5h0M1047.5 300.7h0M1220.2 342.4h0M1253.4 349.9h0M1242.2 330.1h0" stroke="#e6e036" stroke-width="4.6" stroke-linecap="round" fill="none"/>
<path d="M995.0 172.4h0M975.8 191.8h0M996.5 180.6h0M994.6 177.2h0M976.3 169.1h0M999.5 176.1h0M1003.8 193.5h0M971.9 168.9h0M1004.3 183.5h0M989.0 191.2h0M1003.8 173.7h0M1003.9 178.6h0M1007.4 177.9h0M991.8 171.6h0M994.4 164.8h0M1010.1 176.7h0M984.6 167.2h0M969.4 178.8h0M998.5 183.8h0M1001.0 184.2h0M985.4 169.0h0M991.8 186.7h0M983.0 171.6h0M969.1 186.6h0M993.6 180.3h0M979.6 186.6h0M994.8 184.8h0M983.5 178.2h0M990.8 185.4h0M993.5 165.7h0M1015.6 177.6h0M999.5 177.0h0M1009.6 186.5h0M997.7 188.9h0M974.9 174.3h0M993.3 172.2h0M995.7 189.1h0M991.1 190.5h0M977.2 178.2h0M1005.6 182.3h0M997.2 205.1h0M986.4 201.6h0M1000.7 235.1h0M985.6 205.3h0M998.8 231.3h0M996.2 232.6h0M992.6 202.7h0M999.6 207.9h0M1001.4 234.3h0M987.2 221.4h0M997.1 219.8h0M986.3 221.4h0M992.3 215.6h0M995.9 216.1h0M983.3 250.8h0M984.8 245.8h0M983.3 257.0h0M987.8 256.8h0M981.5 254.4h0M1036.7 209.4h0M1025.0 210.3h0M1071.8 231.6h0M1040.8 204.2h0M1020.7 198.8h0M1032.5 207.6h0M1025.3 208.3h0M1017.2 202.2h0M1020.9 204.3h0" stroke="#9b30c8" stroke-width="4.6" stroke-linecap="round" fill="none"/>
<path d="M1145.9 559.5h0M1225.1 468.1h0M1221.1 534.8h0M1276.7 481.7h0M1140.3 533.8h0M1187.8 494.4h0M1205.9 505.2h0M1255.4 567.9h0M1224.4 603.6h0M1147.8 576.0h0M1225.0 602.1h0M1205.8 525.2h0M1218.4 535.9h0M1225.5 460.1h0M1198.7 548.1h0M1138.0 507.2h0M1211.3 579.6h0M1263.3 546.8h0M1203.7 520.2h0M1205.2 584.3h0M1150.2 465.2h0M1145.9 542.5h0M1190.3 543.8h0M1171.0 464.5h0M1139.6 563.2h0M1228.6 597.0h0M1160.4 561.9h0M1279.3 540.5h0M1197.6 436.7h0M1268.8 572.2h0M1182.6 482.4h0M1235.4 444.2h0M1182.2 538.0h0M1275.5 487.1h0M1136.6 489.5h0M1143.5 472.2h0M1267.4 566.5h0M1229.4 527.5h0M1235.3 477.4h0M1172.4 484.1h0M1184.9 526.9h0M1177.6 450.7h0M1210.2 477.7h0M1272.1 542.7h0M1193.2 539.6h0M1212.7 556.7h0M1228.3 589.9h0M1139.1 547.6h0M1231.3 464.0h0M1161.7 543.7h0M1220.1 566.2h0M1239.9 459.8h0M1192.7 584.7h0M1192.7 527.9h0M1158.5 585.8h0M1195.6 518.1h0M1253.3 527.3h0M1208.7 450.0h0M1226.3 603.1h0M1193.8 420.5h0M1174.5 412.5h0M1163.9 415.6h0M1172.1 450.8h0" stroke="#9aabdd" stroke-width="4.6" stroke-linecap="round" fill="none"/>
<path d="M1148.0 567.4h0M1237.2 588.0h0M1221.3 558.8h0M1205.4 557.7h0M1179.5 530.8h0M1193.5 572.3h0M1229.9 490.0h0M1279.2 501.0h0M1144.6 490.9h0M1228.6 561.7h0M1186.8 576.6h0M1224.8 589.3h0M1178.1 489.2h0M1139.3 562.3h0M1149.5 476.2h0M1236.0 557.8h0M1260.1 528.7h0M1231.7 582.9h0M1238.0 479.1h0M1223.6 460.7h0M1187.3 544.6h0M1132.2 537.5h0M1202.0 521.3h0M1263.2 564.1h0M1240.9 532.7h0M1178.6 443.0h0M1265.4 538.1h0M1240.2 547.8h0M1182.3 589.6h0M1146.1 488.4h0M1246.0 453.0h0M1248.1 562.7h0M1278.2 517.7h0M1280.5 486.9h0M1245.2 505.3h0M1131.7 543.2h0M1178.4 569.9h0M1235.9 507.8h0M1174.5 546.7h0M1274.6 545.4h0M1174.5 457.9h0M1160.5 487.9h0M1205.5 527.6h0M1201.7 445.9h0M1133.2 527.9h0M1177.4 503.3h0M1279.3 558.5h0M1173.3 545.4h0M1205.8 496.0h0M1178.3 518.2h0M1243.5 562.4h0M1178.6 526.1h0M1169.2 593.7h0M1240.9 502.4h0M1179.8 551.6h0M1180.6 556.7h0M1241.8 507.5h0M1213.1 564.1h0M1180.8 523.2h0M1154.6 378.0h0M1177.7 405.2h0M1122.7 396.8h0M1116.7 390.3h0" stroke="#9aabdd" stroke-width="4.6" stroke-linecap="round" fill="none"/>
<path d="M1172.9 296.4h0M1123.5 348.3h0M1106.3 297.9h0M1224.3 326.0h0M1136.8 320.1h0M1232.8 306.2h0M1168.2 359.4h0M1213.6 349.5h0M1073.4 319.5h0M1189.8 300.6h0M1212.6 279.7h0M1155.4 302.3h0M1098.3 279.8h0M1208.7 325.1h0M1245.0 300.8h0M1236.6 338.2h0M1211.2 319.7h0M1067.5 312.2h0M1197.3 293.5h0M1237.6 308.8h0M1074.0 308.1h0M1202.2 294.1h0M1091.1 338.7h0M1092.2 311.8h0M1122.7 337.2h0M1156.5 303.9h0M1216.7 278.1h0M1083.1 288.4h0M1243.7 302.8h0M1225.7 335.9h0M1089.0 303.3h0M1137.1 289.8h0M1096.0 347.4h0M1188.3 289.3h0M1163.4 344.0h0M1210.9 300.8h0M1079.4 295.0h0M1107.3 291.2h0M1160.8 309.3h0M1158.7 300.8h0M1223.1 329.4h0M1169.9 307.4h0M1190.4 277.0h0M1189.2 316.9h0M1237.3 285.3h0M1233.9 310.6h0M1228.1 313.8h0M1105.1 408.3h0M1118.1 366.6h0M1127.7 404.8h0M1100.1 389.3h0M1106.3 371.2h0M1143.3 385.3h0M1064.9 316.4h0M1048.5 317.2h0M1078.0 316.4h0M1040.8 313.7h0M1075.2 298.7h0M1222.9 371.5h0M1236.4 368.4h0M1220.8 363.6h0" stroke="#e6e036" stroke-width="4.6" stroke-linecap="round" fill="none"/>
<path d="M1171.1 490.9h0M1179.4 581.4h0M1238.8 566.7h0M1202.8 529.6h0M1207.9 516.1h0M1268.1 506.8h0M1191.2 531.0h0M1154.1 506.7h0M1244.0 526.8h0M1232.5 454.2h0M1272.6 472.8h0M1229.9 502.8h0M1228.4 553.5h0M1204.3 489.0h0M1249.8 487.3h0M1194.6 590.5h0M1149.6 485.9h0M1248.8 509.3h0M1144.8 488.0h0M1222.1 582.4h0M1197.5 496.2h0M1144.1 558.1h0M1185.8 554.8h0M1237.5 566.4h0M1190.0 553.2h0M1164.3 528.6h0M1178.4 520.8h0M1267.3 550.4h0M1212.0 543.2h0M1175.7 447.0h0M1224.9 469.2h0M1227.0 549.6h0M1191.9 469.9h0M1184.8 520.3h0M1212.4 545.1h0M1193.6 591.0h0M1188.4 504.4h0M1284.8 498.8h0M1211.1 493.7h0M1251.2 588.0h0M1256.5 566.4h0M1241.7 568.4h0M1222.6 563.3h0M1163.6 544.0h0M1236.1 470.7h0M1266.6 565.1h0M1232.2 526.0h0M1158.7 548.9h0M1257.7 524.3h0M1213.9 585.8h0M1258.1 571.8h0M1259.8 541.7h0M1137.5 538.2h0M1258.5 565.2h0M1245.6 504.4h0M1177.4 494.6h0M1160.5 537.6h0M1181.4 591.8h0M1215.0 579.7h0M1133.1 362.8h0M1139.5 374.9h0M1143.9 423.7h0M1131.0 403.3h0" stroke="#9aabdd" stroke-width="4.6" stroke-linecap="round" fill="none"/>
<path d="M1124.4 284.9h0M1072.5 322.0h0M1205.8 281.0h0M1097.0 311.2h0M1113.1 330.9h0M1098.5 330.1h0M1209.4 348.7h0M1209.6 309.9h0M1192.5 303.8h0M1132.9 321.2h0M1174.7 290.6h0M1171.3 279.6h0M1168.0 342.4h0M1180.2 335.3h0M1153.2 339.1h0M1116.3 286.1h0M1132.7 355.5h0M1102.5 316.2h0M1121.3 343.1h0M1124.2 293.5h0M1099.6 335.2h0M1155.2 329.8h0M1114.4 355.4h0M1174.9 330.8h0M1091.9 328.4h0M1141.2 335.6h0M1185.2 361.8h0M1147.1 312.8h0M1106.9 340.6h0M1122.3 315.2h0M1199.1 358.1h0M1125.6 289.7h0M1183.7 296.2h0M1117.0 284.1h0M1164.7 279.7h0M1246.5 322.4h0M1096.7 310.1h0M1188.0 317.0h0M1244.2 288.6h0M1207.7 321.3h0M1224.6 294.0h0M1194.4 329.4h0M1202.2 297.9h0M1239.1 313.9h0M1246.1 298.7h0M1219.2 321.6h0M1231.6 322.0h0M1138.0 408.3h0M1116.8 390.5h0M1115.6 369.5h0M1106.2 407.7h0M1116.0 401.5h0M1046.9 326.7h0M1044.1 310.3h0M1066.9 319.4h0M1035.0 330.5h0M1071.4 314.3h0M1247.6 366.4h0M1212.6 340.7h0M1246.8 367.6h0" stroke="#e6e036" stroke-width="4.6" stroke-linecap="round" fill="none"/>
<path d="M1200.8 551.1h0M1213.0 460.8h0M1189.2 518.6h0M1143.1 493.2h0M1263.9 532.0h0M1246.6 562.9h0M1255.6 566.0h0M1249.7 507.8h0M1163.7 486.5h0M1225.7 467.4h0M1189.9 466.4h0M1272.5 558.8h0M1201.3 435.7h0M1280.3 534.5h0M1281.0 484.9h0M1237.0 506.1h0M1232.6 462.3h0M1187.9 550.1h0M1252.0 582.1h0M1255.3 471.6h0M1192.9 551.1h0M1185.2 497.6h0M1199.2 482.9h0M1204.0 552.1h0M1187.9 586.6h0M1184.1 473.4h0M1272.6 518.0h0M1225.2 472.0h0M1170.3 584.5h0M1149.7 540.9h0M1214.8 451.7h0M1271.3 543.1h0M1251.2 467.7h0M1155.7 496.4h0M1189.1 463.2h0M1179.6 473.9h0M1216.5 495.4h0M1255.6 584.4h0M1259.5 491.5h0M1257.0 530.8h0M1221.4 535.2h0M1141.6 557.6h0M1256.1 586.9h0M1202.4 601.5h0M1167.2 509.4h0M1191.8 448.1h0M1176.3 456.4h0M1221.1 540.4h0M1254.3 571.5h0M1261.0 556.5h0M1157.9 539.3h0M1246.5 541.2h0M1264.0 568.1h0M1275.2 541.0h0M1172.7 510.4h0M1194.3 465.9h0M1210.7 481.4h0M1226.1 596.9h0M1229.4 453.6h0M1138.7 378.5h0M1156.3 420.1h0M1168.1 394.6h0M1185.3 430.8h0" stroke="#9aabdd" stroke-width="4.6" stroke-linecap="round" fill="none"/>
<path d="M1175.5 527.4h0M1238.3 599.5h0M1210.1 513.1h0M1250.1 540.5h0M1245.8 511.5h0M1151.4 513.2h0M1228.8 461.7h0M1175.4 493.7h0M1205.6 511.4h0M1165.0 492.7h0M1203.0 521.5h0M1247.9 535.8h0M1273.3 555.3h0M1133.5 500.3h0M1265.2 484.7h0M1270.1 558.3h0M1228.6 447.5h0M1230.4 508.5h0M1255.7 494.5h0M1197.1 500.2h0M1168.6 471.0h0M1189.1 508.3h0M1177.1 571.3h0M1269.1 547.2h0M1229.1 448.1h0M1210.7 543.3h0M1151.0 482.4h0M1256.8 497.9h0M1202.5 591.5h0M1149.0 528.6h0M1171.8 523.3h0M1192.3 490.7h0M1215.5 451.2h0M1232.2 482.1h0M1177.7 497.5h0M1284.4 504.4h0M1222.8 589.8h0M1161.3 483.5h0M1190.6 558.6h0M1198.1 579.6h0M1282.2 508.9h0M1231.0 589.8h0M1195.1 445.5h0M1161.8 493.2h0M1167.5 466.4h0M1138.8 481.8h0M1200.0 490.3h0M1164.9 553.9h0M1214.0 517.5h0M1242.9 479.8h0M1249.4 534.1h0M1206.4 475.8h0M1138.5 538.4h0M1184.7 450.4h0M1139.0 552.6h0M1238.9 568.8h0M1195.0 551.4h0M1230.4 574.0h0M1151.6 523.1h0M1151.8 398.7h0M1167.2 400.7h0M1196.8 422.8h0M1148.9 395.6h0" stroke="#9aabdd" stroke-width="4.6" stroke-linecap="round" fill="none"/>
<circle cx="1313.4" cy="533.5" r="4.45" fill="#9aabdd"/>
<text x="1326.4" y="539.7" font-size="20.2" text-anchor="start" fill="#111">R0</text>
<circle cx="1313.4" cy="550.2" r="4.45" fill="#e6e036"/>
<text x="1326.4" y="556.4" font-size="20.2" text-anchor="start" fill="#111">R1</text>
<circle cx="1313.4" cy="566.9" r="4.45" fill="#9b30c8"/>
<text x="1326.4" y="573.1" font-size="20.2" text-anchor="start" fill="#111">R2</text>
<circle cx="1313.4" cy="583.6" r="4.45" fill="#d42f1e"/>
<text x="1326.4" y="589.8" font-size="20.2" text-anchor="start" fill="#111">R3</text>
<circle cx="1313.4" cy="600.3" r="4.45" fill="#d4a660"/>
<text x="1326.4" y="606.5" font-size="20.2" text-anchor="start" fill="#111">R4</text>
<circle cx="1313.4" cy="617.0" r="4.45" fill="#3a9a3a"/>
<text x="1326.4" y="623.2" font-size="20.2" text-anchor="start" fill="#111">R5</text>
<path d="M1539.3 141V629H1999" fill="none" stroke="#111" stroke-width="1.9"/>
<path d="M1536.0 241.4h3.3M1536.0 351.4h3.3M1536.0 461.0h3.3M1536.0 571.7h3.3M1647.7 629v3.3M1771.3 629v3.3M1893.0 629v3.3" stroke="#111" stroke-width="1.3"/>
<text x="1531.5" y="247.0" font-size="17.5" text-anchor="end" fill="#111">2</text>
<text x="1531.5" y="357.0" font-size="17.5" text-anchor="end" fill="#111">0</text>
<text x="1531.5" y="466.6" font-size="17.5" text-anchor="end" fill="#111">-2</text>
<text x="1531.5" y="577.3" font-size="17.5" text-anchor="end" fill="#111">-4</text>
<text x="1647.7" y="650.7" font-size="17.5" text-anchor="middle" fill="#111">-4</text>
<text x="1771.3" y="650.7" font-size="17.5" text-anchor="middle" fill="#111">0</text>
<text x="1893.0" y="650.7" font-size="17.5" text-anchor="middle" fill="#111">4</text>
<text x="1783" y="687.2" font-size="37.5" font-weight="bold" text-anchor="middle" fill="#111">UMAP 1</text>
<text x="0" y="0" font-size="37.5" font-weight="bold" text-anchor="middle" fill="#111" transform="translate(1500.5 372) rotate(-90)">UMAP 2</text>
<path d="M1598.1 396.2h0M1597.8 416.7h0M1596.6 378.0h0M1604.9 405.6h0M1573.2 388.0h0M1593.1 406.6h0M1590.3 386.4h0M1608.9 385.9h0M1604.6 411.7h0M1570.9 392.5h0M1587.3 390.2h0M1606.4 385.3h0M1576.8 394.8h0M1598.0 391.9h0M1591.5 408.8h0M1593.0 409.0h0M1572.6 406.3h0M1610.5 404.4h0M1601.7 403.8h0M1588.2 391.9h0M1598.0 391.3h0M1589.9 391.0h0M1590.8 384.2h0M1578.2 379.7h0M1574.3 386.2h0M1589.9 409.1h0M1606.0 386.7h0M1587.8 376.4h0M1594.8 404.8h0M1605.1 411.8h0M1644.2 414.1h0M1632.2 414.2h0M1598.2 407.9h0M1598.4 412.3h0M1590.3 408.4h0M1588.7 412.1h0M1637.3 406.6h0M1649.7 418.9h0M1645.7 418.5h0M1587.9 411.6h0M1624.0 405.8h0M1653.5 414.6h0M1576.1 411.7h0M1653.2 371.6h0M1621.2 371.0h0M1627.7 342.2h0M1603.7 398.7h0M1630.6 386.2h0M1617.2 375.1h0M1612.4 359.9h0M1604.1 345.6h0M1621.0 385.2h0M1648.8 355.3h0M1653.9 449.5h0M1651.3 462.7h0M1652.8 446.5h0M1661.6 459.5h0M1657.3 436.6h0M1642.2 446.9h0M1659.3 444.1h0M1648.5 465.6h0M1660.6 466.6h0M1665.1 462.6h0M1646.7 429.6h0M1649.1 465.7h0M1653.0 458.0h0" stroke="#d42f1e" stroke-width="4.6" stroke-linecap="round" fill="none"/>
<path d="M1639.2 162.6h0M1646.3 181.6h0M1635.9 219.2h0M1648.3 209.3h0M1627.9 197.3h0M1642.2 198.3h0M1640.4 218.3h0M1649.1 195.0h0M1640.3 217.6h0M1628.8 206.8h0M1625.4 197.5h0M1640.3 185.2h0M1624.1 172.8h0M1635.3 166.9h0M1637.5 199.4h0M1629.7 204.4h0M1622.5 183.1h0M1638.0 198.7h0M1648.0 208.0h0M1634.7 182.5h0M1637.4 195.6h0M1646.9 196.8h0M1635.2 198.0h0M1640.8 185.8h0M1640.1 193.7h0M1637.3 190.0h0M1632.3 173.9h0M1624.5 186.9h0M1623.2 173.4h0M1628.7 185.8h0M1636.6 211.0h0M1639.7 204.1h0M1626.1 178.9h0M1634.0 172.5h0M1633.6 195.8h0M1644.7 179.4h0M1644.3 198.8h0M1629.0 188.2h0M1647.0 169.4h0M1630.7 197.5h0M1621.5 196.2h0M1642.1 163.3h0M1653.0 182.5h0M1646.0 180.7h0M1634.7 180.7h0M1652.2 190.6h0M1631.6 189.8h0M1637.4 204.6h0M1640.9 210.0h0M1635.8 189.7h0M1629.3 262.8h0M1625.7 299.2h0M1667.6 293.2h0M1638.9 271.5h0M1652.0 239.0h0M1628.4 250.6h0M1629.8 257.7h0M1664.4 270.1h0M1664.4 263.4h0M1631.5 295.1h0M1644.1 232.1h0M1624.7 252.6h0M1634.5 317.2h0M1648.6 255.9h0M1633.3 301.2h0M1656.8 300.9h0M1665.1 271.8h0M1626.1 287.6h0M1634.0 317.2h0M1649.5 322.1h0" stroke="#9b30c8" stroke-width="4.6" stroke-linecap="round" fill="none"/>
<path d="M1586.8 409.1h0M1612.6 400.8h0M1573.2 395.3h0M1610.4 400.8h0M1590.2 379.4h0M1575.4 409.0h0M1591.2 388.3h0M1599.9 397.2h0M1586.8 383.5h0M1584.8 403.5h0M1593.6 395.9h0M1604.4 393.3h0M1606.0 411.3h0M1607.5 394.1h0M1572.9 400.5h0M1593.2 382.5h0M1588.3 388.8h0M1589.4 412.7h0M1583.2 408.2h0M1586.0 392.2h0M1590.8 402.8h0M1582.2 413.1h0M1574.6 397.7h0M1578.1 383.0h0M1590.3 414.2h0M1603.5 405.6h0M1606.3 384.8h0M1594.7 396.7h0M1592.2 388.8h0M1596.8 408.7h0M1591.1 416.2h0M1620.5 411.6h0M1610.1 416.3h0M1627.4 418.6h0M1625.9 412.6h0M1593.0 414.2h0M1622.0 407.9h0M1629.3 404.4h0M1605.8 405.6h0M1595.5 401.7h0M1633.6 415.2h0M1582.6 402.5h0M1638.3 410.8h0M1615.5 370.2h0M1638.2 377.8h0M1625.8 352.0h0M1600.8 404.4h0M1613.9 343.6h0M1626.9 359.2h0M1626.2 397.6h0M1599.1 349.1h0M1604.2 372.2h0M1629.8 359.0h0M1657.2 461.3h0M1663.6 449.8h0M1664.5 462.1h0M1646.2 452.0h0M1643.6 445.5h0M1650.4 430.8h0M1655.1 458.1h0M1653.7 437.1h0M1649.8 433.5h0M1643.9 441.3h0M1641.6 453.5h0M1658.2 449.5h0M1655.4 459.2h0M1654.3 441.4h0" stroke="#d42f1e" stroke-width="4.6" stroke-linecap="round" fill="none"/>
<path d="M1843.7 261.4h0M1891.2 325.3h0M1939.7 248.6h0M1889.8 250.8h0M1896.0 224.5h0M1878.7 329.6h0M1937.7 314.3h0M1891.7 342.1h0M1962.1 275.6h0M1931.4 231.3h0M1885.0 197.2h0M1841.0 301.4h0M1935.5 282.5h0M1937.6 223.1h0M1901.2 203.1h0M1933.1 249.7h0M1936.5 246.0h0M1866.7 357.3h0M1948.5 267.8h0M1918.7 275.9h0M1863.7 273.2h0M1930.8 330.5h0M1957.7 292.8h0M1875.0 214.5h0M1936.2 254.9h0M1908.8 223.3h0M1913.2 336.2h0M1912.5 237.2h0M1928.7 311.8h0M1842.2 335.4h0M1936.7 218.9h0M1869.8 237.6h0M1873.3 291.1h0M1903.9 261.1h0M1908.2 276.1h0M1913.3 312.8h0M1947.3 303.0h0M1842.2 261.2h0M1903.3 231.8h0M1851.7 250.6h0M1953.0 293.0h0M1916.0 338.5h0M1954.1 277.2h0M1888.1 276.8h0M1869.3 297.0h0M1852.8 348.2h0M1929.2 222.0h0M1857.6 223.1h0M1860.5 348.0h0M1936.8 284.1h0M1874.6 298.4h0M1862.1 260.2h0M1918.0 313.9h0M1854.3 248.0h0M1893.3 357.2h0M1893.4 286.9h0M1848.7 353.4h0M1849.0 329.3h0M1832.8 342.5h0M1826.7 298.6h0M1823.9 328.2h0" stroke="#9aabdd" stroke-width="4.6" stroke-linecap="round" fill="none"/>
<path d="M1859.7 314.6h0M1908.3 222.6h0M1888.5 286.9h0M1940.6 213.4h0M1902.1 278.0h0M1952.7 316.9h0M1929.5 342.5h0M1846.8 247.0h0M1853.0 354.6h0M1935.1 285.1h0M1911.1 338.7h0M1920.5 361.0h0M1928.1 272.0h0M1938.4 332.1h0M1842.9 314.2h0M1951.5 330.4h0M1920.1 283.3h0M1885.1 242.7h0M1913.9 343.7h0M1922.6 306.3h0M1913.4 270.1h0M1882.5 328.1h0M1943.9 307.2h0M1857.6 315.4h0M1856.9 294.5h0M1917.7 306.4h0M1932.3 257.1h0M1842.6 305.9h0M1867.4 365.2h0M1900.9 267.1h0M1891.8 245.7h0M1888.1 331.6h0M1940.5 336.5h0M1891.8 229.9h0M1837.3 297.9h0M1923.7 314.4h0M1930.8 315.7h0M1946.7 258.4h0M1944.3 305.8h0M1907.0 366.0h0M1949.2 300.2h0M1912.5 281.4h0M1874.7 262.2h0M1944.8 216.6h0M1892.5 290.8h0M1871.1 299.5h0M1889.3 190.7h0M1945.6 301.1h0M1867.3 273.5h0M1907.5 225.0h0M1892.6 317.0h0M1859.4 251.0h0M1916.2 344.3h0M1850.8 310.3h0M1919.1 283.0h0M1876.3 318.7h0M1840.9 344.2h0M1860.5 301.8h0M1818.9 322.6h0M1840.0 338.2h0M1854.0 318.7h0" stroke="#9aabdd" stroke-width="4.6" stroke-linecap="round" fill="none"/>
<path d="M1695.7 577.1h0M1692.1 592.2h0M1670.8 570.7h0M1691.8 557.0h0M1684.8 517.8h0M1713.8 570.5h0M1719.4 545.9h0M1692.3 589.0h0M1724.5 550.3h0M1711.3 504.7h0M1689.8 559.8h0M1689.4 505.7h0M1682.6 527.9h0M1685.9 579.8h0M1715.5 536.5h0M1714.2 579.8h0M1690.6 512.7h0M1687.7 523.5h0M1687.8 577.0h0M1720.2 541.8h0M1678.9 544.5h0M1661.5 557.0h0M1691.1 550.5h0M1684.1 503.9h0M1699.3 587.3h0M1717.8 581.8h0M1686.5 520.6h0M1708.1 536.0h0M1702.0 598.4h0M1713.5 525.5h0M1676.5 533.3h0M1671.9 527.3h0M1713.1 537.6h0M1700.4 505.0h0M1701.2 566.1h0M1688.7 590.3h0M1718.1 524.1h0M1704.7 532.6h0M1675.4 582.9h0M1682.7 593.3h0M1699.5 585.9h0M1705.7 571.0h0M1696.5 582.7h0M1677.6 536.7h0M1669.9 564.5h0M1722.7 526.8h0M1726.0 554.9h0M1685.6 578.2h0M1685.4 553.9h0M1705.5 554.1h0M1685.8 523.7h0M1677.0 511.6h0M1682.0 515.1h0M1722.6 546.0h0M1698.5 561.9h0M1720.6 562.2h0M1709.0 547.4h0M1723.6 545.4h0M1707.0 545.0h0M1664.5 563.8h0M1722.4 562.6h0M1716.8 533.2h0M1721.8 571.9h0M1685.1 573.1h0M1690.6 604.3h0" stroke="#d4a660" stroke-width="4.6" stroke-linecap="round" fill="none"/>
<path d="M1596.7 392.9h0M1577.0 402.6h0M1589.0 389.6h0M1591.1 404.1h0M1603.9 401.0h0M1608.0 386.9h0M1593.8 391.1h0M1586.9 414.8h0M1589.9 386.1h0M1600.5 401.8h0M1594.0 403.1h0M1610.6 405.3h0M1598.1 409.5h0M1590.6 379.4h0M1601.9 381.8h0M1605.0 411.2h0M1604.2 396.1h0M1584.4 399.6h0M1586.4 395.8h0M1593.1 397.3h0M1583.1 378.6h0M1589.9 388.8h0M1605.4 400.8h0M1609.9 390.8h0M1593.8 384.2h0M1582.3 381.9h0M1579.5 379.6h0M1584.9 402.1h0M1591.7 385.7h0M1605.4 398.0h0M1643.4 421.9h0M1654.1 412.5h0M1620.8 418.9h0M1644.8 421.9h0M1651.5 424.5h0M1591.1 405.6h0M1629.7 408.1h0M1647.3 420.2h0M1603.3 403.4h0M1594.8 416.9h0M1639.9 421.3h0M1597.3 409.9h0M1632.8 346.5h0M1635.2 405.2h0M1623.7 383.7h0M1637.2 372.3h0M1618.7 404.7h0M1628.3 404.8h0M1601.4 396.7h0M1606.9 356.0h0M1602.2 348.4h0M1639.2 389.1h0M1662.0 467.8h0M1647.4 425.7h0M1642.9 432.7h0M1660.2 468.3h0M1650.3 440.4h0M1658.1 447.5h0M1653.6 438.2h0M1648.1 432.2h0M1652.6 427.9h0M1654.6 463.3h0M1645.5 427.6h0M1645.9 443.2h0M1640.1 428.1h0M1658.5 442.2h0" stroke="#d42f1e" stroke-width="4.6" stroke-linecap="round" fill="none"/>
<path d="M1707.2 317.2h0M1738.4 345.3h0M1701.4 464.2h0M1671.1 373.6h0M1761.8 375.3h0M1717.7 485.2h0M1694.0 368.8h0M1751.7 372.2h0M1732.9 306.2h0M1661.4 369.6h0M1718.1 455.1h0M1699.6 451.6h0M1742.9 385.9h0M1707.0 419.4h0M1732.7 478.6h0M1699.0 439.1h0M1669.5 339.4h0M1716.8 504.8h0M1709.4 423.1h0M1662.3 375.3h0M1684.6 310.1h0M1709.3 389.0h0M1703.3 443.9h0M1701.8 362.0h0M1688.5 387.7h0M1679.2 446.1h0M1757.7 333.8h0M1730.3 474.5h0M1761.8 454.2h0M1766.2 358.0h0M1698.5 374.2h0M1719.0 452.7h0M1748.6 453.0h0M1684.3 360.8h0M1719.9 363.7h0M1769.9 384.9h0M1691.7 486.9h0M1702.3 438.8h0M1768.0 408.9h0M1693.1 351.8h0M1662.7 378.0h0M1707.6 501.3h0M1757.4 386.1h0M1657.5 424.0h0M1722.7 503.5h0M1701.6 340.0h0M1749.8 372.0h0M1760.8 408.8h0M1734.9 306.0h0M1714.1 325.6h0M1706.4 395.7h0M1764.8 438.9h0M1723.1 419.9h0M1694.5 389.1h0M1660.3 360.4h0M1681.2 366.1h0M1734.6 339.5h0M1721.3 484.9h0M1821.6 309.9h0M1815.7 291.8h0M1801.9 313.5h0M1802.5 293.0h0M1828.4 318.2h0" stroke="#e6e036" stroke-width="4.6" stroke-linecap="round" fill="none"/>
<path d="M1857.1 342.8h0M1853.9 323.7h0M1932.6 336.2h0M1928.4 292.3h0M1897.6 273.8h0M1846.0 272.6h0M1868.4 233.1h0M1872.7 303.2h0M1881.5 298.7h0M1873.4 194.8h0M1948.8 243.4h0M1942.4 263.7h0M1923.1 245.0h0M1915.5 321.8h0M1889.3 194.2h0M1879.4 297.0h0M1924.5 304.7h0M1871.6 335.4h0M1938.1 255.3h0M1845.6 225.7h0M1871.7 302.5h0M1921.9 294.5h0M1886.8 242.3h0M1915.1 221.8h0M1928.7 241.0h0M1953.8 251.5h0M1885.8 212.1h0M1864.8 239.8h0M1943.5 346.0h0M1929.3 295.2h0M1911.1 217.6h0M1856.8 205.8h0M1917.1 248.9h0M1847.4 308.9h0M1918.8 336.9h0M1898.0 374.1h0M1945.3 266.4h0M1867.9 344.3h0M1832.6 299.8h0M1923.5 371.1h0M1910.1 222.8h0M1933.3 273.7h0M1896.0 226.9h0M1836.0 252.7h0M1900.4 195.5h0M1842.5 290.6h0M1931.5 304.2h0M1898.8 297.1h0M1896.7 199.8h0M1916.8 357.6h0M1833.9 317.4h0M1939.2 300.2h0M1874.4 346.2h0M1942.1 283.8h0M1841.2 240.1h0M1924.6 206.2h0M1936.5 338.9h0M1863.3 320.2h0M1856.7 295.9h0M1817.2 314.8h0M1825.6 323.3h0" stroke="#9aabdd" stroke-width="4.6" stroke-linecap="round" fill="none"/>
<path d="M1959.9 298.3h0M1962.7 277.1h0M1923.6 273.5h0M1871.9 238.1h0M1922.1 241.0h0M1935.6 254.3h0M1866.3 239.8h0M1941.3 345.1h0M1854.9 334.5h0M1927.5 267.2h0M1856.5 297.4h0M1835.0 270.4h0M1908.5 278.2h0M1898.3 270.8h0M1859.9 344.9h0M1906.7 308.5h0M1919.2 302.0h0M1864.6 275.0h0M1843.7 277.0h0M1929.7 331.4h0M1932.1 264.4h0M1959.3 264.2h0M1876.9 372.4h0M1835.2 299.2h0M1914.9 195.7h0M1890.9 330.3h0M1846.8 311.6h0M1930.9 357.6h0M1899.2 203.7h0M1879.7 347.7h0M1849.0 334.5h0M1871.8 204.2h0M1870.0 293.1h0M1853.6 316.8h0M1885.3 263.0h0M1950.7 270.0h0M1910.5 324.3h0M1936.1 220.1h0M1841.4 240.3h0M1905.3 269.4h0M1908.5 377.6h0M1917.3 370.8h0M1911.6 368.8h0M1911.9 298.5h0M1944.9 343.2h0M1850.0 272.2h0M1931.8 293.6h0M1859.3 261.7h0M1918.4 231.1h0M1869.8 255.1h0M1917.6 288.3h0M1916.5 219.5h0M1854.3 351.0h0M1930.6 318.0h0M1872.0 309.1h0M1871.5 355.1h0M1854.5 318.2h0M1852.4 298.1h0M1857.1 299.3h0M1838.3 285.5h0M1842.1 359.5h0" stroke="#9aabdd" stroke-width="4.6" stroke-linecap="round" fill="none"/>
<path d="M1711.1 438.6h0M1671.5 472.6h0M1763.7 375.6h0M1680.7 316.2h0M1699.1 410.1h0M1741.0 377.7h0M1753.6 422.1h0M1701.2 340.4h0M1753.1 364.1h0M1753.3 360.5h0M1669.6 349.9h0M1702.6 301.5h0M1729.4 462.6h0M1765.9 389.6h0M1739.0 419.0h0M1704.1 422.3h0M1752.7 411.0h0M1750.4 373.8h0M1738.9 364.3h0M1666.1 401.2h0M1752.9 369.1h0M1741.1 364.9h0M1671.8 363.0h0M1771.4 424.9h0M1660.6 426.0h0M1744.9 448.1h0M1701.9 331.5h0M1722.0 315.3h0M1694.2 478.9h0M1722.9 424.4h0M1741.9 438.1h0M1721.1 429.2h0M1753.2 360.8h0M1694.0 370.5h0M1730.4 479.6h0M1690.4 372.0h0M1718.0 498.3h0M1738.2 359.4h0M1698.0 444.5h0M1662.2 392.6h0M1708.4 426.9h0M1719.4 322.7h0M1758.7 433.5h0M1711.8 387.8h0M1701.8 347.3h0M1658.5 361.4h0M1693.6 471.6h0M1756.5 410.2h0M1758.0 334.3h0M1745.6 484.9h0M1687.8 373.6h0M1728.2 323.5h0M1700.2 500.5h0M1702.5 441.4h0M1760.1 354.3h0M1667.9 342.6h0M1728.0 460.3h0M1691.6 344.4h0M1704.9 410.9h0M1815.7 325.6h0M1811.6 312.8h0M1787.2 296.7h0M1819.4 289.7h0M1805.8 329.4h0" stroke="#e6e036" stroke-width="4.6" stroke-linecap="round" fill="none"/>
<path d="M1908.2 360.2h0M1878.9 236.7h0M1951.4 308.7h0M1950.5 325.1h0M1919.7 302.3h0M1928.2 294.7h0M1878.6 206.5h0M1874.5 280.0h0M1938.6 283.8h0M1868.1 295.9h0M1932.3 280.8h0M1855.0 275.1h0M1918.9 217.3h0M1929.3 283.2h0M1912.2 335.0h0M1935.7 315.4h0M1896.9 236.5h0M1912.3 343.5h0M1890.1 326.2h0M1855.1 338.3h0M1945.1 227.9h0M1849.3 288.8h0M1880.7 241.6h0M1961.7 290.0h0M1859.8 284.0h0M1887.3 221.5h0M1914.7 191.9h0M1868.9 254.7h0M1959.0 298.3h0M1940.0 279.0h0M1901.1 367.2h0M1843.3 272.9h0M1928.1 281.9h0M1877.1 265.5h0M1937.8 349.7h0M1900.1 208.2h0M1887.9 326.6h0M1956.4 291.6h0M1927.7 263.4h0M1864.3 276.7h0M1918.1 241.5h0M1896.3 357.5h0M1912.8 210.2h0M1915.8 358.0h0M1893.1 209.6h0M1866.0 329.3h0M1870.7 264.8h0M1843.1 314.6h0M1860.9 261.9h0M1872.1 352.6h0M1862.8 354.3h0M1905.3 216.3h0M1865.6 230.8h0M1885.1 251.8h0M1933.8 313.3h0M1902.1 226.8h0M1831.0 307.1h0M1848.9 326.3h0M1827.0 330.9h0M1826.4 300.7h0" stroke="#9aabdd" stroke-width="4.6" stroke-linecap="round" fill="none"/>
<path d="M1682.8 387.8h0M1669.3 452.3h0M1748.8 388.0h0M1740.9 343.2h0M1691.2 406.6h0M1757.8 398.5h0M1750.1 347.2h0M1709.6 429.4h0M1757.6 331.2h0M1728.6 309.2h0M1704.6 424.6h0M1694.7 378.4h0M1685.4 329.7h0M1681.3 476.2h0M1758.6 445.6h0M1690.9 386.1h0M1721.3 440.9h0M1680.1 368.1h0M1686.8 413.6h0M1753.2 346.2h0M1733.2 356.8h0M1740.3 363.0h0M1712.0 441.0h0M1743.0 369.8h0M1686.6 374.8h0M1687.5 358.5h0M1709.0 487.6h0M1659.6 372.4h0M1662.9 432.3h0M1672.0 380.4h0M1763.2 364.1h0M1763.2 430.5h0M1754.3 382.6h0M1661.1 358.5h0M1667.0 383.6h0M1722.5 503.9h0M1723.2 497.3h0M1733.3 422.8h0M1718.9 369.5h0M1762.9 420.8h0M1721.3 473.1h0M1704.7 433.7h0M1770.6 430.0h0M1724.5 380.6h0M1737.2 414.3h0M1752.7 339.4h0M1696.3 471.4h0M1746.4 337.4h0M1770.5 365.7h0M1743.0 347.0h0M1747.5 458.9h0M1749.7 335.1h0M1696.1 367.3h0M1721.8 368.9h0M1716.5 464.8h0M1687.9 370.6h0M1745.4 485.4h0M1704.0 389.0h0M1749.5 322.9h0M1780.1 331.2h0M1824.2 291.6h0M1794.5 330.2h0M1802.6 319.3h0M1815.6 302.8h0" stroke="#e6e036" stroke-width="4.6" stroke-linecap="round" fill="none"/>
<path d="M1751.6 360.6h0M1680.7 332.5h0M1700.1 398.7h0M1697.2 461.0h0M1696.8 351.2h0M1731.1 410.0h0M1721.6 331.0h0M1706.4 352.1h0M1671.5 336.0h0M1712.8 391.9h0M1712.9 433.0h0M1705.3 382.7h0M1744.7 381.0h0M1746.6 440.3h0M1670.0 407.6h0M1686.9 399.8h0M1740.1 443.6h0M1703.4 465.3h0M1722.2 475.2h0M1741.0 386.6h0M1670.5 363.5h0M1684.9 341.8h0M1716.2 461.2h0M1709.9 425.5h0M1707.7 416.0h0M1715.5 305.9h0M1686.8 470.0h0M1706.6 432.6h0M1754.5 341.4h0M1763.2 384.7h0M1679.2 415.7h0M1689.7 458.0h0M1673.6 435.8h0M1690.6 439.1h0M1656.3 372.1h0M1677.1 425.3h0M1704.5 355.2h0M1704.3 330.7h0M1743.8 318.8h0M1749.7 316.3h0M1727.3 324.2h0M1750.3 425.9h0M1707.0 368.4h0M1684.4 408.1h0M1706.4 329.2h0M1710.6 489.9h0M1720.9 341.5h0M1725.4 486.2h0M1661.2 378.2h0M1679.4 332.5h0M1734.6 422.1h0M1667.7 437.0h0M1737.2 403.3h0M1720.4 376.1h0M1723.5 355.3h0M1753.0 427.4h0M1734.1 475.3h0M1749.9 362.5h0M1797.3 318.8h0M1785.7 306.9h0M1795.2 318.8h0M1781.5 338.5h0M1796.3 323.1h0" stroke="#e6e036" stroke-width="4.6" stroke-linecap="round" fill="none"/>
<path d="M1690.7 544.5h0M1684.5 531.3h0M1687.5 569.9h0M1674.2 594.1h0M1667.2 565.0h0M1704.7 580.4h0M1717.0 566.3h0M1694.3 571.1h0M1681.7 525.2h0M1723.6 529.3h0M1702.3 562.2h0M1695.5 542.2h0M1718.1 537.4h0M1718.2 557.3h0M1688.3 505.0h0M1671.0 565.7h0M1678.5 593.9h0M1671.1 569.1h0M1681.7 504.6h0M1713.0 524.0h0M1683.0 515.3h0M1701.8 592.1h0M1678.3 581.3h0M1687.4 590.3h0M1679.8 569.8h0M1673.8 542.3h0M1686.6 584.9h0M1700.1 598.0h0M1693.8 576.4h0M1679.9 535.5h0M1687.4 509.2h0M1707.6 550.9h0M1722.2 542.7h0M1701.4 517.6h0M1694.8 499.7h0M1703.9 565.5h0M1709.3 513.3h0M1686.0 600.5h0M1720.5 531.4h0M1709.9 591.0h0M1684.5 522.5h0M1668.5 564.3h0M1722.7 537.5h0M1687.0 497.9h0M1694.9 526.5h0M1702.2 570.3h0M1692.8 594.8h0M1708.9 577.2h0M1671.1 586.3h0M1679.2 504.8h0M1689.7 533.1h0M1723.2 529.3h0M1701.9 557.0h0M1678.4 549.5h0M1706.4 539.2h0M1675.2 587.1h0M1682.3 598.2h0M1721.6 539.4h0M1674.1 593.4h0M1690.8 602.3h0M1695.2 520.5h0M1712.6 515.8h0M1682.6 516.7h0M1679.2 532.4h0M1713.6 581.2h0" stroke="#d4a660" stroke-width="4.6" stroke-linecap="round" fill="none"/>
<path d="M1893.0 300.5h0M1954.7 332.2h0M1870.6 257.7h0M1897.4 289.4h0M1870.3 272.0h0M1852.0 274.4h0M1862.2 200.7h0M1905.1 323.3h0M1939.4 283.0h0M1858.2 333.9h0M1888.1 342.0h0M1839.1 248.5h0M1896.8 369.4h0M1904.2 338.4h0M1926.5 308.6h0M1874.5 343.5h0M1933.0 263.8h0M1903.2 295.9h0M1942.0 349.5h0M1882.4 353.6h0M1847.2 278.5h0M1834.4 284.3h0M1882.8 347.7h0M1902.9 331.7h0M1955.6 244.6h0M1863.3 219.0h0M1898.0 268.1h0M1922.3 221.7h0M1840.3 268.7h0M1933.7 318.6h0M1904.5 277.5h0M1903.3 235.0h0M1939.3 289.0h0M1920.9 235.2h0M1951.5 266.2h0M1841.1 311.2h0M1936.1 318.1h0M1894.9 298.5h0M1944.4 321.5h0M1914.9 270.4h0M1902.4 196.2h0M1861.7 337.9h0M1866.9 238.6h0M1939.4 258.0h0M1913.5 204.5h0M1862.8 270.4h0M1895.2 308.7h0M1898.0 296.0h0M1914.1 329.4h0M1900.8 324.2h0M1863.5 218.5h0M1924.9 336.6h0M1929.9 242.7h0M1905.7 280.3h0M1863.9 335.0h0M1935.9 348.9h0M1931.6 250.9h0M1854.1 290.7h0M1863.6 328.7h0M1816.0 326.1h0M1823.4 318.6h0" stroke="#9aabdd" stroke-width="4.6" stroke-linecap="round" fill="none"/>
<path d="M1717.3 437.7h0M1710.0 450.3h0M1742.5 314.5h0M1665.1 355.6h0M1684.5 448.1h0M1700.2 301.8h0M1683.5 426.2h0M1659.6 416.9h0M1710.2 443.9h0M1699.8 335.0h0M1685.7 423.2h0M1705.6 478.2h0M1749.2 362.9h0M1746.0 423.5h0M1761.8 427.5h0M1685.0 330.7h0M1670.0 414.8h0M1744.3 401.7h0M1707.4 401.3h0M1722.7 493.5h0M1671.3 352.8h0M1692.7 356.2h0M1726.7 470.5h0M1727.1 490.2h0M1657.1 394.2h0M1726.3 409.0h0M1748.6 454.8h0M1706.7 432.0h0M1719.0 384.2h0M1743.0 427.6h0M1758.2 405.1h0M1727.3 358.0h0M1695.3 465.2h0M1662.5 388.2h0M1750.1 404.2h0M1695.2 437.5h0M1701.0 301.1h0M1690.9 495.2h0M1771.6 421.3h0M1722.7 425.7h0M1759.6 352.8h0M1739.6 488.9h0M1695.9 364.4h0M1664.2 384.0h0M1734.1 380.2h0M1738.4 322.2h0M1744.4 321.8h0M1725.8 399.3h0M1670.9 385.8h0M1683.3 438.6h0M1736.1 313.0h0M1711.4 379.1h0M1757.5 438.3h0M1701.7 368.9h0M1769.2 440.2h0M1718.6 406.4h0M1746.9 427.6h0M1682.8 372.1h0M1826.7 296.3h0M1774.8 317.5h0M1801.4 288.5h0M1776.1 318.9h0M1765.7 317.7h0" stroke="#e6e036" stroke-width="4.6" stroke-linecap="round" fill="none"/>
<path d="M1687.5 396.1h0M1711.4 499.2h0M1748.2 413.5h0M1762.6 443.9h0M1746.0 474.8h0M1692.5 421.1h0M1662.4 401.6h0M1751.7 323.3h0M1656.2 391.8h0M1711.9 494.0h0M1734.4 379.6h0M1680.7 315.5h0M1739.9 441.3h0M1771.0 382.0h0M1724.7 425.7h0M1727.3 440.4h0M1730.0 425.8h0M1672.9 383.9h0M1750.9 449.3h0M1725.4 401.9h0M1752.0 375.3h0M1732.9 400.0h0M1675.1 464.5h0M1670.4 448.6h0M1752.8 373.2h0M1710.8 400.7h0M1665.5 364.9h0M1699.9 377.5h0M1724.0 337.3h0M1707.4 374.8h0M1669.3 369.8h0M1762.3 391.0h0M1701.1 473.4h0M1676.4 423.2h0M1666.2 425.2h0M1657.5 366.9h0M1690.2 398.0h0M1751.5 390.7h0M1698.8 381.5h0M1678.8 433.3h0M1659.3 436.5h0M1671.6 400.7h0M1745.8 471.0h0M1659.6 374.0h0M1713.8 504.9h0M1719.6 469.0h0M1702.2 461.4h0M1684.9 333.9h0M1693.0 391.9h0M1668.3 369.1h0M1729.2 310.8h0M1687.9 399.3h0M1707.1 300.7h0M1681.9 367.1h0M1703.4 484.2h0M1663.3 418.5h0M1718.2 375.9h0M1725.8 340.2h0M1821.5 301.8h0M1802.5 313.3h0M1826.1 310.0h0M1764.1 319.2h0M1820.0 317.3h0" stroke="#e6e036" stroke-width="4.6" stroke-linecap="round" fill="none"/>
<path d="M1668.3 361.4h0M1747.0 457.2h0M1697.3 494.2h0M1728.5 403.4h0M1727.5 402.4h0M1720.7 443.3h0M1700.8 462.5h0M1738.1 489.7h0M1718.7 503.1h0M1667.4 430.7h0M1673.6 357.9h0M1697.8 427.9h0M1702.3 484.3h0M1719.5 404.2h0M1700.1 298.5h0M1685.2 490.2h0M1664.4 345.9h0M1691.1 436.3h0M1735.2 388.7h0M1739.6 327.2h0M1685.0 411.9h0M1704.4 361.8h0M1708.9 417.4h0M1705.5 469.7h0M1724.6 476.2h0M1709.6 316.9h0M1684.2 429.1h0M1674.2 347.6h0M1700.9 351.8h0M1730.7 470.7h0M1689.2 483.9h0M1764.1 397.5h0M1704.4 405.9h0M1750.5 347.9h0M1694.3 343.2h0M1682.1 389.7h0M1687.0 481.6h0M1720.2 436.6h0M1675.1 458.9h0M1740.3 445.2h0M1718.7 310.4h0M1665.2 352.2h0M1728.9 483.5h0M1727.4 360.5h0M1728.0 366.4h0M1709.7 357.6h0M1691.0 392.1h0M1742.5 332.5h0M1711.4 320.9h0M1760.7 427.9h0M1747.5 316.1h0M1757.1 452.9h0M1690.9 366.7h0M1698.7 370.6h0M1683.5 363.3h0M1710.4 359.8h0M1703.7 455.0h0M1663.6 454.4h0M1673.3 406.3h0M1788.1 295.7h0M1806.8 321.5h0M1824.3 289.2h0M1798.9 292.1h0M1812.3 309.5h0" stroke="#e6e036" stroke-width="4.6" stroke-linecap="round" fill="none"/>
<path d="M1676.2 393.6h0M1701.5 462.4h0M1678.5 426.6h0M1703.3 433.2h0M1736.2 400.2h0M1722.5 449.0h0M1736.4 413.8h0M1730.7 356.6h0M1705.7 503.8h0M1660.4 388.1h0M1697.5 441.5h0M1689.1 399.5h0M1674.5 452.7h0M1717.1 497.2h0M1720.8 357.3h0M1692.8 370.9h0M1696.6 307.6h0M1704.9 307.5h0M1674.5 417.4h0M1715.5 326.8h0M1672.9 364.3h0M1762.9 397.1h0M1673.6 458.1h0M1752.0 341.5h0M1733.4 463.1h0M1667.9 387.0h0M1701.1 310.7h0M1687.5 382.4h0M1714.9 417.6h0M1702.6 364.3h0M1701.3 418.5h0M1735.7 347.5h0M1753.7 405.1h0M1665.7 425.2h0M1666.8 389.0h0M1713.7 438.6h0M1681.9 371.4h0M1687.4 446.7h0M1677.6 343.9h0M1681.9 387.5h0M1709.7 423.5h0M1740.3 396.2h0M1676.1 416.2h0M1766.0 363.2h0M1726.4 389.5h0M1726.9 415.9h0M1717.1 368.7h0M1690.2 421.1h0M1769.3 364.1h0M1691.3 438.1h0M1688.9 372.1h0M1744.3 379.8h0M1731.1 425.5h0M1733.5 498.7h0M1692.5 411.1h0M1673.5 363.1h0M1723.4 324.2h0M1671.6 327.5h0M1779.2 306.4h0M1805.6 292.6h0M1805.8 321.4h0M1787.4 301.2h0M1831.6 316.3h0" stroke="#e6e036" stroke-width="4.6" stroke-linecap="round" fill="none"/>
<path d="M1695.7 322.4h0M1724.0 336.4h0M1683.8 447.8h0M1700.0 303.3h0M1703.8 415.3h0M1716.0 454.1h0M1664.2 394.3h0M1661.7 446.8h0M1695.2 438.5h0M1716.5 471.6h0M1687.3 314.4h0M1714.5 387.2h0M1701.2 357.5h0M1657.8 428.8h0M1732.9 460.9h0M1682.9 319.8h0M1746.2 474.3h0M1681.5 365.1h0M1698.1 455.3h0M1735.0 464.2h0M1731.1 357.4h0M1694.2 408.9h0M1739.6 444.8h0M1767.3 391.9h0M1695.3 468.8h0M1720.4 482.5h0M1693.1 360.7h0M1687.8 494.1h0M1763.8 411.4h0M1745.1 387.7h0M1657.8 414.8h0M1706.2 307.7h0M1700.2 402.1h0M1685.4 468.7h0M1745.5 351.5h0M1760.3 455.0h0M1756.5 403.2h0M1734.9 482.8h0M1719.1 427.7h0M1670.4 415.0h0M1707.7 325.1h0M1745.4 313.5h0M1679.3 444.4h0M1763.8 410.6h0M1665.1 359.9h0M1735.6 384.5h0M1720.0 471.5h0M1699.6 446.4h0M1701.5 379.4h0M1730.3 446.2h0M1734.5 430.2h0M1695.4 395.2h0M1722.5 401.6h0M1689.7 324.3h0M1719.2 319.8h0M1656.6 400.5h0M1732.2 438.2h0M1703.2 459.5h0M1779.4 330.9h0M1803.0 313.5h0M1819.8 301.5h0M1805.5 323.0h0M1819.5 315.2h0" stroke="#e6e036" stroke-width="4.6" stroke-linecap="round" fill="none"/>
<path d="M1724.7 431.6h0M1729.2 368.3h0M1726.5 437.7h0M1693.0 407.5h0M1757.8 390.4h0M1719.9 467.0h0M1704.6 429.4h0M1717.9 480.9h0M1659.9 410.8h0M1680.8 463.9h0M1703.9 324.2h0M1682.2 340.5h0M1761.6 359.1h0M1677.5 404.9h0M1718.0 373.3h0M1760.5 451.2h0M1739.3 490.2h0M1691.9 424.2h0M1672.7 400.1h0M1744.0 365.7h0M1738.3 405.2h0M1752.8 460.2h0M1664.8 387.4h0M1737.7 382.5h0M1728.5 459.9h0M1685.6 473.8h0M1699.9 371.3h0M1741.5 363.0h0M1746.4 312.3h0M1734.4 367.4h0M1762.0 397.7h0M1700.8 472.6h0M1756.8 333.1h0M1709.3 320.1h0M1693.7 349.0h0M1701.4 426.7h0M1740.2 434.7h0M1761.7 451.2h0M1746.8 313.6h0M1707.6 325.7h0M1753.0 327.1h0M1703.4 431.2h0M1760.5 434.2h0M1691.8 418.3h0M1666.6 342.4h0M1718.7 308.4h0M1730.7 322.8h0M1689.2 326.9h0M1676.1 383.9h0M1674.9 392.1h0M1707.9 472.3h0M1671.4 373.0h0M1761.2 438.1h0M1682.1 311.1h0M1733.0 379.2h0M1724.5 444.5h0M1689.8 346.1h0M1738.1 312.8h0M1804.8 317.9h0M1820.5 324.1h0M1828.3 298.6h0M1797.5 301.2h0M1802.7 296.4h0" stroke="#e6e036" stroke-width="4.6" stroke-linecap="round" fill="none"/>
<path d="M1863.8 366.4h0M1856.4 320.4h0M1918.5 360.7h0M1837.2 319.9h0M1886.7 281.8h0M1903.5 322.6h0M1939.8 220.4h0M1906.4 268.9h0M1946.7 333.1h0M1856.3 305.1h0M1889.3 327.4h0M1934.0 226.6h0M1911.2 326.0h0M1956.3 251.7h0M1834.8 260.9h0M1881.8 335.7h0M1845.2 257.5h0M1864.0 303.7h0M1954.7 278.0h0M1929.9 234.6h0M1950.5 319.2h0M1894.3 298.8h0M1856.9 245.4h0M1891.3 356.4h0M1925.0 222.9h0M1896.3 260.3h0M1918.8 207.0h0M1856.9 284.3h0M1896.5 322.0h0M1881.4 347.2h0M1860.5 354.7h0M1893.7 343.7h0M1840.9 299.2h0M1885.7 252.3h0M1939.1 281.8h0M1859.1 330.8h0M1901.7 290.9h0M1843.4 251.6h0M1952.6 255.9h0M1930.5 256.1h0M1892.7 367.2h0M1932.0 294.7h0M1894.8 310.8h0M1870.9 215.1h0M1840.4 259.0h0M1908.0 244.2h0M1849.5 250.5h0M1878.0 302.0h0M1873.2 297.8h0M1948.0 311.4h0M1898.7 299.8h0M1911.3 273.9h0M1886.3 244.9h0M1878.9 200.6h0M1921.1 235.0h0M1855.6 300.4h0M1876.0 214.2h0M1828.9 351.6h0M1821.8 334.1h0M1849.6 349.8h0M1834.7 341.4h0" stroke="#9aabdd" stroke-width="4.6" stroke-linecap="round" fill="none"/>
<path d="M1877.7 314.6h0M1935.3 331.7h0M1857.8 296.4h0M1919.5 219.5h0M1886.5 326.1h0M1889.2 247.1h0M1876.3 282.1h0M1948.8 319.7h0M1896.8 336.5h0M1933.3 349.9h0M1940.9 263.7h0M1931.2 312.9h0M1912.4 275.0h0M1858.3 319.8h0M1866.2 315.3h0M1900.6 200.6h0M1852.3 268.2h0M1899.6 286.1h0M1922.4 333.2h0M1844.4 292.5h0M1904.7 218.7h0M1859.9 243.6h0M1947.6 332.9h0M1855.2 243.1h0M1938.7 291.9h0M1889.4 285.9h0M1929.7 348.5h0M1932.6 238.7h0M1837.5 285.8h0M1916.5 369.5h0M1867.0 289.7h0M1861.1 350.9h0M1893.0 310.2h0M1923.4 198.1h0M1898.6 280.8h0M1887.1 361.5h0M1952.3 249.8h0M1894.1 263.3h0M1925.1 308.9h0M1930.5 331.7h0M1937.1 345.8h0M1872.5 201.2h0M1905.6 339.4h0M1896.1 325.8h0M1878.5 263.7h0M1913.7 330.6h0M1872.1 359.6h0M1907.6 238.6h0M1904.5 261.4h0M1906.9 208.9h0M1906.0 298.5h0M1851.9 259.4h0M1941.6 289.3h0M1900.6 193.7h0M1935.6 263.9h0M1895.2 207.3h0M1849.7 289.2h0M1829.6 354.6h0M1849.0 352.7h0M1835.5 337.1h0M1825.2 300.8h0" stroke="#9aabdd" stroke-width="4.6" stroke-linecap="round" fill="none"/>
<path d="M1639.3 208.4h0M1631.0 194.6h0M1641.1 170.2h0M1653.1 183.4h0M1649.8 176.4h0M1636.4 203.1h0M1636.5 191.9h0M1648.1 194.2h0M1652.0 186.4h0M1624.2 204.6h0M1646.3 190.1h0M1624.3 188.4h0M1649.2 187.2h0M1632.4 175.2h0M1630.9 187.3h0M1648.8 187.7h0M1625.4 188.1h0M1636.4 196.0h0M1624.5 197.9h0M1629.2 186.6h0M1642.3 190.2h0M1624.5 200.9h0M1637.2 192.6h0M1635.2 218.9h0M1639.7 213.5h0M1634.6 208.9h0M1630.1 210.7h0M1631.3 173.6h0M1633.1 210.1h0M1641.6 207.7h0M1632.7 187.2h0M1647.9 195.7h0M1640.3 192.7h0M1636.7 200.8h0M1634.6 215.4h0M1644.0 192.9h0M1628.0 203.3h0M1649.2 195.3h0M1635.2 185.7h0M1651.3 202.4h0M1645.1 209.3h0M1628.3 204.9h0M1653.1 190.0h0M1650.1 178.1h0M1636.7 203.2h0M1622.5 190.4h0M1637.5 207.7h0M1647.5 172.4h0M1644.6 168.0h0M1637.6 216.4h0M1641.0 293.2h0M1654.3 239.6h0M1624.8 294.3h0M1643.4 248.2h0M1638.8 325.2h0M1627.2 243.6h0M1642.1 309.7h0M1629.9 279.0h0M1635.6 299.4h0M1661.0 292.6h0M1635.1 244.1h0M1630.8 276.9h0M1651.0 299.5h0M1633.5 284.9h0M1647.7 304.5h0M1622.2 296.0h0M1630.4 288.9h0M1658.0 303.4h0M1648.1 245.8h0M1648.1 260.8h0" stroke="#9b30c8" stroke-width="4.6" stroke-linecap="round" fill="none"/>
<path d="M1679.6 420.9h0M1690.3 347.4h0M1739.5 384.6h0M1716.5 323.0h0M1750.1 355.2h0M1731.1 437.5h0M1731.0 437.5h0M1722.5 497.8h0M1747.1 376.9h0M1757.9 329.4h0M1728.3 340.1h0M1704.7 498.1h0M1748.8 337.8h0M1661.7 431.8h0M1766.2 449.6h0M1690.4 305.2h0M1747.9 387.5h0M1698.4 335.8h0M1737.3 403.7h0M1725.8 389.5h0M1692.4 495.3h0M1669.3 467.0h0M1731.1 437.1h0M1669.6 456.8h0M1679.1 420.8h0M1687.1 382.4h0M1729.6 438.9h0M1741.7 390.6h0M1755.9 377.0h0M1692.3 394.5h0M1756.6 358.7h0M1731.9 359.5h0M1737.2 436.2h0M1682.8 456.1h0M1757.6 362.2h0M1764.9 386.7h0M1711.6 450.7h0M1714.3 371.5h0M1723.6 444.3h0M1762.4 347.1h0M1679.8 406.7h0M1674.5 376.3h0M1730.3 459.6h0M1743.2 472.6h0M1690.3 335.4h0M1736.6 429.2h0M1719.3 490.4h0M1715.3 343.1h0M1689.2 418.5h0M1744.7 465.4h0M1698.0 493.4h0M1671.6 416.9h0M1688.3 307.1h0M1709.8 470.1h0M1718.2 410.6h0M1670.4 417.2h0M1751.0 348.9h0M1676.2 414.5h0M1828.6 313.2h0M1793.7 320.0h0M1779.0 318.9h0M1813.3 291.1h0M1776.9 303.7h0" stroke="#e6e036" stroke-width="4.6" stroke-linecap="round" fill="none"/>
<path d="M1565.4 260.6h0M1568.4 240.4h0M1564.2 262.4h0M1563.2 251.2h0M1568.0 247.6h0M1565.0 251.9h0M1576.9 262.2h0M1569.1 236.6h0M1560.8 250.1h0M1559.8 259.4h0M1572.2 251.4h0M1561.6 243.2h0M1565.8 258.1h0M1568.5 257.7h0M1575.3 232.2h0M1570.1 264.4h0M1567.6 251.6h0M1571.0 235.9h0M1585.3 248.9h0M1577.5 244.5h0M1581.6 261.3h0M1580.9 260.2h0M1577.2 264.7h0M1575.5 251.7h0M1578.6 239.7h0M1558.9 256.0h0M1573.3 241.4h0M1569.7 238.6h0M1564.8 252.4h0M1573.0 260.3h0M1571.2 257.9h0M1577.8 241.6h0M1560.4 243.4h0M1569.8 243.5h0M1584.9 244.4h0M1576.0 240.8h0M1577.3 236.3h0M1580.0 252.3h0M1568.8 236.4h0M1583.6 244.3h0M1579.1 233.1h0M1564.7 265.8h0M1584.4 250.3h0M1580.1 257.2h0M1568.9 251.7h0M1564.0 236.7h0M1573.1 259.1h0M1573.3 236.0h0M1579.3 251.2h0M1578.5 246.6h0M1569.8 262.5h0M1581.4 238.3h0M1563.6 260.6h0M1575.1 250.8h0M1564.4 261.2h0M1593.7 255.6h0M1597.3 238.0h0M1597.7 253.5h0M1603.2 258.9h0M1570.0 236.5h0M1585.5 274.5h0M1579.4 273.2h0M1607.1 267.5h0M1616.9 250.1h0M1595.3 275.2h0M1597.0 271.6h0M1588.0 277.9h0M1594.7 218.4h0M1608.6 246.2h0M1574.2 243.7h0M1585.3 274.2h0M1596.5 248.6h0M1589.7 230.1h0M1578.2 239.6h0M1586.2 225.8h0" stroke="#3a9a3a" stroke-width="4.6" stroke-linecap="round" fill="none"/>
<path d="M1894.2 349.1h0M1836.9 298.3h0M1891.0 290.7h0M1877.5 329.1h0M1929.3 329.0h0M1892.6 255.6h0M1843.7 296.5h0M1851.8 224.5h0M1908.1 228.0h0M1911.0 339.1h0M1905.9 207.2h0M1882.1 227.4h0M1872.3 197.5h0M1919.4 203.6h0M1893.3 350.7h0M1848.9 332.7h0M1876.4 192.5h0M1847.3 291.2h0M1867.2 221.5h0M1900.1 267.3h0M1889.9 304.2h0M1852.0 220.5h0M1884.7 315.1h0M1919.5 322.1h0M1950.7 251.4h0M1875.7 350.9h0M1841.9 274.3h0M1833.8 253.0h0M1880.1 206.7h0M1854.4 272.6h0M1843.9 262.5h0M1918.0 367.2h0M1873.4 295.1h0M1875.3 310.8h0M1898.7 219.9h0M1951.3 328.8h0M1882.3 325.9h0M1961.2 312.8h0M1856.7 217.4h0M1880.8 197.4h0M1848.7 294.0h0M1836.0 298.7h0M1933.2 262.3h0M1883.8 344.0h0M1865.2 365.6h0M1876.9 254.2h0M1865.3 328.1h0M1841.6 277.3h0M1956.7 251.4h0M1942.7 354.1h0M1881.1 209.2h0M1901.5 356.1h0M1869.5 250.2h0M1918.8 361.6h0M1925.7 276.6h0M1915.2 344.5h0M1845.1 287.7h0M1853.8 313.4h0M1837.0 284.7h0M1857.8 314.6h0M1860.0 336.3h0" stroke="#9aabdd" stroke-width="4.6" stroke-linecap="round" fill="none"/>
<path d="M1577.9 406.6h0M1587.4 392.5h0M1579.2 404.2h0M1608.2 391.0h0M1595.2 412.2h0M1580.4 401.5h0M1609.4 385.6h0M1583.1 391.1h0M1576.0 403.9h0M1570.3 398.3h0M1570.1 396.0h0M1588.8 417.5h0M1593.0 380.1h0M1600.9 387.9h0M1589.8 396.1h0M1598.3 375.4h0M1596.9 402.7h0M1604.4 405.2h0M1572.0 395.8h0M1583.7 394.4h0M1576.5 401.1h0M1583.4 397.0h0M1605.6 387.9h0M1594.6 389.0h0M1600.3 411.4h0M1588.5 392.8h0M1591.6 378.9h0M1573.3 403.2h0M1602.3 387.3h0M1589.4 398.5h0M1642.9 418.8h0M1646.0 420.0h0M1593.2 414.3h0M1629.9 417.6h0M1579.0 402.6h0M1654.2 411.6h0M1652.3 414.5h0M1579.0 409.8h0M1627.7 404.8h0M1596.3 414.1h0M1618.0 406.2h0M1576.8 410.1h0M1629.6 408.1h0M1593.8 359.0h0M1607.1 368.5h0M1596.5 398.5h0M1614.6 397.2h0M1604.4 348.7h0M1617.7 406.1h0M1632.4 378.4h0M1636.2 352.0h0M1612.1 400.3h0M1655.2 456.0h0M1652.0 443.9h0M1653.2 459.7h0M1657.8 468.6h0M1640.1 448.0h0M1645.1 454.5h0M1658.2 456.9h0M1646.1 450.3h0M1645.4 454.7h0M1647.3 434.3h0M1645.8 444.3h0M1664.7 454.7h0M1655.2 442.2h0M1649.4 451.3h0" stroke="#d42f1e" stroke-width="4.6" stroke-linecap="round" fill="none"/>
<path d="M1717.3 352.9h0M1684.4 414.0h0M1663.9 387.5h0M1657.3 411.6h0M1684.0 478.4h0M1738.9 471.8h0M1763.2 402.6h0M1716.9 421.0h0M1722.4 404.6h0M1728.2 470.6h0M1731.5 424.9h0M1727.9 460.6h0M1766.0 419.6h0M1693.1 494.3h0M1725.9 364.4h0M1716.1 394.6h0M1654.4 395.5h0M1672.1 443.2h0M1662.5 442.2h0M1712.2 387.8h0M1695.3 416.2h0M1672.4 333.7h0M1755.0 471.9h0M1713.2 352.2h0M1697.6 397.5h0M1679.0 393.0h0M1772.0 391.7h0M1668.0 340.5h0M1670.4 403.1h0M1682.2 400.8h0M1735.7 409.0h0M1742.0 403.6h0M1674.4 358.5h0M1757.0 433.1h0M1674.5 330.0h0M1725.0 418.2h0M1759.5 404.2h0M1712.9 356.8h0M1723.6 456.5h0M1708.9 438.9h0M1709.1 303.1h0M1737.1 396.7h0M1661.9 348.7h0M1698.9 425.5h0M1725.7 372.2h0M1725.5 496.4h0M1740.2 321.9h0M1703.3 321.3h0M1726.6 411.2h0M1694.9 336.4h0M1681.1 471.7h0M1738.3 396.4h0M1714.6 357.8h0M1750.6 419.6h0M1671.6 377.8h0M1719.2 466.7h0M1739.2 415.5h0M1697.1 334.7h0M1728.5 372.1h0M1774.6 313.7h0M1813.4 321.3h0M1777.0 303.8h0M1805.6 297.3h0M1775.0 336.0h0" stroke="#e6e036" stroke-width="4.6" stroke-linecap="round" fill="none"/>
<path d="M1947.1 284.7h0M1862.1 307.9h0M1908.2 189.9h0M1879.9 206.6h0M1934.2 269.8h0M1841.7 292.1h0M1958.9 260.7h0M1852.5 240.7h0M1954.4 304.8h0M1961.3 295.8h0M1863.1 213.2h0M1928.5 307.7h0M1884.0 239.2h0M1868.6 248.5h0M1922.9 205.7h0M1947.6 230.8h0M1898.9 306.7h0M1946.0 218.2h0M1881.0 223.2h0M1942.9 302.6h0M1872.8 206.4h0M1888.0 216.1h0M1920.9 352.2h0M1925.8 306.1h0M1879.4 327.2h0M1922.7 324.1h0M1883.3 309.3h0M1876.7 201.0h0M1883.7 273.6h0M1922.1 325.8h0M1849.0 234.5h0M1903.1 194.9h0M1853.0 266.3h0M1935.7 314.3h0M1857.7 209.9h0M1867.3 337.5h0M1838.3 254.3h0M1862.8 259.6h0M1929.7 325.2h0M1906.1 371.3h0M1888.7 283.5h0M1956.1 320.1h0M1908.9 334.7h0M1901.7 288.1h0M1875.8 349.4h0M1909.2 324.4h0M1872.9 266.7h0M1914.8 244.8h0M1881.7 274.1h0M1865.3 243.1h0M1908.5 255.6h0M1886.5 303.2h0M1854.3 316.8h0M1855.2 277.8h0M1838.6 329.7h0M1898.5 238.3h0M1851.4 278.9h0M1837.7 286.1h0M1837.7 337.5h0M1834.0 282.8h0M1820.4 310.4h0" stroke="#9aabdd" stroke-width="4.6" stroke-linecap="round" fill="none"/>
<path d="M1946.5 314.2h0M1937.9 238.2h0M1941.9 251.0h0M1945.2 300.6h0M1974.5 270.2h0M1955.8 308.5h0M1956.3 216.3h0M1942.2 219.8h0M1973.5 218.9h0M1951.4 230.3h0M1960.4 224.9h0M1964.4 203.7h0M1975.3 271.1h0M1937.5 298.0h0M1951.9 276.3h0M1971.5 215.0h0M1954.6 274.4h0M1969.6 241.5h0M1979.4 258.8h0M1955.3 199.9h0M1963.0 210.8h0M1955.1 317.7h0M1956.1 266.7h0M1973.9 293.4h0M1968.8 232.4h0M1974.1 277.7h0M1972.5 219.0h0M1954.8 252.3h0M1950.5 205.0h0M1945.5 203.7h0M1942.7 243.2h0M1948.2 261.0h0M1941.9 214.0h0M1956.4 317.4h0M1977.5 266.6h0M1945.8 228.3h0M1943.5 211.9h0M1943.8 197.7h0M1935.0 223.7h0M1935.2 253.6h0M1949.6 240.6h0M1942.7 283.6h0M1949.2 219.7h0M1941.7 205.7h0M1953.9 314.2h0M1949.1 238.0h0M1970.5 250.7h0M1940.8 269.7h0M1944.1 219.0h0M1948.9 293.5h0M1947.9 287.2h0M1937.3 268.4h0M1954.7 253.1h0M1973.5 224.2h0M1946.4 243.1h0M1949.8 239.0h0M1953.9 212.4h0M1965.0 205.5h0M1938.7 279.5h0M1939.6 211.8h0M1959.4 259.8h0M1961.2 301.9h0M1968.8 243.6h0M1949.2 294.8h0M1943.7 243.3h0M1950.7 317.2h0M1954.2 197.8h0M1962.7 208.6h0M1967.9 202.1h0M1948.1 284.0h0M1968.6 301.5h0M1945.7 271.5h0M1977.8 261.9h0M1969.0 202.9h0M1975.0 250.0h0M1930.5 266.6h0M1942.9 269.9h0" stroke="#e8782a" stroke-width="4.6" stroke-linecap="round" fill="none"/>
<path d="M1672.5 511.5h0M1686.3 516.5h0M1722.0 550.6h0M1704.5 504.9h0M1686.3 542.7h0M1693.1 498.2h0M1696.5 580.6h0M1721.8 560.6h0M1682.9 596.8h0M1694.2 569.6h0M1694.3 589.3h0M1696.0 530.3h0M1689.7 524.0h0M1714.0 580.7h0M1687.1 578.2h0M1688.5 543.4h0M1699.6 535.9h0M1703.0 494.2h0M1678.2 530.6h0M1716.5 545.9h0M1692.4 524.9h0M1707.5 504.0h0M1703.3 529.7h0M1723.2 552.2h0M1704.7 563.5h0M1690.8 561.4h0M1678.0 519.0h0M1687.6 549.2h0M1699.0 517.9h0M1669.5 542.0h0M1718.7 540.0h0M1720.5 570.5h0M1701.3 501.0h0M1670.0 511.2h0M1720.0 557.6h0M1694.3 564.8h0M1697.4 586.2h0M1669.1 583.8h0M1683.0 550.7h0M1690.8 564.7h0M1685.7 511.8h0M1680.5 532.2h0M1699.2 599.7h0M1717.4 551.4h0M1682.1 532.5h0M1687.9 553.4h0M1705.1 541.2h0M1686.9 554.2h0M1681.7 574.4h0M1696.4 524.3h0M1664.7 558.1h0M1707.6 578.4h0M1686.7 589.2h0M1720.5 518.6h0M1715.0 560.4h0M1668.9 576.4h0M1673.1 535.1h0M1687.2 531.2h0M1673.9 517.4h0M1667.0 543.8h0M1697.7 523.3h0M1705.8 585.2h0M1696.0 596.5h0M1675.6 539.6h0M1686.6 494.0h0" stroke="#d4a660" stroke-width="4.6" stroke-linecap="round" fill="none"/>
<path d="M1871.2 246.8h0M1918.1 240.2h0M1830.6 294.8h0M1939.2 353.8h0M1862.6 275.8h0M1901.7 291.1h0M1933.4 315.3h0M1936.5 323.4h0M1909.3 282.0h0M1908.5 278.2h0M1915.4 274.5h0M1835.6 289.8h0M1840.6 326.7h0M1911.5 370.1h0M1905.6 354.4h0M1889.9 316.8h0M1901.8 299.6h0M1938.5 274.9h0M1917.7 355.2h0M1910.9 190.6h0M1863.5 316.6h0M1934.2 276.1h0M1931.2 325.3h0M1902.3 320.5h0M1839.6 330.4h0M1864.1 296.6h0M1910.3 249.0h0M1875.8 197.7h0M1908.0 205.7h0M1884.2 309.8h0M1853.8 280.2h0M1926.2 353.8h0M1834.8 280.4h0M1867.6 242.9h0M1846.3 241.9h0M1901.9 338.3h0M1913.4 294.0h0M1907.8 342.5h0M1922.6 321.4h0M1947.0 337.3h0M1947.0 293.6h0M1907.2 201.4h0M1886.9 313.8h0M1889.2 218.1h0M1912.3 240.5h0M1912.8 193.0h0M1963.7 285.4h0M1845.4 279.5h0M1887.3 317.2h0M1921.6 295.9h0M1917.9 342.2h0M1929.2 210.8h0M1898.7 243.4h0M1839.1 312.4h0M1935.4 210.2h0M1865.6 203.8h0M1848.8 301.9h0M1850.3 284.9h0M1822.8 322.3h0M1825.5 334.1h0M1859.0 317.6h0" stroke="#9aabdd" stroke-width="4.6" stroke-linecap="round" fill="none"/>
<path d="M1683.6 494.9h0M1693.5 510.5h0M1718.3 583.6h0M1685.4 514.8h0M1702.3 592.1h0M1678.4 567.3h0M1709.3 545.3h0M1704.3 500.8h0M1704.4 569.9h0M1685.1 550.4h0M1684.2 599.5h0M1724.5 558.3h0M1721.0 557.3h0M1710.3 515.8h0M1688.3 536.9h0M1709.1 557.8h0M1707.7 591.6h0M1704.6 507.3h0M1671.5 585.2h0M1691.1 514.1h0M1678.2 575.4h0M1715.4 552.7h0M1707.2 561.5h0M1685.8 579.6h0M1704.4 574.8h0M1713.3 561.6h0M1669.6 585.8h0M1705.3 519.4h0M1711.3 538.1h0M1667.5 520.2h0M1702.2 570.4h0M1725.2 544.2h0M1673.6 513.2h0M1711.8 540.0h0M1681.6 590.6h0M1686.4 492.7h0M1707.0 573.5h0M1726.4 547.9h0M1695.1 514.4h0M1667.1 569.0h0M1660.9 549.3h0M1666.8 513.9h0M1722.0 558.6h0M1718.5 558.0h0M1701.9 569.1h0M1712.7 576.3h0M1688.6 581.4h0M1664.2 519.9h0M1693.0 575.6h0M1706.9 499.2h0M1709.7 503.0h0M1675.5 585.5h0M1701.7 602.5h0M1707.5 528.1h0M1717.0 574.0h0M1710.9 539.8h0M1680.2 552.1h0M1702.5 516.0h0M1671.4 549.2h0M1687.1 491.5h0M1682.9 500.8h0M1698.4 537.6h0M1721.9 571.8h0M1675.5 541.7h0M1678.6 564.7h0" stroke="#d4a660" stroke-width="4.6" stroke-linecap="round" fill="none"/>
<path d="M1945.3 297.5h0M1958.2 261.5h0M1954.2 218.0h0M1948.6 198.1h0M1943.1 295.1h0M1969.3 242.2h0M1952.7 307.2h0M1969.6 248.6h0M1964.7 265.0h0M1960.8 196.5h0M1963.5 244.8h0M1937.0 245.6h0M1971.2 242.9h0M1958.9 299.2h0M1951.7 233.6h0M1931.4 252.6h0M1960.8 268.4h0M1939.8 300.6h0M1935.9 285.1h0M1952.5 236.8h0M1946.5 233.8h0M1935.0 285.5h0M1961.1 274.8h0M1943.1 219.9h0M1931.0 253.9h0M1964.5 278.4h0M1946.6 255.1h0M1979.3 250.0h0M1971.7 256.1h0M1950.5 277.9h0M1957.7 250.8h0M1945.0 277.4h0M1950.4 261.9h0M1966.1 311.7h0M1965.4 234.4h0M1935.2 265.4h0M1971.4 256.0h0M1959.6 294.1h0M1947.0 223.4h0M1957.0 223.2h0M1947.5 251.8h0M1941.7 220.8h0M1974.4 273.2h0M1971.2 271.5h0M1937.2 268.3h0M1948.2 283.5h0M1959.1 249.6h0M1945.1 230.0h0M1933.4 269.5h0M1970.2 269.4h0M1957.5 286.9h0M1944.7 312.6h0M1976.5 253.3h0M1959.2 206.7h0M1972.0 271.5h0M1972.0 212.6h0M1959.0 245.4h0M1957.7 307.3h0M1941.9 241.5h0M1957.6 304.4h0M1954.6 231.2h0M1943.3 260.0h0M1958.2 204.4h0M1962.5 260.8h0M1939.6 248.3h0M1946.4 260.7h0M1970.9 233.2h0M1972.0 220.4h0M1937.8 298.5h0M1949.9 307.2h0M1958.8 280.0h0M1966.8 217.5h0M1957.1 253.0h0M1974.4 220.4h0M1964.2 231.9h0M1950.3 212.7h0" stroke="#e8782a" stroke-width="4.6" stroke-linecap="round" fill="none"/>
<path d="M1638.6 169.1h0M1634.6 218.5h0M1636.8 191.8h0M1633.9 219.4h0M1633.3 177.4h0M1628.9 184.2h0M1649.2 192.3h0M1628.1 176.5h0M1652.2 178.8h0M1640.7 202.5h0M1647.1 191.4h0M1641.9 177.2h0M1629.9 211.1h0M1635.0 174.5h0M1635.3 206.1h0M1627.2 185.5h0M1633.0 200.6h0M1626.2 202.2h0M1623.4 202.2h0M1636.8 173.6h0M1636.9 219.8h0M1640.4 162.0h0M1635.4 213.9h0M1628.2 181.6h0M1647.9 198.3h0M1625.9 174.9h0M1621.2 198.2h0M1623.4 192.2h0M1652.0 186.7h0M1627.4 199.4h0M1629.4 170.1h0M1632.3 174.6h0M1620.7 189.7h0M1628.1 170.4h0M1638.3 173.0h0M1647.8 175.2h0M1653.1 195.5h0M1649.9 180.8h0M1632.3 211.7h0M1632.6 177.6h0M1638.7 219.2h0M1632.8 206.2h0M1623.5 192.6h0M1634.9 207.7h0M1649.6 208.7h0M1632.8 173.3h0M1628.6 209.7h0M1650.5 180.2h0M1638.6 210.9h0M1631.5 174.3h0M1643.9 231.7h0M1653.4 229.5h0M1644.4 262.8h0M1636.1 300.1h0M1653.5 325.2h0M1639.5 244.7h0M1651.6 232.6h0M1639.6 237.4h0M1665.4 293.5h0M1655.1 262.7h0M1645.1 325.2h0M1660.8 255.8h0M1657.2 255.1h0M1651.0 239.8h0M1640.1 251.4h0M1633.5 303.0h0M1646.5 301.2h0M1653.6 317.8h0M1640.0 290.4h0M1667.7 272.1h0" stroke="#9b30c8" stroke-width="4.6" stroke-linecap="round" fill="none"/>
<path d="M1940.4 260.0h0M1937.4 281.7h0M1954.3 252.6h0M1964.5 262.8h0M1972.9 241.6h0M1962.2 291.5h0M1935.1 253.8h0M1948.5 297.6h0M1958.5 295.4h0M1957.0 312.2h0M1960.9 219.8h0M1944.2 277.2h0M1950.0 303.1h0M1936.4 266.2h0M1947.2 202.6h0M1956.6 247.0h0M1958.7 202.6h0M1945.5 206.5h0M1961.4 192.8h0M1959.8 301.2h0M1960.0 247.2h0M1960.3 200.0h0M1956.7 294.5h0M1937.7 250.2h0M1952.6 296.5h0M1936.4 290.6h0M1975.2 286.2h0M1931.5 247.2h0M1951.8 249.9h0M1961.2 256.8h0M1953.2 285.7h0M1957.5 306.0h0M1958.7 224.6h0M1947.0 250.3h0M1957.4 264.7h0M1946.8 286.4h0M1953.6 278.5h0M1965.9 213.8h0M1969.2 304.4h0M1951.8 222.2h0M1955.5 207.1h0M1939.8 212.8h0M1977.8 247.4h0M1958.4 308.8h0M1947.1 287.1h0M1968.8 287.7h0M1948.3 249.1h0M1955.1 193.4h0M1955.6 317.1h0M1954.1 220.6h0M1970.3 290.1h0M1958.0 315.7h0M1946.6 239.4h0M1958.7 296.5h0M1961.6 304.6h0M1967.4 236.5h0M1948.4 307.3h0M1953.0 276.6h0M1936.2 251.5h0M1948.2 274.5h0M1946.8 272.6h0M1951.5 300.5h0M1946.3 208.2h0M1950.7 249.6h0M1958.7 235.6h0M1953.3 298.7h0M1954.5 228.7h0M1954.6 197.2h0M1943.8 281.6h0M1960.7 202.8h0M1943.5 262.1h0M1949.3 252.0h0M1937.9 256.8h0M1934.6 232.1h0M1970.1 306.7h0M1947.5 263.9h0M1950.4 282.5h0" stroke="#e8782a" stroke-width="4.6" stroke-linecap="round" fill="none"/>
<circle cx="2005.6" cy="526.1" r="4.45" fill="#e6e036"/>
<text x="2018.5" y="531.5" font-size="20.2" text-anchor="start" fill="#111">W0</text>
<circle cx="2005.6" cy="542.2" r="4.45" fill="#9aabdd"/>
<text x="2018.5" y="547.6" font-size="20.2" text-anchor="start" fill="#111">W1</text>
<circle cx="2005.6" cy="558.2" r="4.45" fill="#d4a660"/>
<text x="2018.5" y="563.6" font-size="20.2" text-anchor="start" fill="#111">W2</text>
<circle cx="2005.6" cy="574.3" r="4.45" fill="#d42f1e"/>
<text x="2018.5" y="579.7" font-size="20.2" text-anchor="start" fill="#111">W3</text>
<circle cx="2005.6" cy="590.4" r="4.45" fill="#e8782a"/>
<text x="2018.5" y="595.8" font-size="20.2" text-anchor="start" fill="#111">W4</text>
<circle cx="2005.6" cy="606.5" r="4.45" fill="#9b30c8"/>
<text x="2018.5" y="611.9" font-size="20.2" text-anchor="start" fill="#111">W5</text>
<circle cx="2005.6" cy="622.5" r="4.45" fill="#3a9a3a"/>
<text x="2018.5" y="627.9" font-size="20.2" text-anchor="start" fill="#111">W6</text>
<path d="M137.5 2570.3C147.9 2570.3 186.3 2570.4 200.0 2570.3C213.7 2570.2 214.1 2570.5 219.9 2570.0C225.7 2569.5 229.9 2568.6 234.9 2567.3C239.9 2566.1 244.9 2563.1 249.9 2562.5C254.9 2561.9 259.9 2564.7 264.9 2563.6C269.9 2562.5 274.2 2558.3 279.8 2556.1C285.4 2553.9 293.6 2553.0 298.6 2550.5C303.6 2548.0 305.4 2546.4 309.8 2541.1C314.2 2535.8 319.8 2527.3 324.8 2518.6C329.8 2509.9 334.8 2497.4 339.8 2488.7C344.8 2480.0 349.8 2473.7 354.8 2466.2C359.8 2458.7 365.3 2451.7 369.8 2443.7C374.3 2435.7 378.8 2428.2 381.8 2418.0C384.8 2407.8 385.3 2397.6 387.7 2382.3C390.1 2367.0 393.1 2344.7 396.0 2326.0C398.9 2307.3 402.3 2288.6 405.4 2269.9C408.5 2251.2 412.0 2229.3 414.7 2213.7C417.4 2198.1 419.6 2186.2 421.5 2176.2C423.4 2166.2 424.3 2158.7 426.0 2153.7C427.7 2148.7 429.4 2145.4 431.6 2146.0C433.8 2146.6 436.2 2149.3 439.0 2157.5C441.8 2165.7 445.6 2182.5 448.4 2195.0C451.2 2207.5 453.8 2219.9 456.0 2232.4C458.2 2244.9 459.4 2257.4 461.6 2269.9C463.8 2282.4 466.8 2294.8 469.0 2307.3C471.2 2319.8 473.0 2332.3 474.7 2344.8C476.4 2357.3 477.8 2369.8 479.2 2382.3C480.6 2394.8 481.6 2408.8 483.0 2419.7C484.4 2430.6 486.1 2439.0 487.5 2448.0C488.9 2457.0 490.0 2463.2 491.6 2473.7C493.2 2484.2 495.0 2501.1 497.2 2511.1C499.4 2521.1 502.2 2528.3 504.7 2533.6C507.2 2538.9 508.5 2539.9 512.2 2543.0C516.0 2546.1 522.8 2549.7 527.2 2552.4C531.6 2555.1 534.0 2557.7 538.4 2559.1C542.8 2560.5 548.4 2559.6 553.4 2561.0C558.4 2562.4 564.0 2565.8 568.4 2567.3C572.8 2568.8 574.3 2569.6 579.6 2570.1C584.9 2570.6 578.1 2570.3 600.0 2570.3C621.9 2570.3 692.2 2570.3 710.7 2570.3L710.7 2570.3L137.5 2570.3Z" fill="#f6d6d9" stroke="none"/>
<path d="M137.5 2570.3C147.9 2570.3 186.3 2570.4 200.0 2570.3C213.7 2570.2 214.1 2570.5 219.9 2570.0C225.7 2569.5 229.9 2568.6 234.9 2567.3C239.9 2566.1 244.9 2563.1 249.9 2562.5C254.9 2561.9 259.9 2564.7 264.9 2563.6C269.9 2562.5 274.2 2558.3 279.8 2556.1C285.4 2553.9 293.6 2553.0 298.6 2550.5C303.6 2548.0 305.4 2546.4 309.8 2541.1C314.2 2535.8 319.8 2527.3 324.8 2518.6C329.8 2509.9 334.8 2497.4 339.8 2488.7C344.8 2480.0 349.8 2473.7 354.8 2466.2C359.8 2458.7 365.3 2451.7 369.8 2443.7C374.3 2435.7 378.8 2428.2 381.8 2418.0C384.8 2407.8 385.3 2397.6 387.7 2382.3C390.1 2367.0 393.1 2344.7 396.0 2326.0C398.9 2307.3 402.3 2288.6 405.4 2269.9C408.5 2251.2 412.0 2229.3 414.7 2213.7C417.4 2198.1 419.6 2186.2 421.5 2176.2C423.4 2166.2 424.3 2158.7 426.0 2153.7C427.7 2148.7 429.4 2145.4 431.6 2146.0C433.8 2146.6 436.2 2149.3 439.0 2157.5C441.8 2165.7 445.6 2182.5 448.4 2195.0C451.2 2207.5 453.8 2219.9 456.0 2232.4C458.2 2244.9 459.4 2257.4 461.6 2269.9C463.8 2282.4 466.8 2294.8 469.0 2307.3C471.2 2319.8 473.0 2332.3 474.7 2344.8C476.4 2357.3 477.8 2369.8 479.2 2382.3C480.6 2394.8 481.6 2408.8 483.0 2419.7C484.4 2430.6 486.1 2439.0 487.5 2448.0C488.9 2457.0 490.0 2463.2 491.6 2473.7C493.2 2484.2 495.0 2501.1 497.2 2511.1C499.4 2521.1 502.2 2528.3 504.7 2533.6C507.2 2538.9 508.5 2539.9 512.2 2543.0C516.0 2546.1 522.8 2549.7 527.2 2552.4C531.6 2555.1 534.0 2557.7 538.4 2559.1C542.8 2560.5 548.4 2559.6 553.4 2561.0C558.4 2562.4 564.0 2565.8 568.4 2567.3C572.8 2568.8 574.3 2569.6 579.6 2570.1C584.9 2570.6 578.1 2570.3 600.0 2570.3C621.9 2570.3 692.2 2570.3 710.7 2570.3" fill="none" stroke="#111" stroke-width="2.7" stroke-linejoin="round"/>
<path d="M137.5 2569.6C140.6 2569.0 150.0 2567.9 156.2 2566.2C162.4 2564.4 168.0 2561.5 174.9 2559.1C181.8 2556.7 189.9 2554.7 197.4 2551.6C204.9 2548.5 214.3 2543.0 219.9 2540.4C225.5 2537.8 226.1 2537.8 231.1 2536.2C236.1 2534.6 243.0 2533.4 249.9 2531.0C256.8 2528.6 266.1 2524.4 272.3 2521.6C278.5 2518.8 281.1 2518.3 287.3 2514.1C293.6 2509.9 303.6 2501.8 309.8 2496.2C316.1 2490.6 319.8 2486.5 324.8 2480.4C329.8 2474.3 334.2 2466.5 339.8 2459.8C345.4 2453.1 353.5 2446.1 358.5 2440.0C363.5 2433.9 366.1 2429.7 369.8 2423.1C373.6 2416.5 375.9 2409.6 381.0 2400.6C386.1 2391.6 394.3 2376.7 400.5 2369.3C406.7 2361.9 412.0 2359.7 418.3 2356.0C424.6 2352.3 432.4 2347.4 438.4 2347.0C444.3 2346.6 449.2 2350.0 454.0 2353.7C458.8 2357.4 462.6 2358.1 467.3 2369.3C472.0 2380.6 477.9 2408.5 482.2 2421.2C486.5 2433.9 488.4 2435.6 493.4 2445.6C498.4 2455.6 506.0 2470.6 512.2 2481.2C518.5 2491.8 524.7 2500.6 530.9 2509.3C537.1 2518.0 543.4 2526.7 549.6 2533.6C555.9 2540.5 562.1 2546.8 568.4 2550.5C574.6 2554.2 577.8 2554.0 587.1 2556.1C596.5 2558.2 612.0 2560.7 624.5 2562.8C637.0 2564.9 647.6 2567.2 662.0 2568.5C676.4 2569.8 702.6 2570.0 710.7 2570.3L710.7 2570.3L137.5 2570.3Z" fill="rgb(155,228,213)" fill-opacity="0.55" stroke="none"/>
<path d="M137.5 2569.6C140.6 2569.0 150.0 2567.9 156.2 2566.2C162.4 2564.4 168.0 2561.5 174.9 2559.1C181.8 2556.7 189.9 2554.7 197.4 2551.6C204.9 2548.5 214.3 2543.0 219.9 2540.4C225.5 2537.8 226.1 2537.8 231.1 2536.2C236.1 2534.6 243.0 2533.4 249.9 2531.0C256.8 2528.6 266.1 2524.4 272.3 2521.6C278.5 2518.8 281.1 2518.3 287.3 2514.1C293.6 2509.9 303.6 2501.8 309.8 2496.2C316.1 2490.6 319.8 2486.5 324.8 2480.4C329.8 2474.3 334.2 2466.5 339.8 2459.8C345.4 2453.1 353.5 2446.1 358.5 2440.0C363.5 2433.9 366.1 2429.7 369.8 2423.1C373.6 2416.5 375.9 2409.6 381.0 2400.6C386.1 2391.6 394.3 2376.7 400.5 2369.3C406.7 2361.9 412.0 2359.7 418.3 2356.0C424.6 2352.3 432.4 2347.4 438.4 2347.0C444.3 2346.6 449.2 2350.0 454.0 2353.7C458.8 2357.4 462.6 2358.1 467.3 2369.3C472.0 2380.6 477.9 2408.5 482.2 2421.2C486.5 2433.9 488.4 2435.6 493.4 2445.6C498.4 2455.6 506.0 2470.6 512.2 2481.2C518.5 2491.8 524.7 2500.6 530.9 2509.3C537.1 2518.0 543.4 2526.7 549.6 2533.6C555.9 2540.5 562.1 2546.8 568.4 2550.5C574.6 2554.2 577.8 2554.0 587.1 2556.1C596.5 2558.2 612.0 2560.7 624.5 2562.8C637.0 2564.9 647.6 2567.2 662.0 2568.5C676.4 2569.8 702.6 2570.0 710.7 2570.3" fill="none" stroke="#111" stroke-width="2.7" stroke-linejoin="round"/>
<path d="M137.5 2570.3H710.7" stroke="#111" stroke-width="2.7"/>
<path d="M441 2125.4V2590.8" stroke="#111" stroke-width="2.5" stroke-dasharray="11.5 12.5"/>
<rect x="109.4" y="2125.4" width="630.2" height="465.4000000000001" fill="none" stroke="#333" stroke-width="1.4"/>
<path d="M263.7 2590.8v6.5M441 2590.8v6.5M618.9 2590.8v6.5" stroke="#333" stroke-width="1.6"/>
<text transform="translate(255.5 2623.8) scale(1.08 1)" font-size="31.5" text-anchor="middle" fill="#4d4d4d">−0.5</text>
<text transform="translate(444.4 2623.8) scale(1.08 1)" font-size="31.5" text-anchor="middle" fill="#4d4d4d">0.0</text>
<text transform="translate(620.5 2623.8) scale(1.08 1)" font-size="31.5" text-anchor="middle" fill="#4d4d4d">0.5</text>
<text x="422" y="2669.7" font-size="39.2" text-anchor="middle" fill="#111">correlation of gene expression</text>
<text x="406.9" y="2701.5" font-size="39.2" text-anchor="middle" fill="#111">with methylation</text>
<text x="0" y="0" font-size="39.2" text-anchor="middle" fill="#111" transform="translate(92.2 2344.7) rotate(-90)">density</text>
<rect x="589.4" y="2170.8" width="44" height="44" fill="#f7d8da" stroke="#111" stroke-width="2.8"/>
<rect x="589.4" y="2219.5" width="44" height="44" fill="#c8f0e8" stroke="#111" stroke-width="2.8"/>
<text x="650.0" y="2201.7" font-size="33" text-anchor="start" fill="#111">mCA</text>
<text x="650.0" y="2249.9" font-size="33" text-anchor="start" fill="#111">mCG</text>
</svg>
</body></html>
